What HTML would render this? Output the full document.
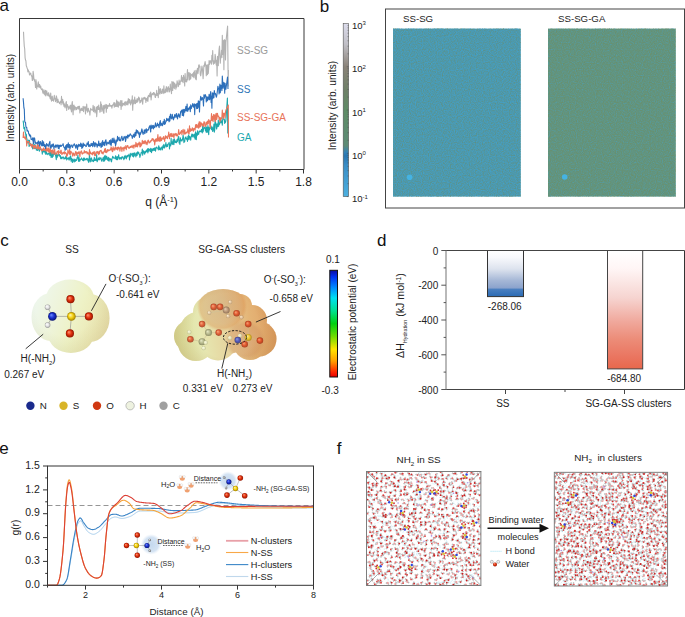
<!DOCTYPE html>
<html><head><meta charset="utf-8"><style>
html,body{margin:0;padding:0;background:#fff;}
svg{display:block;}
</style></head><body>
<svg width="685" height="617" viewBox="0 0 685 617" font-family="'Liberation Sans', sans-serif">
<text x="-0.6" y="10.8" font-size="17" fill="#111" text-anchor="start" >a</text>
<path d="M23.50,31.70 L23.90,40.30 L24.30,46.51 L24.70,48.75 L25.10,57.83 L25.50,59.98 L25.90,60.77 L26.30,65.70 L26.70,66.72 L27.10,68.11 L27.50,69.01 L27.90,71.94 L28.30,69.92 L28.70,71.95 L29.10,71.65 L29.50,75.00 L29.90,74.08 L30.30,73.76 L30.70,73.02 L31.10,74.92 L31.50,76.15 L31.90,75.94 L32.30,80.56 L32.70,80.37 L33.10,71.30 L33.50,74.04 L33.90,79.10 L34.30,79.05 L34.70,81.31 L35.10,81.92 L35.50,87.46 L35.90,79.66 L36.30,82.17 L36.70,89.06 L37.10,86.03 L37.50,86.67 L37.90,84.21 L38.30,81.87 L38.70,87.04 L39.10,87.28 L39.50,84.21 L39.90,86.02 L40.30,88.01 L40.70,86.14 L41.10,88.74 L41.50,89.65 L41.90,89.89 L42.30,88.88 L42.70,92.14 L43.10,93.32 L43.50,92.23 L43.90,89.67 L44.30,94.10 L44.70,91.21 L45.10,95.12 L45.50,90.37 L45.90,95.85 L46.30,93.74 L46.70,90.86 L47.10,93.61 L47.50,94.88 L47.90,95.77 L48.30,92.82 L48.70,92.82 L49.10,96.53 L49.50,95.12 L49.90,97.26 L50.30,98.94 L50.70,93.00 L51.10,98.26 L51.50,101.10 L51.90,97.36 L52.30,96.19 L52.70,100.43 L53.10,99.31 L53.50,101.15 L53.90,98.09 L54.30,95.31 L54.70,99.05 L55.10,98.35 L55.50,101.70 L55.90,100.36 L56.30,95.79 L56.70,97.09 L57.10,102.67 L57.50,102.31 L57.90,99.05 L58.30,100.89 L58.70,102.22 L59.10,102.45 L59.50,103.69 L59.90,102.25 L60.30,101.51 L60.70,101.25 L61.10,104.84 L61.50,96.42 L61.90,102.11 L62.30,102.84 L62.70,99.32 L63.10,104.17 L63.50,101.89 L63.90,106.11 L64.30,103.82 L64.70,106.17 L65.10,107.87 L65.50,105.98 L65.90,102.99 L66.30,101.61 L66.70,110.38 L67.10,105.81 L67.50,104.59 L67.90,107.04 L68.30,106.44 L68.70,109.44 L69.10,107.59 L69.50,107.60 L69.90,105.78 L70.30,108.92 L70.70,105.08 L71.10,109.57 L71.50,111.87 L71.90,104.01 L72.30,101.63 L72.70,109.71 L73.10,114.80 L73.50,105.64 L73.90,105.06 L74.30,109.91 L74.70,106.26 L75.10,107.20 L75.50,107.67 L75.90,110.03 L76.30,107.66 L76.70,109.50 L77.10,108.39 L77.50,106.72 L77.90,108.15 L78.30,106.55 L78.70,109.08 L79.10,106.17 L79.50,106.28 L79.90,112.95 L80.30,109.05 L80.70,109.08 L81.10,110.59 L81.50,108.20 L81.90,108.73 L82.30,110.46 L82.70,110.13 L83.10,106.41 L83.50,111.63 L83.90,107.96 L84.30,106.78 L84.70,107.22 L85.10,108.58 L85.50,113.86 L85.90,106.60 L86.30,110.11 L86.70,104.17 L87.10,109.75 L87.50,112.13 L87.90,109.21 L88.30,108.22 L88.70,110.49 L89.10,111.75 L89.50,111.68 L89.90,115.12 L90.30,110.51 L90.70,108.39 L91.10,109.56 L91.50,109.66 L91.90,110.09 L92.30,109.69 L92.70,110.18 L93.10,105.35 L93.50,111.81 L93.90,108.12 L94.30,106.52 L94.70,111.19 L95.10,112.92 L95.50,110.73 L95.90,109.83 L96.30,106.95 L96.70,116.80 L97.10,111.58 L97.50,106.29 L97.90,107.18 L98.30,109.40 L98.70,105.09 L99.10,109.53 L99.50,107.86 L99.90,112.20 L100.30,111.43 L100.70,101.78 L101.10,108.83 L101.50,104.42 L101.90,111.41 L102.30,108.86 L102.70,109.75 L103.10,105.46 L103.50,112.88 L103.90,113.28 L104.30,105.16 L104.70,108.79 L105.10,105.97 L105.50,107.56 L105.90,104.23 L106.30,112.28 L106.70,104.81 L107.10,106.46 L107.50,108.43 L107.90,105.34 L108.30,106.30 L108.70,105.36 L109.10,106.38 L109.50,103.58 L109.90,105.39 L110.30,105.91 L110.70,105.52 L111.10,106.46 L111.50,105.49 L111.90,108.14 L112.30,105.28 L112.70,105.69 L113.10,104.25 L113.50,104.55 L113.90,102.56 L114.30,107.13 L114.70,102.75 L115.10,103.71 L115.50,106.52 L115.90,106.56 L116.30,104.41 L116.70,100.13 L117.10,106.41 L117.50,105.92 L117.90,101.51 L118.30,107.12 L118.70,103.23 L119.10,102.06 L119.50,105.17 L119.90,104.39 L120.30,105.31 L120.70,100.54 L121.10,109.36 L121.50,103.02 L121.90,100.51 L122.30,106.06 L122.70,103.46 L123.10,105.16 L123.50,103.37 L123.90,104.03 L124.30,104.76 L124.70,102.11 L125.10,105.74 L125.50,102.65 L125.90,101.51 L126.30,103.88 L126.70,104.73 L127.10,102.88 L127.50,101.13 L127.90,104.89 L128.30,98.60 L128.70,100.39 L129.10,103.08 L129.50,99.34 L129.90,102.85 L130.30,102.53 L130.70,104.91 L131.10,100.10 L131.50,100.75 L131.90,103.14 L132.30,95.79 L132.70,110.14 L133.10,100.16 L133.50,99.98 L133.90,104.01 L134.30,101.57 L134.70,96.95 L135.10,103.11 L135.50,103.60 L135.90,100.11 L136.30,100.44 L136.70,102.34 L137.10,98.61 L137.50,102.01 L137.90,101.29 L138.30,98.92 L138.70,96.96 L139.10,99.89 L139.50,98.10 L139.90,102.88 L140.30,100.55 L140.70,102.11 L141.10,100.33 L141.50,100.56 L141.90,97.74 L142.30,101.41 L142.70,104.22 L143.10,98.67 L143.50,97.83 L143.90,98.86 L144.30,97.92 L144.70,97.25 L145.10,99.32 L145.50,98.02 L145.90,102.35 L146.30,98.43 L146.70,99.09 L147.10,100.55 L147.50,97.12 L147.90,101.46 L148.30,95.90 L148.70,95.27 L149.10,96.24 L149.50,96.72 L149.90,93.20 L150.30,96.58 L150.70,92.13 L151.10,99.97 L151.50,95.93 L151.90,94.27 L152.30,93.38 L152.70,94.59 L153.10,94.84 L153.50,92.46 L153.90,92.61 L154.30,94.40 L154.70,93.32 L155.10,97.11 L155.50,97.48 L155.90,94.25 L156.30,95.33 L156.70,90.18 L157.10,95.44 L157.50,93.42 L157.90,94.67 L158.30,97.61 L158.70,86.60 L159.10,93.53 L159.50,89.53 L159.90,94.12 L160.30,88.55 L160.70,90.68 L161.10,92.49 L161.50,93.49 L161.90,91.78 L162.30,89.11 L162.70,89.61 L163.10,93.60 L163.50,90.84 L163.90,85.78 L164.30,92.97 L164.70,91.55 L165.10,92.72 L165.50,88.99 L165.90,92.25 L166.30,86.48 L166.70,91.15 L167.10,87.81 L167.50,91.12 L167.90,91.94 L168.30,86.53 L168.70,88.42 L169.10,88.51 L169.50,91.84 L169.90,90.21 L170.30,84.09 L170.70,88.98 L171.10,89.63 L171.50,93.65 L171.90,81.67 L172.30,84.96 L172.70,90.53 L173.10,81.91 L173.50,82.15 L173.90,87.28 L174.30,88.62 L174.70,83.07 L175.10,86.65 L175.50,85.07 L175.90,89.29 L176.30,84.22 L176.70,87.15 L177.10,80.84 L177.50,82.90 L177.90,82.95 L178.30,86.71 L178.70,84.66 L179.10,80.09 L179.50,84.53 L179.90,84.58 L180.30,81.45 L180.70,80.73 L181.10,80.70 L181.50,75.49 L181.90,81.49 L182.30,81.40 L182.70,77.49 L183.10,82.62 L183.50,75.30 L183.90,77.80 L184.30,77.82 L184.70,85.90 L185.10,73.52 L185.50,80.61 L185.90,81.67 L186.30,79.51 L186.70,82.03 L187.10,74.30 L187.50,69.65 L187.90,79.91 L188.30,72.88 L188.70,75.65 L189.10,72.44 L189.50,79.97 L189.90,79.09 L190.30,73.27 L190.70,78.83 L191.10,75.78 L191.50,74.58 L191.90,75.08 L192.30,73.85 L192.70,76.76 L193.10,75.36 L193.50,72.51 L193.90,77.72 L194.30,70.92 L194.70,74.37 L195.10,74.70 L195.50,78.94 L195.90,70.19 L196.30,79.70 L196.70,72.59 L197.10,70.66 L197.50,68.20 L197.90,73.66 L198.30,70.92 L198.70,65.23 L199.10,64.77 L199.50,67.18 L199.90,66.28 L200.30,74.65 L200.70,75.85 L201.10,73.10 L201.50,70.27 L201.90,65.97 L202.30,68.17 L202.70,72.25 L203.10,78.63 L203.50,71.94 L203.90,65.25 L204.30,66.70 L204.70,63.55 L205.10,61.57 L205.50,64.61 L205.90,66.48 L206.30,75.63 L206.70,65.11 L207.10,72.47 L207.50,74.69 L207.90,64.44 L208.30,73.36 L208.70,67.75 L209.10,60.57 L209.50,64.49 L209.90,62.71 L210.30,60.83 L210.70,60.75 L211.10,62.66 L211.50,64.26 L211.90,55.38 L212.30,60.83 L212.70,50.47 L213.10,62.08 L213.50,64.28 L213.90,60.89 L214.30,61.46 L214.70,63.32 L215.10,54.24 L215.50,56.88 L215.90,61.88 L216.30,65.11 L216.70,60.42 L217.10,75.92 L217.50,56.18 L217.90,63.97 L218.30,65.69 L218.70,54.81 L219.10,49.22 L219.50,46.04 L219.90,56.06 L220.30,63.14 L220.70,56.26 L221.10,55.14 L221.50,50.39 L221.90,57.61 L222.30,35.41 L222.70,54.38 L223.10,52.41 L223.50,40.48 L223.90,69.79 L224.30,39.57 L224.70,41.82 L225.10,40.40 L225.50,59.94 L225.90,42.37 L227.60,26.00 L228.20,86.00 L228.40,70.00" fill="none" stroke="#b2b2b2" stroke-width="1.1" stroke-linejoin="round"/>
<path d="M23.10,120.56 L23.50,123.45 L23.90,128.51 L24.30,129.03 L24.70,127.47 L25.10,131.91 L25.50,132.73 L25.90,135.78 L26.30,134.33 L26.70,138.49 L27.10,139.68 L27.50,143.02 L27.90,141.87 L28.30,142.70 L28.70,140.01 L29.10,146.52 L29.50,140.37 L29.90,145.72 L30.30,143.95 L30.70,143.58 L31.10,144.46 L31.50,144.88 L31.90,146.77 L32.30,146.19 L32.70,148.95 L33.10,143.86 L33.50,146.99 L33.90,145.77 L34.30,148.65 L34.70,144.23 L35.10,147.28 L35.50,148.37 L35.90,145.87 L36.30,150.02 L36.70,148.88 L37.10,150.37 L37.50,150.45 L37.90,147.50 L38.30,147.95 L38.70,149.06 L39.10,150.74 L39.50,151.06 L39.90,148.72 L40.30,149.04 L40.70,148.89 L41.10,149.39 L41.50,150.10 L41.90,150.43 L42.30,154.09 L42.70,150.15 L43.10,150.65 L43.50,152.01 L43.90,149.90 L44.30,151.00 L44.70,151.77 L45.10,153.14 L45.50,149.95 L45.90,154.41 L46.30,151.81 L46.70,152.80 L47.10,154.04 L47.50,153.90 L47.90,154.70 L48.30,153.44 L48.70,153.27 L49.10,153.93 L49.50,151.96 L49.90,155.63 L50.30,152.57 L50.70,151.93 L51.10,157.36 L51.50,153.98 L51.90,152.44 L52.30,157.42 L52.70,154.06 L53.10,156.42 L53.50,153.52 L53.90,154.58 L54.30,152.40 L54.70,152.18 L55.10,153.80 L55.50,155.37 L55.90,156.90 L56.30,159.63 L56.70,154.23 L57.10,157.62 L57.50,155.17 L57.90,156.02 L58.30,153.98 L58.70,154.06 L59.10,155.25 L59.50,154.66 L59.90,156.63 L60.30,155.58 L60.70,158.78 L61.10,157.09 L61.50,157.18 L61.90,158.81 L62.30,157.89 L62.70,157.07 L63.10,157.05 L63.50,157.08 L63.90,159.06 L64.30,158.66 L64.70,158.07 L65.10,158.83 L65.50,156.75 L65.90,158.51 L66.30,155.50 L66.70,159.99 L67.10,158.05 L67.50,158.27 L67.90,159.01 L68.30,158.10 L68.70,157.78 L69.10,160.16 L69.50,158.51 L69.90,156.93 L70.30,159.17 L70.70,155.81 L71.10,161.26 L71.50,158.41 L71.90,158.83 L72.30,162.44 L72.70,162.34 L73.10,159.15 L73.50,160.04 L73.90,160.85 L74.30,161.87 L74.70,159.04 L75.10,159.52 L75.50,161.26 L75.90,159.73 L76.30,160.51 L76.70,160.28 L77.10,157.48 L77.50,157.93 L77.90,155.07 L78.30,158.88 L78.70,161.44 L79.10,157.53 L79.50,161.27 L79.90,160.90 L80.30,159.21 L80.70,159.29 L81.10,159.43 L81.50,157.92 L81.90,158.85 L82.30,159.23 L82.70,160.28 L83.10,160.57 L83.50,158.11 L83.90,160.62 L84.30,158.06 L84.70,159.03 L85.10,159.89 L85.50,159.26 L85.90,159.10 L86.30,159.73 L86.70,158.42 L87.10,158.26 L87.50,158.97 L87.90,160.84 L88.30,159.14 L88.70,162.35 L89.10,159.64 L89.50,154.54 L89.90,158.60 L90.30,161.96 L90.70,159.31 L91.10,158.60 L91.50,157.90 L91.90,161.42 L92.30,160.90 L92.70,160.38 L93.10,159.98 L93.50,161.61 L93.90,160.61 L94.30,157.33 L94.70,160.53 L95.10,159.57 L95.50,159.12 L95.90,160.52 L96.30,159.35 L96.70,154.61 L97.10,161.79 L97.50,160.96 L97.90,159.10 L98.30,158.70 L98.70,159.66 L99.10,157.24 L99.50,159.79 L99.90,158.93 L100.30,158.71 L100.70,157.76 L101.10,158.12 L101.50,160.94 L101.90,161.27 L102.30,159.90 L102.70,158.98 L103.10,157.62 L103.50,160.13 L103.90,161.53 L104.30,156.33 L104.70,160.76 L105.10,155.38 L105.50,158.26 L105.90,159.38 L106.30,156.55 L106.70,156.27 L107.10,158.96 L107.50,160.03 L107.90,157.83 L108.30,160.70 L108.70,157.27 L109.10,161.29 L109.50,158.64 L109.90,158.79 L110.30,159.36 L110.70,158.85 L111.10,161.25 L111.50,161.80 L111.90,159.10 L112.30,157.93 L112.70,156.28 L113.10,156.91 L113.50,158.10 L113.90,157.89 L114.30,157.94 L114.70,157.99 L115.10,158.73 L115.50,155.74 L115.90,156.23 L116.30,159.63 L116.70,159.14 L117.10,156.90 L117.50,159.80 L117.90,156.61 L118.30,157.25 L118.70,154.70 L119.10,158.94 L119.50,157.53 L119.90,159.22 L120.30,158.57 L120.70,157.51 L121.10,157.52 L121.50,159.09 L121.90,156.83 L122.30,156.77 L122.70,157.03 L123.10,158.13 L123.50,158.23 L123.90,159.74 L124.30,156.46 L124.70,158.53 L125.10,155.38 L125.50,157.31 L125.90,156.46 L126.30,158.95 L126.70,157.06 L127.10,155.29 L127.50,156.84 L127.90,156.39 L128.30,155.24 L128.70,155.19 L129.10,154.06 L129.50,159.90 L129.90,155.61 L130.30,156.87 L130.70,153.36 L131.10,153.40 L131.50,154.80 L131.90,154.72 L132.30,156.16 L132.70,153.18 L133.10,155.56 L133.50,157.03 L133.90,153.06 L134.30,155.89 L134.70,152.81 L135.10,154.81 L135.50,154.75 L135.90,156.86 L136.30,152.89 L136.70,154.18 L137.10,155.49 L137.50,151.86 L137.90,153.63 L138.30,152.16 L138.70,152.34 L139.10,154.47 L139.50,154.41 L139.90,157.33 L140.30,155.32 L140.70,155.09 L141.10,152.67 L141.50,152.37 L141.90,152.98 L142.30,149.03 L142.70,155.23 L143.10,151.42 L143.50,150.71 L143.90,151.58 L144.30,153.62 L144.70,154.12 L145.10,151.43 L145.50,152.61 L145.90,151.70 L146.30,150.07 L146.70,151.81 L147.10,151.46 L147.50,148.84 L147.90,152.94 L148.30,148.54 L148.70,151.31 L149.10,149.13 L149.50,149.39 L149.90,149.45 L150.30,151.58 L150.70,148.31 L151.10,149.90 L151.50,152.59 L151.90,148.84 L152.30,149.79 L152.70,150.80 L153.10,148.65 L153.50,150.26 L153.90,148.28 L154.30,150.39 L154.70,149.22 L155.10,147.45 L155.50,151.21 L155.90,148.60 L156.30,148.17 L156.70,146.97 L157.10,147.61 L157.50,148.11 L157.90,148.44 L158.30,149.88 L158.70,145.69 L159.10,147.20 L159.50,149.70 L159.90,147.86 L160.30,148.13 L160.70,150.03 L161.10,147.77 L161.50,147.87 L161.90,146.88 L162.30,149.88 L162.70,148.53 L163.10,145.34 L163.50,147.42 L163.90,144.35 L164.30,148.12 L164.70,147.28 L165.10,145.71 L165.50,145.16 L165.90,142.59 L166.30,146.97 L166.70,145.29 L167.10,144.83 L167.50,146.54 L167.90,143.96 L168.30,143.97 L168.70,143.65 L169.10,142.35 L169.50,148.98 L169.90,144.18 L170.30,143.76 L170.70,145.88 L171.10,138.40 L171.50,143.91 L171.90,143.84 L172.30,141.90 L172.70,144.37 L173.10,139.67 L173.50,143.24 L173.90,144.69 L174.30,138.81 L174.70,140.07 L175.10,142.29 L175.50,142.38 L175.90,141.04 L176.30,142.76 L176.70,142.37 L177.10,139.23 L177.50,141.41 L177.90,139.04 L178.30,137.37 L178.70,136.57 L179.10,142.91 L179.50,140.57 L179.90,144.38 L180.30,137.73 L180.70,139.69 L181.10,140.87 L181.50,139.80 L181.90,140.89 L182.30,140.07 L182.70,138.47 L183.10,135.01 L183.50,137.54 L183.90,142.58 L184.30,140.59 L184.70,141.65 L185.10,137.69 L185.50,138.32 L185.90,136.84 L186.30,139.19 L186.70,138.41 L187.10,139.04 L187.50,141.49 L187.90,136.22 L188.30,139.20 L188.70,134.81 L189.10,139.65 L189.50,136.43 L189.90,137.03 L190.30,137.30 L190.70,140.23 L191.10,136.67 L191.50,135.57 L191.90,133.98 L192.30,136.89 L192.70,134.35 L193.10,134.94 L193.50,135.82 L193.90,137.19 L194.30,134.01 L194.70,136.92 L195.10,139.23 L195.50,131.74 L195.90,137.98 L196.30,139.61 L196.70,133.14 L197.10,135.73 L197.50,130.90 L197.90,134.71 L198.30,132.95 L198.70,134.25 L199.10,131.11 L199.50,131.13 L199.90,131.83 L200.30,130.97 L200.70,130.98 L201.10,131.81 L201.50,129.32 L201.90,131.54 L202.30,132.94 L202.70,125.56 L203.10,131.82 L203.50,129.16 L203.90,127.96 L204.30,127.14 L204.70,128.23 L205.10,128.29 L205.50,131.01 L205.90,126.45 L206.30,132.53 L206.70,127.23 L207.10,131.19 L207.50,132.14 L207.90,125.48 L208.30,131.76 L208.70,134.78 L209.10,127.14 L209.50,129.92 L209.90,127.71 L210.30,128.16 L210.70,127.19 L211.10,126.09 L211.50,129.56 L211.90,129.88 L212.30,127.06 L212.70,131.48 L213.10,130.03 L213.50,128.69 L213.90,124.12 L214.30,132.09 L214.70,130.12 L215.10,119.01 L215.50,122.09 L215.90,123.89 L216.30,128.25 L216.70,129.07 L217.10,123.92 L217.50,125.48 L217.90,126.78 L218.30,120.07 L218.70,126.08 L219.10,122.89 L219.50,124.35 L219.90,123.37 L220.30,119.18 L220.70,119.43 L221.10,122.63 L221.50,122.57 L221.90,120.84 L222.30,125.13 L222.70,119.76 L223.10,116.33 L223.50,119.06 L223.90,119.29 L224.30,119.08 L224.70,123.42 L225.10,120.69 L225.50,122.33 L225.90,120.40 L227.40,98.00 L227.80,133.50" fill="none" stroke="#1ea8ad" stroke-width="1.1" stroke-linejoin="round"/>
<path d="M23.10,138.06 L23.50,132.07 L23.90,137.43 L24.30,136.85 L24.70,137.92 L25.10,138.77 L25.50,136.56 L25.90,139.73 L26.30,139.28 L26.70,146.05 L27.10,141.90 L27.50,141.52 L27.90,142.01 L28.30,141.69 L28.70,141.37 L29.10,142.62 L29.50,144.19 L29.90,143.37 L30.30,145.42 L30.70,143.95 L31.10,144.54 L31.50,147.07 L31.90,145.77 L32.30,144.39 L32.70,145.08 L33.10,146.36 L33.50,148.65 L33.90,145.55 L34.30,145.78 L34.70,147.85 L35.10,145.22 L35.50,146.31 L35.90,148.27 L36.30,148.00 L36.70,147.39 L37.10,148.38 L37.50,143.25 L37.90,149.15 L38.30,146.30 L38.70,145.36 L39.10,148.39 L39.50,149.15 L39.90,147.55 L40.30,146.73 L40.70,148.50 L41.10,148.51 L41.50,150.82 L41.90,149.95 L42.30,149.24 L42.70,150.74 L43.10,148.88 L43.50,147.93 L43.90,150.31 L44.30,150.43 L44.70,149.36 L45.10,148.62 L45.50,150.26 L45.90,146.30 L46.30,151.20 L46.70,151.02 L47.10,147.95 L47.50,150.62 L47.90,149.20 L48.30,151.91 L48.70,147.80 L49.10,149.56 L49.50,152.07 L49.90,152.82 L50.30,147.92 L50.70,150.48 L51.10,151.80 L51.50,150.47 L51.90,153.84 L52.30,149.74 L52.70,152.14 L53.10,150.11 L53.50,153.87 L53.90,151.80 L54.30,151.35 L54.70,149.40 L55.10,154.58 L55.50,153.26 L55.90,153.34 L56.30,153.99 L56.70,152.88 L57.10,151.47 L57.50,151.31 L57.90,151.38 L58.30,154.67 L58.70,150.43 L59.10,151.74 L59.50,152.17 L59.90,153.00 L60.30,153.54 L60.70,150.82 L61.10,150.11 L61.50,152.72 L61.90,154.56 L62.30,153.89 L62.70,153.09 L63.10,152.30 L63.50,153.23 L63.90,152.44 L64.30,154.05 L64.70,151.64 L65.10,153.05 L65.50,152.70 L65.90,153.69 L66.30,153.23 L66.70,156.73 L67.10,155.17 L67.50,155.18 L67.90,149.89 L68.30,152.45 L68.70,152.06 L69.10,153.79 L69.50,149.59 L69.90,154.78 L70.30,154.63 L70.70,151.10 L71.10,151.59 L71.50,151.87 L71.90,153.16 L72.30,154.07 L72.70,156.19 L73.10,152.84 L73.50,154.30 L73.90,153.39 L74.30,155.82 L74.70,154.30 L75.10,155.25 L75.50,151.56 L75.90,152.88 L76.30,151.93 L76.70,155.39 L77.10,154.10 L77.50,152.64 L77.90,152.41 L78.30,153.79 L78.70,152.00 L79.10,151.64 L79.50,153.74 L79.90,156.70 L80.30,152.62 L80.70,152.14 L81.10,151.20 L81.50,150.94 L81.90,153.71 L82.30,154.18 L82.70,152.91 L83.10,153.37 L83.50,153.03 L83.90,153.05 L84.30,150.54 L84.70,152.12 L85.10,152.96 L85.50,151.61 L85.90,152.05 L86.30,151.52 L86.70,152.23 L87.10,154.00 L87.50,152.09 L87.90,152.45 L88.30,153.89 L88.70,153.62 L89.10,155.18 L89.50,149.48 L89.90,153.89 L90.30,151.86 L90.70,152.77 L91.10,153.81 L91.50,154.16 L91.90,154.08 L92.30,152.74 L92.70,154.91 L93.10,152.05 L93.50,152.25 L93.90,153.64 L94.30,151.60 L94.70,155.65 L95.10,153.92 L95.50,155.64 L95.90,152.32 L96.30,151.77 L96.70,152.58 L97.10,153.42 L97.50,151.42 L97.90,152.85 L98.30,152.24 L98.70,154.68 L99.10,151.24 L99.50,153.79 L99.90,151.24 L100.30,150.70 L100.70,151.01 L101.10,150.21 L101.50,152.14 L101.90,153.40 L102.30,152.02 L102.70,152.64 L103.10,154.07 L103.50,151.96 L103.90,151.77 L104.30,150.99 L104.70,148.92 L105.10,152.40 L105.50,148.55 L105.90,152.09 L106.30,151.01 L106.70,152.65 L107.10,150.78 L107.50,149.58 L107.90,151.28 L108.30,149.82 L108.70,150.32 L109.10,150.58 L109.50,150.24 L109.90,150.09 L110.30,149.05 L110.70,149.94 L111.10,146.94 L111.50,149.84 L111.90,148.20 L112.30,151.60 L112.70,151.76 L113.10,146.85 L113.50,149.92 L113.90,149.44 L114.30,147.98 L114.70,150.28 L115.10,148.71 L115.50,146.68 L115.90,148.86 L116.30,148.96 L116.70,149.27 L117.10,147.19 L117.50,149.89 L117.90,149.99 L118.30,147.10 L118.70,147.75 L119.10,148.55 L119.50,147.74 L119.90,151.13 L120.30,148.75 L120.70,146.83 L121.10,147.08 L121.50,148.08 L121.90,151.53 L122.30,147.73 L122.70,148.10 L123.10,148.59 L123.50,147.67 L123.90,151.06 L124.30,146.76 L124.70,148.58 L125.10,147.62 L125.50,148.22 L125.90,145.44 L126.30,149.77 L126.70,146.84 L127.10,146.99 L127.50,145.45 L127.90,145.67 L128.30,147.52 L128.70,148.07 L129.10,147.63 L129.50,148.22 L129.90,147.39 L130.30,146.28 L130.70,147.40 L131.10,146.95 L131.50,145.82 L131.90,146.97 L132.30,147.72 L132.70,146.06 L133.10,145.08 L133.50,146.61 L133.90,148.29 L134.30,145.04 L134.70,145.13 L135.10,144.97 L135.50,146.92 L135.90,142.25 L136.30,145.46 L136.70,146.61 L137.10,143.52 L137.50,146.88 L137.90,145.36 L138.30,143.65 L138.70,144.69 L139.10,142.00 L139.50,143.36 L139.90,146.86 L140.30,142.69 L140.70,146.71 L141.10,143.74 L141.50,145.26 L141.90,143.75 L142.30,140.23 L142.70,142.65 L143.10,143.70 L143.50,141.60 L143.90,141.22 L144.30,143.70 L144.70,142.09 L145.10,140.43 L145.50,141.83 L145.90,144.04 L146.30,141.93 L146.70,143.93 L147.10,144.70 L147.50,142.35 L147.90,140.49 L148.30,140.12 L148.70,141.92 L149.10,143.17 L149.50,142.14 L149.90,142.45 L150.30,140.85 L150.70,141.86 L151.10,140.58 L151.50,140.69 L151.90,139.10 L152.30,138.55 L152.70,140.10 L153.10,139.03 L153.50,139.14 L153.90,141.55 L154.30,140.23 L154.70,144.83 L155.10,141.62 L155.50,139.07 L155.90,141.17 L156.30,140.40 L156.70,138.64 L157.10,141.36 L157.50,138.26 L157.90,134.50 L158.30,140.55 L158.70,138.17 L159.10,141.45 L159.50,137.89 L159.90,136.91 L160.30,141.24 L160.70,136.85 L161.10,138.83 L161.50,140.76 L161.90,138.46 L162.30,138.02 L162.70,138.21 L163.10,139.33 L163.50,136.47 L163.90,138.73 L164.30,138.56 L164.70,141.41 L165.10,136.80 L165.50,135.71 L165.90,138.40 L166.30,136.36 L166.70,137.42 L167.10,137.04 L167.50,138.71 L167.90,135.46 L168.30,136.32 L168.70,131.94 L169.10,134.70 L169.50,138.82 L169.90,134.84 L170.30,134.67 L170.70,133.63 L171.10,136.67 L171.50,135.83 L171.90,133.29 L172.30,136.45 L172.70,135.60 L173.10,136.36 L173.50,133.73 L173.90,137.88 L174.30,135.36 L174.70,134.28 L175.10,133.43 L175.50,133.79 L175.90,135.68 L176.30,133.49 L176.70,135.83 L177.10,134.80 L177.50,136.08 L177.90,134.98 L178.30,133.23 L178.70,129.67 L179.10,133.64 L179.50,134.43 L179.90,133.14 L180.30,133.75 L180.70,131.69 L181.10,131.73 L181.50,130.54 L181.90,134.78 L182.30,132.37 L182.70,131.00 L183.10,129.26 L183.50,131.39 L183.90,134.33 L184.30,132.31 L184.70,129.89 L185.10,133.94 L185.50,133.82 L185.90,132.82 L186.30,132.33 L186.70,132.92 L187.10,131.59 L187.50,131.93 L187.90,128.73 L188.30,133.11 L188.70,130.47 L189.10,133.91 L189.50,125.69 L189.90,131.04 L190.30,131.48 L190.70,128.68 L191.10,130.17 L191.50,130.66 L191.90,130.19 L192.30,127.74 L192.70,128.44 L193.10,130.77 L193.50,131.21 L193.90,128.57 L194.30,128.39 L194.70,128.53 L195.10,130.24 L195.50,125.42 L195.90,124.60 L196.30,127.66 L196.70,124.67 L197.10,125.65 L197.50,127.00 L197.90,127.73 L198.30,123.92 L198.70,128.11 L199.10,121.84 L199.50,127.14 L199.90,121.87 L200.30,122.38 L200.70,126.82 L201.10,124.08 L201.50,122.92 L201.90,123.59 L202.30,125.65 L202.70,124.17 L203.10,124.04 L203.50,126.60 L203.90,121.90 L204.30,122.32 L204.70,121.99 L205.10,126.20 L205.50,125.56 L205.90,126.16 L206.30,122.49 L206.70,121.97 L207.10,124.48 L207.50,120.94 L207.90,124.06 L208.30,123.59 L208.70,119.51 L209.10,121.00 L209.50,120.71 L209.90,125.69 L210.30,127.94 L210.70,120.18 L211.10,120.31 L211.50,113.54 L211.90,120.50 L212.30,119.68 L212.70,116.37 L213.10,121.62 L213.50,114.49 L213.90,118.29 L214.30,119.15 L214.70,114.79 L215.10,120.95 L215.50,121.37 L215.90,113.72 L216.30,113.44 L216.70,119.45 L217.10,117.30 L217.50,113.40 L217.90,116.08 L218.30,116.48 L218.70,116.17 L219.10,119.08 L219.50,117.48 L219.90,121.78 L220.30,120.23 L220.70,117.64 L221.10,118.63 L221.50,119.13 L221.90,116.77 L222.30,109.98 L222.70,116.64 L223.10,113.66 L223.50,118.59 L223.90,113.07 L224.30,114.22 L224.70,113.22 L225.10,117.59 L225.50,112.03 L225.90,110.14 L228.30,105.00 L228.50,137.50" fill="none" stroke="#e9765c" stroke-width="1.1" stroke-linejoin="round"/>
<path d="M23.10,98.22 L23.50,102.39 L23.90,107.95 L24.30,109.28 L24.70,121.06 L25.10,122.41 L25.50,122.37 L25.90,126.70 L26.30,127.41 L26.70,127.24 L27.10,131.09 L27.50,130.15 L27.90,131.14 L28.30,131.14 L28.70,134.05 L29.10,133.89 L29.50,135.78 L29.90,134.61 L30.30,136.65 L30.70,135.70 L31.10,139.44 L31.50,139.00 L31.90,139.55 L32.30,139.99 L32.70,137.88 L33.10,141.24 L33.50,143.72 L33.90,137.74 L34.30,137.90 L34.70,138.59 L35.10,142.88 L35.50,141.98 L35.90,143.90 L36.30,143.55 L36.70,142.78 L37.10,143.00 L37.50,142.33 L37.90,144.19 L38.30,140.90 L38.70,142.20 L39.10,143.43 L39.50,146.17 L39.90,141.91 L40.30,141.47 L40.70,142.45 L41.10,145.15 L41.50,143.20 L41.90,145.95 L42.30,140.62 L42.70,145.82 L43.10,145.76 L43.50,141.68 L43.90,144.45 L44.30,146.36 L44.70,144.54 L45.10,146.19 L45.50,148.62 L45.90,145.15 L46.30,144.31 L46.70,143.57 L47.10,146.08 L47.50,144.74 L47.90,144.87 L48.30,145.10 L48.70,146.44 L49.10,143.57 L49.50,142.84 L49.90,141.35 L50.30,147.58 L50.70,145.71 L51.10,148.20 L51.50,145.67 L51.90,144.48 L52.30,146.60 L52.70,145.71 L53.10,143.76 L53.50,144.43 L53.90,148.99 L54.30,146.64 L54.70,146.80 L55.10,145.67 L55.50,145.01 L55.90,147.75 L56.30,146.11 L56.70,145.05 L57.10,146.16 L57.50,144.90 L57.90,146.81 L58.30,148.41 L58.70,145.06 L59.10,148.90 L59.50,145.32 L59.90,146.70 L60.30,145.01 L60.70,146.04 L61.10,146.49 L61.50,145.66 L61.90,145.19 L62.30,145.22 L62.70,144.97 L63.10,143.68 L63.50,145.89 L63.90,147.01 L64.30,147.86 L64.70,147.40 L65.10,150.47 L65.50,146.82 L65.90,145.49 L66.30,149.44 L66.70,144.46 L67.10,147.88 L67.50,144.60 L67.90,146.81 L68.30,142.85 L68.70,147.71 L69.10,145.90 L69.50,144.52 L69.90,149.00 L70.30,147.44 L70.70,146.20 L71.10,144.85 L71.50,146.03 L71.90,145.81 L72.30,147.31 L72.70,147.42 L73.10,144.92 L73.50,145.11 L73.90,145.13 L74.30,143.73 L74.70,145.00 L75.10,145.84 L75.50,147.14 L75.90,148.19 L76.30,144.55 L76.70,146.83 L77.10,145.12 L77.50,149.38 L77.90,145.74 L78.30,146.66 L78.70,144.19 L79.10,144.38 L79.50,146.07 L79.90,145.05 L80.30,146.28 L80.70,143.00 L81.10,146.76 L81.50,144.08 L81.90,148.51 L82.30,145.07 L82.70,147.40 L83.10,143.14 L83.50,146.22 L83.90,143.96 L84.30,144.61 L84.70,145.46 L85.10,144.85 L85.50,145.82 L85.90,146.62 L86.30,146.43 L86.70,145.15 L87.10,142.96 L87.50,143.88 L87.90,144.89 L88.30,141.59 L88.70,146.46 L89.10,144.75 L89.50,144.70 L89.90,146.72 L90.30,146.22 L90.70,145.43 L91.10,143.33 L91.50,145.54 L91.90,145.57 L92.30,143.46 L92.70,146.71 L93.10,145.78 L93.50,141.54 L93.90,145.07 L94.30,142.69 L94.70,146.75 L95.10,146.17 L95.50,142.89 L95.90,143.24 L96.30,144.90 L96.70,144.29 L97.10,147.27 L97.50,145.91 L97.90,144.15 L98.30,145.58 L98.70,141.12 L99.10,145.08 L99.50,146.00 L99.90,144.20 L100.30,143.22 L100.70,145.29 L101.10,147.57 L101.50,144.49 L101.90,142.14 L102.30,146.41 L102.70,140.66 L103.10,144.61 L103.50,142.67 L103.90,145.15 L104.30,142.02 L104.70,145.62 L105.10,143.79 L105.50,140.24 L105.90,139.73 L106.30,142.45 L106.70,145.09 L107.10,143.01 L107.50,142.81 L107.90,142.20 L108.30,143.76 L108.70,143.05 L109.10,142.79 L109.50,140.55 L109.90,144.14 L110.30,144.35 L110.70,139.72 L111.10,145.75 L111.50,142.97 L111.90,140.81 L112.30,138.31 L112.70,142.57 L113.10,142.30 L113.50,140.25 L113.90,138.12 L114.30,142.98 L114.70,139.97 L115.10,140.07 L115.50,145.62 L115.90,144.30 L116.30,142.21 L116.70,139.72 L117.10,141.50 L117.50,136.42 L117.90,140.39 L118.30,138.82 L118.70,137.83 L119.10,137.23 L119.50,140.71 L119.90,139.88 L120.30,139.90 L120.70,140.96 L121.10,138.00 L121.50,137.24 L121.90,136.22 L122.30,138.58 L122.70,140.34 L123.10,138.70 L123.50,139.95 L123.90,136.76 L124.30,137.87 L124.70,137.27 L125.10,136.34 L125.50,141.47 L125.90,139.61 L126.30,136.72 L126.70,136.56 L127.10,137.62 L127.50,135.11 L127.90,138.15 L128.30,135.06 L128.70,136.48 L129.10,135.22 L129.50,136.00 L129.90,134.40 L130.30,133.84 L130.70,134.72 L131.10,135.06 L131.50,135.56 L131.90,136.03 L132.30,138.36 L132.70,136.99 L133.10,135.03 L133.50,136.55 L133.90,133.99 L134.30,137.47 L134.70,135.80 L135.10,132.41 L135.50,135.85 L135.90,135.80 L136.30,129.70 L136.70,132.84 L137.10,133.16 L137.50,130.53 L137.90,131.85 L138.30,131.90 L138.70,134.22 L139.10,133.72 L139.50,137.53 L139.90,132.24 L140.30,134.72 L140.70,132.75 L141.10,132.92 L141.50,130.34 L141.90,128.91 L142.30,130.71 L142.70,133.16 L143.10,134.40 L143.50,132.59 L143.90,132.26 L144.30,129.84 L144.70,133.72 L145.10,133.24 L145.50,129.86 L145.90,130.49 L146.30,128.68 L146.70,132.68 L147.10,130.68 L147.50,129.64 L147.90,130.30 L148.30,130.17 L148.70,128.52 L149.10,126.92 L149.50,126.66 L149.90,125.69 L150.30,129.24 L150.70,132.06 L151.10,125.15 L151.50,128.12 L151.90,128.40 L152.30,125.78 L152.70,127.66 L153.10,125.19 L153.50,129.03 L153.90,125.68 L154.30,126.71 L154.70,127.56 L155.10,125.38 L155.50,122.74 L155.90,124.81 L156.30,126.96 L156.70,125.23 L157.10,125.61 L157.50,123.02 L157.90,125.07 L158.30,125.96 L158.70,124.49 L159.10,127.78 L159.50,123.65 L159.90,121.90 L160.30,120.61 L160.70,125.64 L161.10,123.16 L161.50,125.00 L161.90,123.76 L162.30,125.81 L162.70,124.94 L163.10,121.58 L163.50,122.65 L163.90,124.04 L164.30,119.33 L164.70,124.38 L165.10,123.73 L165.50,123.10 L165.90,120.57 L166.30,121.38 L166.70,118.36 L167.10,120.51 L167.50,119.02 L167.90,120.18 L168.30,118.82 L168.70,120.20 L169.10,121.83 L169.50,116.57 L169.90,120.94 L170.30,114.75 L170.70,114.18 L171.10,118.18 L171.50,118.23 L171.90,118.93 L172.30,114.36 L172.70,117.47 L173.10,117.65 L173.50,119.83 L173.90,116.75 L174.30,117.89 L174.70,114.47 L175.10,115.95 L175.50,115.18 L175.90,117.45 L176.30,113.59 L176.70,113.71 L177.10,116.56 L177.50,119.00 L177.90,115.73 L178.30,115.35 L178.70,113.71 L179.10,116.67 L179.50,115.26 L179.90,117.71 L180.30,114.38 L180.70,111.31 L181.10,111.95 L181.50,110.80 L181.90,109.99 L182.30,115.47 L182.70,114.23 L183.10,109.36 L183.50,116.05 L183.90,112.33 L184.30,109.36 L184.70,112.25 L185.10,110.99 L185.50,109.15 L185.90,106.21 L186.30,110.61 L186.70,111.00 L187.10,104.05 L187.50,111.21 L187.90,111.15 L188.30,108.37 L188.70,109.54 L189.10,108.40 L189.50,106.86 L189.90,107.79 L190.30,111.72 L190.70,104.68 L191.10,108.62 L191.50,108.28 L191.90,105.81 L192.30,106.27 L192.70,103.54 L193.10,104.74 L193.50,106.82 L193.90,107.45 L194.30,103.91 L194.70,114.60 L195.10,104.35 L195.50,106.06 L195.90,104.80 L196.30,104.07 L196.70,108.78 L197.10,103.33 L197.50,108.48 L197.90,107.70 L198.30,100.84 L198.70,106.96 L199.10,101.52 L199.50,111.88 L199.90,101.84 L200.30,99.81 L200.70,96.41 L201.10,98.12 L201.50,100.19 L201.90,98.54 L202.30,97.50 L202.70,99.03 L203.10,100.43 L203.50,105.89 L203.90,94.74 L204.30,98.48 L204.70,96.80 L205.10,94.53 L205.50,95.14 L205.90,96.17 L206.30,101.85 L206.70,98.26 L207.10,96.74 L207.50,100.80 L207.90,99.32 L208.30,97.17 L208.70,99.26 L209.10,94.33 L209.50,99.75 L209.90,98.90 L210.30,95.15 L210.70,91.62 L211.10,102.38 L211.50,96.33 L211.90,108.22 L212.30,92.68 L212.70,98.68 L213.10,93.00 L213.50,95.63 L213.90,97.84 L214.30,90.54 L214.70,93.27 L215.10,94.14 L215.50,93.65 L215.90,95.53 L216.30,97.20 L216.70,96.08 L217.10,93.23 L217.50,90.15 L217.90,86.24 L218.30,87.76 L218.70,88.43 L219.10,93.86 L219.50,88.62 L219.90,84.10 L220.30,92.78 L220.70,85.50 L221.10,85.33 L221.50,87.63 L221.90,90.77 L222.30,76.00 L222.70,82.09 L223.10,88.31 L223.50,85.22 L223.90,82.30 L224.30,83.61 L224.70,93.31 L225.10,83.36 L225.50,89.18 L225.90,89.30 L227.50,77.00 L228.00,89.00" fill="none" stroke="#2c6fba" stroke-width="1.1" stroke-linejoin="round"/>
<path d="M19.5,169.5V18.5H304V169.5H19.5Z" fill="none" stroke="#383838" stroke-width="1"/>
<line x1="19.5" y1="169.5" x2="19.5" y2="173.5" stroke="#333" stroke-width="1"/>
<text x="19.5" y="185.8" font-size="12" fill="#222" text-anchor="middle" >0.0</text>
<line x1="66.83333333333334" y1="169.5" x2="66.83333333333334" y2="173.5" stroke="#333" stroke-width="1"/>
<text x="66.8" y="185.8" font-size="12" fill="#222" text-anchor="middle" >0.3</text>
<line x1="114.16666666666667" y1="169.5" x2="114.16666666666667" y2="173.5" stroke="#333" stroke-width="1"/>
<text x="114.2" y="185.8" font-size="12" fill="#222" text-anchor="middle" >0.6</text>
<line x1="161.5" y1="169.5" x2="161.5" y2="173.5" stroke="#333" stroke-width="1"/>
<text x="161.5" y="185.8" font-size="12" fill="#222" text-anchor="middle" >0.9</text>
<line x1="208.83333333333334" y1="169.5" x2="208.83333333333334" y2="173.5" stroke="#333" stroke-width="1"/>
<text x="208.8" y="185.8" font-size="12" fill="#222" text-anchor="middle" >1.2</text>
<line x1="256.1666666666667" y1="169.5" x2="256.1666666666667" y2="173.5" stroke="#333" stroke-width="1"/>
<text x="256.2" y="185.8" font-size="12" fill="#222" text-anchor="middle" >1.5</text>
<line x1="303.5" y1="169.5" x2="303.5" y2="173.5" stroke="#333" stroke-width="1"/>
<text x="303.5" y="185.8" font-size="12" fill="#222" text-anchor="middle" >1.8</text>
<line x1="43.16666666666667" y1="169.5" x2="43.16666666666667" y2="171.5" stroke="#333" stroke-width="1"/>
<line x1="90.5" y1="169.5" x2="90.5" y2="171.5" stroke="#333" stroke-width="1"/>
<line x1="137.83333333333334" y1="169.5" x2="137.83333333333334" y2="171.5" stroke="#333" stroke-width="1"/>
<line x1="185.16666666666669" y1="169.5" x2="185.16666666666669" y2="171.5" stroke="#333" stroke-width="1"/>
<line x1="232.5" y1="169.5" x2="232.5" y2="171.5" stroke="#333" stroke-width="1"/>
<line x1="279.83333333333337" y1="169.5" x2="279.83333333333337" y2="171.5" stroke="#333" stroke-width="1"/>
<text x="161.5" y="206" font-size="12" fill="#222" text-anchor="middle">q (Å<tspan dy="-4" font-size="7.5">-1</tspan><tspan dy="4">)</tspan></text>
<text transform="translate(14.3,97.8) rotate(-90)" font-size="10" fill="#222" text-anchor="middle">Intensity (arb. units)</text>
<text x="237" y="53.5" font-size="10" fill="#9a9a9a" text-anchor="start" >SS-SG</text>
<text x="237" y="92.6" font-size="10" fill="#2e75b6" text-anchor="start" >SS</text>
<text x="237" y="121.2" font-size="10" fill="#e8735a" text-anchor="start" >SS-SG-GA</text>
<text x="237" y="140.6" font-size="10" fill="#1aa9b0" text-anchor="start" >GA</text>
<text x="319.8" y="12.2" font-size="17" fill="#111" text-anchor="start" >b</text>
<rect x="385.5" y="9" width="299" height="199" fill="none" stroke="#444" stroke-width="1"/>
<defs><linearGradient id="cbb" x1="0" y1="0" x2="0" y2="1">
<stop offset="0" stop-color="#dcdcec"/>
<stop offset="0.12" stop-color="#c0bfc6"/>
<stop offset="0.25" stop-color="#8a8278"/>
<stop offset="0.38" stop-color="#6f8068"/>
<stop offset="0.5" stop-color="#5f8c66"/>
<stop offset="0.705" stop-color="#5d8b76"/>
<stop offset="0.745" stop-color="#3282b8"/>
<stop offset="0.765" stop-color="#2a76b0"/>
<stop offset="0.82" stop-color="#3a8ec6"/>
<stop offset="1" stop-color="#4cb0e0"/>
</linearGradient></defs>
<rect x="343.2" y="23.6" width="5.4" height="173" fill="url(#cbb)" stroke="#555" stroke-width="0.6"/>
<path d="M348.6 196.6h-1.8M348.6 183.6h-1.1M348.6 176.0h-1.1M348.6 170.6h-1.1M348.6 166.4h-1.1M348.6 162.9h-1.1M348.6 160.0h-1.1M348.6 157.5h-1.1M348.6 155.3h-1.1M348.6 153.3h-1.8M348.6 140.3h-1.1M348.6 132.7h-1.1M348.6 127.3h-1.1M348.6 123.1h-1.1M348.6 119.7h-1.1M348.6 116.8h-1.1M348.6 114.3h-1.1M348.6 112.1h-1.1M348.6 110.1h-1.8M348.6 97.1h-1.1M348.6 89.5h-1.1M348.6 84.1h-1.1M348.6 79.9h-1.1M348.6 76.4h-1.1M348.6 73.5h-1.1M348.6 71.0h-1.1M348.6 68.8h-1.1M348.6 66.8h-1.8M348.6 53.8h-1.1M348.6 46.2h-1.1M348.6 40.8h-1.1M348.6 36.6h-1.1M348.6 33.2h-1.1M348.6 30.3h-1.1M348.6 27.8h-1.1M348.6 25.6h-1.1" stroke="#444" stroke-width="0.5" fill="none"/>
<text x="352" y="28.9" font-size="9.5" fill="#222">10<tspan dy="-3.5" font-size="6">3</tspan></text>
<text x="352" y="72.2" font-size="9.5" fill="#222">10<tspan dy="-3.5" font-size="6">2</tspan></text>
<text x="352" y="115.5" font-size="9.5" fill="#222">10<tspan dy="-3.5" font-size="6">1</tspan></text>
<text x="352" y="158.8" font-size="9.5" fill="#222">10<tspan dy="-3.5" font-size="6">0</tspan></text>
<text x="352" y="202.1" font-size="9.5" fill="#222">10<tspan dy="-3.5" font-size="6">-1</tspan></text>
<text transform="translate(335.7,105.6) rotate(-90)" font-size="10.2" fill="#222" text-anchor="middle">Intensity (arb. units)</text>
<defs>
<filter id="nzA" x="0" y="0" width="100%" height="100%" color-interpolation-filters="sRGB"><feTurbulence type="fractalNoise" baseFrequency="0.85" numOctaves="1" seed="3"/><feColorMatrix type="matrix" values="0 0 0 0 0.25  0 0 0 0 0.66  0 0 0 0 0.86  2.6 0 0 0 -1.05"/></filter>
<filter id="nzB" x="0" y="0" width="100%" height="100%" color-interpolation-filters="sRGB"><feTurbulence type="fractalNoise" baseFrequency="0.85" numOctaves="1" seed="9"/><feColorMatrix type="matrix" values="0 0 0 0 0.44  0 0 0 0 0.53  0 0 0 0 0.34  2.6 0 0 0 -1.05"/></filter>
</defs>
<rect x="393" y="28.6" width="127.8" height="168" fill="#4a9ab4"/>
<rect x="393" y="28.6" width="127.8" height="168" filter="url(#nzA)" opacity="0.5"/>
<rect x="393" y="28.6" width="127.8" height="168" filter="url(#nzB)" opacity="0.5"/>
<rect x="548" y="28.6" width="127.8" height="168" fill="#64947b"/>
<rect x="548" y="28.6" width="127.8" height="168" filter="url(#nzA)" opacity="0.4"/>
<rect x="548" y="28.6" width="127.8" height="168" filter="url(#nzB)" opacity="0.4"/>
<circle cx="409.6" cy="177.2" r="2.8" fill="#45b3e3"/>
<circle cx="564.7" cy="177" r="2.8" fill="#45b3e3"/>
<text x="403" y="22.1" font-size="9.7" fill="#222" text-anchor="start" >SS-SG</text>
<text x="558" y="22.1" font-size="9.7" fill="#222" text-anchor="start" >SS-SG-GA</text>
<defs><radialGradient id="gO" cx="0.5" cy="0.5" r="0.5" fx="0.35" fy="0.32"><stop offset="0" stop-color="#ff9a78"/><stop offset="0.55" stop-color="#e0300c"/><stop offset="1" stop-color="#901400"/></radialGradient><radialGradient id="gN" cx="0.5" cy="0.5" r="0.5" fx="0.35" fy="0.32"><stop offset="0" stop-color="#7090ff"/><stop offset="0.55" stop-color="#1a30d0"/><stop offset="1" stop-color="#0a1470"/></radialGradient><radialGradient id="gS" cx="0.5" cy="0.5" r="0.5" fx="0.35" fy="0.32"><stop offset="0" stop-color="#fffab8"/><stop offset="0.55" stop-color="#f4d010"/><stop offset="1" stop-color="#a08000"/></radialGradient><radialGradient id="gH" cx="0.5" cy="0.5" r="0.5" fx="0.35" fy="0.32"><stop offset="0" stop-color="#ffffff"/><stop offset="0.55" stop-color="#e4e4e4"/><stop offset="1" stop-color="#9a9a9a"/></radialGradient><radialGradient id="gC" cx="0.5" cy="0.5" r="0.5" fx="0.35" fy="0.32"><stop offset="0" stop-color="#e0e0e0"/><stop offset="0.55" stop-color="#a0a0a0"/><stop offset="1" stop-color="#606060"/></radialGradient><radialGradient id="gCb" cx="0.5" cy="0.5" r="0.5" fx="0.35" fy="0.32"><stop offset="0" stop-color="#e8d0c0"/><stop offset="0.55" stop-color="#b08870"/><stop offset="1" stop-color="#705040"/></radialGradient><radialGradient id="gCg" cx="0.5" cy="0.5" r="0.5" fx="0.35" fy="0.32"><stop offset="0" stop-color="#e8ecd0"/><stop offset="0.55" stop-color="#a8ac84"/><stop offset="1" stop-color="#6a6c48"/></radialGradient><radialGradient id="gHy" cx="0.5" cy="0.5" r="0.5" fx="0.35" fy="0.32"><stop offset="0" stop-color="#ffffff"/><stop offset="0.55" stop-color="#eef0cc"/><stop offset="1" stop-color="#b0b088"/></radialGradient><radialGradient id="gHt" cx="0.5" cy="0.5" r="0.5" fx="0.35" fy="0.32"><stop offset="0" stop-color="#fff8f0"/><stop offset="0.55" stop-color="#e8c8a8"/><stop offset="1" stop-color="#a88868"/></radialGradient><filter id="blur05" x="-20%" y="-20%" width="140%" height="140%"><feGaussianBlur stdDeviation="0.6"/></filter><filter id="blur1" x="-20%" y="-20%" width="140%" height="140%"><feGaussianBlur stdDeviation="1.2"/></filter><filter id="blur2" x="-30%" y="-30%" width="160%" height="160%"><feGaussianBlur stdDeviation="3"/></filter></defs>
<text x="0.2" y="246.4" font-size="17" fill="#111" text-anchor="start" >c</text>
<text x="65.2" y="252.6" font-size="10.2" fill="#222" text-anchor="start" >SS</text>
<text x="198.2" y="253.2" font-size="10.1" fill="#222" text-anchor="start" >SG-GA-SS clusters</text>
<defs><linearGradient id="ssb" gradientUnits="userSpaceOnUse" x1="32" y1="305" x2="110" y2="335">
<stop offset="0" stop-color="#eef7ee"/><stop offset="0.3" stop-color="#eef4da"/><stop offset="0.55" stop-color="#eef2c6"/><stop offset="0.8" stop-color="#ece8b6"/><stop offset="1" stop-color="#e8dcaa"/></linearGradient>
<radialGradient id="sssh" gradientUnits="userSpaceOnUse" cx="64" cy="308" r="50"><stop offset="0.55" stop-color="#8a7a30" stop-opacity="0"/><stop offset="1" stop-color="#8a7a30" stop-opacity="0.12"/></radialGradient>
<mask id="ssclip" maskUnits="userSpaceOnUse" x="20" y="270" width="100" height="90"><g fill="#fff"><ellipse cx="70" cy="298" rx="24" ry="18.5"/><ellipse cx="90" cy="318" rx="19.6" ry="24"/><ellipse cx="71" cy="334" rx="23" ry="19"/><ellipse cx="51" cy="317" rx="19.5" ry="24"/><ellipse cx="70" cy="316" rx="26" ry="26"/></g></mask></defs>
<g filter="url(#blur05)"><g mask="url(#ssclip)"><rect x="28" y="276" width="86" height="80" fill="url(#ssb)"/><rect x="28" y="276" width="86" height="80" fill="url(#sssh)"/></g></g>
<line x1="52.4" y1="316.4" x2="71.4" y2="316.4" stroke="#8a8a8a" stroke-width="0.6"/>
<line x1="71.4" y1="316.4" x2="88.9" y2="316.4" stroke="#8a8a8a" stroke-width="0.6"/>
<line x1="71.4" y1="316.4" x2="70.5" y2="299.2" stroke="#8a8a8a" stroke-width="0.6"/>
<line x1="71.4" y1="316.4" x2="69.9" y2="333.4" stroke="#8a8a8a" stroke-width="0.6"/>
<line x1="52.4" y1="316.4" x2="47.6" y2="307.2" stroke="#8a8a8a" stroke-width="0.6"/>
<line x1="52.4" y1="316.4" x2="47.6" y2="325.1" stroke="#8a8a8a" stroke-width="0.6"/>
<circle cx="70.5" cy="299.2" r="4.1" fill="url(#gO)"/>
<circle cx="69.9" cy="333.4" r="4.1" fill="url(#gO)"/>
<circle cx="47.6" cy="307.2" r="2.8" fill="url(#gH)"/>
<circle cx="47.6" cy="325.1" r="2.8" fill="url(#gH)"/>
<circle cx="52.4" cy="316.4" r="4.3" fill="url(#gN)"/>
<circle cx="71.4" cy="316.4" r="4.3" fill="url(#gS)"/>
<circle cx="88.9" cy="316.4" r="4.1" fill="url(#gO)"/>
<line x1="106" y1="283.9" x2="91.4" y2="310.8" stroke="#222" stroke-width="0.9"/>
<line x1="43.2" y1="334.2" x2="25.7" y2="348.8" stroke="#222" stroke-width="0.9"/>
<text x="108.6" y="282.2" font-size="10" fill="#222">O<tspan dy="-3.5" font-size="6">-</tspan><tspan dy="3.5">(-SO</tspan><tspan dy="2.5" font-size="5.5">3</tspan><tspan dy="-6" font-size="6">-</tspan><tspan dy="3.5">):</tspan></text>
<text x="116" y="297.9" font-size="10" fill="#222" text-anchor="start" >-0.641 eV</text>
<text x="20.6" y="362" font-size="10" fill="#222">H(-NH<tspan dy="2.5" font-size="6">2</tspan><tspan dy="-2.5">)</tspan></text>
<text x="4.2" y="378" font-size="10" fill="#222" text-anchor="start" >0.267 eV</text>
<defs><linearGradient id="clb" gradientUnits="userSpaceOnUse" x1="175" y1="335" x2="276" y2="320">
<stop offset="0" stop-color="#dde29e"/><stop offset="0.25" stop-color="#e6e8b2"/><stop offset="0.5" stop-color="#e6d49e"/><stop offset="0.75" stop-color="#e4b476"/><stop offset="1" stop-color="#e0a064"/></linearGradient>
<radialGradient id="cltop" gradientUnits="userSpaceOnUse" cx="222" cy="306" r="25"><stop offset="0" stop-color="#c8966e" stop-opacity="0.55"/><stop offset="0.7" stop-color="#d0905e" stop-opacity="0.5"/><stop offset="0.88" stop-color="#d8803e" stop-opacity="0.45"/><stop offset="1" stop-color="#d8803e" stop-opacity="0"/></radialGradient>
<radialGradient id="clbr" gradientUnits="userSpaceOnUse" cx="245" cy="340" r="20"><stop offset="0" stop-color="#d0a080" stop-opacity="0.6"/><stop offset="0.8" stop-color="#d09060" stop-opacity="0.5"/><stop offset="1" stop-color="#d09060" stop-opacity="0"/></radialGradient>
<radialGradient id="clsh" gradientUnits="userSpaceOnUse" cx="226" cy="326" r="54"><stop offset="0.6" stop-color="#905010" stop-opacity="0"/><stop offset="1" stop-color="#905010" stop-opacity="0.25"/></radialGradient>
<mask id="clclip" maskUnits="userSpaceOnUse" x="160" y="280" width="130" height="90"><g fill="#fff"><ellipse cx="223" cy="309" rx="26" ry="20"/><ellipse cx="208" cy="312" rx="15" ry="15"/><ellipse cx="240" cy="306" rx="12" ry="12"/><ellipse cx="198" cy="330" rx="18" ry="18"/><ellipse cx="190" cy="336" rx="16" ry="16"/><ellipse cx="196" cy="343" rx="18" ry="18"/><ellipse cx="218" cy="342" rx="18.5" ry="18.5"/><ellipse cx="228" cy="332" rx="22" ry="22"/><ellipse cx="252" cy="320" rx="15" ry="15"/><ellipse cx="259" cy="339" rx="17.5" ry="17.5"/><ellipse cx="250" cy="343" rx="17" ry="17"/><ellipse cx="238" cy="322" rx="10" ry="10"/></g></mask></defs>
<g filter="url(#blur05)"><g mask="url(#clclip)"><rect x="170" y="285" width="110" height="80" fill="url(#clb)"/><rect x="170" y="285" width="110" height="80" fill="url(#cltop)"/><rect x="170" y="285" width="110" height="80" fill="url(#clbr)"/><rect x="170" y="285" width="110" height="80" fill="url(#clsh)"/></g></g>
<line x1="213.7" y1="306.9" x2="226.2" y2="310.1" stroke="#c8b890" stroke-width="0.7"/>
<line x1="226.2" y1="310.1" x2="230.2" y2="302.1" stroke="#c8b890" stroke-width="0.7"/>
<line x1="226.2" y1="310.1" x2="228.1" y2="316.2" stroke="#c8b890" stroke-width="0.7"/>
<line x1="226.2" y1="310.1" x2="209.3" y2="312.8" stroke="#c8b890" stroke-width="0.7"/>
<line x1="236.6" y1="313.3" x2="241.5" y2="317.3" stroke="#c8b890" stroke-width="0.7"/>
<line x1="202.1" y1="324.1" x2="208.5" y2="332.6" stroke="#c8b890" stroke-width="0.7"/>
<line x1="208.5" y1="332.6" x2="218.7" y2="332.6" stroke="#c8b890" stroke-width="0.7"/>
<line x1="208.5" y1="332.6" x2="202.1" y2="341.7" stroke="#c8b890" stroke-width="0.7"/>
<line x1="190.4" y1="339.3" x2="202.1" y2="341.7" stroke="#c8b890" stroke-width="0.7"/>
<line x1="237.8" y1="340.1" x2="248.2" y2="337.4" stroke="#c8b890" stroke-width="0.7"/>
<line x1="248.2" y1="337.4" x2="259.9" y2="340.6" stroke="#c8b890" stroke-width="0.7"/>
<line x1="248.2" y1="337.4" x2="244.7" y2="344.3" stroke="#c8b890" stroke-width="0.7"/>
<line x1="248.2" y1="337.4" x2="248.2" y2="324.1" stroke="#c8b890" stroke-width="0.7"/>
<circle cx="230.2" cy="302.1" r="2.1" fill="url(#gHt)"/>
<circle cx="209.3" cy="312.8" r="2.1" fill="url(#gHt)"/>
<circle cx="228.1" cy="316.2" r="2.1" fill="url(#gHt)"/>
<circle cx="213.7" cy="306.9" r="3.3" fill="url(#gO)"/>
<circle cx="220.1" cy="306.9" r="3.3" fill="url(#gO)"/>
<circle cx="226.2" cy="310.1" r="3.5" fill="url(#gCb)"/>
<circle cx="236.6" cy="313.3" r="3.3" fill="url(#gO)"/>
<circle cx="241.5" cy="317.3" r="2.1" fill="url(#gHt)"/>
<circle cx="202.1" cy="324.1" r="3.3" fill="url(#gO)"/>
<circle cx="189.3" cy="332.1" r="2.2" fill="url(#gHy)"/>
<circle cx="208.5" cy="332.6" r="3.5" fill="url(#gCg)"/>
<circle cx="218.7" cy="332.6" r="3.3" fill="url(#gO)"/>
<circle cx="190.4" cy="339.3" r="3.3" fill="url(#gO)"/>
<circle cx="202.1" cy="341.7" r="3.5" fill="url(#gCg)"/>
<circle cx="205.7" cy="342.7" r="2.1" fill="url(#gHy)"/>
<circle cx="203.7" cy="348.2" r="2.1" fill="url(#gHy)"/>
<circle cx="248.2" cy="324.1" r="3.3" fill="url(#gO)"/>
<circle cx="229.9" cy="337.9" r="2.2" fill="url(#gHy)"/>
<circle cx="239.9" cy="335.8" r="2.2" fill="url(#gHy)"/>
<circle cx="237.8" cy="340.1" r="3.3" fill="url(#gN)"/>
<circle cx="248.2" cy="337.4" r="3.5" fill="url(#gS)"/>
<circle cx="244.7" cy="344.3" r="3.3" fill="url(#gO)"/>
<circle cx="259.9" cy="340.6" r="3.3" fill="url(#gO)"/>
<g opacity="0.28" mask="url(#clclip)"><rect x="170" y="285" width="110" height="80" fill="url(#clb)"/></g>
<ellipse cx="235" cy="337.4" rx="11.6" ry="6.8" fill="none" stroke="#111" stroke-width="0.9" stroke-dasharray="2.2,1.5"/>
<line x1="227.8" y1="343.3" x2="221.8" y2="368.5" stroke="#222" stroke-width="0.9"/>
<line x1="280.5" y1="311.5" x2="255.9" y2="322.1" stroke="#222" stroke-width="0.9"/>
<text x="263.8" y="283" font-size="10" fill="#222">O<tspan dy="-3.5" font-size="6">-</tspan><tspan dy="3.5">(-SO</tspan><tspan dy="2.5" font-size="5.5">3</tspan><tspan dy="-6" font-size="6">-</tspan><tspan dy="3.5">):</tspan></text>
<text x="269.6" y="302" font-size="10" fill="#222" text-anchor="start" >-0.658 eV</text>
<text x="217" y="377" font-size="10" fill="#222">H(-NH<tspan dy="2.5" font-size="6">2</tspan><tspan dy="-2.5">)</tspan></text>
<text x="182.8" y="392.1" font-size="10" fill="#222" text-anchor="start" >0.331 eV</text>
<text x="232.4" y="392.1" font-size="10" fill="#222" text-anchor="start" >0.273 eV</text>
<defs><linearGradient id="cbc" x1="0" y1="0" x2="0" y2="1">
<stop offset="0" stop-color="#0a0aa0"/><stop offset="0.06" stop-color="#0030f0"/><stop offset="0.16" stop-color="#0088ff"/>
<stop offset="0.26" stop-color="#00e0f0"/><stop offset="0.38" stop-color="#00e090"/><stop offset="0.5" stop-color="#00d010"/>
<stop offset="0.62" stop-color="#70dc00"/><stop offset="0.74" stop-color="#ffe400"/><stop offset="0.85" stop-color="#ffa000"/>
<stop offset="0.95" stop-color="#ff2800"/><stop offset="1" stop-color="#e80000"/></linearGradient></defs>
<rect x="329.8" y="270.3" width="7.7" height="106.7" fill="url(#cbc)" stroke="#111" stroke-width="1"/>
<text x="326" y="262.8" font-size="10" fill="#222" text-anchor="start" >0.1</text>
<text x="321.5" y="394.2" font-size="10" fill="#222" text-anchor="start" >-0.3</text>
<text transform="translate(356.3,322) rotate(-90)" font-size="10" fill="#222" text-anchor="middle">Electrostatic potential (eV)</text>
<circle cx="30.4" cy="405.7" r="4.2" fill="#1a2a8c"/>
<text x="39.7" y="409.2" font-size="9.8" fill="#222" text-anchor="start" >N</text>
<circle cx="63.5" cy="405.7" r="4.2" fill="#d8b428"/>
<text x="72.8" y="409.2" font-size="9.8" fill="#222" text-anchor="start" >S</text>
<circle cx="97" cy="405.7" r="4.2" fill="#d03812"/>
<text x="106.3" y="409.2" font-size="9.8" fill="#222" text-anchor="start" >O</text>
<circle cx="130.1" cy="405.7" r="4.2" fill="#eef2e0" stroke="#9a9a9a" stroke-width="0.6"/>
<text x="139.4" y="409.2" font-size="9.8" fill="#222" text-anchor="start" >H</text>
<circle cx="163.5" cy="405.7" r="4.2" fill="#a0a0a0"/>
<text x="172.8" y="409.2" font-size="9.8" fill="#222" text-anchor="start" >C</text>
<text x="377" y="246.4" font-size="17" fill="#111" text-anchor="start" >d</text>
<defs><linearGradient id="barb" x1="0" y1="0" x2="0" y2="1">
<stop offset="0" stop-color="#ffffff"/><stop offset="0.15" stop-color="#f8f9fc"/><stop offset="0.4" stop-color="#dde3ee"/>
<stop offset="0.65" stop-color="#a5b7d6"/><stop offset="0.82" stop-color="#8aa2cc"/><stop offset="0.83" stop-color="#4c80c0"/><stop offset="1" stop-color="#2a6bb4"/></linearGradient>
<linearGradient id="barr" x1="0" y1="0" x2="0" y2="1">
<stop offset="0" stop-color="#ffffff"/><stop offset="0.15" stop-color="#fff6f6"/><stop offset="0.4" stop-color="#f6d4d0"/>
<stop offset="0.6" stop-color="#f0a89c"/><stop offset="0.75" stop-color="#ec8c78"/><stop offset="0.9" stop-color="#ea7560"/><stop offset="1" stop-color="#e8684c"/></linearGradient></defs>
<rect x="487.5" y="250.5" width="36" height="46.1" fill="url(#barb)" stroke="#333" stroke-width="1"/>
<rect x="607.5" y="250.5" width="35.2" height="118.4" fill="url(#barr)" stroke="#444" stroke-width="1"/>
<line x1="446" y1="250.5" x2="684.5" y2="250.5" stroke="#444" stroke-width="1"/>
<line x1="684.5" y1="250.5" x2="684.5" y2="389.5" stroke="#333" stroke-width="1"/>
<line x1="446" y1="389.5" x2="684.5" y2="389.5" stroke="#444" stroke-width="1"/>
<line x1="446" y1="250.5" x2="446" y2="389.5" stroke="#8a8a8a" stroke-width="1.2"/>
<line x1="441.3" y1="250.5" x2="446" y2="250.5" stroke="#555" stroke-width="1"/>
<text x="438.2" y="254.6" font-size="10" fill="#222" text-anchor="end" >0</text>
<line x1="441.3" y1="285.2" x2="446" y2="285.2" stroke="#555" stroke-width="1"/>
<text x="438.2" y="289.4" font-size="10" fill="#222" text-anchor="end" >-200</text>
<line x1="441.3" y1="320.0" x2="446" y2="320.0" stroke="#555" stroke-width="1"/>
<text x="438.2" y="324.1" font-size="10" fill="#222" text-anchor="end" >-400</text>
<line x1="441.3" y1="354.8" x2="446" y2="354.8" stroke="#555" stroke-width="1"/>
<text x="438.2" y="358.9" font-size="10" fill="#222" text-anchor="end" >-600</text>
<line x1="441.3" y1="389.5" x2="446" y2="389.5" stroke="#555" stroke-width="1"/>
<text x="438.2" y="393.6" font-size="10" fill="#222" text-anchor="end" >-800</text>
<line x1="443.6" y1="267.9" x2="446" y2="267.9" stroke="#555" stroke-width="1"/>
<line x1="443.6" y1="302.6" x2="446" y2="302.6" stroke="#555" stroke-width="1"/>
<line x1="443.6" y1="337.4" x2="446" y2="337.4" stroke="#555" stroke-width="1"/>
<line x1="443.6" y1="372.1" x2="446" y2="372.1" stroke="#555" stroke-width="1"/>
<line x1="505.5" y1="389.5" x2="505.5" y2="394" stroke="#444" stroke-width="1"/>
<line x1="624.5" y1="389.5" x2="624.5" y2="394" stroke="#444" stroke-width="1"/>
<line x1="565" y1="389.5" x2="565" y2="392" stroke="#444" stroke-width="1"/>
<text x="502.8" y="407.2" font-size="10" fill="#222" text-anchor="middle" >SS</text>
<text x="628.5" y="407.2" font-size="10" fill="#222" text-anchor="middle" >SG-GA-SS clusters</text>
<text x="504.7" y="309.5" font-size="10" fill="#222" text-anchor="middle" >-268.06</text>
<text x="624.1" y="381.9" font-size="10" fill="#222" text-anchor="middle" >-684.80</text>
<text transform="translate(404.4,315.6) rotate(-90)" font-size="10.6" fill="#222" text-anchor="middle">ΔH<tspan dy="2.5" font-size="5.5">Hydration</tspan><tspan dy="-2.5"> (kJ mol</tspan><tspan dy="-3.5" font-size="6.5">-1</tspan><tspan dy="3.5">)</tspan></text>
<text x="-0.7" y="454.4" font-size="17" fill="#111" text-anchor="start" >e</text>
<line x1="47.5" y1="505.5" x2="313.5" y2="505.5" stroke="#8a8a8a" stroke-width="0.9" stroke-dasharray="5,3"/>
<path d="M47.50,585.20 L48.00,585.20 L48.50,585.20 L49.00,585.20 L49.50,585.20 L50.00,585.20 L50.50,585.20 L51.00,585.20 L51.50,585.20 L52.00,585.20 L52.50,585.20 L53.00,585.20 L53.50,585.20 L54.00,585.20 L54.50,585.20 L55.00,585.20 L55.50,585.20 L56.00,585.20 L56.50,585.20 L57.00,585.20 L57.50,585.20 L58.00,585.20 L58.50,585.20 L59.00,585.20 L59.50,585.20 L60.00,585.20 L60.50,585.20 L61.00,585.20 L61.50,585.20 L62.00,585.20 L62.50,585.15 L63.00,584.96 L63.50,584.64 L64.00,584.19 L64.50,583.64 L65.00,582.98 L65.50,582.24 L66.00,581.43 L66.50,580.55 L67.00,579.56 L67.50,577.95 L68.00,575.73 L68.50,573.05 L69.00,570.08 L69.50,566.98 L70.00,563.90 L70.50,561.00 L71.00,558.13 L71.50,555.07 L72.00,551.91 L72.50,548.74 L73.00,545.65 L73.50,542.70 L74.00,540.00 L74.50,537.53 L75.00,535.01 L75.50,532.52 L76.00,530.13 L76.50,527.93 L77.00,526.04 L77.50,524.53 L78.00,523.50 L78.50,522.76 L79.00,522.09 L79.50,521.52 L80.00,521.09 L80.50,520.84 L81.00,520.84 L81.50,521.26 L82.00,522.02 L82.50,523.00 L83.00,524.07 L83.50,525.12 L84.00,526.00 L84.50,526.79 L85.00,527.62 L85.50,528.46 L86.00,529.28 L86.50,530.06 L87.00,530.77 L87.50,531.37 L88.00,531.85 L88.50,532.20 L89.00,532.53 L89.50,532.85 L90.00,533.15 L90.50,533.42 L91.00,533.67 L91.50,533.88 L92.00,534.06 L92.50,534.19 L93.00,534.27 L93.50,534.30 L94.00,534.26 L94.50,534.16 L95.00,534.00 L95.50,533.78 L96.00,533.52 L96.50,533.23 L97.00,532.90 L97.50,532.56 L98.00,532.21 L98.50,531.85 L99.00,531.50 L99.50,531.12 L100.00,530.68 L100.50,530.18 L101.00,529.64 L101.50,529.06 L102.00,528.45 L102.50,527.81 L103.00,527.17 L103.50,526.52 L104.00,525.88 L104.50,525.24 L105.00,524.63 L105.50,524.05 L106.00,523.50 L106.50,522.96 L107.00,522.39 L107.50,521.80 L108.00,521.21 L108.50,520.64 L109.00,520.08 L109.50,519.56 L110.00,519.08 L110.50,518.66 L111.00,518.31 L111.50,518.04 L112.00,517.84 L112.50,517.64 L113.00,517.46 L113.50,517.30 L114.00,517.16 L114.50,517.06 L115.00,517.01 L115.50,517.00 L116.00,517.05 L116.50,517.13 L117.00,517.25 L117.50,517.40 L118.00,517.56 L118.50,517.73 L119.00,517.90 L119.50,518.07 L120.00,518.22 L120.50,518.34 L121.00,518.44 L121.50,518.49 L122.00,518.50 L122.50,518.48 L123.00,518.43 L123.50,518.37 L124.00,518.29 L124.50,518.19 L125.00,518.08 L125.50,517.95 L126.00,517.81 L126.50,517.66 L127.00,517.51 L127.50,517.34 L128.00,517.18 L128.50,517.01 L129.00,516.84 L129.50,516.67 L130.00,516.50 L130.50,516.31 L131.00,516.09 L131.50,515.82 L132.00,515.53 L132.50,515.21 L133.00,514.87 L133.50,514.52 L134.00,514.16 L134.50,513.80 L135.00,513.43 L135.50,513.08 L136.00,512.73 L136.50,512.40 L137.00,512.09 L137.50,511.82 L138.00,511.57 L138.50,511.36 L139.00,511.19 L139.50,511.08 L140.00,511.01 L140.50,511.00 L141.00,511.00 L141.50,511.00 L142.00,511.00 L142.50,511.00 L143.00,511.00 L143.50,511.00 L144.00,511.00 L144.50,511.00 L145.00,511.00 L145.50,511.00 L146.00,511.00 L146.50,511.00 L147.00,511.00 L147.50,511.00 L148.00,511.00 L148.50,511.00 L149.00,511.00 L149.50,511.00 L150.00,511.00 L150.50,511.00 L151.00,511.00 L151.50,511.00 L152.00,511.00 L152.50,511.00 L153.00,511.00 L153.50,511.00 L154.00,511.00 L154.50,511.00 L155.00,511.00 L155.50,511.00 L156.00,511.00 L156.50,511.00 L157.00,511.00 L157.50,511.00 L158.00,511.00 L158.50,511.01 L159.00,511.03 L159.50,511.06 L160.00,511.11 L160.50,511.16 L161.00,511.21 L161.50,511.28 L162.00,511.35 L162.50,511.43 L163.00,511.51 L163.50,511.59 L164.00,511.68 L164.50,511.77 L165.00,511.87 L165.50,511.96 L166.00,512.06 L166.50,512.15 L167.00,512.24 L167.50,512.34 L168.00,512.42 L168.50,512.51 L169.00,512.59 L169.50,512.67 L170.00,512.74 L170.50,512.80 L171.00,512.86 L171.50,512.90 L172.00,512.94 L172.50,512.97 L173.00,512.99 L173.50,513.00 L174.00,513.00 L174.50,513.00 L175.00,513.00 L175.50,513.00 L176.00,512.99 L176.50,512.99 L177.00,512.99 L177.50,512.98 L178.00,512.98 L178.50,512.97 L179.00,512.97 L179.50,512.96 L180.00,512.95 L180.50,512.94 L181.00,512.94 L181.50,512.93 L182.00,512.92 L182.50,512.91 L183.00,512.90 L183.50,512.89 L184.00,512.88 L184.50,512.86 L185.00,512.85 L185.50,512.84 L186.00,512.82 L186.50,512.81 L187.00,512.79 L187.50,512.78 L188.00,512.76 L188.50,512.75 L189.00,512.73 L189.50,512.71 L190.00,512.69 L190.50,512.67 L191.00,512.65 L191.50,512.63 L192.00,512.61 L192.50,512.59 L193.00,512.57 L193.50,512.55 L194.00,512.53 L194.50,512.50 L195.00,512.47 L195.50,512.42 L196.00,512.36 L196.50,512.27 L197.00,512.17 L197.50,512.05 L198.00,511.91 L198.50,511.76 L199.00,511.60 L199.50,511.43 L200.00,511.24 L200.50,511.05 L201.00,510.85 L201.50,510.64 L202.00,510.43 L202.50,510.21 L203.00,509.98 L203.50,509.75 L204.00,509.52 L204.50,509.29 L205.00,509.06 L205.50,508.83 L206.00,508.61 L206.50,508.38 L207.00,508.16 L207.50,507.95 L208.00,507.74 L208.50,507.54 L209.00,507.35 L209.50,507.17 L210.00,507.00 L210.50,506.83 L211.00,506.65 L211.50,506.46 L212.00,506.27 L212.50,506.07 L213.00,505.87 L213.50,505.66 L214.00,505.45 L214.50,505.25 L215.00,505.05 L215.50,504.85 L216.00,504.66 L216.50,504.47 L217.00,504.29 L217.50,504.12 L218.00,503.97 L218.50,503.82 L219.00,503.69 L219.50,503.58 L220.00,503.48 L220.50,503.40 L221.00,503.35 L221.50,503.31 L222.00,503.30 L222.50,503.30 L223.00,503.31 L223.50,503.33 L224.00,503.36 L224.50,503.39 L225.00,503.43 L225.50,503.47 L226.00,503.52 L226.50,503.57 L227.00,503.63 L227.50,503.69 L228.00,503.75 L228.50,503.82 L229.00,503.89 L229.50,503.97 L230.00,504.04 L230.50,504.12 L231.00,504.20 L231.50,504.28 L232.00,504.36 L232.50,504.45 L233.00,504.53 L233.50,504.61 L234.00,504.69 L234.50,504.77 L235.00,504.85 L235.50,504.93 L236.00,505.01 L236.50,505.08 L237.00,505.15 L237.50,505.22 L238.00,505.28 L238.50,505.35 L239.00,505.40 L239.50,505.45 L240.00,505.50 L240.50,505.54 L241.00,505.59 L241.50,505.63 L242.00,505.68 L242.50,505.72 L243.00,505.77 L243.50,505.81 L244.00,505.85 L244.50,505.90 L245.00,505.94 L245.50,505.98 L246.00,506.03 L246.50,506.07 L247.00,506.11 L247.50,506.16 L248.00,506.20 L248.50,506.24 L249.00,506.28 L249.50,506.32 L250.00,506.37 L250.50,506.41 L251.00,506.45 L251.50,506.49 L252.00,506.53 L252.50,506.57 L253.00,506.60 L253.50,506.64 L254.00,506.68 L254.50,506.72 L255.00,506.75 L255.50,506.79 L256.00,506.83 L256.50,506.86 L257.00,506.90 L257.50,506.93 L258.00,506.96 L258.50,506.99 L259.00,507.03 L259.50,507.06 L260.00,507.09 L260.50,507.12 L261.00,507.14 L261.50,507.17 L262.00,507.20 L262.50,507.23 L263.00,507.25 L263.50,507.27 L264.00,507.30 L264.50,507.32 L265.00,507.34 L265.50,507.36 L266.00,507.38 L266.50,507.40 L267.00,507.42 L267.50,507.43 L268.00,507.45 L268.50,507.46 L269.00,507.48 L269.50,507.49 L270.00,507.50 L270.50,507.51 L271.00,507.52 L271.50,507.53 L272.00,507.54 L272.50,507.55 L273.00,507.56 L273.50,507.57 L274.00,507.58 L274.50,507.59 L275.00,507.60 L275.50,507.61 L276.00,507.62 L276.50,507.63 L277.00,507.64 L277.50,507.64 L278.00,507.65 L278.50,507.66 L279.00,507.67 L279.50,507.68 L280.00,507.69 L280.50,507.70 L281.00,507.71 L281.50,507.71 L282.00,507.72 L282.50,507.73 L283.00,507.74 L283.50,507.75 L284.00,507.75 L284.50,507.76 L285.00,507.77 L285.50,507.78 L286.00,507.78 L286.50,507.79 L287.00,507.80 L287.50,507.81 L288.00,507.81 L288.50,507.82 L289.00,507.83 L289.50,507.83 L290.00,507.84 L290.50,507.85 L291.00,507.85 L291.50,507.86 L292.00,507.86 L292.50,507.87 L293.00,507.88 L293.50,507.88 L294.00,507.89 L294.50,507.89 L295.00,507.90 L295.50,507.90 L296.00,507.91 L296.50,507.91 L297.00,507.92 L297.50,507.92 L298.00,507.93 L298.50,507.93 L299.00,507.94 L299.50,507.94 L300.00,507.94 L300.50,507.95 L301.00,507.95 L301.50,507.96 L302.00,507.96 L302.50,507.96 L303.00,507.97 L303.50,507.97 L304.00,507.97 L304.50,507.97 L305.00,507.98 L305.50,507.98 L306.00,507.98 L306.50,507.98 L307.00,507.99 L307.50,507.99 L308.00,507.99 L308.50,507.99 L309.00,507.99 L309.50,507.99 L310.00,508.00 L310.50,508.00 L311.00,508.00 L311.50,508.00 L312.00,508.00 L312.50,508.00 L313.00,508.00 L313.50,508.00" fill="none" stroke="#a6cdec" stroke-width="1"/>
<path d="M47.50,585.20 L48.00,585.20 L48.50,585.20 L49.00,585.20 L49.50,585.20 L50.00,585.20 L50.50,585.20 L51.00,585.20 L51.50,585.20 L52.00,585.20 L52.50,585.20 L53.00,585.20 L53.50,585.20 L54.00,585.20 L54.50,585.20 L55.00,585.20 L55.50,585.20 L56.00,585.20 L56.50,585.20 L57.00,585.20 L57.50,585.20 L58.00,585.20 L58.50,585.20 L59.00,585.20 L59.50,585.20 L60.00,585.20 L60.50,585.20 L61.00,585.20 L61.50,585.20 L62.00,585.20 L62.50,585.15 L63.00,584.93 L63.50,584.57 L64.00,584.07 L64.50,583.45 L65.00,582.72 L65.50,581.89 L66.00,580.99 L66.50,580.01 L67.00,578.92 L67.50,577.15 L68.00,574.74 L68.50,571.85 L69.00,568.66 L69.50,565.34 L70.00,562.06 L70.50,559.00 L71.00,556.00 L71.50,552.85 L72.00,549.62 L72.50,546.40 L73.00,543.25 L73.50,540.26 L74.00,537.52 L74.50,535.00 L75.00,532.48 L75.50,529.98 L76.00,527.59 L76.50,525.39 L77.00,523.46 L77.50,521.87 L78.00,520.70 L78.50,519.78 L79.00,518.94 L79.50,518.29 L80.00,517.93 L80.50,517.97 L81.00,518.37 L81.50,519.04 L82.00,519.88 L82.50,520.79 L83.00,521.69 L83.50,522.47 L84.00,523.13 L84.50,523.83 L85.00,524.54 L85.50,525.25 L86.00,525.93 L86.50,526.57 L87.00,527.14 L87.50,527.62 L88.00,527.99 L88.50,528.25 L89.00,528.49 L89.50,528.72 L90.00,528.94 L90.50,529.13 L91.00,529.29 L91.50,529.43 L92.00,529.53 L92.50,529.58 L93.00,529.60 L93.50,529.56 L94.00,529.46 L94.50,529.32 L95.00,529.13 L95.50,528.91 L96.00,528.66 L96.50,528.38 L97.00,528.10 L97.50,527.80 L98.00,527.50 L98.50,527.20 L99.00,526.88 L99.50,526.51 L100.00,526.10 L100.50,525.65 L101.00,525.17 L101.50,524.66 L102.00,524.13 L102.50,523.58 L103.00,523.02 L103.50,522.47 L104.00,521.91 L104.50,521.36 L105.00,520.82 L105.50,520.30 L106.00,519.80 L106.50,519.29 L107.00,518.72 L107.50,518.13 L108.00,517.52 L108.50,516.92 L109.00,516.35 L109.50,515.82 L110.00,515.35 L110.50,514.97 L111.00,514.68 L111.50,514.52 L112.00,514.45 L112.50,514.38 L113.00,514.33 L113.50,514.28 L114.00,514.24 L114.50,514.22 L115.00,514.20 L115.50,514.21 L116.00,514.26 L116.50,514.36 L117.00,514.50 L117.50,514.68 L118.00,514.87 L118.50,515.08 L119.00,515.29 L119.50,515.48 L120.00,515.66 L120.50,515.81 L121.00,515.92 L121.50,515.99 L122.00,516.00 L122.50,515.96 L123.00,515.89 L123.50,515.78 L124.00,515.64 L124.50,515.48 L125.00,515.30 L125.50,515.09 L126.00,514.87 L126.50,514.64 L127.00,514.40 L127.50,514.16 L128.00,513.91 L128.50,513.67 L129.00,513.44 L129.50,513.21 L130.00,513.00 L130.50,512.78 L131.00,512.54 L131.50,512.28 L132.00,512.00 L132.50,511.70 L133.00,511.40 L133.50,511.09 L134.00,510.78 L134.50,510.47 L135.00,510.16 L135.50,509.87 L136.00,509.58 L136.50,509.32 L137.00,509.07 L137.50,508.85 L138.00,508.65 L138.50,508.48 L139.00,508.35 L139.50,508.26 L140.00,508.21 L140.50,508.20 L141.00,508.20 L141.50,508.20 L142.00,508.20 L142.50,508.21 L143.00,508.21 L143.50,508.21 L144.00,508.22 L144.50,508.22 L145.00,508.22 L145.50,508.23 L146.00,508.24 L146.50,508.24 L147.00,508.25 L147.50,508.26 L148.00,508.26 L148.50,508.27 L149.00,508.28 L149.50,508.29 L150.00,508.30 L150.50,508.31 L151.00,508.32 L151.50,508.33 L152.00,508.34 L152.50,508.35 L153.00,508.37 L153.50,508.38 L154.00,508.39 L154.50,508.41 L155.00,508.42 L155.50,508.43 L156.00,508.45 L156.50,508.46 L157.00,508.48 L157.50,508.49 L158.00,508.51 L158.50,508.53 L159.00,508.57 L159.50,508.61 L160.00,508.66 L160.50,508.72 L161.00,508.79 L161.50,508.86 L162.00,508.94 L162.50,509.02 L163.00,509.10 L163.50,509.19 L164.00,509.29 L164.50,509.38 L165.00,509.48 L165.50,509.57 L166.00,509.67 L166.50,509.76 L167.00,509.86 L167.50,509.95 L168.00,510.04 L168.50,510.12 L169.00,510.20 L169.50,510.27 L170.00,510.34 L170.50,510.40 L171.00,510.46 L171.50,510.51 L172.00,510.54 L172.50,510.57 L173.00,510.59 L173.50,510.60 L174.00,510.60 L174.50,510.60 L175.00,510.60 L175.50,510.60 L176.00,510.59 L176.50,510.59 L177.00,510.58 L177.50,510.58 L178.00,510.57 L178.50,510.57 L179.00,510.56 L179.50,510.55 L180.00,510.55 L180.50,510.54 L181.00,510.53 L181.50,510.52 L182.00,510.51 L182.50,510.49 L183.00,510.48 L183.50,510.47 L184.00,510.46 L184.50,510.44 L185.00,510.43 L185.50,510.41 L186.00,510.39 L186.50,510.38 L187.00,510.36 L187.50,510.34 L188.00,510.32 L188.50,510.30 L189.00,510.28 L189.50,510.26 L190.00,510.24 L190.50,510.21 L191.00,510.19 L191.50,510.17 L192.00,510.14 L192.50,510.12 L193.00,510.09 L193.50,510.06 L194.00,510.03 L194.50,510.01 L195.00,509.97 L195.50,509.91 L196.00,509.82 L196.50,509.72 L197.00,509.60 L197.50,509.46 L198.00,509.30 L198.50,509.13 L199.00,508.95 L199.50,508.76 L200.00,508.56 L200.50,508.36 L201.00,508.15 L201.50,507.93 L202.00,507.72 L202.50,507.51 L203.00,507.29 L203.50,507.08 L204.00,506.88 L204.50,506.69 L205.00,506.50 L205.50,506.31 L206.00,506.12 L206.50,505.92 L207.00,505.71 L207.50,505.50 L208.00,505.30 L208.50,505.09 L209.00,504.90 L209.50,504.71 L210.00,504.53 L210.50,504.36 L211.00,504.21 L211.50,504.05 L212.00,503.88 L212.50,503.72 L213.00,503.55 L213.50,503.38 L214.00,503.22 L214.50,503.07 L215.00,502.92 L215.50,502.78 L216.00,502.66 L216.50,502.55 L217.00,502.46 L217.50,502.38 L218.00,502.33 L218.50,502.30 L219.00,502.30 L219.50,502.30 L220.00,502.31 L220.50,502.33 L221.00,502.35 L221.50,502.37 L222.00,502.40 L222.50,502.43 L223.00,502.46 L223.50,502.50 L224.00,502.54 L224.50,502.58 L225.00,502.63 L225.50,502.68 L226.00,502.73 L226.50,502.78 L227.00,502.84 L227.50,502.89 L228.00,502.95 L228.50,503.01 L229.00,503.07 L229.50,503.14 L230.00,503.20 L230.50,503.26 L231.00,503.33 L231.50,503.39 L232.00,503.45 L232.50,503.52 L233.00,503.58 L233.50,503.64 L234.00,503.70 L234.50,503.77 L235.00,503.82 L235.50,503.88 L236.00,503.94 L236.50,503.99 L237.00,504.04 L237.50,504.09 L238.00,504.14 L238.50,504.19 L239.00,504.23 L239.50,504.27 L240.00,504.30 L240.50,504.33 L241.00,504.37 L241.50,504.40 L242.00,504.43 L242.50,504.47 L243.00,504.50 L243.50,504.53 L244.00,504.56 L244.50,504.60 L245.00,504.63 L245.50,504.66 L246.00,504.69 L246.50,504.72 L247.00,504.76 L247.50,504.79 L248.00,504.82 L248.50,504.85 L249.00,504.88 L249.50,504.91 L250.00,504.94 L250.50,504.97 L251.00,505.00 L251.50,505.03 L252.00,505.06 L252.50,505.09 L253.00,505.12 L253.50,505.14 L254.00,505.17 L254.50,505.20 L255.00,505.23 L255.50,505.25 L256.00,505.28 L256.50,505.31 L257.00,505.33 L257.50,505.36 L258.00,505.38 L258.50,505.40 L259.00,505.43 L259.50,505.45 L260.00,505.47 L260.50,505.49 L261.00,505.52 L261.50,505.54 L262.00,505.56 L262.50,505.58 L263.00,505.60 L263.50,505.62 L264.00,505.63 L264.50,505.65 L265.00,505.67 L265.50,505.68 L266.00,505.70 L266.50,505.71 L267.00,505.73 L267.50,505.74 L268.00,505.76 L268.50,505.77 L269.00,505.78 L269.50,505.79 L270.00,505.80 L270.50,505.81 L271.00,505.82 L271.50,505.83 L272.00,505.84 L272.50,505.85 L273.00,505.86 L273.50,505.87 L274.00,505.88 L274.50,505.89 L275.00,505.89 L275.50,505.90 L276.00,505.91 L276.50,505.92 L277.00,505.93 L277.50,505.94 L278.00,505.95 L278.50,505.96 L279.00,505.97 L279.50,505.97 L280.00,505.98 L280.50,505.99 L281.00,506.00 L281.50,506.01 L282.00,506.02 L282.50,506.02 L283.00,506.03 L283.50,506.04 L284.00,506.05 L284.50,506.05 L285.00,506.06 L285.50,506.07 L286.00,506.08 L286.50,506.08 L287.00,506.09 L287.50,506.10 L288.00,506.11 L288.50,506.11 L289.00,506.12 L289.50,506.13 L290.00,506.13 L290.50,506.14 L291.00,506.15 L291.50,506.15 L292.00,506.16 L292.50,506.16 L293.00,506.17 L293.50,506.18 L294.00,506.18 L294.50,506.19 L295.00,506.19 L295.50,506.20 L296.00,506.20 L296.50,506.21 L297.00,506.21 L297.50,506.22 L298.00,506.22 L298.50,506.23 L299.00,506.23 L299.50,506.24 L300.00,506.24 L300.50,506.25 L301.00,506.25 L301.50,506.25 L302.00,506.26 L302.50,506.26 L303.00,506.26 L303.50,506.27 L304.00,506.27 L304.50,506.27 L305.00,506.28 L305.50,506.28 L306.00,506.28 L306.50,506.28 L307.00,506.29 L307.50,506.29 L308.00,506.29 L308.50,506.29 L309.00,506.29 L309.50,506.29 L310.00,506.30 L310.50,506.30 L311.00,506.30 L311.50,506.30 L312.00,506.30 L312.50,506.30 L313.00,506.30 L313.50,506.30" fill="none" stroke="#3a84c6" stroke-width="1.1"/>
<path d="M47.50,585.20 L48.00,585.20 L48.50,585.20 L49.00,585.20 L49.50,585.20 L50.00,585.20 L50.50,585.20 L51.00,585.20 L51.50,585.20 L52.00,585.20 L52.50,585.20 L53.00,585.20 L53.50,585.20 L54.00,585.20 L54.50,585.20 L55.00,585.20 L55.50,585.20 L56.00,585.20 L56.50,585.20 L57.00,584.94 L57.50,584.24 L58.00,583.18 L58.50,581.85 L59.00,580.35 L59.50,578.70 L60.00,576.41 L60.50,573.43 L61.00,569.82 L61.50,565.66 L62.00,561.04 L62.50,556.03 L63.00,550.70 L63.50,544.27 L64.00,535.60 L64.50,525.72 L65.00,515.74 L65.50,506.74 L66.00,499.78 L66.50,493.73 L67.00,488.38 L67.50,484.48 L68.00,482.35 L68.50,480.72 L69.00,479.79 L69.50,479.92 L70.00,481.14 L70.50,483.11 L71.00,485.51 L71.50,488.01 L72.00,491.24 L72.50,495.31 L73.00,499.89 L73.50,504.65 L74.00,509.27 L74.50,513.59 L75.00,518.11 L75.50,522.69 L76.00,527.13 L76.50,531.20 L77.00,534.70 L77.50,537.73 L78.00,540.54 L78.50,543.16 L79.00,545.60 L79.50,547.89 L80.00,550.05 L80.50,552.11 L81.00,554.08 L81.50,556.03 L82.00,557.94 L82.50,559.79 L83.00,561.56 L83.50,563.22 L84.00,564.76 L84.50,566.15 L85.00,567.37 L85.50,568.39 L86.00,569.32 L86.50,570.21 L87.00,571.04 L87.50,571.83 L88.00,572.56 L88.50,573.24 L89.00,573.86 L89.50,574.42 L90.00,574.91 L90.50,575.34 L91.00,575.70 L91.50,576.02 L92.00,576.34 L92.50,576.65 L93.00,576.94 L93.50,577.21 L94.00,577.45 L94.50,577.66 L95.00,577.84 L95.50,577.97 L96.00,578.06 L96.50,578.10 L97.00,578.08 L97.50,578.01 L98.00,577.88 L98.50,577.70 L99.00,577.47 L99.50,577.18 L100.00,576.84 L100.50,576.44 L101.00,575.99 L101.50,575.39 L102.00,573.74 L102.50,571.08 L103.00,567.67 L103.50,563.79 L104.00,559.71 L104.50,554.95 L105.00,548.72 L105.50,542.16 L106.00,536.50 L106.50,531.61 L107.00,526.75 L107.50,522.24 L108.00,518.35 L108.50,515.40 L109.00,513.58 L109.50,512.21 L110.00,511.07 L110.50,510.13 L111.00,509.35 L111.50,508.71 L112.00,508.18 L112.50,507.72 L113.00,507.33 L113.50,506.98 L114.00,506.65 L114.50,506.34 L115.00,506.01 L115.50,505.65 L116.00,505.27 L116.50,504.86 L117.00,504.43 L117.50,503.99 L118.00,503.55 L118.50,503.10 L119.00,502.67 L119.50,502.25 L120.00,501.85 L120.50,501.48 L121.00,501.14 L121.50,500.85 L122.00,500.60 L122.50,500.41 L123.00,500.27 L123.50,500.21 L124.00,500.21 L124.50,500.30 L125.00,500.45 L125.50,500.66 L126.00,500.92 L126.50,501.22 L127.00,501.55 L127.50,501.90 L128.00,502.26 L128.50,502.63 L129.00,503.00 L129.50,503.44 L130.00,504.01 L130.50,504.67 L131.00,505.40 L131.50,506.14 L132.00,506.86 L132.50,507.53 L133.00,508.11 L133.50,508.56 L134.00,508.84 L134.50,508.96 L135.00,509.06 L135.50,509.14 L136.00,509.23 L136.50,509.30 L137.00,509.37 L137.50,509.44 L138.00,509.50 L138.50,509.55 L139.00,509.60 L139.50,509.65 L140.00,509.69 L140.50,509.73 L141.00,509.76 L141.50,509.80 L142.00,509.83 L142.50,509.86 L143.00,509.89 L143.50,509.92 L144.00,509.95 L144.50,509.97 L145.00,510.00 L145.50,510.03 L146.00,510.05 L146.50,510.07 L147.00,510.08 L147.50,510.10 L148.00,510.11 L148.50,510.13 L149.00,510.14 L149.50,510.15 L150.00,510.17 L150.50,510.19 L151.00,510.21 L151.50,510.23 L152.00,510.26 L152.50,510.29 L153.00,510.34 L153.50,510.42 L154.00,510.53 L154.50,510.67 L155.00,510.83 L155.50,511.01 L156.00,511.20 L156.50,511.41 L157.00,511.64 L157.50,511.86 L158.00,512.10 L158.50,512.33 L159.00,512.56 L159.50,512.78 L160.00,513.00 L160.50,513.23 L161.00,513.48 L161.50,513.76 L162.00,514.06 L162.50,514.37 L163.00,514.70 L163.50,515.03 L164.00,515.36 L164.50,515.70 L165.00,516.02 L165.50,516.34 L166.00,516.64 L166.50,516.92 L167.00,517.18 L167.50,517.41 L168.00,517.61 L168.50,517.78 L169.00,517.90 L169.50,517.97 L170.00,518.00 L170.50,517.99 L171.00,517.97 L171.50,517.94 L172.00,517.89 L172.50,517.84 L173.00,517.77 L173.50,517.69 L174.00,517.60 L174.50,517.51 L175.00,517.40 L175.50,517.29 L176.00,517.16 L176.50,517.04 L177.00,516.90 L177.50,516.76 L178.00,516.62 L178.50,516.47 L179.00,516.32 L179.50,516.16 L180.00,516.00 L180.50,515.82 L181.00,515.59 L181.50,515.32 L182.00,515.02 L182.50,514.69 L183.00,514.32 L183.50,513.93 L184.00,513.51 L184.50,513.08 L185.00,512.63 L185.50,512.16 L186.00,511.69 L186.50,511.21 L187.00,510.73 L187.50,510.26 L188.00,509.78 L188.50,509.32 L189.00,508.86 L189.50,508.42 L190.00,508.00 L190.50,507.56 L191.00,507.06 L191.50,506.53 L192.00,505.97 L192.50,505.41 L193.00,504.86 L193.50,504.34 L194.00,503.87 L194.50,503.45 L195.00,503.11 L195.50,502.86 L196.00,502.72 L196.50,502.70 L197.00,502.72 L197.50,502.74 L198.00,502.79 L198.50,502.84 L199.00,502.91 L199.50,502.98 L200.00,503.06 L200.50,503.15 L201.00,503.24 L201.50,503.34 L202.00,503.44 L202.50,503.54 L203.00,503.64 L203.50,503.74 L204.00,503.83 L204.50,503.92 L205.00,504.00 L205.50,504.08 L206.00,504.17 L206.50,504.25 L207.00,504.34 L207.50,504.44 L208.00,504.54 L208.50,504.63 L209.00,504.74 L209.50,504.84 L210.00,504.94 L210.50,505.05 L211.00,505.16 L211.50,505.26 L212.00,505.37 L212.50,505.48 L213.00,505.59 L213.50,505.69 L214.00,505.80 L214.50,505.91 L215.00,506.01 L215.50,506.11 L216.00,506.21 L216.50,506.31 L217.00,506.41 L217.50,506.50 L218.00,506.59 L218.50,506.68 L219.00,506.77 L219.50,506.85 L220.00,506.92 L220.50,506.99 L221.00,507.06 L221.50,507.12 L222.00,507.18 L222.50,507.23 L223.00,507.28 L223.50,507.32 L224.00,507.35 L224.50,507.38 L225.00,507.40 L225.50,507.42 L226.00,507.43 L226.50,507.45 L227.00,507.47 L227.50,507.48 L228.00,507.50 L228.50,507.51 L229.00,507.53 L229.50,507.54 L230.00,507.56 L230.50,507.57 L231.00,507.59 L231.50,507.60 L232.00,507.61 L232.50,507.63 L233.00,507.64 L233.50,507.65 L234.00,507.67 L234.50,507.68 L235.00,507.69 L235.50,507.70 L236.00,507.71 L236.50,507.73 L237.00,507.74 L237.50,507.75 L238.00,507.76 L238.50,507.77 L239.00,507.78 L239.50,507.79 L240.00,507.80 L240.50,507.81 L241.00,507.82 L241.50,507.83 L242.00,507.84 L242.50,507.85 L243.00,507.86 L243.50,507.86 L244.00,507.87 L244.50,507.88 L245.00,507.89 L245.50,507.89 L246.00,507.90 L246.50,507.91 L247.00,507.92 L247.50,507.92 L248.00,507.93 L248.50,507.93 L249.00,507.94 L249.50,507.94 L250.00,507.95 L250.50,507.95 L251.00,507.96 L251.50,507.96 L252.00,507.97 L252.50,507.97 L253.00,507.98 L253.50,507.98 L254.00,507.98 L254.50,507.98 L255.00,507.99 L255.50,507.99 L256.00,507.99 L256.50,507.99 L257.00,508.00 L257.50,508.00 L258.00,508.00 L258.50,508.00 L259.00,508.00 L259.50,508.00 L260.00,508.00 L260.50,508.00 L261.00,508.00 L261.50,508.00 L262.00,508.00 L262.50,508.00 L263.00,508.00 L263.50,508.00 L264.00,508.00 L264.50,508.00 L265.00,508.00 L265.50,508.00 L266.00,508.00 L266.50,508.00 L267.00,507.99 L267.50,507.99 L268.00,507.99 L268.50,507.99 L269.00,507.99 L269.50,507.99 L270.00,507.99 L270.50,507.99 L271.00,507.99 L271.50,507.98 L272.00,507.98 L272.50,507.98 L273.00,507.98 L273.50,507.98 L274.00,507.97 L274.50,507.97 L275.00,507.97 L275.50,507.97 L276.00,507.97 L276.50,507.96 L277.00,507.96 L277.50,507.96 L278.00,507.96 L278.50,507.95 L279.00,507.95 L279.50,507.95 L280.00,507.94 L280.50,507.94 L281.00,507.94 L281.50,507.93 L282.00,507.93 L282.50,507.93 L283.00,507.92 L283.50,507.92 L284.00,507.91 L284.50,507.91 L285.00,507.91 L285.50,507.90 L286.00,507.90 L286.50,507.89 L287.00,507.89 L287.50,507.88 L288.00,507.88 L288.50,507.87 L289.00,507.87 L289.50,507.86 L290.00,507.86 L290.50,507.85 L291.00,507.84 L291.50,507.84 L292.00,507.83 L292.50,507.82 L293.00,507.82 L293.50,507.81 L294.00,507.80 L294.50,507.80 L295.00,507.79 L295.50,507.78 L296.00,507.78 L296.50,507.77 L297.00,507.76 L297.50,507.75 L298.00,507.74 L298.50,507.74 L299.00,507.73 L299.50,507.72 L300.00,507.71 L300.50,507.70 L301.00,507.69 L301.50,507.68 L302.00,507.67 L302.50,507.66 L303.00,507.65 L303.50,507.64 L304.00,507.63 L304.50,507.62 L305.00,507.61 L305.50,507.60 L306.00,507.59 L306.50,507.58 L307.00,507.57 L307.50,507.56 L308.00,507.54 L308.50,507.53 L309.00,507.52 L309.50,507.51 L310.00,507.49 L310.50,507.48 L311.00,507.47 L311.50,507.46 L312.00,507.44 L312.50,507.43 L313.00,507.41 L313.50,507.40" fill="none" stroke="#f5a338" stroke-width="1.1"/>
<path d="M47.50,585.20 L48.00,585.20 L48.50,585.20 L49.00,585.20 L49.50,585.20 L50.00,585.20 L50.50,585.20 L51.00,585.20 L51.50,585.20 L52.00,585.20 L52.50,585.20 L53.00,585.20 L53.50,585.20 L54.00,585.20 L54.50,585.20 L55.00,585.20 L55.50,585.20 L56.00,585.20 L56.50,585.20 L57.00,584.94 L57.50,584.24 L58.00,583.18 L58.50,581.85 L59.00,580.35 L59.50,578.70 L60.00,576.40 L60.50,573.39 L61.00,569.75 L61.50,565.58 L62.00,560.96 L62.50,555.96 L63.00,550.68 L63.50,544.40 L64.00,536.05 L64.50,526.60 L65.00,517.07 L65.50,508.49 L66.00,501.83 L66.50,496.05 L67.00,490.94 L67.50,487.18 L68.00,485.03 L68.50,483.36 L69.00,482.40 L69.50,482.52 L70.00,483.70 L70.50,485.63 L71.00,487.97 L71.50,490.40 L72.00,493.50 L72.50,497.38 L73.00,501.74 L73.50,506.27 L74.00,510.66 L74.50,514.75 L75.00,519.00 L75.50,523.30 L76.00,527.47 L76.50,531.32 L77.00,534.70 L77.50,537.68 L78.00,540.46 L78.50,543.08 L79.00,545.54 L79.50,547.85 L80.00,550.04 L80.50,552.11 L81.00,554.08 L81.50,556.03 L82.00,557.94 L82.50,559.79 L83.00,561.56 L83.50,563.22 L84.00,564.76 L84.50,566.15 L85.00,567.37 L85.50,568.39 L86.00,569.32 L86.50,570.21 L87.00,571.04 L87.50,571.83 L88.00,572.56 L88.50,573.24 L89.00,573.86 L89.50,574.42 L90.00,574.91 L90.50,575.34 L91.00,575.70 L91.50,576.02 L92.00,576.34 L92.50,576.65 L93.00,576.94 L93.50,577.21 L94.00,577.45 L94.50,577.66 L95.00,577.84 L95.50,577.97 L96.00,578.06 L96.50,578.10 L97.00,578.08 L97.50,578.01 L98.00,577.88 L98.50,577.70 L99.00,577.47 L99.50,577.18 L100.00,576.84 L100.50,576.44 L101.00,575.99 L101.50,575.39 L102.00,573.74 L102.50,571.08 L103.00,567.67 L103.50,563.79 L104.00,559.71 L104.50,554.95 L105.00,548.72 L105.50,542.16 L106.00,536.50 L106.50,531.61 L107.00,526.75 L107.50,522.24 L108.00,518.35 L108.50,515.40 L109.00,513.59 L109.50,512.25 L110.00,511.15 L110.50,510.24 L111.00,509.45 L111.50,508.74 L112.00,508.07 L112.50,507.45 L113.00,506.89 L113.50,506.36 L114.00,505.87 L114.50,505.41 L115.00,504.96 L115.50,504.53 L116.00,504.09 L116.50,503.65 L117.00,503.19 L117.50,502.70 L118.00,502.18 L118.50,501.61 L119.00,501.02 L119.50,500.42 L120.00,499.81 L120.50,499.20 L121.00,498.61 L121.50,498.04 L122.00,497.50 L122.50,497.00 L123.00,496.55 L123.50,496.16 L124.00,495.84 L124.50,495.60 L125.00,495.45 L125.50,495.40 L126.00,495.43 L126.50,495.51 L127.00,495.64 L127.50,495.80 L128.00,496.00 L128.50,496.23 L129.00,496.47 L129.50,496.73 L130.00,496.99 L130.50,497.25 L131.00,497.50 L131.50,497.78 L132.00,498.11 L132.50,498.49 L133.00,498.90 L133.50,499.32 L134.00,499.75 L134.50,500.16 L135.00,500.54 L135.50,500.89 L136.00,501.18 L136.50,501.40 L137.00,501.55 L137.50,501.68 L138.00,501.79 L138.50,501.90 L139.00,502.00 L139.50,502.09 L140.00,502.18 L140.50,502.26 L141.00,502.33 L141.50,502.40 L142.00,502.47 L142.50,502.53 L143.00,502.59 L143.50,502.64 L144.00,502.70 L144.50,502.75 L145.00,502.80 L145.50,502.85 L146.00,502.89 L146.50,502.93 L147.00,502.96 L147.50,502.99 L148.00,503.02 L148.50,503.05 L149.00,503.07 L149.50,503.10 L150.00,503.12 L150.50,503.15 L151.00,503.18 L151.50,503.21 L152.00,503.25 L152.50,503.29 L153.00,503.34 L153.50,503.40 L154.00,503.46 L154.50,503.53 L155.00,503.67 L155.50,503.88 L156.00,504.14 L156.50,504.45 L157.00,504.79 L157.50,505.15 L158.00,505.53 L158.50,505.92 L159.00,506.30 L159.50,506.66 L160.00,507.00 L160.50,507.34 L161.00,507.71 L161.50,508.11 L162.00,508.53 L162.50,508.97 L163.00,509.41 L163.50,509.87 L164.00,510.32 L164.50,510.77 L165.00,511.20 L165.50,511.62 L166.00,512.02 L166.50,512.40 L167.00,512.74 L167.50,513.04 L168.00,513.30 L168.50,513.51 L169.00,513.67 L169.50,513.77 L170.00,513.80 L170.50,513.79 L171.00,513.76 L171.50,513.71 L172.00,513.64 L172.50,513.56 L173.00,513.46 L173.50,513.34 L174.00,513.21 L174.50,513.07 L175.00,512.92 L175.50,512.76 L176.00,512.58 L176.50,512.40 L177.00,512.21 L177.50,512.02 L178.00,511.82 L178.50,511.62 L179.00,511.41 L179.50,511.21 L180.00,511.00 L180.50,510.77 L181.00,510.49 L181.50,510.18 L182.00,509.83 L182.50,509.46 L183.00,509.06 L183.50,508.64 L184.00,508.21 L184.50,507.78 L185.00,507.34 L185.50,506.91 L186.00,506.49 L186.50,506.08 L187.00,505.69 L187.50,505.33 L188.00,505.00 L188.50,504.67 L189.00,504.33 L189.50,503.97 L190.00,503.61 L190.50,503.24 L191.00,502.89 L191.50,502.55 L192.00,502.23 L192.50,501.95 L193.00,501.70 L193.50,501.49 L194.00,501.33 L194.50,501.23 L195.00,501.20 L195.50,501.21 L196.00,501.23 L196.50,501.27 L197.00,501.33 L197.50,501.39 L198.00,501.47 L198.50,501.55 L199.00,501.64 L199.50,501.74 L200.00,501.85 L200.50,501.95 L201.00,502.06 L201.50,502.17 L202.00,502.29 L202.50,502.39 L203.00,502.50 L203.50,502.61 L204.00,502.74 L204.50,502.88 L205.00,503.02 L205.50,503.18 L206.00,503.34 L206.50,503.50 L207.00,503.67 L207.50,503.83 L208.00,503.99 L208.50,504.15 L209.00,504.29 L209.50,504.43 L210.00,504.55 L210.50,504.66 L211.00,504.76 L211.50,504.85 L212.00,504.95 L212.50,505.04 L213.00,505.14 L213.50,505.23 L214.00,505.32 L214.50,505.42 L215.00,505.51 L215.50,505.60 L216.00,505.68 L216.50,505.77 L217.00,505.85 L217.50,505.93 L218.00,506.01 L218.50,506.08 L219.00,506.15 L219.50,506.22 L220.00,506.28 L220.50,506.34 L221.00,506.39 L221.50,506.44 L222.00,506.48 L222.50,506.51 L223.00,506.54 L223.50,506.57 L224.00,506.59 L224.50,506.60 L225.00,506.60 L225.50,506.60 L226.00,506.60 L226.50,506.60 L227.00,506.60 L227.50,506.60 L228.00,506.59 L228.50,506.59 L229.00,506.59 L229.50,506.59 L230.00,506.59 L230.50,506.58 L231.00,506.58 L231.50,506.58 L232.00,506.57 L232.50,506.57 L233.00,506.56 L233.50,506.56 L234.00,506.56 L234.50,506.55 L235.00,506.55 L235.50,506.54 L236.00,506.54 L236.50,506.53 L237.00,506.53 L237.50,506.52 L238.00,506.52 L238.50,506.51 L239.00,506.51 L239.50,506.50 L240.00,506.49 L240.50,506.49 L241.00,506.48 L241.50,506.48 L242.00,506.47 L242.50,506.46 L243.00,506.46 L243.50,506.45 L244.00,506.45 L244.50,506.44 L245.00,506.43 L245.50,506.43 L246.00,506.42 L246.50,506.42 L247.00,506.41 L247.50,506.40 L248.00,506.40 L248.50,506.39 L249.00,506.39 L249.50,506.38 L250.00,506.38 L250.50,506.37 L251.00,506.37 L251.50,506.36 L252.00,506.36 L252.50,506.35 L253.00,506.35 L253.50,506.34 L254.00,506.34 L254.50,506.33 L255.00,506.33 L255.50,506.32 L256.00,506.32 L256.50,506.32 L257.00,506.31 L257.50,506.31 L258.00,506.31 L258.50,506.31 L259.00,506.30 L259.50,506.30 L260.00,506.30 L260.50,506.30 L261.00,506.30 L261.50,506.30 L262.00,506.29 L262.50,506.29 L263.00,506.29 L263.50,506.29 L264.00,506.29 L264.50,506.29 L265.00,506.28 L265.50,506.28 L266.00,506.28 L266.50,506.28 L267.00,506.28 L267.50,506.28 L268.00,506.28 L268.50,506.27 L269.00,506.27 L269.50,506.27 L270.00,506.27 L270.50,506.27 L271.00,506.27 L271.50,506.27 L272.00,506.26 L272.50,506.26 L273.00,506.26 L273.50,506.26 L274.00,506.26 L274.50,506.26 L275.00,506.26 L275.50,506.25 L276.00,506.25 L276.50,506.25 L277.00,506.25 L277.50,506.25 L278.00,506.25 L278.50,506.25 L279.00,506.25 L279.50,506.24 L280.00,506.24 L280.50,506.24 L281.00,506.24 L281.50,506.24 L282.00,506.24 L282.50,506.24 L283.00,506.24 L283.50,506.24 L284.00,506.23 L284.50,506.23 L285.00,506.23 L285.50,506.23 L286.00,506.23 L286.50,506.23 L287.00,506.23 L287.50,506.23 L288.00,506.23 L288.50,506.23 L289.00,506.22 L289.50,506.22 L290.00,506.22 L290.50,506.22 L291.00,506.22 L291.50,506.22 L292.00,506.22 L292.50,506.22 L293.00,506.22 L293.50,506.22 L294.00,506.22 L294.50,506.21 L295.00,506.21 L295.50,506.21 L296.00,506.21 L296.50,506.21 L297.00,506.21 L297.50,506.21 L298.00,506.21 L298.50,506.21 L299.00,506.21 L299.50,506.21 L300.00,506.21 L300.50,506.21 L301.00,506.21 L301.50,506.21 L302.00,506.21 L302.50,506.21 L303.00,506.20 L303.50,506.20 L304.00,506.20 L304.50,506.20 L305.00,506.20 L305.50,506.20 L306.00,506.20 L306.50,506.20 L307.00,506.20 L307.50,506.20 L308.00,506.20 L308.50,506.20 L309.00,506.20 L309.50,506.20 L310.00,506.20 L310.50,506.20 L311.00,506.20 L311.50,506.20 L312.00,506.20 L312.50,506.20 L313.00,506.20 L313.50,506.20" fill="none" stroke="#dc4036" stroke-width="1.1"/>
<rect x="47.5" y="466.0" width="266.0" height="119.29999999999995" fill="none" stroke="#333" stroke-width="1"/>
<line x1="43.0" y1="585.3" x2="47.5" y2="585.3" stroke="#333" stroke-width="1"/>
<text x="39.8" y="587.9" font-size="10.5" fill="#222" text-anchor="end" >0.0</text>
<line x1="43.0" y1="561.4" x2="47.5" y2="561.4" stroke="#333" stroke-width="1"/>
<text x="39.8" y="564.0" font-size="10.5" fill="#222" text-anchor="end" >0.3</text>
<line x1="43.0" y1="537.6" x2="47.5" y2="537.6" stroke="#333" stroke-width="1"/>
<text x="39.8" y="540.2" font-size="10.5" fill="#222" text-anchor="end" >0.6</text>
<line x1="43.0" y1="513.7" x2="47.5" y2="513.7" stroke="#333" stroke-width="1"/>
<text x="39.8" y="516.3" font-size="10.5" fill="#222" text-anchor="end" >0.9</text>
<line x1="43.0" y1="489.9" x2="47.5" y2="489.9" stroke="#333" stroke-width="1"/>
<text x="39.8" y="492.5" font-size="10.5" fill="#222" text-anchor="end" >1.2</text>
<line x1="43.0" y1="466.0" x2="47.5" y2="466.0" stroke="#333" stroke-width="1"/>
<text x="39.8" y="468.6" font-size="10.5" fill="#222" text-anchor="end" >1.5</text>
<line x1="45.2" y1="573.4" x2="47.5" y2="573.4" stroke="#333" stroke-width="1"/>
<line x1="45.2" y1="549.5" x2="47.5" y2="549.5" stroke="#333" stroke-width="1"/>
<line x1="45.2" y1="525.6" x2="47.5" y2="525.6" stroke="#333" stroke-width="1"/>
<line x1="45.2" y1="501.8" x2="47.5" y2="501.8" stroke="#333" stroke-width="1"/>
<line x1="45.2" y1="477.9" x2="47.5" y2="477.9" stroke="#333" stroke-width="1"/>
<line x1="47.5" y1="585.3" x2="47.5" y2="587.5999999999999" stroke="#333" stroke-width="1"/>
<line x1="85.5" y1="585.3" x2="85.5" y2="589.5999999999999" stroke="#333" stroke-width="1"/>
<text x="85.5" y="598.2" font-size="9" fill="#222" text-anchor="middle" >2</text>
<line x1="123.5" y1="585.3" x2="123.5" y2="587.5999999999999" stroke="#333" stroke-width="1"/>
<line x1="161.5" y1="585.3" x2="161.5" y2="589.5999999999999" stroke="#333" stroke-width="1"/>
<text x="161.5" y="598.2" font-size="9" fill="#222" text-anchor="middle" >4</text>
<line x1="199.5" y1="585.3" x2="199.5" y2="587.5999999999999" stroke="#333" stroke-width="1"/>
<line x1="237.5" y1="585.3" x2="237.5" y2="589.5999999999999" stroke="#333" stroke-width="1"/>
<text x="237.5" y="598.2" font-size="9" fill="#222" text-anchor="middle" >6</text>
<line x1="275.5" y1="585.3" x2="275.5" y2="587.5999999999999" stroke="#333" stroke-width="1"/>
<line x1="313.5" y1="585.3" x2="313.5" y2="589.5999999999999" stroke="#333" stroke-width="1"/>
<text x="313.5" y="598.2" font-size="9" fill="#222" text-anchor="middle" >8</text>
<text x="176.5" y="615.3" font-size="9.8" fill="#222" text-anchor="middle" >Distance (Å)</text>
<text transform="translate(19.3,527.6) rotate(-90)" font-size="10.2" fill="#222" text-anchor="middle">g(r)</text>
<line x1="226" y1="540.8" x2="248.3" y2="540.8" stroke="#e8a0a8" stroke-width="1.8"/>
<text x="250.8" y="544.2" font-size="9.2" fill="#222" text-anchor="start" >N-clusters</text>
<line x1="226" y1="552.5" x2="248.3" y2="552.5" stroke="#f8a848" stroke-width="1.1"/>
<text x="250.8" y="555.9" font-size="9.2" fill="#222" text-anchor="start" >N-SS</text>
<line x1="226" y1="564.6" x2="248.3" y2="564.6" stroke="#3a86c8" stroke-width="1.1"/>
<text x="250.8" y="568.0" font-size="9.2" fill="#222" text-anchor="start" >H-clusters</text>
<line x1="226" y1="576.5" x2="248.3" y2="576.5" stroke="#c0d8ec" stroke-width="1.1"/>
<text x="250.8" y="579.9" font-size="9.2" fill="#222" text-anchor="start" >H-SS</text>
<defs><radialGradient id="halo"><stop offset="0" stop-color="#c4d8ee"/><stop offset="0.7" stop-color="#d4e3f3"/><stop offset="1" stop-color="#e8f0f9" stop-opacity="0"/></radialGradient></defs>
<circle cx="151.2" cy="544.4" r="10.5" fill="url(#halo)"/>
<line x1="126.5" y1="545.5" x2="147" y2="545.5" stroke="#999" stroke-width="0.6"/>
<line x1="137.3" y1="535" x2="137.3" y2="555.2" stroke="#999" stroke-width="0.6"/>
<line x1="147" y1="545.5" x2="149.8" y2="540" stroke="#999" stroke-width="0.5"/>
<line x1="147" y1="545.5" x2="149.8" y2="550.7" stroke="#999" stroke-width="0.5"/>
<circle cx="137.3" cy="535" r="2.7" fill="url(#gO)"/>
<circle cx="126.5" cy="545.5" r="2.7" fill="url(#gO)"/>
<circle cx="137.3" cy="555.2" r="2.7" fill="url(#gO)"/>
<circle cx="136.4" cy="545.5" r="2.7" fill="url(#gS)"/>
<circle cx="147" cy="545.5" r="2.6" fill="url(#gN)"/>
<circle cx="149.8" cy="540" r="1.3" fill="url(#gC)"/>
<circle cx="149.8" cy="550.7" r="1.3" fill="url(#gC)"/>
<text x="157.4" y="543.7" font-size="7" fill="#222" text-anchor="start" >Distance</text>
<line x1="163" y1="545.5" x2="183.5" y2="545.5" stroke="#222" stroke-width="0.7" stroke-dasharray="1.6,1"/>
<circle cx="195.6" cy="539.4" r="2.53" fill="#f0a070"/>
<circle cx="193.76" cy="537.90" r="1.26" fill="#fafafa" stroke="#c8c8c8" stroke-width="0.3"/>
<circle cx="197.44" cy="537.90" r="1.26" fill="#fafafa" stroke="#c8c8c8" stroke-width="0.3"/>
<circle cx="187.7" cy="546.2" r="2.53" fill="#f0a070"/>
<circle cx="185.86" cy="544.71" r="1.26" fill="#fafafa" stroke="#c8c8c8" stroke-width="0.3"/>
<circle cx="189.54" cy="544.71" r="1.26" fill="#fafafa" stroke="#c8c8c8" stroke-width="0.3"/>
<text x="196" y="549.7" font-size="7.6" fill="#222">H<tspan dy="1.8" font-size="5">2</tspan><tspan dy="-1.8">O</tspan></text>
<text x="143.3" y="565.9" font-size="7" fill="#222">-NH<tspan dy="1.6" font-size="4.6">2</tspan><tspan dy="-1.6"> (SS)</tspan></text>
<circle cx="228" cy="480.9" r="9.8" fill="url(#halo)"/>
<line x1="228.9" y1="481.8" x2="235.5" y2="488.5" stroke="#999" stroke-width="0.6"/>
<line x1="235.5" y1="488.5" x2="240.3" y2="478" stroke="#999" stroke-width="0.6"/>
<line x1="235.5" y1="488.5" x2="227" y2="495.1" stroke="#999" stroke-width="0.6"/>
<line x1="235.5" y1="488.5" x2="244.7" y2="495.7" stroke="#999" stroke-width="0.6"/>
<line x1="228.9" y1="481.8" x2="224.2" y2="477.5" stroke="#999" stroke-width="0.5"/>
<line x1="228.9" y1="481.8" x2="226.1" y2="488.1" stroke="#999" stroke-width="0.5"/>
<circle cx="228.9" cy="481.8" r="2.6" fill="url(#gN)"/>
<circle cx="224.2" cy="477.5" r="1.3" fill="url(#gC)"/>
<circle cx="226.1" cy="488.1" r="1.3" fill="url(#gC)"/>
<circle cx="235.5" cy="488.5" r="2.7" fill="url(#gS)"/>
<circle cx="240.3" cy="478" r="2.8" fill="url(#gO)"/>
<circle cx="227" cy="495.1" r="2.8" fill="url(#gO)"/>
<circle cx="244.7" cy="495.7" r="2.8" fill="url(#gO)"/>
<text x="161" y="486.6" font-size="7.6" fill="#222">H<tspan dy="1.8" font-size="5">2</tspan><tspan dy="-1.8">O</tspan></text>
<circle cx="182.3" cy="478.2" r="2.53" fill="#f0a070"/>
<circle cx="180.46" cy="476.70" r="1.26" fill="#fafafa" stroke="#c8c8c8" stroke-width="0.3"/>
<circle cx="184.14" cy="476.70" r="1.26" fill="#fafafa" stroke="#c8c8c8" stroke-width="0.3"/>
<circle cx="179.7" cy="486.4" r="2.53" fill="#f0a070"/>
<circle cx="177.86" cy="484.90" r="1.26" fill="#fafafa" stroke="#c8c8c8" stroke-width="0.3"/>
<circle cx="181.54" cy="484.90" r="1.26" fill="#fafafa" stroke="#c8c8c8" stroke-width="0.3"/>
<circle cx="191.1" cy="485.2" r="2.53" fill="#f0a070"/>
<circle cx="189.26" cy="483.70" r="1.26" fill="#fafafa" stroke="#c8c8c8" stroke-width="0.3"/>
<circle cx="192.94" cy="483.70" r="1.26" fill="#fafafa" stroke="#c8c8c8" stroke-width="0.3"/>
<circle cx="187.2" cy="489.9" r="2.53" fill="#f0a070"/>
<circle cx="185.36" cy="488.40" r="1.26" fill="#fafafa" stroke="#c8c8c8" stroke-width="0.3"/>
<circle cx="189.04" cy="488.40" r="1.26" fill="#fafafa" stroke="#c8c8c8" stroke-width="0.3"/>
<text x="193.8" y="481.3" font-size="7" fill="#222" text-anchor="start" >Distance</text>
<line x1="195.5" y1="482.8" x2="217.5" y2="482.8" stroke="#222" stroke-width="0.7" stroke-dasharray="1.6,1"/>
<text x="253.6" y="491.3" font-size="7" fill="#222">-NH<tspan dy="1.6" font-size="4.6">2</tspan><tspan dy="-1.6"> (SG-GA-SS)</tspan></text>
<text x="336.8" y="454.2" font-size="17" fill="#111" text-anchor="start" >f</text>
<svg x="366.5" y="471.5" width="114.4" height="114" viewBox="0 0 114.4 114" overflow="hidden">
<path d="M14.7 56.9l-1.3 -0.9M16.9 105.8l1.6 0.8M108.5 70.9l-1.7 1.8M75.8 31.4l2.0 2.3M76.7 58.4l1.1 -2.4M112.2 23.3l-2.3 -0.8M40.4 67.4l0.3 3.1M99.2 14.7l-2.0 0.4M9.5 102.1l-1.6 0.8M77.0 23.1l1.6 -1.1M3.8 22.9l-1.4 2.0M103.7 79.5l-0.8 1.3M18.3 113.6l-2.8 0.7M6.3 3.9l1.5 -2.2M35.3 36.2l1.6 1.0M2.8 95.7l-1.7 0.4M84.6 22.3l2.5 1.0M102.5 3.1l0.6 -1.8M10.6 2.0l-0.8 2.8M56.4 97.2l0.4 2.1M29.5 111.5l2.0 -0.8M49.9 35.8l-0.0 -1.6M7.7 46.1l0.1 3.2M84.9 62.2l-1.5 -2.4M89.4 105.7l1.6 2.2M16.4 50.5l0.7 -3.2M86.9 4.0l-1.2 1.4M114.3 16.4l0.1 2.2M7.0 99.2l-1.2 -1.4M57.0 9.0l-1.5 -1.3M4.4 13.1l-2.6 -0.9M37.2 73.4l-1.1 1.4M36.1 45.1l1.5 -0.9M9.9 64.0l3.2 -0.8M80.1 7.6l1.0 -2.7M16.5 53.0l3.0 0.9M82.2 91.7l0.1 -2.0M90.3 28.4l1.5 1.7M57.0 32.6l-2.1 -1.7M27.4 71.0l-1.9 2.3M33.2 91.1l-2.2 1.3M77.0 59.1l-0.2 3.5M11.0 37.0l-1.5 -0.5M17.7 91.1l0.6 -2.7M103.2 86.1l-0.8 2.7M38.9 85.5l-1.4 1.2M100.3 78.7l-0.1 -2.6M89.6 51.1l-1.5 -0.7M63.5 92.9l-0.9 -3.0M56.8 100.5l2.5 2.0M42.5 10.4l-1.8 -1.6M49.0 97.1l1.8 2.1M47.3 60.2l-1.8 0.0M58.6 98.3l0.7 1.3M7.7 52.4l1.6 -0.3M113.4 61.1l1.7 1.6M23.7 81.4l-2.0 -0.5M29.2 98.8l0.2 -2.4M46.4 84.1l1.6 -0.3M18.2 41.3l-1.6 -0.1M6.1 25.0l-2.2 2.0M69.8 3.3l2.3 0.7M100.1 104.3l-2.2 2.5M106.3 46.4l-0.1 -2.2M17.6 65.6l2.4 1.5M92.6 104.4l-1.6 0.6M103.2 99.2l2.6 -0.5M77.0 42.6l0.8 1.9M82.4 37.0l-0.9 -2.3M51.4 110.3l1.2 2.1M18.3 106.9l-2.2 0.2M19.3 67.7l-1.4 1.0M3.7 44.6l-2.2 -1.3M103.0 103.9l2.9 -1.2M54.6 59.7l-1.8 1.4M4.8 91.1l0.0 1.6M53.4 81.8l-2.1 0.9M75.3 18.6l2.7 0.2M60.7 98.7l-2.7 1.5M2.1 3.1l-1.6 -1.1M7.7 14.6l-1.5 1.5M64.5 101.2l-1.2 1.4M66.1 0.2l-1.6 1.4M44.3 5.8l-2.6 -0.9M85.7 109.1l-1.7 2.2M50.6 24.5l2.3 -1.9M107.9 93.7l1.5 -0.9M1.8 22.6l-2.4 1.5M50.2 58.5l0.1 -1.6M77.6 5.6l0.0 2.9M78.1 46.2l-0.9 3.0M31.4 3.6l0.0 1.5M92.7 13.9l1.9 -0.3M35.0 66.7l-0.8 2.1M11.9 44.4l1.9 0.3M104.0 32.0l-0.4 2.8M101.0 33.7l-2.1 2.1M90.6 70.0l0.8 1.7M86.7 80.6l2.4 -1.9M48.2 15.2l2.2 -1.8M65.9 77.7l-1.6 1.4M65.8 55.0l-0.9 -3.3M96.9 44.2l-2.3 2.4M45.1 91.2l2.0 1.3M59.1 92.2l1.3 -1.3M70.6 71.7l1.8 2.6M63.3 109.6l1.0 2.3M37.0 73.2l-2.0 -1.6M37.2 57.4l-2.3 2.4M52.8 54.2l-0.1 2.0M109.1 35.8l1.8 -2.0M112.2 18.7l2.8 -1.1M65.0 80.8l-0.4 -2.4M72.6 26.1l2.8 0.4M54.3 103.2l-0.3 3.1M112.8 102.4l1.8 -0.4M18.9 26.0l-1.1 1.3M17.2 2.1l2.0 -0.9M71.6 51.8l-0.1 -3.1M43.8 61.0l1.7 1.2M25.5 35.2l-1.2 2.4M38.1 37.3l0.7 -1.3M0.6 6.5l1.8 -2.1M83.3 109.2l0.7 3.3M27.8 59.2l-1.3 -2.8M28.4 54.4l2.0 0.6M112.2 103.2l-2.7 -1.5M103.2 37.8l2.4 -0.3M18.2 60.4l-2.4 -1.6M76.8 4.7l-2.1 -2.6M76.7 111.2l-3.1 -0.2M16.0 102.1l-3.0 1.3M36.7 71.2l1.7 -2.4M70.9 110.7l1.5 0.9M63.1 108.8l-0.8 -2.0M12.3 51.1l-2.4 0.3M70.9 31.1l1.5 -1.4M12.2 39.8l1.7 -0.7M31.8 105.6l-1.8 2.6M5.2 101.3l0.1 1.9M84.9 112.8l2.9 -0.8M104.6 112.5l-1.7 -0.6M97.2 45.1l-1.0 2.3M4.0 2.1l-0.2 2.7M85.7 109.1l1.4 -3.1M72.8 83.7l-1.4 -0.9M7.1 86.7l0.9 2.9M53.1 0.8l-2.2 -0.9M8.5 29.8l-0.8 2.1M80.9 19.1l-2.5 0.9M108.3 13.1l1.7 0.9M25.2 18.6l1.7 0.9M25.6 54.7l-1.3 -1.8M19.2 10.8l-0.2 1.8M55.0 99.3l-0.4 -1.9M4.1 7.7l-2.0 0.9M78.1 9.6l-0.1 2.9M65.0 58.9l1.4 -1.0M22.4 64.5l-3.2 -1.4M111.8 66.9l0.2 -2.9M15.2 68.7l-0.8 2.1M17.9 1.0l1.8 -2.3M86.1 32.8l-1.6 0.9M68.9 95.7l0.6 -3.3M29.8 80.0l1.8 1.8M12.6 61.6l-2.1 -0.6M40.0 81.1l-2.3 0.3M12.9 32.2l2.0 -2.8M42.7 99.3l1.4 -1.4M31.3 79.3l-1.2 3.2M41.8 83.2l-0.5 -1.9M99.1 37.5l1.2 1.0M51.7 72.2l-0.4 3.2M30.6 96.6l2.0 0.4M18.2 51.0l-1.4 1.8M97.4 66.1l-1.8 -1.4M92.4 57.2l-0.1 -3.3M70.0 49.6l-0.3 3.3M87.5 91.1l0.4 2.3M101.1 28.0l1.0 -2.4M25.0 42.8l2.5 1.3M83.2 3.3l-1.0 2.9M22.9 61.2l0.9 -2.5M14.0 103.6l-0.1 -2.6M38.1 66.4l-1.3 1.1M14.0 5.2l1.0 1.7M72.7 66.1l-2.6 -1.7M10.9 44.3l2.1 1.1M9.0 7.6l1.8 1.4M87.3 32.1l-0.1 -2.0M32.9 53.7l2.1 1.1M66.8 94.0l2.9 1.1M65.2 65.9l3.1 1.0M31.7 62.3l-3.2 -0.8M68.8 113.0l0.3 2.8M66.0 58.5l-1.8 -1.9M38.5 73.1l2.1 1.2M51.8 24.3l-2.6 -1.2M14.3 33.9l2.5 1.0M9.3 26.2l-2.3 0.8M3.8 108.0l0.3 2.7M25.4 67.9l-1.3 1.7M54.3 66.8l-2.3 -1.7M30.7 10.4l-0.0 2.2M69.5 47.2l-0.6 1.6M68.3 12.5l-2.9 -0.3M71.3 18.2l-2.1 2.7M10.4 77.4l-2.5 1.1M45.0 14.1l-1.4 -0.6M98.8 91.1l-1.8 1.8M60.3 111.7l2.0 0.6M46.6 89.8l-0.3 -2.3M1.3 73.9l-1.4 1.0M72.2 50.7l-0.7 1.9M59.6 28.2l-2.7 2.1M54.7 28.9l-3.3 -0.4M99.1 77.2l2.4 -1.8M77.8 48.8l1.8 2.4M72.6 110.3l-1.4 2.9M25.0 107.9l1.6 -0.0M37.1 113.8l2.8 -0.6M15.4 0.8l0.0 3.4M92.1 48.8l0.2 -3.3M34.3 99.7l-0.3 2.1M5.1 18.3l-1.5 -0.5M62.4 19.4l-0.0 -1.8M23.7 30.7l-2.7 -1.5M86.2 84.5l-1.1 -2.4M39.2 20.5l1.5 -1.8M74.4 7.8l-1.1 1.3M40.6 83.6l-1.6 2.4M14.1 43.9l-2.1 1.3M26.1 79.6l2.3 -2.1M3.5 55.6l-1.5 2.2M9.5 83.2l-2.9 1.7M2.2 47.6l-3.2 0.3M86.5 20.8l-1.1 2.8M48.0 30.0l2.9 -1.3M40.7 62.6l1.7 -0.8M104.0 100.8l-0.4 -2.8M78.4 62.0l-1.6 -0.9M64.4 76.7l-2.8 0.3M52.4 91.6l-0.3 -1.7M88.0 32.5l1.5 0.9M37.1 59.8l-0.9 1.7M88.0 42.6l1.4 -1.4M78.9 40.8l1.6 -2.3M77.6 10.6l0.0 -2.2M84.7 96.4l1.1 1.1M86.7 110.4l1.9 -1.4M95.4 2.7l2.5 1.0M60.4 94.0l0.3 2.4M113.2 34.5l-2.2 1.5M113.8 20.8l-0.8 -2.2M45.8 29.3l-2.6 0.6M44.9 57.7l-2.1 -2.4M64.2 43.6l1.8 -0.4M5.2 103.6l-0.2 1.8M44.1 39.1l-2.0 2.5M33.2 15.1l0.7 3.3M49.1 41.1l0.6 -3.3M58.4 92.9l-0.2 2.2M65.9 26.9l-0.3 1.9M30.0 95.7l0.5 -1.7M39.9 82.3l1.7 -2.0M83.1 27.1l0.6 -3.1M46.6 26.9l2.7 0.6M72.4 0.1l-3.3 -0.4M3.3 15.7l2.2 0.8M44.0 99.2l1.7 0.8M107.3 2.2l-0.1 2.3M0.1 32.7l-2.2 -1.6M69.6 74.2l-1.2 -1.0M74.9 66.6l0.5 2.3M27.2 99.0l-0.3 1.8M91.1 86.8l1.7 -2.3M47.7 54.2l-2.5 -0.9M108.1 30.3l0.2 -1.5M21.8 107.7l-0.0 2.5M104.8 74.6l-2.9 0.2M111.9 107.3l0.7 1.6M32.9 16.5l0.3 -3.2M16.1 8.3l-1.3 2.6M88.1 52.5l-2.1 -2.6M100.7 13.4l-0.7 -3.0M103.8 47.7l1.4 2.0M42.4 44.9l0.9 -2.7M77.8 74.4l1.0 1.3M45.2 96.9l-1.8 -2.5M71.2 89.4l2.9 -0.1M98.6 110.9l-0.2 -3.1M9.0 4.1l1.8 -0.9M34.9 15.4l-1.0 -1.2M91.4 34.0l-0.1 -3.3M79.0 48.4l-2.3 -2.3M81.4 28.8l3.3 0.2M71.3 7.2l-2.5 -0.8M33.6 101.0l0.1 1.8M35.4 38.6l2.1 -1.9M13.9 44.9l2.3 1.8M97.8 10.7l-2.0 0.0M32.6 85.1l2.0 -0.3M62.1 35.4l2.5 1.0M17.8 78.4l-0.0 -1.8M68.2 23.8l0.2 -2.1M78.9 73.9l-1.7 -0.9M95.4 40.5l0.3 -2.4M51.3 81.2l-1.6 2.5M50.9 84.4l-1.1 -3.2M46.7 39.8l2.5 -0.1M47.9 79.9l-0.0 3.4M86.2 74.0l-0.8 3.0M105.1 90.2l1.4 -0.9M84.8 98.8l-1.6 0.2M62.1 27.6l3.3 0.7M95.2 72.3l-0.0 -2.8M52.9 13.8l-0.6 2.4M66.6 34.4l1.5 1.6M21.2 106.1l0.4 2.3M62.0 28.8l-2.6 0.1M5.6 108.0l-1.7 -0.4M112.4 19.2l-0.3 -2.4M29.5 43.3l-2.2 0.3M28.3 47.4l-2.6 1.1M22.6 5.2l0.8 -1.4M72.2 62.6l1.9 -0.3M101.6 14.9l1.3 2.5M19.0 66.9l-0.8 -1.6M90.4 48.2l1.5 -0.3M9.0 70.7l-0.1 2.3M104.0 39.2l1.7 0.6M63.6 88.3l0.1 -2.4M27.4 14.6l0.3 1.9M103.8 46.5l2.1 1.9M52.3 3.3l3.4 -0.4M30.0 95.0l-2.7 0.8M74.7 83.4l-1.7 0.7M92.0 50.2l-2.8 1.1M78.4 112.7l-2.1 1.8M9.6 12.8l-0.1 2.1M51.0 26.1l2.2 -0.9M43.7 102.8l0.9 -2.9M104.6 84.0l-1.2 3.2M3.1 102.3l-1.9 1.1M54.3 45.6l2.0 -2.4M85.4 26.5l-1.5 0.6M84.9 4.8l-1.4 1.1M97.5 104.7l-0.8 3.1M20.4 81.1l-0.0 2.4M69.9 40.0l0.9 2.5M90.8 113.5l-0.9 1.8M8.7 23.3l2.0 0.3M83.1 13.1l-1.3 -1.7M26.2 55.1l-2.2 0.9M13.5 64.4l1.2 -0.9M9.3 66.8l-0.8 1.8M113.0 35.1l2.4 -1.3M3.5 30.3l2.3 1.2M103.9 6.0l1.5 0.3M31.2 18.9l3.0 -0.6M107.5 66.1l1.3 -2.6M33.4 74.4l-0.6 2.4M94.1 25.2l1.5 2.9M53.0 19.8l-0.9 1.9M102.5 53.9l2.1 -1.2M107.5 104.5l-2.8 -1.3M32.8 13.2l-1.3 -1.0M53.5 70.7l0.4 -3.3M23.3 98.7l-2.7 0.1M52.9 96.6l-0.5 1.4M94.9 75.4l-0.4 -1.7M23.6 71.3l-0.1 -2.8M68.2 74.6l1.4 1.9M37.7 83.9l-2.9 -0.3M79.5 103.2l1.0 -1.3M76.4 42.6l2.0 1.5M96.5 90.8l1.5 1.2M79.5 110.4l1.5 0.8M79.6 70.2l0.7 -1.8M56.5 91.3l-1.7 1.5M3.8 91.0l-2.1 0.7M75.0 97.2l1.5 -1.6M69.6 44.2l1.6 -2.6M75.7 93.9l-2.6 -0.2M18.6 80.7l-0.6 2.5M0.2 45.3l-2.1 -1.8M64.5 28.7l-1.6 -2.3M67.5 43.0l1.5 2.1M5.9 104.4l-1.2 1.7M51.6 11.8l2.6 -2.3M94.2 65.4l2.0 -0.8M53.2 19.6l-3.0 1.5M75.9 62.2l-2.7 -0.6M69.8 51.6l-1.7 -0.1M50.7 76.9l0.3 2.0M92.1 15.5l1.1 3.0M13.8 34.3l2.0 -1.2M93.5 87.2l1.9 0.2M104.3 36.6l-2.8 1.9M12.5 110.8l-1.7 -2.2M0.1 71.9l1.0 -2.1M8.4 15.1l2.1 1.1M93.5 6.7l-1.9 1.3M45.5 60.0l-1.9 -0.4M90.9 58.9l-2.1 2.7M80.7 18.6l2.6 -0.5M38.9 27.1l1.8 0.8M33.1 39.2l2.7 -0.2M22.0 42.2l-1.5 0.7M53.6 57.9l2.0 -1.3M78.8 77.5l1.2 2.3M51.4 18.5l3.5 0.5M10.4 101.1l-1.1 1.2M110.4 75.3l-2.6 1.8M81.0 47.4l-0.6 -2.9M19.7 81.7l2.5 -1.4M91.4 112.9l0.7 -2.3M64.3 87.4l-1.1 -1.2M6.9 31.1l0.8 -1.8M36.5 93.8l1.4 1.5M29.3 5.4l-0.1 -2.1M46.6 38.0l2.9 1.3M15.4 32.5l-0.4 -2.2M58.0 37.6l-2.0 -0.8M52.2 1.0l2.5 0.2M93.5 113.8l0.8 -2.4M73.7 76.5l-0.4 -3.5M39.3 50.9l0.3 -1.9M11.0 102.5l3.3 0.3M104.7 18.9l0.1 -2.1M31.0 112.1l2.3 -2.0M49.9 112.4l-3.1 -1.5M82.5 5.3l0.9 -3.0M100.8 70.9l3.1 0.8M48.3 22.4l0.5 1.8M93.3 8.3l1.3 -0.8M82.7 26.3l-1.8 -0.2M102.9 17.8l-2.7 0.6M51.8 24.6l-0.8 3.3M14.3 2.0l2.7 -1.8M78.4 53.8l2.2 -0.7M1.5 49.6l-2.6 -0.5M101.6 7.7l1.5 -2.0M83.8 47.2l-0.6 2.1M31.4 51.7l-2.6 -1.8M20.0 51.3l-3.1 -0.6M81.2 71.0l-1.1 -2.1M92.3 95.5l-1.6 -0.7M48.8 30.2l0.7 2.0M93.7 39.6l-2.0 1.0M21.1 65.1l-2.9 1.7M70.8 111.5l1.6 -1.9M1.9 24.3l2.2 2.0M15.8 73.5l-1.1 2.2M86.6 34.0l1.0 1.8M108.0 63.0l-0.4 1.7M7.8 38.1l-1.8 -1.6M92.9 113.4l-2.0 -0.9M90.9 10.1l0.2 -3.3M88.8 11.2l-2.7 -1.5M47.1 96.2l1.3 2.2M63.9 89.9l-1.7 1.1M81.5 13.0l-1.6 1.8M90.1 48.4l-2.6 -1.1M77.3 109.8l-2.6 0.6M2.2 21.9l0.0 1.9M59.4 22.7l-2.9 -1.3M8.3 27.7l-1.6 0.0M16.4 65.5l-2.7 2.0M65.3 86.3l-1.3 1.9M97.6 70.1l1.7 -1.0M13.1 77.2l1.2 1.2M44.7 78.3l-1.9 2.3M52.1 32.5l-2.6 -0.6M17.2 67.4l1.7 3.0" stroke="#b4e8f6" stroke-width="0.7" stroke-dasharray="0.7,0.5" fill="none"/>
<g fill="#e4e4e4" stroke="#7c7c7c" stroke-width="0.35"><circle cx="1.0" cy="1.3" r="0.6"/><circle cx="2.6" cy="-0.2" r="0.6"/><circle cx="1.9" cy="5.4" r="0.6"/><circle cx="0.3" cy="6.9" r="0.6"/><circle cx="2.7" cy="10.5" r="0.6"/><circle cx="1.9" cy="12.5" r="0.6"/><circle cx="2.9" cy="17.4" r="0.6"/><circle cx="1.5" cy="15.8" r="0.6"/><circle cx="3.1" cy="20.9" r="0.6"/><circle cx="0.9" cy="21.0" r="0.6"/><circle cx="2.7" cy="24.7" r="0.6"/><circle cx="1.0" cy="23.2" r="0.6"/><circle cx="2.2" cy="29.1" r="0.6"/><circle cx="0.0" cy="28.8" r="0.6"/><circle cx="3.0" cy="30.3" r="0.6"/><circle cx="4.1" cy="32.1" r="0.6"/><circle cx="2.0" cy="34.4" r="0.6"/><circle cx="4.0" cy="35.3" r="0.6"/><circle cx="-0.3" cy="42.1" r="0.6"/><circle cx="1.7" cy="41.0" r="0.6"/><circle cx="4.5" cy="46.5" r="0.6"/><circle cx="3.4" cy="48.3" r="0.6"/><circle cx="2.0" cy="48.5" r="0.6"/><circle cx="4.1" cy="49.1" r="0.6"/><circle cx="3.9" cy="56.5" r="0.6"/><circle cx="2.6" cy="54.8" r="0.6"/><circle cx="3.4" cy="59.4" r="0.6"/><circle cx="5.0" cy="60.9" r="0.6"/><circle cx="2.4" cy="64.4" r="0.6"/><circle cx="1.7" cy="66.5" r="0.6"/><circle cx="2.1" cy="68.4" r="0.6"/><circle cx="0.3" cy="69.7" r="0.6"/><circle cx="2.7" cy="70.7" r="0.6"/><circle cx="1.1" cy="72.2" r="0.6"/><circle cx="1.8" cy="74.6" r="0.6"/><circle cx="3.8" cy="75.4" r="0.6"/><circle cx="3.6" cy="79.7" r="0.6"/><circle cx="4.3" cy="81.8" r="0.6"/><circle cx="0.3" cy="83.0" r="0.6"/><circle cx="2.5" cy="83.0" r="0.6"/><circle cx="3.6" cy="91.5" r="0.6"/><circle cx="1.6" cy="90.7" r="0.6"/><circle cx="4.4" cy="93.1" r="0.6"/><circle cx="3.7" cy="95.2" r="0.6"/><circle cx="4.2" cy="95.7" r="0.6"/><circle cx="4.7" cy="97.9" r="0.6"/><circle cx="5.0" cy="104.1" r="0.6"/><circle cx="3.1" cy="105.2" r="0.6"/><circle cx="0.1" cy="108.0" r="0.6"/><circle cx="2.1" cy="108.8" r="0.6"/><circle cx="0.2" cy="113.9" r="0.6"/><circle cx="-0.2" cy="111.7" r="0.6"/><circle cx="6.2" cy="4.1" r="0.6"/><circle cx="4.4" cy="2.9" r="0.6"/><circle cx="7.7" cy="6.6" r="0.6"/><circle cx="6.5" cy="4.7" r="0.6"/><circle cx="7.2" cy="11.7" r="0.6"/><circle cx="6.2" cy="13.7" r="0.6"/><circle cx="7.8" cy="13.8" r="0.6"/><circle cx="6.4" cy="15.5" r="0.6"/><circle cx="4.9" cy="17.1" r="0.6"/><circle cx="6.5" cy="18.6" r="0.6"/><circle cx="4.8" cy="24.9" r="0.6"/><circle cx="4.1" cy="22.8" r="0.6"/><circle cx="6.2" cy="28.2" r="0.6"/><circle cx="8.2" cy="27.1" r="0.6"/><circle cx="5.8" cy="33.6" r="0.6"/><circle cx="3.8" cy="32.5" r="0.6"/><circle cx="5.9" cy="38.3" r="0.6"/><circle cx="5.6" cy="36.1" r="0.6"/><circle cx="6.3" cy="41.2" r="0.6"/><circle cx="8.4" cy="41.8" r="0.6"/><circle cx="6.1" cy="46.2" r="0.6"/><circle cx="7.9" cy="44.9" r="0.6"/><circle cx="5.0" cy="52.7" r="0.6"/><circle cx="3.7" cy="51.0" r="0.6"/><circle cx="7.1" cy="56.9" r="0.6"/><circle cx="6.6" cy="54.7" r="0.6"/><circle cx="7.1" cy="59.4" r="0.6"/><circle cx="7.3" cy="61.6" r="0.6"/><circle cx="6.2" cy="63.5" r="0.6"/><circle cx="5.7" cy="65.7" r="0.6"/><circle cx="6.9" cy="70.0" r="0.6"/><circle cx="5.7" cy="68.2" r="0.6"/><circle cx="6.4" cy="73.8" r="0.6"/><circle cx="4.8" cy="75.3" r="0.6"/><circle cx="6.2" cy="75.2" r="0.6"/><circle cx="4.9" cy="76.9" r="0.6"/><circle cx="7.8" cy="80.6" r="0.6"/><circle cx="7.0" cy="82.7" r="0.6"/><circle cx="4.4" cy="83.9" r="0.6"/><circle cx="6.6" cy="84.1" r="0.6"/><circle cx="7.6" cy="90.5" r="0.6"/><circle cx="7.0" cy="88.4" r="0.6"/><circle cx="5.3" cy="93.7" r="0.6"/><circle cx="6.0" cy="91.6" r="0.6"/><circle cx="7.6" cy="100.5" r="0.6"/><circle cx="5.6" cy="99.8" r="0.6"/><circle cx="7.5" cy="103.4" r="0.6"/><circle cx="6.2" cy="101.7" r="0.6"/><circle cx="5.7" cy="109.2" r="0.6"/><circle cx="5.1" cy="107.2" r="0.6"/><circle cx="7.7" cy="111.5" r="0.6"/><circle cx="9.6" cy="112.6" r="0.6"/><circle cx="11.3" cy="0.2" r="0.6"/><circle cx="10.1" cy="2.0" r="0.6"/><circle cx="11.7" cy="6.9" r="0.6"/><circle cx="9.7" cy="7.9" r="0.6"/><circle cx="11.5" cy="12.1" r="0.6"/><circle cx="9.6" cy="13.2" r="0.6"/><circle cx="9.6" cy="15.3" r="0.6"/><circle cx="9.1" cy="13.1" r="0.6"/><circle cx="10.7" cy="21.8" r="0.6"/><circle cx="10.4" cy="19.7" r="0.6"/><circle cx="8.6" cy="23.3" r="0.6"/><circle cx="10.6" cy="22.4" r="0.6"/><circle cx="10.9" cy="25.7" r="0.6"/><circle cx="11.0" cy="27.9" r="0.6"/><circle cx="11.8" cy="30.0" r="0.6"/><circle cx="12.9" cy="31.9" r="0.6"/><circle cx="12.5" cy="38.4" r="0.6"/><circle cx="10.3" cy="38.6" r="0.6"/><circle cx="11.1" cy="41.4" r="0.6"/><circle cx="9.8" cy="39.6" r="0.6"/><circle cx="8.4" cy="47.0" r="0.6"/><circle cx="8.8" cy="44.9" r="0.6"/><circle cx="10.1" cy="47.7" r="0.6"/><circle cx="12.2" cy="48.2" r="0.6"/><circle cx="8.4" cy="56.8" r="0.6"/><circle cx="8.6" cy="54.6" r="0.6"/><circle cx="11.7" cy="60.0" r="0.6"/><circle cx="9.9" cy="61.2" r="0.6"/><circle cx="11.0" cy="62.0" r="0.6"/><circle cx="10.3" cy="64.0" r="0.6"/><circle cx="12.9" cy="68.2" r="0.6"/><circle cx="11.1" cy="67.0" r="0.6"/><circle cx="9.4" cy="72.7" r="0.6"/><circle cx="10.7" cy="71.0" r="0.6"/><circle cx="13.1" cy="76.3" r="0.6"/><circle cx="11.1" cy="77.3" r="0.6"/><circle cx="11.1" cy="81.4" r="0.6"/><circle cx="10.5" cy="79.3" r="0.6"/><circle cx="11.8" cy="85.2" r="0.6"/><circle cx="10.3" cy="83.5" r="0.6"/><circle cx="10.4" cy="87.1" r="0.6"/><circle cx="10.9" cy="89.2" r="0.6"/><circle cx="8.3" cy="94.7" r="0.6"/><circle cx="10.4" cy="94.1" r="0.6"/><circle cx="11.5" cy="98.4" r="0.6"/><circle cx="11.8" cy="100.6" r="0.6"/><circle cx="11.8" cy="102.9" r="0.6"/><circle cx="12.0" cy="100.8" r="0.6"/><circle cx="11.2" cy="110.2" r="0.6"/><circle cx="11.1" cy="108.0" r="0.6"/><circle cx="11.0" cy="109.1" r="0.6"/><circle cx="11.3" cy="111.3" r="0.6"/><circle cx="15.2" cy="3.7" r="0.6"/><circle cx="14.0" cy="1.9" r="0.6"/><circle cx="15.0" cy="7.6" r="0.6"/><circle cx="15.7" cy="5.5" r="0.6"/><circle cx="15.6" cy="8.8" r="0.6"/><circle cx="15.3" cy="11.0" r="0.6"/><circle cx="16.2" cy="15.4" r="0.6"/><circle cx="14.3" cy="16.5" r="0.6"/><circle cx="15.2" cy="20.0" r="0.6"/><circle cx="13.0" cy="19.5" r="0.6"/><circle cx="17.9" cy="24.6" r="0.6"/><circle cx="15.7" cy="24.7" r="0.6"/><circle cx="13.8" cy="30.4" r="0.6"/><circle cx="12.9" cy="28.4" r="0.6"/><circle cx="14.8" cy="31.6" r="0.6"/><circle cx="16.2" cy="33.3" r="0.6"/><circle cx="16.3" cy="36.4" r="0.6"/><circle cx="14.2" cy="37.0" r="0.6"/><circle cx="17.3" cy="41.1" r="0.6"/><circle cx="16.7" cy="43.2" r="0.6"/><circle cx="16.0" cy="45.0" r="0.6"/><circle cx="16.8" cy="43.0" r="0.6"/><circle cx="16.0" cy="51.5" r="0.6"/><circle cx="14.3" cy="50.0" r="0.6"/><circle cx="16.2" cy="54.8" r="0.6"/><circle cx="15.6" cy="56.9" r="0.6"/><circle cx="13.4" cy="58.0" r="0.6"/><circle cx="15.6" cy="58.1" r="0.6"/><circle cx="14.4" cy="62.5" r="0.6"/><circle cx="15.3" cy="64.5" r="0.6"/><circle cx="14.1" cy="65.6" r="0.6"/><circle cx="16.3" cy="65.5" r="0.6"/><circle cx="13.6" cy="70.9" r="0.6"/><circle cx="15.7" cy="71.6" r="0.6"/><circle cx="14.5" cy="74.5" r="0.6"/><circle cx="16.6" cy="74.6" r="0.6"/><circle cx="16.5" cy="81.0" r="0.6"/><circle cx="16.7" cy="83.2" r="0.6"/><circle cx="16.2" cy="83.9" r="0.6"/><circle cx="14.5" cy="85.3" r="0.6"/><circle cx="14.0" cy="89.5" r="0.6"/><circle cx="15.5" cy="91.0" r="0.6"/><circle cx="14.2" cy="92.6" r="0.6"/><circle cx="16.3" cy="91.9" r="0.6"/><circle cx="14.6" cy="98.5" r="0.6"/><circle cx="15.3" cy="100.6" r="0.6"/><circle cx="15.6" cy="102.5" r="0.6"/><circle cx="17.4" cy="103.7" r="0.6"/><circle cx="13.0" cy="109.9" r="0.6"/><circle cx="13.7" cy="107.9" r="0.6"/><circle cx="13.2" cy="111.2" r="0.6"/><circle cx="15.0" cy="110.0" r="0.6"/><circle cx="20.0" cy="4.5" r="0.6"/><circle cx="17.8" cy="4.6" r="0.6"/><circle cx="20.8" cy="8.0" r="0.6"/><circle cx="18.9" cy="6.9" r="0.6"/><circle cx="20.8" cy="11.7" r="0.6"/><circle cx="19.1" cy="13.0" r="0.6"/><circle cx="19.7" cy="16.6" r="0.6"/><circle cx="18.4" cy="14.8" r="0.6"/><circle cx="18.0" cy="19.7" r="0.6"/><circle cx="19.9" cy="20.7" r="0.6"/><circle cx="18.8" cy="26.8" r="0.6"/><circle cx="16.9" cy="25.6" r="0.6"/><circle cx="21.1" cy="27.2" r="0.6"/><circle cx="22.6" cy="28.9" r="0.6"/><circle cx="19.9" cy="32.3" r="0.6"/><circle cx="17.8" cy="33.0" r="0.6"/><circle cx="17.2" cy="38.0" r="0.6"/><circle cx="18.9" cy="36.7" r="0.6"/><circle cx="20.5" cy="44.0" r="0.6"/><circle cx="18.3" cy="44.2" r="0.6"/><circle cx="17.9" cy="45.6" r="0.6"/><circle cx="19.6" cy="44.1" r="0.6"/><circle cx="19.5" cy="50.7" r="0.6"/><circle cx="21.7" cy="51.2" r="0.6"/><circle cx="19.7" cy="52.1" r="0.6"/><circle cx="21.2" cy="53.7" r="0.6"/><circle cx="17.6" cy="59.1" r="0.6"/><circle cx="19.8" cy="59.2" r="0.6"/><circle cx="22.1" cy="65.2" r="0.6"/><circle cx="20.4" cy="66.6" r="0.6"/><circle cx="18.7" cy="68.7" r="0.6"/><circle cx="20.8" cy="67.8" r="0.6"/><circle cx="21.3" cy="73.6" r="0.6"/><circle cx="19.1" cy="73.0" r="0.6"/><circle cx="20.1" cy="76.8" r="0.6"/><circle cx="20.1" cy="74.6" r="0.6"/><circle cx="19.9" cy="80.4" r="0.6"/><circle cx="18.2" cy="81.8" r="0.6"/><circle cx="19.1" cy="88.4" r="0.6"/><circle cx="18.3" cy="86.3" r="0.6"/><circle cx="19.6" cy="90.7" r="0.6"/><circle cx="21.4" cy="89.5" r="0.6"/><circle cx="22.5" cy="93.6" r="0.6"/><circle cx="21.0" cy="95.2" r="0.6"/><circle cx="20.3" cy="100.6" r="0.6"/><circle cx="21.4" cy="98.7" r="0.6"/><circle cx="18.6" cy="101.3" r="0.6"/><circle cx="20.0" cy="102.9" r="0.6"/><circle cx="18.2" cy="107.3" r="0.6"/><circle cx="18.5" cy="105.1" r="0.6"/><circle cx="21.9" cy="112.6" r="0.6"/><circle cx="20.0" cy="111.6" r="0.6"/><circle cx="26.8" cy="3.0" r="0.6"/><circle cx="24.7" cy="3.6" r="0.6"/><circle cx="22.1" cy="7.6" r="0.6"/><circle cx="21.6" cy="5.5" r="0.6"/><circle cx="25.2" cy="11.7" r="0.6"/><circle cx="23.9" cy="9.9" r="0.6"/><circle cx="22.2" cy="13.6" r="0.6"/><circle cx="24.2" cy="12.8" r="0.6"/><circle cx="23.0" cy="20.6" r="0.6"/><circle cx="25.2" cy="20.4" r="0.6"/><circle cx="21.2" cy="25.1" r="0.6"/><circle cx="23.3" cy="24.4" r="0.6"/><circle cx="23.5" cy="26.9" r="0.6"/><circle cx="25.7" cy="27.0" r="0.6"/><circle cx="24.7" cy="33.4" r="0.6"/><circle cx="26.9" cy="33.9" r="0.6"/><circle cx="24.7" cy="36.5" r="0.6"/><circle cx="26.8" cy="36.2" r="0.6"/><circle cx="25.0" cy="43.0" r="0.6"/><circle cx="22.8" cy="43.0" r="0.6"/><circle cx="24.4" cy="46.1" r="0.6"/><circle cx="25.4" cy="44.2" r="0.6"/><circle cx="23.7" cy="51.5" r="0.6"/><circle cx="22.3" cy="49.7" r="0.6"/><circle cx="23.7" cy="55.4" r="0.6"/><circle cx="22.7" cy="57.3" r="0.6"/><circle cx="22.7" cy="59.3" r="0.6"/><circle cx="24.3" cy="57.8" r="0.6"/><circle cx="26.0" cy="64.6" r="0.6"/><circle cx="24.3" cy="66.0" r="0.6"/><circle cx="23.6" cy="67.1" r="0.6"/><circle cx="25.6" cy="66.2" r="0.6"/><circle cx="22.5" cy="72.6" r="0.6"/><circle cx="23.0" cy="70.5" r="0.6"/><circle cx="25.5" cy="77.2" r="0.6"/><circle cx="24.5" cy="79.2" r="0.6"/><circle cx="22.3" cy="82.8" r="0.6"/><circle cx="21.3" cy="80.9" r="0.6"/><circle cx="24.3" cy="86.5" r="0.6"/><circle cx="25.0" cy="84.4" r="0.6"/><circle cx="24.9" cy="90.6" r="0.6"/><circle cx="22.7" cy="90.6" r="0.6"/><circle cx="24.5" cy="93.4" r="0.6"/><circle cx="25.4" cy="95.4" r="0.6"/><circle cx="23.1" cy="98.4" r="0.6"/><circle cx="23.8" cy="100.5" r="0.6"/><circle cx="25.7" cy="101.9" r="0.6"/><circle cx="24.3" cy="103.6" r="0.6"/><circle cx="24.4" cy="106.5" r="0.6"/><circle cx="26.6" cy="106.1" r="0.6"/><circle cx="24.9" cy="112.4" r="0.6"/><circle cx="24.0" cy="110.5" r="0.6"/><circle cx="28.2" cy="-0.1" r="0.6"/><circle cx="30.1" cy="1.0" r="0.6"/><circle cx="28.1" cy="4.7" r="0.6"/><circle cx="29.0" cy="6.7" r="0.6"/><circle cx="26.6" cy="13.0" r="0.6"/><circle cx="26.6" cy="10.8" r="0.6"/><circle cx="27.1" cy="15.0" r="0.6"/><circle cx="28.7" cy="13.5" r="0.6"/><circle cx="29.2" cy="20.1" r="0.6"/><circle cx="27.6" cy="18.6" r="0.6"/><circle cx="27.0" cy="24.2" r="0.6"/><circle cx="28.9" cy="23.1" r="0.6"/><circle cx="29.7" cy="27.1" r="0.6"/><circle cx="29.9" cy="29.3" r="0.6"/><circle cx="30.0" cy="35.4" r="0.6"/><circle cx="28.1" cy="34.3" r="0.6"/><circle cx="31.2" cy="36.5" r="0.6"/><circle cx="30.8" cy="38.7" r="0.6"/><circle cx="30.8" cy="42.0" r="0.6"/><circle cx="31.2" cy="44.1" r="0.6"/><circle cx="30.1" cy="43.8" r="0.6"/><circle cx="29.7" cy="46.0" r="0.6"/><circle cx="27.8" cy="50.2" r="0.6"/><circle cx="29.8" cy="49.4" r="0.6"/><circle cx="28.1" cy="54.6" r="0.6"/><circle cx="29.2" cy="52.7" r="0.6"/><circle cx="30.3" cy="60.0" r="0.6"/><circle cx="29.1" cy="58.2" r="0.6"/><circle cx="30.6" cy="61.5" r="0.6"/><circle cx="31.5" cy="63.4" r="0.6"/><circle cx="29.8" cy="68.3" r="0.6"/><circle cx="28.3" cy="69.9" r="0.6"/><circle cx="28.9" cy="72.7" r="0.6"/><circle cx="26.7" cy="72.9" r="0.6"/><circle cx="28.6" cy="76.4" r="0.6"/><circle cx="30.5" cy="77.5" r="0.6"/><circle cx="30.9" cy="80.2" r="0.6"/><circle cx="30.8" cy="82.4" r="0.6"/><circle cx="31.3" cy="85.6" r="0.6"/><circle cx="29.1" cy="85.4" r="0.6"/><circle cx="30.3" cy="90.9" r="0.6"/><circle cx="28.4" cy="92.0" r="0.6"/><circle cx="27.0" cy="96.6" r="0.6"/><circle cx="25.9" cy="94.7" r="0.6"/><circle cx="28.6" cy="98.2" r="0.6"/><circle cx="30.8" cy="98.0" r="0.6"/><circle cx="30.5" cy="102.5" r="0.6"/><circle cx="31.2" cy="104.6" r="0.6"/><circle cx="29.3" cy="109.2" r="0.6"/><circle cx="27.1" cy="109.3" r="0.6"/><circle cx="29.5" cy="111.4" r="0.6"/><circle cx="29.4" cy="113.6" r="0.6"/><circle cx="33.6" cy="2.2" r="0.6"/><circle cx="35.8" cy="2.0" r="0.6"/><circle cx="34.0" cy="6.3" r="0.6"/><circle cx="35.2" cy="8.2" r="0.6"/><circle cx="32.8" cy="8.3" r="0.6"/><circle cx="32.6" cy="10.5" r="0.6"/><circle cx="30.2" cy="15.5" r="0.6"/><circle cx="31.6" cy="13.9" r="0.6"/><circle cx="33.4" cy="20.0" r="0.6"/><circle cx="34.6" cy="18.2" r="0.6"/><circle cx="33.4" cy="24.2" r="0.6"/><circle cx="34.1" cy="22.1" r="0.6"/><circle cx="30.4" cy="28.4" r="0.6"/><circle cx="32.0" cy="26.8" r="0.6"/><circle cx="35.2" cy="35.5" r="0.6"/><circle cx="33.0" cy="35.1" r="0.6"/><circle cx="33.1" cy="35.5" r="0.6"/><circle cx="34.4" cy="37.2" r="0.6"/><circle cx="35.2" cy="42.0" r="0.6"/><circle cx="33.1" cy="42.4" r="0.6"/><circle cx="32.7" cy="45.6" r="0.6"/><circle cx="33.4" cy="47.7" r="0.6"/><circle cx="32.0" cy="50.1" r="0.6"/><circle cx="32.6" cy="52.2" r="0.6"/><circle cx="34.0" cy="52.2" r="0.6"/><circle cx="35.9" cy="53.3" r="0.6"/><circle cx="34.1" cy="58.9" r="0.6"/><circle cx="32.7" cy="57.2" r="0.6"/><circle cx="32.1" cy="61.6" r="0.6"/><circle cx="32.8" cy="63.6" r="0.6"/><circle cx="36.0" cy="66.9" r="0.6"/><circle cx="33.9" cy="67.4" r="0.6"/><circle cx="32.1" cy="73.3" r="0.6"/><circle cx="32.0" cy="71.1" r="0.6"/><circle cx="31.0" cy="79.5" r="0.6"/><circle cx="31.1" cy="77.3" r="0.6"/><circle cx="33.4" cy="82.4" r="0.6"/><circle cx="31.7" cy="83.8" r="0.6"/><circle cx="33.8" cy="85.1" r="0.6"/><circle cx="34.0" cy="87.3" r="0.6"/><circle cx="35.2" cy="90.7" r="0.6"/><circle cx="33.2" cy="91.7" r="0.6"/><circle cx="33.5" cy="96.8" r="0.6"/><circle cx="33.2" cy="94.6" r="0.6"/><circle cx="33.0" cy="96.7" r="0.6"/><circle cx="31.8" cy="98.6" r="0.6"/><circle cx="33.8" cy="102.6" r="0.6"/><circle cx="31.6" cy="102.2" r="0.6"/><circle cx="32.7" cy="107.8" r="0.6"/><circle cx="34.7" cy="108.8" r="0.6"/><circle cx="31.7" cy="110.4" r="0.6"/><circle cx="33.7" cy="109.5" r="0.6"/><circle cx="36.4" cy="3.6" r="0.6"/><circle cx="34.7" cy="2.2" r="0.6"/><circle cx="36.9" cy="7.7" r="0.6"/><circle cx="38.7" cy="6.4" r="0.6"/><circle cx="39.6" cy="11.0" r="0.6"/><circle cx="37.7" cy="12.1" r="0.6"/><circle cx="37.4" cy="15.4" r="0.6"/><circle cx="39.2" cy="14.2" r="0.6"/><circle cx="37.9" cy="16.6" r="0.6"/><circle cx="39.3" cy="18.3" r="0.6"/><circle cx="38.2" cy="21.6" r="0.6"/><circle cx="38.1" cy="23.8" r="0.6"/><circle cx="37.2" cy="28.9" r="0.6"/><circle cx="35.1" cy="28.2" r="0.6"/><circle cx="38.7" cy="32.2" r="0.6"/><circle cx="36.5" cy="32.1" r="0.6"/><circle cx="39.4" cy="36.4" r="0.6"/><circle cx="38.2" cy="38.2" r="0.6"/><circle cx="36.5" cy="41.9" r="0.6"/><circle cx="37.6" cy="43.8" r="0.6"/><circle cx="36.7" cy="45.1" r="0.6"/><circle cx="38.7" cy="44.3" r="0.6"/><circle cx="34.8" cy="50.7" r="0.6"/><circle cx="36.2" cy="49.0" r="0.6"/><circle cx="37.0" cy="55.2" r="0.6"/><circle cx="38.5" cy="53.5" r="0.6"/><circle cx="35.4" cy="57.7" r="0.6"/><circle cx="37.3" cy="56.6" r="0.6"/><circle cx="37.3" cy="65.6" r="0.6"/><circle cx="35.2" cy="65.1" r="0.6"/><circle cx="37.5" cy="70.1" r="0.6"/><circle cx="35.4" cy="70.7" r="0.6"/><circle cx="39.4" cy="71.4" r="0.6"/><circle cx="38.4" cy="73.3" r="0.6"/><circle cx="37.7" cy="76.6" r="0.6"/><circle cx="35.8" cy="77.9" r="0.6"/><circle cx="40.3" cy="80.2" r="0.6"/><circle cx="38.2" cy="80.9" r="0.6"/><circle cx="35.7" cy="82.9" r="0.6"/><circle cx="37.8" cy="83.6" r="0.6"/><circle cx="38.8" cy="92.7" r="0.6"/><circle cx="36.9" cy="91.7" r="0.6"/><circle cx="37.7" cy="94.9" r="0.6"/><circle cx="36.3" cy="93.2" r="0.6"/><circle cx="37.9" cy="98.2" r="0.6"/><circle cx="40.1" cy="98.1" r="0.6"/><circle cx="39.6" cy="101.4" r="0.6"/><circle cx="40.0" cy="103.5" r="0.6"/><circle cx="37.4" cy="105.5" r="0.6"/><circle cx="36.1" cy="107.3" r="0.6"/><circle cx="35.3" cy="112.1" r="0.6"/><circle cx="36.5" cy="110.2" r="0.6"/><circle cx="42.6" cy="3.4" r="0.6"/><circle cx="41.5" cy="1.5" r="0.6"/><circle cx="42.3" cy="8.2" r="0.6"/><circle cx="40.3" cy="9.2" r="0.6"/><circle cx="42.6" cy="12.6" r="0.6"/><circle cx="40.7" cy="11.4" r="0.6"/><circle cx="42.0" cy="15.0" r="0.6"/><circle cx="44.2" cy="15.4" r="0.6"/><circle cx="41.9" cy="22.2" r="0.6"/><circle cx="39.7" cy="22.0" r="0.6"/><circle cx="39.5" cy="23.7" r="0.6"/><circle cx="40.3" cy="21.6" r="0.6"/><circle cx="41.9" cy="30.1" r="0.6"/><circle cx="41.3" cy="27.9" r="0.6"/><circle cx="41.8" cy="32.6" r="0.6"/><circle cx="41.5" cy="34.8" r="0.6"/><circle cx="40.0" cy="35.9" r="0.6"/><circle cx="41.7" cy="37.3" r="0.6"/><circle cx="43.0" cy="41.7" r="0.6"/><circle cx="44.7" cy="43.2" r="0.6"/><circle cx="41.6" cy="45.8" r="0.6"/><circle cx="43.5" cy="47.0" r="0.6"/><circle cx="42.1" cy="50.8" r="0.6"/><circle cx="41.2" cy="48.8" r="0.6"/><circle cx="42.8" cy="56.5" r="0.6"/><circle cx="41.9" cy="54.5" r="0.6"/><circle cx="40.8" cy="60.6" r="0.6"/><circle cx="42.7" cy="59.6" r="0.6"/><circle cx="42.7" cy="61.8" r="0.6"/><circle cx="42.9" cy="64.0" r="0.6"/><circle cx="40.7" cy="69.3" r="0.6"/><circle cx="40.7" cy="67.1" r="0.6"/><circle cx="43.9" cy="74.6" r="0.6"/><circle cx="41.8" cy="74.0" r="0.6"/><circle cx="40.8" cy="77.9" r="0.6"/><circle cx="40.5" cy="75.7" r="0.6"/><circle cx="39.0" cy="82.2" r="0.6"/><circle cx="40.0" cy="80.3" r="0.6"/><circle cx="41.5" cy="84.6" r="0.6"/><circle cx="43.1" cy="83.1" r="0.6"/><circle cx="42.6" cy="87.3" r="0.6"/><circle cx="43.4" cy="89.4" r="0.6"/><circle cx="41.8" cy="95.7" r="0.6"/><circle cx="42.8" cy="93.7" r="0.6"/><circle cx="42.7" cy="96.7" r="0.6"/><circle cx="44.7" cy="97.7" r="0.6"/><circle cx="40.1" cy="104.5" r="0.6"/><circle cx="39.7" cy="102.3" r="0.6"/><circle cx="39.8" cy="109.8" r="0.6"/><circle cx="39.2" cy="107.7" r="0.6"/><circle cx="40.8" cy="109.2" r="0.6"/><circle cx="42.0" cy="111.0" r="0.6"/><circle cx="45.9" cy="3.9" r="0.6"/><circle cx="43.7" cy="3.4" r="0.6"/><circle cx="45.4" cy="7.4" r="0.6"/><circle cx="43.3" cy="6.7" r="0.6"/><circle cx="44.0" cy="12.8" r="0.6"/><circle cx="44.6" cy="10.7" r="0.6"/><circle cx="45.9" cy="13.9" r="0.6"/><circle cx="44.5" cy="15.6" r="0.6"/><circle cx="48.5" cy="19.9" r="0.6"/><circle cx="46.6" cy="21.0" r="0.6"/><circle cx="44.0" cy="26.8" r="0.6"/><circle cx="44.2" cy="24.7" r="0.6"/><circle cx="44.4" cy="28.3" r="0.6"/><circle cx="46.1" cy="26.9" r="0.6"/><circle cx="47.7" cy="31.7" r="0.6"/><circle cx="48.0" cy="33.8" r="0.6"/><circle cx="48.7" cy="37.1" r="0.6"/><circle cx="47.2" cy="38.7" r="0.6"/><circle cx="46.4" cy="40.9" r="0.6"/><circle cx="45.8" cy="43.0" r="0.6"/><circle cx="46.1" cy="45.0" r="0.6"/><circle cx="48.1" cy="44.1" r="0.6"/><circle cx="46.6" cy="49.4" r="0.6"/><circle cx="48.0" cy="51.1" r="0.6"/><circle cx="48.1" cy="53.8" r="0.6"/><circle cx="46.9" cy="55.7" r="0.6"/><circle cx="46.1" cy="60.8" r="0.6"/><circle cx="44.0" cy="60.2" r="0.6"/><circle cx="46.1" cy="63.2" r="0.6"/><circle cx="48.1" cy="62.3" r="0.6"/><circle cx="43.6" cy="69.1" r="0.6"/><circle cx="45.3" cy="67.7" r="0.6"/><circle cx="46.0" cy="71.7" r="0.6"/><circle cx="47.6" cy="73.2" r="0.6"/><circle cx="43.5" cy="77.6" r="0.6"/><circle cx="45.3" cy="76.5" r="0.6"/><circle cx="46.1" cy="81.2" r="0.6"/><circle cx="46.8" cy="83.3" r="0.6"/><circle cx="46.2" cy="84.8" r="0.6"/><circle cx="44.0" cy="84.2" r="0.6"/><circle cx="44.4" cy="89.9" r="0.6"/><circle cx="46.6" cy="89.9" r="0.6"/><circle cx="45.7" cy="96.0" r="0.6"/><circle cx="46.9" cy="94.1" r="0.6"/><circle cx="45.2" cy="100.3" r="0.6"/><circle cx="43.9" cy="98.6" r="0.6"/><circle cx="43.5" cy="101.5" r="0.6"/><circle cx="45.6" cy="101.1" r="0.6"/><circle cx="44.1" cy="106.6" r="0.6"/><circle cx="46.0" cy="107.8" r="0.6"/><circle cx="46.4" cy="112.7" r="0.6"/><circle cx="47.4" cy="110.8" r="0.6"/><circle cx="49.7" cy="3.1" r="0.6"/><circle cx="51.9" cy="2.6" r="0.6"/><circle cx="49.9" cy="8.1" r="0.6"/><circle cx="48.8" cy="6.3" r="0.6"/><circle cx="51.3" cy="8.6" r="0.6"/><circle cx="53.0" cy="10.0" r="0.6"/><circle cx="51.5" cy="15.2" r="0.6"/><circle cx="50.0" cy="13.6" r="0.6"/><circle cx="48.8" cy="18.9" r="0.6"/><circle cx="50.4" cy="17.3" r="0.6"/><circle cx="49.1" cy="23.5" r="0.6"/><circle cx="50.3" cy="21.7" r="0.6"/><circle cx="48.2" cy="29.3" r="0.6"/><circle cx="48.4" cy="27.1" r="0.6"/><circle cx="50.4" cy="32.4" r="0.6"/><circle cx="51.4" cy="34.3" r="0.6"/><circle cx="47.6" cy="37.3" r="0.6"/><circle cx="49.7" cy="36.7" r="0.6"/><circle cx="47.7" cy="42.1" r="0.6"/><circle cx="48.9" cy="40.3" r="0.6"/><circle cx="47.7" cy="47.0" r="0.6"/><circle cx="49.8" cy="46.5" r="0.6"/><circle cx="49.3" cy="49.9" r="0.6"/><circle cx="51.4" cy="49.3" r="0.6"/><circle cx="49.7" cy="57.0" r="0.6"/><circle cx="47.7" cy="56.0" r="0.6"/><circle cx="50.5" cy="60.3" r="0.6"/><circle cx="48.5" cy="59.4" r="0.6"/><circle cx="50.1" cy="64.9" r="0.6"/><circle cx="51.5" cy="63.3" r="0.6"/><circle cx="51.5" cy="66.3" r="0.6"/><circle cx="49.9" cy="67.7" r="0.6"/><circle cx="51.6" cy="70.3" r="0.6"/><circle cx="53.6" cy="71.2" r="0.6"/><circle cx="48.0" cy="76.2" r="0.6"/><circle cx="50.2" cy="76.5" r="0.6"/><circle cx="50.6" cy="79.8" r="0.6"/><circle cx="52.3" cy="78.4" r="0.6"/><circle cx="49.6" cy="87.3" r="0.6"/><circle cx="47.7" cy="86.3" r="0.6"/><circle cx="51.5" cy="87.8" r="0.6"/><circle cx="51.8" cy="90.0" r="0.6"/><circle cx="48.6" cy="94.5" r="0.6"/><circle cx="50.8" cy="94.4" r="0.6"/><circle cx="48.6" cy="96.4" r="0.6"/><circle cx="50.3" cy="97.9" r="0.6"/><circle cx="48.9" cy="103.4" r="0.6"/><circle cx="51.0" cy="103.0" r="0.6"/><circle cx="48.8" cy="106.6" r="0.6"/><circle cx="49.6" cy="104.6" r="0.6"/><circle cx="52.4" cy="113.5" r="0.6"/><circle cx="50.2" cy="113.0" r="0.6"/><circle cx="55.0" cy="3.2" r="0.6"/><circle cx="53.0" cy="4.2" r="0.6"/><circle cx="54.7" cy="4.9" r="0.6"/><circle cx="56.8" cy="5.8" r="0.6"/><circle cx="53.9" cy="11.2" r="0.6"/><circle cx="55.5" cy="9.6" r="0.6"/><circle cx="57.2" cy="17.6" r="0.6"/><circle cx="55.0" cy="17.8" r="0.6"/><circle cx="55.7" cy="18.8" r="0.6"/><circle cx="53.6" cy="19.3" r="0.6"/><circle cx="53.8" cy="25.6" r="0.6"/><circle cx="53.6" cy="23.4" r="0.6"/><circle cx="52.8" cy="27.4" r="0.6"/><circle cx="54.4" cy="26.0" r="0.6"/><circle cx="53.0" cy="33.2" r="0.6"/><circle cx="55.1" cy="33.4" r="0.6"/><circle cx="55.1" cy="37.1" r="0.6"/><circle cx="54.8" cy="35.0" r="0.6"/><circle cx="55.4" cy="41.6" r="0.6"/><circle cx="53.2" cy="41.6" r="0.6"/><circle cx="52.3" cy="47.0" r="0.6"/><circle cx="54.3" cy="46.0" r="0.6"/><circle cx="55.6" cy="50.5" r="0.6"/><circle cx="54.0" cy="52.0" r="0.6"/><circle cx="55.9" cy="53.5" r="0.6"/><circle cx="54.0" cy="54.5" r="0.6"/><circle cx="53.6" cy="61.2" r="0.6"/><circle cx="52.0" cy="59.7" r="0.6"/><circle cx="54.3" cy="64.3" r="0.6"/><circle cx="55.1" cy="62.2" r="0.6"/><circle cx="54.8" cy="66.4" r="0.6"/><circle cx="54.5" cy="68.6" r="0.6"/><circle cx="56.4" cy="71.2" r="0.6"/><circle cx="54.7" cy="72.7" r="0.6"/><circle cx="54.0" cy="77.5" r="0.6"/><circle cx="56.1" cy="76.9" r="0.6"/><circle cx="53.8" cy="84.0" r="0.6"/><circle cx="52.6" cy="82.1" r="0.6"/><circle cx="54.6" cy="88.5" r="0.6"/><circle cx="53.9" cy="86.4" r="0.6"/><circle cx="56.1" cy="89.6" r="0.6"/><circle cx="55.7" cy="87.4" r="0.6"/><circle cx="57.0" cy="93.6" r="0.6"/><circle cx="55.0" cy="94.6" r="0.6"/><circle cx="56.0" cy="98.8" r="0.6"/><circle cx="56.4" cy="100.9" r="0.6"/><circle cx="55.0" cy="102.2" r="0.6"/><circle cx="56.1" cy="104.2" r="0.6"/><circle cx="54.2" cy="106.5" r="0.6"/><circle cx="55.9" cy="105.0" r="0.6"/><circle cx="56.0" cy="110.6" r="0.6"/><circle cx="54.8" cy="112.4" r="0.6"/><circle cx="58.0" cy="2.8" r="0.6"/><circle cx="60.1" cy="2.0" r="0.6"/><circle cx="57.4" cy="5.6" r="0.6"/><circle cx="59.5" cy="6.4" r="0.6"/><circle cx="60.0" cy="11.8" r="0.6"/><circle cx="58.1" cy="10.7" r="0.6"/><circle cx="62.0" cy="14.8" r="0.6"/><circle cx="60.2" cy="16.1" r="0.6"/><circle cx="59.3" cy="17.6" r="0.6"/><circle cx="61.4" cy="17.3" r="0.6"/><circle cx="57.8" cy="22.9" r="0.6"/><circle cx="59.5" cy="21.4" r="0.6"/><circle cx="60.7" cy="30.4" r="0.6"/><circle cx="59.3" cy="28.7" r="0.6"/><circle cx="59.2" cy="33.5" r="0.6"/><circle cx="57.1" cy="32.9" r="0.6"/><circle cx="58.3" cy="37.3" r="0.6"/><circle cx="59.3" cy="39.3" r="0.6"/><circle cx="62.0" cy="42.5" r="0.6"/><circle cx="60.9" cy="44.4" r="0.6"/><circle cx="60.5" cy="46.3" r="0.6"/><circle cx="58.5" cy="45.5" r="0.6"/><circle cx="58.6" cy="52.2" r="0.6"/><circle cx="58.3" cy="50.0" r="0.6"/><circle cx="57.9" cy="53.8" r="0.6"/><circle cx="59.1" cy="51.9" r="0.6"/><circle cx="60.6" cy="58.6" r="0.6"/><circle cx="58.4" cy="58.5" r="0.6"/><circle cx="57.2" cy="65.2" r="0.6"/><circle cx="58.4" cy="63.3" r="0.6"/><circle cx="61.1" cy="68.7" r="0.6"/><circle cx="59.7" cy="70.3" r="0.6"/><circle cx="59.0" cy="73.8" r="0.6"/><circle cx="59.5" cy="71.7" r="0.6"/><circle cx="59.7" cy="76.9" r="0.6"/><circle cx="58.6" cy="78.8" r="0.6"/><circle cx="58.2" cy="80.8" r="0.6"/><circle cx="56.8" cy="79.1" r="0.6"/><circle cx="57.6" cy="83.8" r="0.6"/><circle cx="59.7" cy="83.3" r="0.6"/><circle cx="61.4" cy="89.5" r="0.6"/><circle cx="59.3" cy="90.2" r="0.6"/><circle cx="59.1" cy="95.2" r="0.6"/><circle cx="57.3" cy="96.5" r="0.6"/><circle cx="61.5" cy="98.2" r="0.6"/><circle cx="61.9" cy="100.3" r="0.6"/><circle cx="60.8" cy="105.4" r="0.6"/><circle cx="59.8" cy="103.4" r="0.6"/><circle cx="62.0" cy="107.3" r="0.6"/><circle cx="61.3" cy="109.3" r="0.6"/><circle cx="60.2" cy="114.2" r="0.6"/><circle cx="59.2" cy="112.2" r="0.6"/><circle cx="63.4" cy="2.5" r="0.6"/><circle cx="61.3" cy="2.2" r="0.6"/><circle cx="63.5" cy="4.8" r="0.6"/><circle cx="65.5" cy="5.7" r="0.6"/><circle cx="64.9" cy="8.1" r="0.6"/><circle cx="66.4" cy="9.7" r="0.6"/><circle cx="61.5" cy="13.9" r="0.6"/><circle cx="63.6" cy="14.0" r="0.6"/><circle cx="61.9" cy="20.7" r="0.6"/><circle cx="63.9" cy="19.7" r="0.6"/><circle cx="60.9" cy="25.9" r="0.6"/><circle cx="61.9" cy="23.9" r="0.6"/><circle cx="66.6" cy="26.2" r="0.6"/><circle cx="65.8" cy="28.2" r="0.6"/><circle cx="64.0" cy="33.5" r="0.6"/><circle cx="65.8" cy="32.2" r="0.6"/><circle cx="62.6" cy="39.8" r="0.6"/><circle cx="61.2" cy="38.1" r="0.6"/><circle cx="63.4" cy="42.2" r="0.6"/><circle cx="61.2" cy="41.8" r="0.6"/><circle cx="61.7" cy="46.3" r="0.6"/><circle cx="62.6" cy="44.3" r="0.6"/><circle cx="63.7" cy="50.7" r="0.6"/><circle cx="61.5" cy="50.8" r="0.6"/><circle cx="64.7" cy="53.5" r="0.6"/><circle cx="64.9" cy="55.7" r="0.6"/><circle cx="62.6" cy="61.0" r="0.6"/><circle cx="63.9" cy="59.2" r="0.6"/><circle cx="63.9" cy="61.4" r="0.6"/><circle cx="66.1" cy="61.4" r="0.6"/><circle cx="65.9" cy="68.6" r="0.6"/><circle cx="64.5" cy="70.3" r="0.6"/><circle cx="66.3" cy="71.1" r="0.6"/><circle cx="65.8" cy="73.2" r="0.6"/><circle cx="66.6" cy="77.1" r="0.6"/><circle cx="64.7" cy="78.1" r="0.6"/><circle cx="65.0" cy="81.4" r="0.6"/><circle cx="63.0" cy="82.3" r="0.6"/><circle cx="62.4" cy="87.0" r="0.6"/><circle cx="63.1" cy="84.9" r="0.6"/><circle cx="62.6" cy="91.2" r="0.6"/><circle cx="64.4" cy="89.9" r="0.6"/><circle cx="63.6" cy="91.3" r="0.6"/><circle cx="65.0" cy="93.1" r="0.6"/><circle cx="63.9" cy="97.9" r="0.6"/><circle cx="62.6" cy="99.7" r="0.6"/><circle cx="62.9" cy="105.2" r="0.6"/><circle cx="62.9" cy="103.1" r="0.6"/><circle cx="62.8" cy="106.2" r="0.6"/><circle cx="64.6" cy="105.0" r="0.6"/><circle cx="63.0" cy="113.3" r="0.6"/><circle cx="61.9" cy="111.4" r="0.6"/><circle cx="70.4" cy="2.3" r="0.6"/><circle cx="69.5" cy="4.3" r="0.6"/><circle cx="70.0" cy="5.3" r="0.6"/><circle cx="68.7" cy="7.1" r="0.6"/><circle cx="69.3" cy="9.0" r="0.6"/><circle cx="69.2" cy="11.2" r="0.6"/><circle cx="67.3" cy="17.4" r="0.6"/><circle cx="65.3" cy="16.5" r="0.6"/><circle cx="70.1" cy="21.5" r="0.6"/><circle cx="68.2" cy="22.7" r="0.6"/><circle cx="69.5" cy="22.0" r="0.6"/><circle cx="70.2" cy="24.0" r="0.6"/><circle cx="65.2" cy="28.4" r="0.6"/><circle cx="66.8" cy="26.9" r="0.6"/><circle cx="68.9" cy="32.5" r="0.6"/><circle cx="67.6" cy="34.3" r="0.6"/><circle cx="66.4" cy="35.6" r="0.6"/><circle cx="68.3" cy="34.5" r="0.6"/><circle cx="65.9" cy="42.2" r="0.6"/><circle cx="65.9" cy="40.0" r="0.6"/><circle cx="67.9" cy="43.7" r="0.6"/><circle cx="69.9" cy="44.7" r="0.6"/><circle cx="68.4" cy="49.8" r="0.6"/><circle cx="66.4" cy="50.6" r="0.6"/><circle cx="69.5" cy="57.0" r="0.6"/><circle cx="67.7" cy="55.8" r="0.6"/><circle cx="67.4" cy="58.8" r="0.6"/><circle cx="67.3" cy="56.6" r="0.6"/><circle cx="68.9" cy="65.9" r="0.6"/><circle cx="69.0" cy="63.7" r="0.6"/><circle cx="68.8" cy="66.2" r="0.6"/><circle cx="67.1" cy="67.5" r="0.6"/><circle cx="67.6" cy="70.0" r="0.6"/><circle cx="69.5" cy="71.0" r="0.6"/><circle cx="69.1" cy="76.4" r="0.6"/><circle cx="67.3" cy="77.6" r="0.6"/><circle cx="67.0" cy="83.8" r="0.6"/><circle cx="66.5" cy="81.7" r="0.6"/><circle cx="66.6" cy="84.8" r="0.6"/><circle cx="67.6" cy="82.8" r="0.6"/><circle cx="68.2" cy="92.6" r="0.6"/><circle cx="67.3" cy="90.5" r="0.6"/><circle cx="67.8" cy="95.5" r="0.6"/><circle cx="65.9" cy="94.4" r="0.6"/><circle cx="66.6" cy="98.7" r="0.6"/><circle cx="68.7" cy="98.3" r="0.6"/><circle cx="66.6" cy="103.1" r="0.6"/><circle cx="66.9" cy="101.0" r="0.6"/><circle cx="68.5" cy="108.3" r="0.6"/><circle cx="70.5" cy="107.4" r="0.6"/><circle cx="67.9" cy="111.5" r="0.6"/><circle cx="70.1" cy="111.7" r="0.6"/><circle cx="74.3" cy="-0.7" r="0.6"/><circle cx="75.3" cy="1.3" r="0.6"/><circle cx="71.7" cy="8.1" r="0.6"/><circle cx="71.6" cy="5.9" r="0.6"/><circle cx="71.2" cy="14.0" r="0.6"/><circle cx="70.1" cy="12.1" r="0.6"/><circle cx="73.4" cy="14.9" r="0.6"/><circle cx="74.5" cy="16.8" r="0.6"/><circle cx="74.8" cy="18.8" r="0.6"/><circle cx="75.2" cy="20.9" r="0.6"/><circle cx="73.8" cy="22.3" r="0.6"/><circle cx="75.4" cy="23.9" r="0.6"/><circle cx="75.4" cy="29.0" r="0.6"/><circle cx="73.3" cy="29.6" r="0.6"/><circle cx="73.6" cy="30.7" r="0.6"/><circle cx="74.8" cy="32.6" r="0.6"/><circle cx="71.2" cy="37.5" r="0.6"/><circle cx="72.9" cy="36.2" r="0.6"/><circle cx="71.7" cy="44.1" r="0.6"/><circle cx="72.0" cy="41.9" r="0.6"/><circle cx="73.8" cy="47.2" r="0.6"/><circle cx="72.2" cy="48.7" r="0.6"/><circle cx="72.6" cy="49.5" r="0.6"/><circle cx="70.7" cy="50.7" r="0.6"/><circle cx="71.2" cy="52.4" r="0.6"/><circle cx="72.8" cy="53.8" r="0.6"/><circle cx="73.8" cy="58.8" r="0.6"/><circle cx="71.6" cy="58.3" r="0.6"/><circle cx="72.6" cy="66.1" r="0.6"/><circle cx="72.3" cy="63.9" r="0.6"/><circle cx="73.9" cy="67.7" r="0.6"/><circle cx="72.9" cy="65.8" r="0.6"/><circle cx="71.8" cy="73.5" r="0.6"/><circle cx="70.4" cy="71.8" r="0.6"/><circle cx="70.7" cy="78.7" r="0.6"/><circle cx="69.7" cy="76.7" r="0.6"/><circle cx="73.4" cy="81.8" r="0.6"/><circle cx="71.2" cy="81.4" r="0.6"/><circle cx="71.4" cy="82.6" r="0.6"/><circle cx="72.7" cy="84.4" r="0.6"/><circle cx="73.1" cy="91.3" r="0.6"/><circle cx="73.3" cy="89.1" r="0.6"/><circle cx="72.9" cy="96.7" r="0.6"/><circle cx="70.8" cy="96.1" r="0.6"/><circle cx="72.5" cy="98.8" r="0.6"/><circle cx="70.4" cy="99.3" r="0.6"/><circle cx="70.3" cy="103.0" r="0.6"/><circle cx="72.4" cy="103.7" r="0.6"/><circle cx="73.1" cy="105.6" r="0.6"/><circle cx="75.2" cy="106.2" r="0.6"/><circle cx="73.1" cy="112.2" r="0.6"/><circle cx="75.1" cy="113.2" r="0.6"/><circle cx="74.8" cy="4.3" r="0.6"/><circle cx="76.0" cy="2.5" r="0.6"/><circle cx="77.0" cy="8.5" r="0.6"/><circle cx="75.1" cy="7.5" r="0.6"/><circle cx="78.4" cy="10.9" r="0.6"/><circle cx="76.2" cy="11.5" r="0.6"/><circle cx="77.6" cy="14.9" r="0.6"/><circle cx="76.0" cy="13.4" r="0.6"/><circle cx="78.3" cy="19.2" r="0.6"/><circle cx="77.1" cy="21.1" r="0.6"/><circle cx="78.4" cy="26.0" r="0.6"/><circle cx="76.3" cy="25.6" r="0.6"/><circle cx="78.8" cy="30.8" r="0.6"/><circle cx="77.0" cy="29.6" r="0.6"/><circle cx="79.6" cy="32.1" r="0.6"/><circle cx="78.2" cy="33.8" r="0.6"/><circle cx="77.0" cy="37.8" r="0.6"/><circle cx="75.2" cy="39.1" r="0.6"/><circle cx="76.7" cy="43.0" r="0.6"/><circle cx="75.2" cy="44.6" r="0.6"/><circle cx="77.0" cy="46.5" r="0.6"/><circle cx="75.6" cy="44.8" r="0.6"/><circle cx="75.6" cy="50.3" r="0.6"/><circle cx="76.5" cy="52.3" r="0.6"/><circle cx="78.7" cy="52.3" r="0.6"/><circle cx="79.2" cy="54.4" r="0.6"/><circle cx="79.2" cy="57.3" r="0.6"/><circle cx="77.9" cy="59.1" r="0.6"/><circle cx="76.4" cy="64.2" r="0.6"/><circle cx="77.7" cy="62.3" r="0.6"/><circle cx="78.3" cy="65.6" r="0.6"/><circle cx="78.2" cy="67.8" r="0.6"/><circle cx="76.7" cy="73.2" r="0.6"/><circle cx="78.6" cy="72.1" r="0.6"/><circle cx="76.9" cy="76.6" r="0.6"/><circle cx="78.4" cy="75.1" r="0.6"/><circle cx="75.3" cy="82.3" r="0.6"/><circle cx="75.5" cy="80.1" r="0.6"/><circle cx="78.6" cy="87.4" r="0.6"/><circle cx="76.5" cy="87.0" r="0.6"/><circle cx="76.3" cy="91.5" r="0.6"/><circle cx="75.8" cy="89.4" r="0.6"/><circle cx="78.5" cy="93.7" r="0.6"/><circle cx="78.0" cy="95.8" r="0.6"/><circle cx="76.4" cy="98.0" r="0.6"/><circle cx="78.2" cy="96.7" r="0.6"/><circle cx="75.1" cy="101.3" r="0.6"/><circle cx="77.3" cy="101.7" r="0.6"/><circle cx="79.3" cy="108.5" r="0.6"/><circle cx="78.1" cy="110.4" r="0.6"/><circle cx="77.1" cy="111.2" r="0.6"/><circle cx="77.2" cy="113.4" r="0.6"/><circle cx="83.0" cy="3.7" r="0.6"/><circle cx="81.0" cy="4.7" r="0.6"/><circle cx="79.8" cy="5.7" r="0.6"/><circle cx="80.9" cy="7.6" r="0.6"/><circle cx="83.3" cy="11.4" r="0.6"/><circle cx="83.6" cy="13.6" r="0.6"/><circle cx="80.9" cy="16.6" r="0.6"/><circle cx="79.9" cy="14.7" r="0.6"/><circle cx="82.1" cy="20.0" r="0.6"/><circle cx="83.9" cy="21.2" r="0.6"/><circle cx="79.3" cy="26.2" r="0.6"/><circle cx="80.2" cy="24.2" r="0.6"/><circle cx="81.0" cy="27.9" r="0.6"/><circle cx="78.9" cy="27.5" r="0.6"/><circle cx="78.4" cy="31.1" r="0.6"/><circle cx="80.5" cy="30.2" r="0.6"/><circle cx="80.3" cy="37.6" r="0.6"/><circle cx="78.6" cy="36.3" r="0.6"/><circle cx="82.0" cy="43.3" r="0.6"/><circle cx="80.2" cy="44.6" r="0.6"/><circle cx="81.5" cy="43.7" r="0.6"/><circle cx="83.7" cy="44.0" r="0.6"/><circle cx="81.6" cy="51.4" r="0.6"/><circle cx="79.6" cy="52.2" r="0.6"/><circle cx="82.0" cy="53.3" r="0.6"/><circle cx="82.9" cy="55.3" r="0.6"/><circle cx="82.4" cy="60.5" r="0.6"/><circle cx="80.3" cy="61.1" r="0.6"/><circle cx="82.0" cy="65.5" r="0.6"/><circle cx="80.0" cy="64.6" r="0.6"/><circle cx="78.9" cy="65.5" r="0.6"/><circle cx="81.0" cy="66.2" r="0.6"/><circle cx="79.8" cy="71.4" r="0.6"/><circle cx="81.6" cy="72.6" r="0.6"/><circle cx="81.7" cy="79.4" r="0.6"/><circle cx="80.4" cy="77.6" r="0.6"/><circle cx="81.5" cy="82.5" r="0.6"/><circle cx="82.9" cy="80.8" r="0.6"/><circle cx="81.2" cy="82.7" r="0.6"/><circle cx="81.9" cy="84.7" r="0.6"/><circle cx="83.6" cy="92.4" r="0.6"/><circle cx="81.5" cy="91.9" r="0.6"/><circle cx="80.7" cy="93.4" r="0.6"/><circle cx="78.5" cy="93.2" r="0.6"/><circle cx="81.6" cy="97.8" r="0.6"/><circle cx="80.2" cy="99.5" r="0.6"/><circle cx="80.8" cy="102.6" r="0.6"/><circle cx="82.8" cy="101.7" r="0.6"/><circle cx="80.7" cy="108.2" r="0.6"/><circle cx="82.7" cy="107.4" r="0.6"/><circle cx="81.6" cy="110.9" r="0.6"/><circle cx="80.1" cy="112.5" r="0.6"/><circle cx="86.2" cy="1.8" r="0.6"/><circle cx="88.4" cy="1.4" r="0.6"/><circle cx="86.7" cy="7.8" r="0.6"/><circle cx="84.5" cy="7.3" r="0.6"/><circle cx="85.1" cy="12.8" r="0.6"/><circle cx="85.3" cy="10.6" r="0.6"/><circle cx="86.0" cy="16.5" r="0.6"/><circle cx="86.8" cy="14.5" r="0.6"/><circle cx="85.0" cy="20.6" r="0.6"/><circle cx="86.1" cy="18.7" r="0.6"/><circle cx="83.8" cy="25.8" r="0.6"/><circle cx="84.5" cy="23.7" r="0.6"/><circle cx="84.8" cy="29.0" r="0.6"/><circle cx="83.5" cy="27.2" r="0.6"/><circle cx="83.9" cy="32.6" r="0.6"/><circle cx="86.0" cy="31.9" r="0.6"/><circle cx="88.2" cy="37.3" r="0.6"/><circle cx="86.0" cy="37.8" r="0.6"/><circle cx="85.9" cy="40.1" r="0.6"/><circle cx="87.5" cy="41.6" r="0.6"/><circle cx="85.7" cy="49.0" r="0.6"/><circle cx="84.3" cy="47.3" r="0.6"/><circle cx="85.3" cy="47.8" r="0.6"/><circle cx="87.5" cy="48.1" r="0.6"/><circle cx="85.8" cy="55.2" r="0.6"/><circle cx="87.2" cy="53.5" r="0.6"/><circle cx="87.0" cy="59.2" r="0.6"/><circle cx="86.4" cy="57.1" r="0.6"/><circle cx="86.8" cy="65.3" r="0.6"/><circle cx="86.5" cy="63.2" r="0.6"/><circle cx="85.3" cy="68.9" r="0.6"/><circle cx="85.6" cy="66.7" r="0.6"/><circle cx="87.3" cy="74.9" r="0.6"/><circle cx="86.2" cy="73.0" r="0.6"/><circle cx="84.7" cy="77.0" r="0.6"/><circle cx="85.6" cy="75.0" r="0.6"/><circle cx="84.8" cy="82.2" r="0.6"/><circle cx="84.5" cy="80.1" r="0.6"/><circle cx="84.2" cy="83.3" r="0.6"/><circle cx="86.0" cy="84.5" r="0.6"/><circle cx="87.4" cy="91.7" r="0.6"/><circle cx="85.2" cy="91.5" r="0.6"/><circle cx="86.1" cy="92.3" r="0.6"/><circle cx="88.3" cy="92.3" r="0.6"/><circle cx="85.0" cy="98.9" r="0.6"/><circle cx="83.9" cy="97.0" r="0.6"/><circle cx="85.8" cy="101.1" r="0.6"/><circle cx="87.6" cy="102.4" r="0.6"/><circle cx="84.6" cy="104.7" r="0.6"/><circle cx="86.5" cy="105.7" r="0.6"/><circle cx="88.0" cy="112.7" r="0.6"/><circle cx="87.0" cy="114.7" r="0.6"/><circle cx="89.1" cy="0.8" r="0.6"/><circle cx="90.1" cy="2.8" r="0.6"/><circle cx="90.5" cy="6.7" r="0.6"/><circle cx="92.5" cy="7.6" r="0.6"/><circle cx="88.3" cy="9.4" r="0.6"/><circle cx="90.1" cy="8.2" r="0.6"/><circle cx="92.4" cy="16.4" r="0.6"/><circle cx="90.4" cy="17.2" r="0.6"/><circle cx="89.3" cy="20.2" r="0.6"/><circle cx="91.2" cy="21.3" r="0.6"/><circle cx="89.7" cy="24.9" r="0.6"/><circle cx="90.9" cy="23.0" r="0.6"/><circle cx="91.7" cy="27.7" r="0.6"/><circle cx="89.5" cy="27.9" r="0.6"/><circle cx="90.5" cy="34.7" r="0.6"/><circle cx="92.2" cy="33.3" r="0.6"/><circle cx="90.3" cy="37.9" r="0.6"/><circle cx="88.8" cy="39.5" r="0.6"/><circle cx="89.2" cy="40.9" r="0.6"/><circle cx="91.3" cy="40.2" r="0.6"/><circle cx="91.8" cy="45.1" r="0.6"/><circle cx="89.8" cy="45.8" r="0.6"/><circle cx="90.4" cy="51.0" r="0.6"/><circle cx="88.4" cy="50.2" r="0.6"/><circle cx="91.8" cy="53.9" r="0.6"/><circle cx="91.5" cy="56.1" r="0.6"/><circle cx="88.8" cy="59.8" r="0.6"/><circle cx="87.2" cy="58.2" r="0.6"/><circle cx="88.5" cy="63.5" r="0.6"/><circle cx="89.9" cy="61.7" r="0.6"/><circle cx="89.9" cy="69.1" r="0.6"/><circle cx="91.7" cy="67.9" r="0.6"/><circle cx="91.7" cy="75.2" r="0.6"/><circle cx="90.6" cy="73.3" r="0.6"/><circle cx="91.1" cy="77.9" r="0.6"/><circle cx="88.9" cy="77.5" r="0.6"/><circle cx="91.8" cy="80.7" r="0.6"/><circle cx="90.6" cy="82.5" r="0.6"/><circle cx="89.0" cy="85.4" r="0.6"/><circle cx="87.2" cy="84.1" r="0.6"/><circle cx="90.3" cy="89.8" r="0.6"/><circle cx="92.5" cy="90.2" r="0.6"/><circle cx="89.8" cy="91.9" r="0.6"/><circle cx="90.7" cy="93.9" r="0.6"/><circle cx="90.6" cy="98.5" r="0.6"/><circle cx="91.7" cy="100.5" r="0.6"/><circle cx="89.9" cy="103.0" r="0.6"/><circle cx="88.8" cy="104.9" r="0.6"/><circle cx="90.6" cy="106.4" r="0.6"/><circle cx="89.0" cy="107.9" r="0.6"/><circle cx="90.3" cy="111.9" r="0.6"/><circle cx="88.7" cy="110.5" r="0.6"/><circle cx="94.3" cy="1.5" r="0.6"/><circle cx="95.1" cy="-0.5" r="0.6"/><circle cx="95.7" cy="6.4" r="0.6"/><circle cx="95.0" cy="8.5" r="0.6"/><circle cx="97.0" cy="10.6" r="0.6"/><circle cx="95.8" cy="12.5" r="0.6"/><circle cx="92.7" cy="15.2" r="0.6"/><circle cx="94.6" cy="16.2" r="0.6"/><circle cx="96.9" cy="17.0" r="0.6"/><circle cx="97.0" cy="19.2" r="0.6"/><circle cx="95.8" cy="25.9" r="0.6"/><circle cx="94.9" cy="23.8" r="0.6"/><circle cx="94.1" cy="27.1" r="0.6"/><circle cx="96.2" cy="27.6" r="0.6"/><circle cx="92.1" cy="32.8" r="0.6"/><circle cx="94.2" cy="32.2" r="0.6"/><circle cx="95.0" cy="34.7" r="0.6"/><circle cx="97.1" cy="34.9" r="0.6"/><circle cx="94.6" cy="43.5" r="0.6"/><circle cx="93.6" cy="41.5" r="0.6"/><circle cx="96.3" cy="43.0" r="0.6"/><circle cx="97.3" cy="45.0" r="0.6"/><circle cx="95.5" cy="48.9" r="0.6"/><circle cx="93.9" cy="50.4" r="0.6"/><circle cx="94.9" cy="57.1" r="0.6"/><circle cx="92.8" cy="56.9" r="0.6"/><circle cx="92.1" cy="58.8" r="0.6"/><circle cx="93.8" cy="57.4" r="0.6"/><circle cx="96.8" cy="65.2" r="0.6"/><circle cx="94.6" cy="65.2" r="0.6"/><circle cx="95.6" cy="65.4" r="0.6"/><circle cx="97.4" cy="66.6" r="0.6"/><circle cx="92.4" cy="70.2" r="0.6"/><circle cx="94.4" cy="71.1" r="0.6"/><circle cx="93.7" cy="76.3" r="0.6"/><circle cx="95.8" cy="76.9" r="0.6"/><circle cx="93.1" cy="80.2" r="0.6"/><circle cx="94.6" cy="81.8" r="0.6"/><circle cx="92.3" cy="87.3" r="0.6"/><circle cx="93.9" cy="85.8" r="0.6"/><circle cx="96.1" cy="88.9" r="0.6"/><circle cx="94.1" cy="89.8" r="0.6"/><circle cx="96.4" cy="95.5" r="0.6"/><circle cx="94.4" cy="94.4" r="0.6"/><circle cx="96.4" cy="97.7" r="0.6"/><circle cx="96.3" cy="99.9" r="0.6"/><circle cx="96.0" cy="103.6" r="0.6"/><circle cx="94.7" cy="101.9" r="0.6"/><circle cx="94.9" cy="105.9" r="0.6"/><circle cx="96.6" cy="104.4" r="0.6"/><circle cx="92.9" cy="110.2" r="0.6"/><circle cx="94.9" cy="109.5" r="0.6"/><circle cx="99.5" cy="-0.0" r="0.6"/><circle cx="101.6" cy="-0.5" r="0.6"/><circle cx="99.3" cy="7.0" r="0.6"/><circle cx="97.1" cy="6.9" r="0.6"/><circle cx="97.7" cy="11.1" r="0.6"/><circle cx="98.7" cy="13.0" r="0.6"/><circle cx="98.9" cy="16.3" r="0.6"/><circle cx="99.5" cy="14.2" r="0.6"/><circle cx="99.9" cy="19.1" r="0.6"/><circle cx="97.8" cy="19.7" r="0.6"/><circle cx="98.1" cy="22.5" r="0.6"/><circle cx="99.0" cy="24.5" r="0.6"/><circle cx="98.1" cy="29.6" r="0.6"/><circle cx="100.0" cy="28.5" r="0.6"/><circle cx="96.8" cy="33.9" r="0.6"/><circle cx="98.8" cy="33.0" r="0.6"/><circle cx="98.3" cy="36.4" r="0.6"/><circle cx="99.6" cy="34.7" r="0.6"/><circle cx="98.1" cy="38.9" r="0.6"/><circle cx="98.1" cy="41.1" r="0.6"/><circle cx="99.5" cy="45.9" r="0.6"/><circle cx="100.2" cy="43.9" r="0.6"/><circle cx="96.3" cy="50.4" r="0.6"/><circle cx="98.4" cy="50.0" r="0.6"/><circle cx="96.9" cy="56.2" r="0.6"/><circle cx="98.8" cy="55.1" r="0.6"/><circle cx="100.8" cy="61.1" r="0.6"/><circle cx="98.7" cy="61.6" r="0.6"/><circle cx="98.9" cy="65.6" r="0.6"/><circle cx="98.6" cy="63.4" r="0.6"/><circle cx="97.7" cy="67.1" r="0.6"/><circle cx="99.8" cy="66.7" r="0.6"/><circle cx="100.0" cy="69.9" r="0.6"/><circle cx="101.3" cy="71.7" r="0.6"/><circle cx="98.7" cy="78.8" r="0.6"/><circle cx="96.5" cy="79.1" r="0.6"/><circle cx="97.4" cy="82.0" r="0.6"/><circle cx="98.4" cy="80.0" r="0.6"/><circle cx="99.8" cy="85.7" r="0.6"/><circle cx="98.9" cy="87.7" r="0.6"/><circle cx="101.3" cy="89.0" r="0.6"/><circle cx="99.3" cy="90.0" r="0.6"/><circle cx="100.1" cy="95.0" r="0.6"/><circle cx="98.6" cy="93.4" r="0.6"/><circle cx="100.1" cy="97.6" r="0.6"/><circle cx="99.9" cy="99.8" r="0.6"/><circle cx="100.6" cy="104.0" r="0.6"/><circle cx="98.9" cy="102.7" r="0.6"/><circle cx="99.9" cy="107.6" r="0.6"/><circle cx="101.5" cy="109.2" r="0.6"/><circle cx="100.1" cy="114.0" r="0.6"/><circle cx="98.0" cy="113.3" r="0.6"/><circle cx="106.1" cy="1.2" r="0.6"/><circle cx="104.3" cy="2.5" r="0.6"/><circle cx="104.5" cy="7.6" r="0.6"/><circle cx="103.2" cy="9.3" r="0.6"/><circle cx="103.2" cy="13.0" r="0.6"/><circle cx="103.9" cy="10.9" r="0.6"/><circle cx="103.8" cy="16.3" r="0.6"/><circle cx="102.5" cy="14.5" r="0.6"/><circle cx="103.1" cy="19.4" r="0.6"/><circle cx="104.6" cy="17.9" r="0.6"/><circle cx="103.7" cy="24.5" r="0.6"/><circle cx="102.4" cy="22.7" r="0.6"/><circle cx="102.1" cy="29.3" r="0.6"/><circle cx="102.5" cy="27.1" r="0.6"/><circle cx="102.0" cy="32.8" r="0.6"/><circle cx="100.8" cy="31.0" r="0.6"/><circle cx="105.6" cy="40.0" r="0.6"/><circle cx="103.5" cy="39.5" r="0.6"/><circle cx="103.1" cy="40.1" r="0.6"/><circle cx="102.9" cy="42.3" r="0.6"/><circle cx="104.9" cy="45.8" r="0.6"/><circle cx="102.8" cy="45.3" r="0.6"/><circle cx="100.7" cy="51.1" r="0.6"/><circle cx="102.9" cy="51.0" r="0.6"/><circle cx="103.1" cy="57.7" r="0.6"/><circle cx="101.3" cy="56.4" r="0.6"/><circle cx="102.5" cy="58.6" r="0.6"/><circle cx="104.7" cy="58.9" r="0.6"/><circle cx="104.6" cy="62.7" r="0.6"/><circle cx="104.0" cy="64.9" r="0.6"/><circle cx="101.3" cy="68.0" r="0.6"/><circle cx="103.4" cy="67.3" r="0.6"/><circle cx="102.6" cy="72.4" r="0.6"/><circle cx="104.5" cy="73.4" r="0.6"/><circle cx="103.8" cy="76.4" r="0.6"/><circle cx="101.6" cy="76.5" r="0.6"/><circle cx="104.9" cy="82.6" r="0.6"/><circle cx="103.3" cy="81.0" r="0.6"/><circle cx="103.5" cy="87.4" r="0.6"/><circle cx="101.3" cy="87.2" r="0.6"/><circle cx="102.4" cy="92.0" r="0.6"/><circle cx="101.5" cy="90.0" r="0.6"/><circle cx="104.1" cy="92.2" r="0.6"/><circle cx="105.2" cy="94.1" r="0.6"/><circle cx="102.6" cy="98.2" r="0.6"/><circle cx="104.7" cy="97.5" r="0.6"/><circle cx="103.0" cy="104.3" r="0.6"/><circle cx="101.7" cy="106.1" r="0.6"/><circle cx="103.3" cy="105.9" r="0.6"/><circle cx="103.4" cy="108.1" r="0.6"/><circle cx="103.4" cy="112.2" r="0.6"/><circle cx="105.4" cy="111.3" r="0.6"/><circle cx="105.9" cy="1.5" r="0.6"/><circle cx="108.0" cy="2.4" r="0.6"/><circle cx="105.6" cy="6.2" r="0.6"/><circle cx="107.5" cy="7.4" r="0.6"/><circle cx="108.3" cy="10.2" r="0.6"/><circle cx="109.4" cy="12.1" r="0.6"/><circle cx="107.1" cy="13.9" r="0.6"/><circle cx="109.3" cy="14.2" r="0.6"/><circle cx="109.3" cy="20.5" r="0.6"/><circle cx="107.2" cy="20.2" r="0.6"/><circle cx="107.6" cy="21.7" r="0.6"/><circle cx="109.8" cy="21.7" r="0.6"/><circle cx="105.6" cy="27.1" r="0.6"/><circle cx="107.5" cy="26.1" r="0.6"/><circle cx="107.7" cy="34.7" r="0.6"/><circle cx="106.6" cy="32.7" r="0.6"/><circle cx="106.6" cy="37.5" r="0.6"/><circle cx="108.2" cy="39.0" r="0.6"/><circle cx="108.2" cy="38.9" r="0.6"/><circle cx="108.0" cy="41.1" r="0.6"/><circle cx="107.8" cy="45.8" r="0.6"/><circle cx="107.8" cy="43.6" r="0.6"/><circle cx="105.9" cy="48.3" r="0.6"/><circle cx="107.4" cy="50.0" r="0.6"/><circle cx="106.7" cy="54.8" r="0.6"/><circle cx="107.1" cy="52.7" r="0.6"/><circle cx="107.4" cy="59.2" r="0.6"/><circle cx="105.9" cy="57.6" r="0.6"/><circle cx="108.6" cy="64.3" r="0.6"/><circle cx="107.2" cy="66.0" r="0.6"/><circle cx="108.4" cy="68.6" r="0.6"/><circle cx="106.4" cy="69.4" r="0.6"/><circle cx="107.8" cy="71.9" r="0.6"/><circle cx="105.6" cy="71.7" r="0.6"/><circle cx="107.9" cy="74.0" r="0.6"/><circle cx="108.0" cy="76.2" r="0.6"/><circle cx="106.6" cy="82.6" r="0.6"/><circle cx="107.3" cy="80.6" r="0.6"/><circle cx="108.3" cy="85.7" r="0.6"/><circle cx="106.2" cy="84.9" r="0.6"/><circle cx="107.1" cy="89.7" r="0.6"/><circle cx="108.5" cy="91.3" r="0.6"/><circle cx="105.6" cy="94.0" r="0.6"/><circle cx="107.0" cy="92.3" r="0.6"/><circle cx="109.3" cy="98.8" r="0.6"/><circle cx="107.2" cy="98.2" r="0.6"/><circle cx="108.0" cy="101.9" r="0.6"/><circle cx="109.8" cy="100.6" r="0.6"/><circle cx="107.1" cy="106.2" r="0.6"/><circle cx="106.7" cy="108.4" r="0.6"/><circle cx="107.0" cy="113.0" r="0.6"/><circle cx="107.3" cy="110.9" r="0.6"/><circle cx="110.6" cy="4.1" r="0.6"/><circle cx="111.0" cy="2.0" r="0.6"/><circle cx="114.6" cy="5.9" r="0.6"/><circle cx="113.7" cy="7.9" r="0.6"/><circle cx="112.0" cy="12.0" r="0.6"/><circle cx="113.8" cy="10.8" r="0.6"/><circle cx="112.0" cy="13.1" r="0.6"/><circle cx="111.7" cy="15.3" r="0.6"/><circle cx="112.2" cy="18.6" r="0.6"/><circle cx="110.1" cy="19.4" r="0.6"/><circle cx="112.0" cy="23.0" r="0.6"/><circle cx="114.2" cy="22.9" r="0.6"/><circle cx="110.9" cy="30.0" r="0.6"/><circle cx="109.7" cy="28.2" r="0.6"/><circle cx="110.3" cy="30.7" r="0.6"/><circle cx="112.4" cy="30.3" r="0.6"/><circle cx="110.9" cy="39.3" r="0.6"/><circle cx="111.4" cy="37.2" r="0.6"/><circle cx="112.4" cy="44.6" r="0.6"/><circle cx="111.9" cy="42.5" r="0.6"/><circle cx="110.9" cy="48.1" r="0.6"/><circle cx="112.1" cy="46.3" r="0.6"/><circle cx="112.7" cy="49.4" r="0.6"/><circle cx="112.4" cy="51.6" r="0.6"/><circle cx="113.9" cy="53.6" r="0.6"/><circle cx="113.8" cy="55.8" r="0.6"/><circle cx="111.3" cy="58.6" r="0.6"/><circle cx="112.2" cy="60.6" r="0.6"/><circle cx="112.4" cy="62.7" r="0.6"/><circle cx="114.4" cy="61.9" r="0.6"/><circle cx="113.2" cy="67.6" r="0.6"/><circle cx="111.2" cy="68.5" r="0.6"/><circle cx="111.6" cy="72.0" r="0.6"/><circle cx="113.6" cy="71.2" r="0.6"/><circle cx="111.5" cy="76.8" r="0.6"/><circle cx="112.4" cy="78.8" r="0.6"/><circle cx="110.0" cy="81.0" r="0.6"/><circle cx="111.8" cy="82.2" r="0.6"/><circle cx="112.1" cy="84.2" r="0.6"/><circle cx="113.8" cy="82.8" r="0.6"/><circle cx="109.6" cy="91.4" r="0.6"/><circle cx="109.9" cy="89.2" r="0.6"/><circle cx="111.2" cy="93.4" r="0.6"/><circle cx="112.7" cy="91.8" r="0.6"/><circle cx="113.3" cy="97.5" r="0.6"/><circle cx="111.3" cy="98.4" r="0.6"/><circle cx="111.5" cy="104.4" r="0.6"/><circle cx="110.8" cy="102.4" r="0.6"/><circle cx="113.4" cy="105.7" r="0.6"/><circle cx="114.9" cy="107.2" r="0.6"/><circle cx="111.3" cy="114.7" r="0.6"/><circle cx="109.7" cy="113.3" r="0.6"/></g>
<g fill="#d42a2a"><circle cx="2.4" cy="23.4" r="0.92"/><circle cx="2.7" cy="35.6" r="0.93"/><circle cx="3.9" cy="55.2" r="0.81"/><circle cx="1.3" cy="70.9" r="0.85"/><circle cx="3.3" cy="93.9" r="0.97"/><circle cx="5.2" cy="32.4" r="0.78"/><circle cx="6.5" cy="37.1" r="0.83"/><circle cx="6.7" cy="81.4" r="0.77"/><circle cx="6.4" cy="92.9" r="0.87"/><circle cx="10.4" cy="6.7" r="1.04"/><circle cx="10.2" cy="12.0" r="0.91"/><circle cx="10.4" cy="60.0" r="0.79"/><circle cx="11.5" cy="80.1" r="0.83"/><circle cx="14.7" cy="9.8" r="1.01"/><circle cx="14.3" cy="19.0" r="0.99"/><circle cx="19.3" cy="43.3" r="0.93"/><circle cx="20.7" cy="65.3" r="0.95"/><circle cx="20.1" cy="69.0" r="0.78"/><circle cx="21.5" cy="100.1" r="0.82"/><circle cx="22.7" cy="6.3" r="1.01"/><circle cx="24.3" cy="77.8" r="0.80"/><circle cx="23.8" cy="89.8" r="0.92"/><circle cx="22.7" cy="99.7" r="0.84"/><circle cx="25.2" cy="111.1" r="0.92"/><circle cx="27.3" cy="11.9" r="1.02"/><circle cx="29.0" cy="28.2" r="0.89"/><circle cx="30.3" cy="58.7" r="0.80"/><circle cx="31.5" cy="51.4" r="0.75"/><circle cx="36.4" cy="43.3" r="0.99"/><circle cx="38.0" cy="45.5" r="0.83"/><circle cx="38.4" cy="54.9" r="0.84"/><circle cx="36.7" cy="57.8" r="0.83"/><circle cx="36.3" cy="76.6" r="0.97"/><circle cx="39.0" cy="79.8" r="0.87"/><circle cx="39.0" cy="99.0" r="0.88"/><circle cx="36.6" cy="111.6" r="0.86"/><circle cx="42.7" cy="2.1" r="0.90"/><circle cx="40.6" cy="22.9" r="0.95"/><circle cx="40.8" cy="33.6" r="0.75"/><circle cx="42.2" cy="47.1" r="0.80"/><circle cx="42.4" cy="49.5" r="0.89"/><circle cx="43.0" cy="95.1" r="0.86"/><circle cx="40.6" cy="103.3" r="0.84"/><circle cx="40.2" cy="108.5" r="0.75"/><circle cx="45.0" cy="2.9" r="0.88"/><circle cx="47.2" cy="19.8" r="0.88"/><circle cx="47.4" cy="37.4" r="0.97"/><circle cx="46.7" cy="50.7" r="1.01"/><circle cx="49.8" cy="59.1" r="0.78"/><circle cx="52.3" cy="71.5" r="0.94"/><circle cx="51.9" cy="79.7" r="0.84"/><circle cx="54.4" cy="18.3" r="0.75"/><circle cx="53.6" cy="47.2" r="0.99"/><circle cx="54.3" cy="50.7" r="0.84"/><circle cx="55.0" cy="87.2" r="0.94"/><circle cx="55.6" cy="93.4" r="0.96"/><circle cx="55.4" cy="100.0" r="1.04"/><circle cx="55.6" cy="106.3" r="0.86"/><circle cx="59.3" cy="3.1" r="0.92"/><circle cx="58.1" cy="38.6" r="1.00"/><circle cx="59.5" cy="57.7" r="0.89"/><circle cx="65.1" cy="9.4" r="0.95"/><circle cx="65.5" cy="26.9" r="0.93"/><circle cx="64.6" cy="69.0" r="0.98"/><circle cx="65.3" cy="76.9" r="0.78"/><circle cx="63.7" cy="92.7" r="0.77"/><circle cx="63.1" cy="111.9" r="1.03"/><circle cx="68.7" cy="5.7" r="1.00"/><circle cx="68.4" cy="10.1" r="0.90"/><circle cx="67.5" cy="82.6" r="0.81"/><circle cx="71.3" cy="12.7" r="0.85"/><circle cx="73.2" cy="64.9" r="1.03"/><circle cx="70.9" cy="77.3" r="0.81"/><circle cx="72.4" cy="80.9" r="1.04"/><circle cx="71.4" cy="84.0" r="0.88"/><circle cx="71.1" cy="104.1" r="0.96"/><circle cx="77.4" cy="13.6" r="0.98"/><circle cx="77.0" cy="19.7" r="0.98"/><circle cx="77.5" cy="25.0" r="0.86"/><circle cx="75.6" cy="37.8" r="1.02"/><circle cx="77.7" cy="63.7" r="0.76"/><circle cx="77.5" cy="94.6" r="0.77"/><circle cx="82.0" cy="108.5" r="0.91"/><circle cx="86.3" cy="20.0" r="0.81"/><circle cx="87.4" cy="64.1" r="1.01"/><circle cx="85.4" cy="81.0" r="1.04"/><circle cx="88.9" cy="2.2" r="0.83"/><circle cx="91.2" cy="69.1" r="0.91"/><circle cx="88.6" cy="103.6" r="0.92"/><circle cx="96.1" cy="24.5" r="0.98"/><circle cx="94.6" cy="77.4" r="0.76"/><circle cx="98.7" cy="18.7" r="0.93"/><circle cx="97.4" cy="40.0" r="0.92"/><circle cx="97.5" cy="78.2" r="0.94"/><circle cx="100.0" cy="93.6" r="0.79"/><circle cx="104.4" cy="19.2" r="0.90"/><circle cx="104.8" cy="39.0" r="0.89"/><circle cx="103.2" cy="73.6" r="0.89"/><circle cx="102.6" cy="90.7" r="0.94"/><circle cx="103.9" cy="93.5" r="1.03"/><circle cx="106.6" cy="2.7" r="0.78"/><circle cx="108.7" cy="22.5" r="0.90"/><circle cx="108.6" cy="44.7" r="0.87"/><circle cx="107.5" cy="84.5" r="0.83"/><circle cx="113.4" cy="6.5" r="0.78"/><circle cx="111.9" cy="67.3" r="0.88"/><circle cx="110.5" cy="90.4" r="0.91"/></g>
<g fill="#e04848"><circle cx="2.3" cy="1.2" r="0.91"/><circle cx="0.6" cy="5.6" r="0.99"/><circle cx="2.8" cy="49.6" r="0.95"/><circle cx="3.6" cy="60.7" r="1.02"/><circle cx="1.4" cy="83.8" r="0.79"/><circle cx="4.9" cy="51.4" r="0.85"/><circle cx="4.9" cy="75.6" r="0.92"/><circle cx="7.4" cy="102.1" r="0.98"/><circle cx="10.1" cy="14.0" r="1.02"/><circle cx="11.0" cy="48.7" r="0.79"/><circle cx="11.7" cy="76.1" r="0.87"/><circle cx="14.8" cy="15.2" r="0.83"/><circle cx="14.9" cy="32.9" r="0.94"/><circle cx="14.5" cy="58.8" r="0.92"/><circle cx="15.5" cy="93.0" r="0.90"/><circle cx="14.5" cy="111.3" r="1.03"/><circle cx="19.5" cy="11.7" r="0.86"/><circle cx="18.6" cy="20.9" r="0.76"/><circle cx="18.6" cy="31.9" r="1.00"/><circle cx="18.6" cy="59.9" r="1.03"/><circle cx="18.6" cy="80.4" r="0.95"/><circle cx="25.2" cy="10.3" r="0.79"/><circle cx="25.6" cy="34.4" r="0.75"/><circle cx="23.9" cy="42.2" r="0.95"/><circle cx="22.5" cy="56.0" r="0.81"/><circle cx="24.1" cy="59.1" r="0.97"/><circle cx="22.5" cy="81.5" r="0.76"/><circle cx="25.4" cy="85.7" r="0.96"/><circle cx="24.3" cy="94.7" r="1.04"/><circle cx="24.4" cy="102.3" r="0.83"/><circle cx="25.7" cy="107.1" r="0.92"/><circle cx="28.8" cy="1.1" r="1.04"/><circle cx="30.2" cy="43.2" r="0.84"/><circle cx="29.1" cy="50.5" r="0.99"/><circle cx="29.3" cy="54.0" r="1.05"/><circle cx="27.1" cy="95.3" r="0.96"/><circle cx="29.7" cy="98.9" r="0.90"/><circle cx="30.1" cy="103.7" r="0.79"/><circle cx="31.7" cy="62.8" r="0.94"/><circle cx="33.9" cy="90.5" r="0.96"/><circle cx="38.3" cy="7.7" r="0.94"/><circle cx="37.4" cy="22.7" r="1.03"/><circle cx="36.2" cy="69.6" r="0.84"/><circle cx="39.0" cy="102.6" r="0.95"/><circle cx="41.0" cy="8.0" r="0.96"/><circle cx="42.1" cy="11.3" r="0.98"/><circle cx="42.0" cy="63.0" r="0.82"/><circle cx="46.9" cy="54.3" r="0.79"/><circle cx="45.8" cy="82.5" r="0.77"/><circle cx="44.6" cy="107.9" r="0.84"/><circle cx="50.9" cy="89.0" r="0.84"/><circle cx="55.3" cy="11.0" r="0.82"/><circle cx="54.3" cy="40.9" r="0.84"/><circle cx="53.9" cy="67.4" r="0.82"/><circle cx="58.2" cy="6.8" r="0.82"/><circle cx="60.6" cy="14.8" r="0.91"/><circle cx="60.8" cy="43.0" r="0.81"/><circle cx="58.5" cy="64.7" r="0.89"/><circle cx="60.4" cy="112.8" r="0.87"/><circle cx="62.5" cy="38.4" r="0.89"/><circle cx="62.5" cy="41.2" r="0.81"/><circle cx="62.9" cy="45.6" r="0.77"/><circle cx="63.9" cy="60.6" r="0.95"/><circle cx="65.2" cy="72.0" r="0.79"/><circle cx="69.1" cy="23.2" r="1.04"/><circle cx="67.6" cy="32.9" r="0.96"/><circle cx="74.1" cy="0.6" r="0.91"/><circle cx="73.3" cy="16.3" r="0.88"/><circle cx="74.2" cy="20.0" r="1.01"/><circle cx="72.5" cy="37.5" r="0.97"/><circle cx="72.9" cy="57.8" r="1.01"/><circle cx="74.0" cy="90.2" r="0.84"/><circle cx="76.4" cy="7.3" r="0.84"/><circle cx="77.5" cy="66.7" r="0.90"/><circle cx="78.0" cy="109.1" r="0.88"/><circle cx="80.1" cy="26.9" r="0.91"/><circle cx="79.8" cy="31.4" r="0.80"/><circle cx="80.3" cy="51.1" r="1.00"/><circle cx="81.8" cy="54.6" r="0.79"/><circle cx="82.8" cy="82.2" r="1.00"/><circle cx="80.8" cy="84.0" r="0.75"/><circle cx="82.8" cy="91.4" r="1.02"/><circle cx="84.9" cy="25.0" r="0.81"/><circle cx="86.9" cy="36.8" r="1.04"/><circle cx="85.6" cy="47.7" r="1.04"/><circle cx="85.1" cy="97.5" r="0.95"/><circle cx="90.5" cy="27.0" r="0.93"/><circle cx="91.8" cy="34.6" r="1.00"/><circle cx="90.5" cy="41.3" r="0.89"/><circle cx="95.8" cy="11.1" r="0.99"/><circle cx="93.5" cy="58.7" r="0.85"/><circle cx="95.7" cy="64.5" r="0.79"/><circle cx="95.8" cy="94.2" r="0.81"/><circle cx="97.5" cy="12.4" r="0.92"/><circle cx="99.4" cy="29.7" r="0.88"/><circle cx="98.1" cy="34.2" r="0.75"/><circle cx="97.5" cy="51.0" r="0.87"/><circle cx="99.5" cy="64.4" r="0.82"/><circle cx="104.8" cy="1.2" r="0.90"/><circle cx="107.3" cy="39.9" r="0.90"/><circle cx="107.2" cy="75.1" r="0.82"/><circle cx="107.7" cy="81.8" r="0.84"/><circle cx="106.9" cy="93.7" r="0.87"/><circle cx="113.2" cy="23.7" r="0.98"/><circle cx="113.1" cy="54.7" r="0.81"/><circle cx="111.2" cy="78.1" r="0.76"/><circle cx="112.0" cy="97.2" r="0.93"/><circle cx="111.9" cy="103.1" r="0.79"/></g>
<g fill="#e87070"><circle cx="1.1" cy="42.2" r="0.86"/><circle cx="1.3" cy="65.2" r="0.84"/><circle cx="0.7" cy="68.4" r="0.78"/><circle cx="3.7" cy="104.0" r="0.95"/><circle cx="0.8" cy="109.1" r="0.94"/><circle cx="7.8" cy="5.2" r="0.88"/><circle cx="5.2" cy="23.6" r="1.02"/><circle cx="6.4" cy="60.5" r="0.88"/><circle cx="5.5" cy="84.8" r="0.89"/><circle cx="11.4" cy="20.6" r="0.85"/><circle cx="10.2" cy="26.8" r="0.94"/><circle cx="9.3" cy="55.8" r="0.84"/><circle cx="12.4" cy="66.9" r="1.03"/><circle cx="9.9" cy="88.3" r="1.01"/><circle cx="11.9" cy="109.1" r="0.97"/><circle cx="16.1" cy="6.8" r="1.02"/><circle cx="14.1" cy="29.1" r="0.97"/><circle cx="16.2" cy="41.9" r="1.04"/><circle cx="14.8" cy="84.0" r="0.81"/><circle cx="14.2" cy="99.8" r="0.88"/><circle cx="19.7" cy="15.2" r="0.91"/><circle cx="20.4" cy="72.5" r="1.03"/><circle cx="19.4" cy="87.1" r="0.92"/><circle cx="19.1" cy="106.3" r="0.92"/><circle cx="23.5" cy="13.9" r="0.85"/><circle cx="23.6" cy="50.1" r="0.86"/><circle cx="29.5" cy="34.2" r="0.91"/><circle cx="30.2" cy="37.5" r="0.93"/><circle cx="30.4" cy="62.8" r="0.82"/><circle cx="29.0" cy="90.8" r="1.00"/><circle cx="28.1" cy="108.5" r="1.02"/><circle cx="31.7" cy="28.2" r="0.83"/><circle cx="32.1" cy="82.5" r="0.79"/><circle cx="33.1" cy="110.6" r="0.80"/><circle cx="38.3" cy="10.8" r="0.80"/><circle cx="37.7" cy="31.4" r="0.85"/><circle cx="36.5" cy="84.0" r="0.96"/><circle cx="42.3" cy="28.8" r="0.92"/><circle cx="42.9" cy="84.4" r="1.01"/><circle cx="44.6" cy="6.3" r="0.88"/><circle cx="44.8" cy="25.8" r="1.03"/><circle cx="47.4" cy="63.5" r="0.75"/><circle cx="44.8" cy="77.7" r="0.91"/><circle cx="47.0" cy="95.5" r="0.82"/><circle cx="50.1" cy="18.6" r="0.78"/><circle cx="49.1" cy="28.3" r="0.82"/><circle cx="50.1" cy="104.0" r="1.00"/><circle cx="51.5" cy="112.5" r="0.85"/><circle cx="55.4" cy="6.1" r="0.87"/><circle cx="54.7" cy="111.1" r="0.95"/><circle cx="59.4" cy="10.6" r="0.98"/><circle cx="60.5" cy="18.2" r="0.95"/><circle cx="60.6" cy="29.1" r="0.75"/><circle cx="58.4" cy="32.4" r="1.05"/><circle cx="57.8" cy="95.2" r="0.77"/><circle cx="64.2" cy="6.0" r="0.91"/><circle cx="62.1" cy="25.3" r="1.01"/><circle cx="62.6" cy="50.0" r="0.83"/><circle cx="63.7" cy="81.1" r="0.87"/><circle cx="63.9" cy="91.2" r="0.86"/><circle cx="69.2" cy="2.9" r="0.76"/><circle cx="66.5" cy="28.3" r="0.95"/><circle cx="67.1" cy="49.5" r="0.93"/><circle cx="69.1" cy="55.7" r="0.78"/><circle cx="67.5" cy="66.2" r="0.84"/><circle cx="67.8" cy="76.4" r="0.75"/><circle cx="67.5" cy="102.2" r="1.03"/><circle cx="68.9" cy="112.4" r="0.99"/><circle cx="72.4" cy="7.0" r="0.91"/><circle cx="71.7" cy="72.1" r="0.90"/><circle cx="78.3" cy="29.6" r="0.77"/><circle cx="78.3" cy="32.4" r="0.80"/><circle cx="78.0" cy="73.4" r="0.85"/><circle cx="76.4" cy="112.3" r="1.01"/><circle cx="82.6" cy="21.3" r="0.90"/><circle cx="82.5" cy="44.6" r="0.90"/><circle cx="81.4" cy="64.3" r="0.90"/><circle cx="79.7" cy="66.6" r="1.04"/><circle cx="81.7" cy="78.0" r="0.91"/><circle cx="85.8" cy="6.8" r="0.94"/><circle cx="86.0" cy="11.7" r="0.77"/><circle cx="86.3" cy="48.7" r="1.02"/><circle cx="87.4" cy="73.5" r="0.96"/><circle cx="84.7" cy="84.6" r="0.92"/><circle cx="86.4" cy="90.8" r="0.82"/><circle cx="89.7" cy="9.4" r="0.84"/><circle cx="91.1" cy="16.1" r="0.96"/><circle cx="91.8" cy="73.9" r="0.77"/><circle cx="90.2" cy="76.9" r="0.84"/><circle cx="88.6" cy="84.1" r="1.05"/><circle cx="91.2" cy="90.8" r="0.91"/><circle cx="90.4" cy="99.9" r="0.98"/><circle cx="95.5" cy="0.8" r="0.92"/><circle cx="96.1" cy="18.1" r="0.88"/><circle cx="94.1" cy="49.1" r="1.02"/><circle cx="93.6" cy="87.1" r="0.83"/><circle cx="96.3" cy="105.7" r="0.89"/><circle cx="100.0" cy="71.2" r="0.76"/><circle cx="99.2" cy="98.6" r="1.03"/><circle cx="102.0" cy="31.5" r="0.90"/><circle cx="102.2" cy="41.2" r="1.04"/><circle cx="104.0" cy="44.8" r="0.83"/><circle cx="103.5" cy="59.5" r="0.82"/><circle cx="103.5" cy="63.6" r="0.88"/><circle cx="102.6" cy="68.4" r="0.77"/><circle cx="102.6" cy="107.0" r="0.80"/><circle cx="104.7" cy="112.5" r="0.82"/><circle cx="106.1" cy="7.4" r="0.84"/><circle cx="106.8" cy="71.0" r="0.87"/><circle cx="106.1" cy="107.2" r="0.90"/><circle cx="113.3" cy="12.0" r="0.86"/><circle cx="111.1" cy="14.1" r="0.89"/><circle cx="110.9" cy="28.7" r="0.81"/><circle cx="111.9" cy="38.4" r="0.97"/><circle cx="112.9" cy="43.4" r="0.93"/><circle cx="113.5" cy="84.1" r="0.99"/><circle cx="113.6" cy="107.0" r="1.00"/></g>
<g fill="#c81e1e"><circle cx="2.0" cy="20.2" r="0.89"/><circle cx="1.2" cy="28.1" r="0.78"/><circle cx="2.4" cy="75.7" r="0.93"/><circle cx="3.2" cy="81.0" r="0.89"/><circle cx="0.8" cy="112.7" r="1.04"/><circle cx="5.1" cy="18.4" r="1.02"/><circle cx="7.6" cy="28.3" r="0.90"/><circle cx="7.5" cy="46.2" r="0.97"/><circle cx="7.6" cy="55.6" r="1.01"/><circle cx="5.2" cy="64.4" r="1.03"/><circle cx="5.1" cy="74.0" r="1.03"/><circle cx="8.1" cy="89.3" r="0.94"/><circle cx="6.1" cy="108.0" r="0.75"/><circle cx="10.0" cy="0.7" r="0.76"/><circle cx="10.0" cy="23.5" r="0.96"/><circle cx="11.4" cy="37.7" r="0.86"/><circle cx="9.6" cy="95.1" r="0.83"/><circle cx="17.1" cy="44.3" r="1.02"/><circle cx="15.7" cy="50.2" r="0.85"/><circle cx="14.1" cy="63.8" r="1.00"/><circle cx="14.5" cy="72.0" r="1.02"/><circle cx="15.8" cy="82.2" r="0.89"/><circle cx="16.0" cy="103.7" r="1.00"/><circle cx="18.9" cy="3.7" r="0.94"/><circle cx="20.3" cy="6.8" r="0.89"/><circle cx="21.3" cy="28.6" r="0.90"/><circle cx="19.2" cy="45.4" r="1.00"/><circle cx="20.4" cy="51.7" r="0.79"/><circle cx="20.9" cy="90.7" r="1.00"/><circle cx="24.1" cy="21.3" r="0.98"/><circle cx="25.9" cy="37.1" r="0.94"/><circle cx="24.7" cy="64.7" r="1.00"/><circle cx="27.8" cy="6.0" r="0.92"/><circle cx="28.4" cy="14.8" r="1.01"/><circle cx="28.4" cy="24.4" r="0.86"/><circle cx="29.1" cy="44.8" r="0.84"/><circle cx="28.5" cy="68.6" r="0.96"/><circle cx="30.1" cy="81.3" r="0.93"/><circle cx="31.9" cy="9.3" r="1.02"/><circle cx="31.5" cy="15.2" r="0.97"/><circle cx="34.2" cy="34.5" r="0.83"/><circle cx="34.0" cy="57.5" r="0.88"/><circle cx="32.8" cy="72.1" r="0.92"/><circle cx="34.1" cy="95.6" r="1.03"/><circle cx="33.3" cy="109.0" r="0.97"/><circle cx="38.0" cy="18.0" r="0.96"/><circle cx="36.4" cy="64.6" r="1.02"/><circle cx="37.6" cy="93.6" r="0.94"/><circle cx="36.2" cy="105.9" r="0.87"/><circle cx="43.1" cy="55.2" r="1.01"/><circle cx="42.1" cy="60.8" r="0.81"/><circle cx="40.2" cy="81.6" r="1.00"/><circle cx="43.3" cy="97.9" r="0.88"/><circle cx="47.1" cy="32.9" r="0.81"/><circle cx="45.3" cy="41.8" r="1.00"/><circle cx="45.2" cy="59.8" r="0.88"/><circle cx="44.9" cy="69.0" r="0.88"/><circle cx="45.3" cy="83.8" r="0.76"/><circle cx="45.2" cy="99.0" r="0.78"/><circle cx="44.7" cy="102.1" r="0.83"/><circle cx="47.6" cy="112.2" r="0.88"/><circle cx="50.4" cy="23.1" r="0.97"/><circle cx="49.0" cy="41.6" r="0.94"/><circle cx="50.2" cy="66.4" r="0.99"/><circle cx="49.0" cy="77.2" r="1.04"/><circle cx="54.1" cy="27.3" r="0.95"/><circle cx="55.8" cy="36.0" r="0.93"/><circle cx="54.6" cy="53.3" r="0.98"/><circle cx="55.3" cy="77.9" r="0.99"/><circle cx="59.2" cy="51.0" r="0.95"/><circle cx="60.0" cy="72.9" r="0.78"/><circle cx="58.8" cy="84.3" r="0.96"/><circle cx="60.1" cy="89.1" r="0.99"/><circle cx="64.0" cy="54.7" r="0.89"/><circle cx="63.5" cy="86.2" r="0.76"/><circle cx="64.1" cy="106.3" r="0.85"/><circle cx="68.7" cy="21.4" r="0.88"/><circle cx="68.2" cy="57.6" r="0.98"/><circle cx="67.8" cy="84.1" r="1.04"/><circle cx="74.1" cy="23.7" r="0.90"/><circle cx="73.6" cy="32.1" r="0.99"/><circle cx="74.1" cy="66.4" r="0.77"/><circle cx="71.3" cy="98.3" r="0.94"/><circle cx="73.9" cy="106.7" r="0.89"/><circle cx="73.7" cy="113.4" r="0.97"/><circle cx="76.1" cy="3.8" r="0.95"/><circle cx="75.4" cy="43.2" r="0.83"/><circle cx="76.9" cy="45.2" r="1.01"/><circle cx="78.2" cy="53.5" r="0.78"/><circle cx="77.8" cy="98.0" r="0.96"/><circle cx="81.7" cy="3.5" r="0.75"/><circle cx="81.1" cy="15.3" r="0.87"/><circle cx="80.5" cy="25.5" r="0.81"/><circle cx="80.0" cy="36.3" r="0.83"/><circle cx="81.1" cy="60.1" r="0.83"/><circle cx="80.3" cy="98.2" r="0.97"/><circle cx="80.3" cy="111.1" r="0.84"/><circle cx="87.5" cy="2.3" r="0.78"/><circle cx="87.1" cy="15.8" r="0.78"/><circle cx="87.1" cy="54.8" r="0.96"/><circle cx="87.4" cy="57.9" r="0.97"/><circle cx="86.2" cy="68.0" r="1.01"/><circle cx="86.8" cy="113.3" r="0.95"/><circle cx="91.2" cy="7.9" r="0.80"/><circle cx="89.8" cy="21.4" r="1.01"/><circle cx="90.5" cy="44.7" r="0.89"/><circle cx="89.2" cy="106.6" r="0.79"/><circle cx="94.6" cy="7.2" r="0.95"/><circle cx="93.3" cy="16.4" r="0.81"/><circle cx="93.9" cy="56.2" r="1.05"/><circle cx="96.1" cy="66.6" r="0.81"/><circle cx="95.6" cy="98.8" r="0.89"/><circle cx="96.0" cy="102.3" r="1.02"/><circle cx="94.2" cy="110.6" r="0.83"/><circle cx="97.8" cy="23.8" r="0.96"/><circle cx="98.6" cy="81.3" r="0.81"/><circle cx="100.2" cy="102.7" r="0.81"/><circle cx="100.1" cy="109.0" r="0.90"/><circle cx="102.6" cy="56.4" r="0.82"/><circle cx="102.7" cy="75.7" r="1.04"/><circle cx="104.7" cy="81.2" r="0.94"/><circle cx="103.9" cy="98.6" r="1.03"/><circle cx="108.2" cy="11.5" r="0.97"/><circle cx="108.3" cy="19.6" r="0.90"/><circle cx="106.8" cy="38.8" r="0.78"/><circle cx="106.1" cy="49.7" r="1.03"/><circle cx="107.1" cy="68.2" r="0.97"/><circle cx="112.1" cy="47.7" r="1.05"/><circle cx="112.9" cy="72.3" r="0.99"/><circle cx="110.5" cy="82.3" r="0.92"/></g>
<g fill="#f0a0a0"><circle cx="2.9" cy="31.6" r="0.86"/><circle cx="3.3" cy="47.0" r="0.81"/><circle cx="2.9" cy="90.4" r="1.03"/><circle cx="3.7" cy="97.0" r="0.81"/><circle cx="11.6" cy="31.3" r="0.87"/><circle cx="11.1" cy="40.0" r="0.86"/><circle cx="9.4" cy="46.1" r="1.04"/><circle cx="9.9" cy="62.8" r="1.03"/><circle cx="10.7" cy="72.3" r="0.84"/><circle cx="10.9" cy="99.6" r="1.05"/><circle cx="15.0" cy="35.9" r="1.05"/><circle cx="15.5" cy="75.3" r="0.93"/><circle cx="18.3" cy="25.5" r="1.03"/><circle cx="19.9" cy="53.5" r="1.02"/><circle cx="21.2" cy="93.9" r="1.01"/><circle cx="21.3" cy="111.4" r="1.04"/><circle cx="24.6" cy="27.7" r="0.99"/><circle cx="25.6" cy="45.5" r="1.04"/><circle cx="24.9" cy="67.4" r="0.94"/><circle cx="27.8" cy="72.0" r="0.88"/><circle cx="28.7" cy="112.5" r="0.97"/><circle cx="34.7" cy="2.9" r="0.79"/><circle cx="34.0" cy="7.7" r="1.02"/><circle cx="33.1" cy="36.8" r="0.99"/><circle cx="32.3" cy="46.9" r="1.01"/><circle cx="34.6" cy="53.4" r="0.96"/><circle cx="31.9" cy="78.4" r="0.77"/><circle cx="36.4" cy="27.8" r="0.76"/><circle cx="38.2" cy="91.5" r="0.89"/><circle cx="42.9" cy="15.9" r="0.94"/><circle cx="40.9" cy="21.3" r="0.82"/><circle cx="40.8" cy="110.5" r="0.89"/><circle cx="45.1" cy="11.9" r="0.96"/><circle cx="46.3" cy="73.0" r="1.04"/><circle cx="50.0" cy="6.8" r="0.95"/><circle cx="50.2" cy="33.7" r="0.86"/><circle cx="50.6" cy="50.3" r="0.89"/><circle cx="49.1" cy="55.8" r="0.99"/><circle cx="49.0" cy="86.1" r="1.03"/><circle cx="49.8" cy="95.2" r="0.83"/><circle cx="53.7" cy="3.0" r="0.85"/><circle cx="56.0" cy="16.9" r="0.90"/><circle cx="54.5" cy="24.5" r="0.87"/><circle cx="54.0" cy="34.1" r="0.99"/><circle cx="53.4" cy="59.9" r="0.99"/><circle cx="55.5" cy="63.5" r="0.99"/><circle cx="55.0" cy="71.3" r="0.75"/><circle cx="53.9" cy="82.6" r="0.97"/><circle cx="56.6" cy="88.4" r="0.92"/><circle cx="54.9" cy="103.6" r="0.82"/><circle cx="59.2" cy="22.7" r="1.01"/><circle cx="60.9" cy="99.4" r="1.02"/><circle cx="61.0" cy="104.0" r="0.83"/><circle cx="62.5" cy="1.6" r="0.93"/><circle cx="62.5" cy="14.7" r="0.96"/><circle cx="63.2" cy="20.9" r="0.90"/><circle cx="65.0" cy="62.2" r="0.94"/><circle cx="62.6" cy="98.3" r="0.81"/><circle cx="63.7" cy="104.1" r="0.99"/><circle cx="66.7" cy="16.3" r="0.79"/><circle cx="67.8" cy="35.7" r="0.95"/><circle cx="68.2" cy="71.2" r="1.05"/><circle cx="68.5" cy="91.2" r="1.00"/><circle cx="67.3" cy="94.3" r="1.00"/><circle cx="69.8" cy="108.6" r="1.03"/><circle cx="72.4" cy="47.4" r="0.79"/><circle cx="71.2" cy="49.4" r="0.97"/><circle cx="71.5" cy="53.7" r="1.01"/><circle cx="75.3" cy="51.6" r="1.00"/><circle cx="76.2" cy="81.3" r="0.95"/><circle cx="76.8" cy="90.3" r="0.77"/><circle cx="80.3" cy="72.7" r="0.86"/><circle cx="79.7" cy="92.5" r="0.85"/><circle cx="82.1" cy="102.9" r="0.98"/><circle cx="84.7" cy="27.6" r="0.85"/><circle cx="85.2" cy="33.0" r="0.77"/><circle cx="85.9" cy="76.3" r="0.89"/><circle cx="86.2" cy="102.3" r="0.87"/><circle cx="85.2" cy="105.9" r="1.03"/><circle cx="89.0" cy="38.2" r="0.83"/><circle cx="89.7" cy="49.8" r="0.75"/><circle cx="90.8" cy="54.9" r="1.02"/><circle cx="88.5" cy="58.4" r="0.96"/><circle cx="89.8" cy="63.1" r="0.83"/><circle cx="90.6" cy="81.1" r="0.90"/><circle cx="89.5" cy="93.2" r="0.75"/><circle cx="90.0" cy="110.6" r="1.04"/><circle cx="94.9" cy="28.1" r="0.87"/><circle cx="93.4" cy="33.2" r="0.97"/><circle cx="94.8" cy="42.1" r="1.04"/><circle cx="96.1" cy="44.3" r="0.97"/><circle cx="93.1" cy="71.4" r="0.94"/><circle cx="94.8" cy="88.6" r="1.04"/><circle cx="100.0" cy="15.5" r="1.05"/><circle cx="98.2" cy="56.4" r="0.77"/><circle cx="98.6" cy="86.4" r="0.89"/><circle cx="99.3" cy="112.9" r="1.01"/><circle cx="103.8" cy="14.9" r="0.85"/><circle cx="103.1" cy="28.3" r="0.87"/><circle cx="107.0" cy="27.3" r="0.95"/><circle cx="107.7" cy="53.9" r="0.91"/><circle cx="107.2" cy="57.9" r="0.87"/><circle cx="109.3" cy="101.9" r="0.96"/><circle cx="110.9" cy="18.3" r="0.76"/><circle cx="111.8" cy="50.4" r="0.83"/><circle cx="113.7" cy="63.1" r="0.81"/></g>
<g fill="#dc3c3c"><circle cx="1.6" cy="11.2" r="1.05"/><circle cx="2.8" cy="16.1" r="1.04"/><circle cx="5.7" cy="2.9" r="1.03"/><circle cx="6.0" cy="12.3" r="1.04"/><circle cx="6.5" cy="14.1" r="0.87"/><circle cx="7.1" cy="42.3" r="0.85"/><circle cx="6.9" cy="68.7" r="0.89"/><circle cx="6.8" cy="99.4" r="0.82"/><circle cx="8.3" cy="112.8" r="0.91"/><circle cx="11.6" cy="83.8" r="0.98"/><circle cx="12.7" cy="101.9" r="0.87"/><circle cx="10.3" cy="110.3" r="0.82"/><circle cx="15.3" cy="2.3" r="0.83"/><circle cx="16.8" cy="23.8" r="0.97"/><circle cx="15.2" cy="55.6" r="0.85"/><circle cx="15.2" cy="66.4" r="0.82"/><circle cx="14.2" cy="90.8" r="0.90"/><circle cx="14.1" cy="109.1" r="0.80"/><circle cx="18.5" cy="38.0" r="0.95"/><circle cx="20.9" cy="75.7" r="0.96"/><circle cx="18.7" cy="102.6" r="0.81"/><circle cx="25.5" cy="2.5" r="0.87"/><circle cx="22.5" cy="25.5" r="1.00"/><circle cx="23.5" cy="71.8" r="0.87"/><circle cx="28.9" cy="18.8" r="0.93"/><circle cx="29.2" cy="77.6" r="0.89"/><circle cx="30.2" cy="84.7" r="0.86"/><circle cx="34.6" cy="19.5" r="0.99"/><circle cx="34.5" cy="23.4" r="0.97"/><circle cx="34.0" cy="41.4" r="0.83"/><circle cx="34.8" cy="66.4" r="1.05"/><circle cx="33.2" cy="86.2" r="0.83"/><circle cx="31.7" cy="97.2" r="1.03"/><circle cx="32.8" cy="101.7" r="0.99"/><circle cx="36.1" cy="2.3" r="1.05"/><circle cx="38.7" cy="15.5" r="0.93"/><circle cx="38.1" cy="36.9" r="0.89"/><circle cx="36.1" cy="50.4" r="0.79"/><circle cx="38.2" cy="72.0" r="0.80"/><circle cx="40.4" cy="37.2" r="0.80"/><circle cx="43.4" cy="43.0" r="0.88"/><circle cx="41.5" cy="68.2" r="0.87"/><circle cx="43.1" cy="73.5" r="0.90"/><circle cx="41.4" cy="76.7" r="0.83"/><circle cx="42.3" cy="88.6" r="0.90"/><circle cx="44.6" cy="14.3" r="0.87"/><circle cx="45.7" cy="28.2" r="1.04"/><circle cx="47.4" cy="45.3" r="0.87"/><circle cx="45.6" cy="90.7" r="0.94"/><circle cx="51.0" cy="3.6" r="0.80"/><circle cx="51.7" cy="9.9" r="1.00"/><circle cx="51.3" cy="13.9" r="0.86"/><circle cx="48.9" cy="37.7" r="0.95"/><circle cx="48.9" cy="47.5" r="1.01"/><circle cx="51.4" cy="64.6" r="0.96"/><circle cx="48.9" cy="97.7" r="0.90"/><circle cx="49.9" cy="105.9" r="0.96"/><circle cx="59.8" cy="45.2" r="0.84"/><circle cx="59.1" cy="53.3" r="0.77"/><circle cx="59.8" cy="69.0" r="0.79"/><circle cx="58.5" cy="77.5" r="0.84"/><circle cx="58.1" cy="79.4" r="0.83"/><circle cx="60.9" cy="108.0" r="1.01"/><circle cx="65.4" cy="33.4" r="0.93"/><circle cx="66.7" cy="41.2" r="0.86"/><circle cx="68.5" cy="44.9" r="0.89"/><circle cx="69.8" cy="64.9" r="0.94"/><circle cx="67.8" cy="99.3" r="0.90"/><circle cx="74.1" cy="28.5" r="0.96"/><circle cx="72.7" cy="43.1" r="0.93"/><circle cx="72.1" cy="95.6" r="0.94"/><circle cx="77.1" cy="10.4" r="0.86"/><circle cx="78.0" cy="57.7" r="0.95"/><circle cx="78.2" cy="76.4" r="0.83"/><circle cx="77.7" cy="86.4" r="0.80"/><circle cx="76.1" cy="102.3" r="0.80"/><circle cx="79.7" cy="7.0" r="0.76"/><circle cx="82.7" cy="12.6" r="0.77"/><circle cx="80.7" cy="43.3" r="1.00"/><circle cx="86.2" cy="41.4" r="1.00"/><circle cx="87.2" cy="93.1" r="0.80"/><circle cx="91.0" cy="24.4" r="0.83"/><circle cx="96.0" cy="35.6" r="0.99"/><circle cx="93.3" cy="81.6" r="0.97"/><circle cx="100.7" cy="0.5" r="0.84"/><circle cx="98.3" cy="6.2" r="0.99"/><circle cx="99.6" cy="36.1" r="0.76"/><circle cx="100.6" cy="45.1" r="0.80"/><circle cx="99.6" cy="60.5" r="0.78"/><circle cx="98.9" cy="67.7" r="0.95"/><circle cx="100.0" cy="88.8" r="1.00"/><circle cx="103.2" cy="8.0" r="0.89"/><circle cx="104.3" cy="12.2" r="0.96"/><circle cx="103.7" cy="23.1" r="0.82"/><circle cx="101.9" cy="51.8" r="0.84"/><circle cx="102.4" cy="86.5" r="0.91"/><circle cx="101.7" cy="104.7" r="0.97"/><circle cx="108.0" cy="14.8" r="0.96"/><circle cx="107.8" cy="33.3" r="0.84"/><circle cx="107.3" cy="64.6" r="0.96"/><circle cx="107.2" cy="91.0" r="0.89"/><circle cx="108.5" cy="97.8" r="0.83"/><circle cx="107.9" cy="112.1" r="0.99"/><circle cx="111.6" cy="3.2" r="0.83"/><circle cx="111.5" cy="31.3" r="0.97"/><circle cx="111.0" cy="59.9" r="0.99"/><circle cx="112.5" cy="93.1" r="0.81"/><circle cx="111.0" cy="113.4" r="0.97"/></g>
<g fill="#d03030"><circle cx="107.9" cy="53.9" r="0.9"/><circle cx="105.1" cy="52.3" r="0.9"/><circle cx="106.8" cy="49.5" r="0.9"/><circle cx="25.7" cy="28.9" r="0.9"/><circle cx="27.5" cy="31.7" r="0.9"/><circle cx="24.8" cy="33.5" r="0.9"/><circle cx="100.3" cy="6.4" r="0.9"/><circle cx="97.1" cy="6.8" r="0.9"/><circle cx="96.7" cy="3.6" r="0.9"/><circle cx="45.5" cy="96.9" r="0.9"/><circle cx="42.3" cy="97.3" r="0.9"/><circle cx="41.9" cy="94.1" r="0.9"/><circle cx="96.8" cy="65.4" r="0.9"/><circle cx="96.7" cy="62.2" r="0.9"/><circle cx="100.0" cy="62.1" r="0.9"/><circle cx="37.9" cy="40.2" r="0.9"/><circle cx="37.4" cy="43.4" r="0.9"/><circle cx="34.2" cy="42.9" r="0.9"/><circle cx="38.4" cy="54.5" r="0.9"/><circle cx="41.6" cy="54.2" r="0.9"/><circle cx="41.9" cy="57.5" r="0.9"/><circle cx="68.6" cy="18.4" r="0.9"/><circle cx="71.8" cy="18.7" r="0.9"/><circle cx="71.6" cy="22.0" r="0.9"/><circle cx="97.3" cy="32.0" r="0.9"/><circle cx="99.8" cy="34.1" r="0.9"/><circle cx="97.7" cy="36.6" r="0.9"/><circle cx="86.3" cy="75.3" r="0.9"/><circle cx="89.0" cy="77.1" r="0.9"/><circle cx="87.2" cy="79.8" r="0.9"/><circle cx="13.0" cy="97.9" r="0.9"/><circle cx="9.8" cy="97.0" r="0.9"/><circle cx="10.7" cy="93.9" r="0.9"/><circle cx="89.7" cy="86.9" r="0.9"/><circle cx="86.4" cy="86.7" r="0.9"/><circle cx="86.6" cy="83.4" r="0.9"/><circle cx="95.5" cy="52.5" r="0.9"/><circle cx="98.8" cy="52.9" r="0.9"/><circle cx="98.4" cy="56.1" r="0.9"/><circle cx="50.3" cy="19.0" r="0.9"/><circle cx="51.6" cy="16.0" r="0.9"/><circle cx="54.6" cy="17.3" r="0.9"/><circle cx="79.4" cy="81.4" r="0.9"/><circle cx="78.0" cy="84.3" r="0.9"/><circle cx="75.1" cy="83.0" r="0.9"/><circle cx="64.0" cy="18.8" r="0.9"/><circle cx="67.2" cy="18.8" r="0.9"/><circle cx="67.2" cy="22.1" r="0.9"/></g>
<g fill="#d8c838"><circle cx="107.3" cy="51.7" r="1.3"/><circle cx="25.3" cy="31.2" r="1.3"/><circle cx="98.5" cy="5.0" r="1.3"/><circle cx="43.7" cy="95.5" r="1.3"/><circle cx="98.4" cy="63.8" r="1.3"/><circle cx="36.1" cy="41.6" r="1.3"/><circle cx="40.1" cy="56.0" r="1.3"/><circle cx="70.1" cy="20.2" r="1.3"/><circle cx="97.5" cy="34.3" r="1.3"/><circle cx="86.8" cy="77.5" r="1.3"/><circle cx="11.9" cy="95.9" r="1.3"/><circle cx="88.2" cy="85.1" r="1.3"/><circle cx="97.0" cy="54.3" r="1.3"/><circle cx="52.5" cy="18.2" r="1.3"/><circle cx="77.2" cy="82.2" r="1.3"/><circle cx="65.6" cy="20.4" r="1.3"/></g>
<g fill="#2c48e0"><circle cx="109.9" cy="51.1" r="1.2"/><circle cx="22.7" cy="30.7" r="1.2"/><circle cx="100.1" cy="3.0" r="1.2"/><circle cx="45.3" cy="93.5" r="1.2"/><circle cx="100.3" cy="65.5" r="1.2"/><circle cx="34.6" cy="39.5" r="1.2"/><circle cx="38.4" cy="58.0" r="1.2"/><circle cx="68.1" cy="21.9" r="1.2"/><circle cx="94.9" cy="34.5" r="1.2"/><circle cx="84.2" cy="78.1" r="1.2"/><circle cx="14.1" cy="94.7" r="1.2"/><circle cx="90.1" cy="83.4" r="1.2"/><circle cx="94.9" cy="56.0" r="1.2"/><circle cx="53.4" cy="20.6" r="1.2"/><circle cx="76.3" cy="79.8" r="1.2"/><circle cx="63.7" cy="22.2" r="1.2"/></g>
<g fill="#a890e8"><circle cx="106.1" cy="105.9" r="0.8"/><circle cx="35.0" cy="43.4" r="0.8"/><circle cx="23.0" cy="41.8" r="0.8"/><circle cx="51.5" cy="33.5" r="0.8"/><circle cx="101.3" cy="11.3" r="0.8"/><circle cx="50.5" cy="10.6" r="0.8"/><circle cx="41.9" cy="85.4" r="0.8"/><circle cx="13.9" cy="65.6" r="0.8"/><circle cx="65.0" cy="64.4" r="0.8"/><circle cx="57.5" cy="69.8" r="0.8"/><circle cx="31.6" cy="31.5" r="0.8"/><circle cx="87.1" cy="21.8" r="0.8"/><circle cx="92.3" cy="99.9" r="0.8"/><circle cx="64.7" cy="33.3" r="0.8"/></g>
</svg>
<rect x="366.5" y="471.5" width="114.4" height="114" fill="none" stroke="#707070" stroke-width="0.9"/>
<line x1="366.5" y1="471.5" x2="377.5" y2="482.5" stroke="#8a8a8a" stroke-width="0.7"/>
<line x1="480.9" y1="471.5" x2="469.9" y2="482.5" stroke="#8a8a8a" stroke-width="0.7"/>
<line x1="366.5" y1="585.5" x2="377.5" y2="574.5" stroke="#8a8a8a" stroke-width="0.7"/>
<line x1="480.9" y1="585.5" x2="469.9" y2="574.5" stroke="#8a8a8a" stroke-width="0.7"/>
<svg x="554.3" y="472.3" width="113.3" height="113.7" viewBox="0 0 113.3 113.7" overflow="hidden">
<path d="M28.4 107.6l0.7 1.7M39.6 26.2l-0.8 -1.5M101.6 97.6l2.6 0.0M12.1 29.3l-2.1 1.2M53.0 105.5l-0.1 1.9M76.0 107.6l2.9 -1.5M7.3 106.5l-1.9 -2.6M46.2 24.9l0.8 -2.7M88.2 22.9l2.0 2.3M2.3 107.5l1.8 2.0M47.5 36.8l1.5 2.7M103.6 82.9l-2.4 -1.7M60.7 63.5l1.7 -1.1M25.2 107.7l2.3 -0.9M90.7 84.5l1.6 -0.5M101.8 56.9l-2.7 0.9M69.8 49.6l-0.9 3.2M92.8 11.7l-2.5 1.7M99.6 109.4l0.2 3.3M78.7 7.8l0.5 1.8M8.8 78.2l-1.1 2.7M9.3 99.1l-1.0 -2.9M68.7 52.0l1.2 3.2M16.5 59.3l1.2 1.2M78.9 101.1l-3.0 0.7M97.4 60.9l0.3 -2.1M17.0 21.5l1.6 0.1M85.1 102.7l2.8 1.0M88.1 77.5l-2.5 0.0M78.7 27.9l0.0 -1.9M4.0 106.2l1.6 1.0M6.3 1.2l2.4 2.3M78.8 46.1l3.2 0.1M54.9 97.1l-1.7 -0.0M8.4 89.8l0.3 1.8M46.4 29.7l-0.5 3.0M53.2 113.2l1.7 1.2M99.9 49.5l0.3 -2.3M46.0 100.7l-1.0 2.4M64.0 4.9l1.6 1.1M0.3 77.7l-1.9 -1.0M47.5 4.7l-2.6 1.9M4.3 74.3l-0.7 -1.8M33.5 20.4l-2.0 -0.9M14.7 32.9l0.1 3.5M69.2 54.4l-2.6 0.2M111.2 43.8l1.7 0.7M0.8 22.9l-1.6 -1.2M94.7 108.2l2.2 2.2M75.0 112.9l1.1 2.8M37.6 22.6l-0.2 3.4M54.3 49.5l2.2 -2.3M101.6 2.6l2.9 -0.1M102.3 91.3l2.6 -2.0M73.3 14.5l-0.7 -1.4M39.7 32.2l-0.9 3.0M100.0 102.5l-2.2 -2.1M14.3 39.4l0.6 -2.3M56.0 89.2l0.5 3.2M83.9 8.7l-3.0 1.5M30.7 1.4l1.2 2.3M11.5 6.1l2.1 2.4M109.7 15.4l-2.7 -1.0M8.0 100.1l-0.0 -2.9M54.4 89.8l0.9 -1.8M26.8 111.8l-2.3 0.2M105.9 82.0l-0.1 -3.1M94.6 77.6l3.1 -0.1M93.8 94.5l3.3 1.0M86.6 9.6l-0.5 -2.9M56.5 34.4l-1.8 -0.4M44.6 70.9l-0.6 -2.5M100.7 101.5l2.3 -1.4M28.2 5.2l-2.2 -1.2M0.2 16.2l2.9 -0.6M102.5 36.9l-2.4 1.1M45.6 3.6l-2.8 0.5M40.5 105.1l1.4 -0.6M47.1 68.6l-2.9 1.9M34.2 102.1l-1.8 2.7M11.4 96.8l1.4 -2.2M34.5 44.4l1.4 1.5M58.5 59.3l-3.2 0.6M24.2 89.1l1.4 -1.7M6.5 93.2l-0.3 -2.4M104.9 29.6l-0.4 -2.8M43.9 88.5l1.7 1.3M56.0 109.7l0.1 -1.6M70.9 15.6l-2.6 2.2M31.0 11.8l1.7 -0.8M66.7 29.7l2.8 -1.0M90.6 11.6l-2.1 2.5M33.3 12.2l1.3 -1.6M67.0 21.7l1.8 1.7M72.4 87.5l2.3 -1.1M77.8 35.5l1.7 -1.4M4.2 23.9l1.7 2.2M18.0 51.8l-1.5 2.7M32.9 27.0l-0.4 1.8M74.3 59.4l-0.6 -1.6M90.8 61.7l3.4 -0.6M1.7 68.4l-0.1 2.9M15.5 64.5l0.2 -2.6M34.2 84.7l1.9 -0.8M12.4 44.9l-1.9 1.2M107.5 27.4l1.4 0.5M54.6 30.6l-2.9 0.2M36.5 14.7l1.6 -1.0M35.2 2.5l-1.5 -1.3M84.7 48.8l1.0 -1.9M88.4 8.1l-1.3 1.7M46.3 24.7l-0.9 3.3M9.2 56.3l2.0 -1.4M50.5 59.3l1.3 1.4M79.5 68.0l0.3 2.4M111.7 23.2l1.0 -3.2M61.3 18.4l-3.0 0.5M74.8 95.8l-1.5 -0.0M3.7 90.7l-3.2 -0.8M95.9 73.0l-2.5 -1.7M19.4 42.0l-1.6 -2.0M18.8 36.9l2.1 2.4M20.6 73.7l0.9 1.5M4.7 41.0l1.7 -2.8M60.9 98.2l-1.9 -2.8M23.7 29.1l-0.4 3.1M106.1 88.1l1.5 -0.4M18.3 17.3l-1.1 2.0M45.5 17.9l-2.8 -0.4M92.2 17.2l2.0 -0.2M47.3 102.5l1.4 1.9M39.9 10.1l1.8 0.5M58.2 5.3l1.1 3.2M54.9 31.3l2.9 -0.4M39.2 96.1l2.1 0.5M107.8 59.9l1.4 0.9M106.7 43.3l1.5 -1.3M66.3 26.9l1.8 -2.5M110.2 55.9l0.1 -1.7M69.4 84.5l-0.1 -2.1M1.9 70.1l0.1 -2.6M20.3 46.0l0.5 3.2M77.0 69.5l-0.6 -3.4M109.0 1.5l3.3 1.0M42.2 83.5l-2.2 2.1M85.0 33.6l-0.2 -1.5M5.2 58.3l3.0 -1.7M5.4 37.3l2.2 2.4M45.0 36.0l-2.1 0.9M59.5 9.3l1.7 1.1M13.8 110.0l1.9 2.7M34.1 112.9l1.6 2.1M79.7 3.0l-2.4 -0.8M91.1 41.8l-1.5 0.1M78.4 109.8l0.6 -3.0M85.5 26.3l1.6 -0.6M53.8 93.4l-0.2 -2.0M33.3 61.5l-1.3 1.2M31.2 84.4l-2.4 0.7M13.5 2.8l2.7 -1.7M55.8 74.3l-1.1 -2.1M11.4 2.6l-0.1 -3.1M7.4 92.4l3.2 0.4M57.1 56.4l3.0 -0.1M60.0 96.5l-2.0 0.7M91.0 93.3l-1.5 -1.4M111.5 92.2l1.4 2.4M65.8 5.0l-0.7 -1.5M76.6 72.6l1.5 -1.4M65.3 83.0l1.8 0.6M68.1 97.7l-3.0 1.5M112.7 44.8l-1.9 2.1M73.7 103.8l1.0 3.2M53.7 33.9l-1.5 1.3M33.2 87.1l-2.1 2.5M75.6 45.8l-2.2 1.6M68.4 34.9l2.6 0.4M36.6 88.3l1.7 -1.4M40.7 112.2l0.8 -3.0M27.4 105.1l-2.0 -1.3M27.5 79.3l0.6 -2.2M86.4 78.9l-0.5 2.8M12.9 57.0l-3.0 -0.2M86.0 65.6l1.7 0.2M70.2 98.9l2.9 1.2M57.0 76.8l2.3 0.4M105.5 16.3l0.6 2.2M54.6 5.1l2.4 1.3M0.4 27.4l-0.2 2.0M104.7 23.8l-1.1 -1.5M104.6 84.3l0.7 2.6M62.9 0.8l1.3 -1.5M79.2 10.5l-2.2 0.5M80.9 31.4l1.6 1.2M6.3 112.5l-1.8 2.7M57.2 106.1l-1.9 0.2M27.3 47.0l2.1 1.9M7.3 53.8l-3.3 -0.9M47.8 100.6l-2.7 -0.0M95.3 61.5l3.2 -0.8M44.3 83.8l1.0 1.7M99.3 32.7l1.7 -0.8M54.4 21.2l-0.4 -2.8M34.9 19.0l2.7 -1.0M68.3 80.5l1.7 0.1M96.5 39.4l-0.0 -3.3M107.1 112.4l1.6 -1.4M88.4 82.5l-2.7 1.7M48.8 19.1l-1.5 -0.9M106.9 10.9l-0.7 2.1M13.0 46.0l-1.5 0.4M8.9 57.0l-1.0 3.0M4.3 105.3l1.2 1.1M57.8 104.2l-1.5 -1.2M66.5 57.9l2.5 0.8M90.9 88.4l-1.0 1.8M47.0 62.9l1.6 0.8M14.3 73.1l-2.6 -2.0M29.9 41.1l2.1 -0.1M71.8 21.0l0.3 -1.7M93.2 38.3l-1.4 -2.6M26.0 31.1l2.3 0.5M46.9 65.1l1.4 1.5M37.9 74.1l-0.8 2.9M58.9 85.2l0.0 -2.0M89.1 45.7l1.1 -2.3M91.3 60.9l2.0 1.4M7.2 88.7l0.9 -1.4M86.5 52.0l-1.6 -2.3M32.1 93.7l3.5 0.3M48.9 106.9l1.0 3.1M28.8 98.3l-0.1 -3.3M77.0 12.4l2.5 1.4M87.4 97.3l-1.3 -3.2M33.7 38.8l3.0 1.1M27.2 81.8l-1.7 -2.5M58.1 10.1l2.3 -2.5M11.9 112.0l-2.2 -2.2M101.4 91.8l-2.7 0.9M6.2 43.7l-1.4 0.5M91.9 89.5l-2.0 0.6M9.9 110.5l1.2 1.0M39.4 108.5l1.6 0.4M33.0 49.8l0.0 -2.0M45.2 93.2l0.3 1.9M94.4 82.9l3.1 -0.8M76.9 8.2l1.6 1.2M88.6 38.5l3.3 1.1M42.8 5.3l0.4 -2.9M34.8 13.1l-0.0 -1.6M83.8 58.5l1.9 -1.1M99.8 69.0l-1.2 2.6M43.7 42.7l0.4 2.6M48.3 42.5l3.2 0.7M30.5 111.5l0.4 1.5M110.6 76.0l0.4 -2.3M0.0 89.5l2.1 -1.1M10.0 36.3l1.4 -0.5M42.8 18.3l0.1 -3.1M57.1 82.7l2.1 -0.3M60.6 97.4l2.6 1.6M33.1 27.1l1.5 1.9M69.8 33.5l-1.7 -0.3M70.6 52.5l2.3 1.1M70.0 41.2l-2.6 -0.3M53.3 11.5l2.2 0.4M76.1 93.7l-2.5 -0.3M78.3 36.2l2.2 -1.1M37.5 104.2l-0.5 2.7M38.8 107.3l-0.8 -1.4M82.5 22.7l-2.6 -1.0M79.4 89.4l-2.8 -0.8M2.3 65.4l-2.3 -2.4M46.1 9.8l-2.1 -0.9M64.1 6.3l2.3 1.3M83.8 70.0l-1.1 2.5M98.6 95.8l1.4 -2.1M107.9 40.4l1.8 -0.1M6.2 20.0l-2.5 -2.0M17.6 61.1l2.3 0.4M86.3 89.5l0.4 -2.6M4.3 78.2l0.1 -2.3M111.0 83.7l-1.5 -0.5M2.6 58.3l-2.7 -0.5M73.7 94.0l-0.9 -1.7M38.6 45.5l-1.4 3.1M18.9 22.7l-1.7 -1.1M37.1 60.7l1.2 -3.0M59.1 100.5l-1.3 1.3M62.4 90.1l2.6 0.3M15.5 77.8l3.1 -0.4M83.3 71.4l1.8 -2.3M56.5 40.3l-0.7 3.0M9.3 53.0l-1.3 2.1M49.8 31.7l1.5 3.0M16.5 37.8l1.3 1.4M61.8 31.1l1.7 2.6M50.4 74.7l-2.1 -0.8M97.5 4.9l-1.5 0.5M87.8 66.8l-0.6 -3.3M109.0 102.3l-0.2 -3.3M93.5 83.3l-1.5 2.2M49.1 82.7l0.6 -2.0M44.4 62.1l2.8 0.7M20.8 27.7l-2.9 -0.4M35.7 62.7l0.2 1.7M50.8 42.8l-0.4 -1.6M15.2 15.6l-2.5 -0.9M111.7 33.8l0.3 -3.1M84.4 32.1l1.2 -2.8M81.8 53.9l-1.5 -2.1M98.5 113.5l-1.1 3.1M19.2 9.6l-0.1 -1.9M7.8 26.9l1.8 -0.0M46.7 112.5l3.2 0.9M21.2 78.3l1.5 0.2M35.2 24.0l-2.0 1.5M6.9 70.6l2.9 -0.7M75.6 66.4l1.2 1.8M70.8 37.3l-1.6 1.5M85.9 68.7l1.7 2.5M53.6 22.4l-3.1 -0.7M64.0 46.0l2.3 0.8M104.7 11.5l1.6 -1.4M83.6 97.0l1.7 -2.3M67.1 47.9l-0.9 -2.6M73.8 30.6l1.5 0.4M7.0 39.6l-2.9 -0.9M36.3 102.2l0.4 3.2M79.8 23.9l-0.1 2.1M28.9 106.5l1.1 2.2M27.9 75.7l0.7 -2.7M57.9 16.2l-1.7 0.6M62.8 71.0l-2.1 -1.1M68.2 13.2l-0.3 3.4M19.4 2.7l-1.9 -2.0M27.4 64.5l3.2 -0.3M31.3 80.9l-1.9 -1.1M80.9 19.5l0.2 2.2M91.6 34.9l1.7 2.5M17.2 27.3l2.2 -1.4M6.2 72.5l-2.2 0.7M40.0 90.1l0.5 3.4M82.7 12.3l1.4 -2.6M44.7 45.6l2.6 -0.0M41.9 101.8l-1.5 -2.1M87.8 17.8l2.3 1.1M96.7 32.2l0.7 1.9M11.4 33.4l2.6 -2.2M60.0 25.4l-3.2 1.1M99.6 85.0l-1.3 2.5M41.9 50.7l-3.3 -0.5M43.5 68.8l0.3 -1.9M53.3 17.2l-0.5 -1.4M69.6 108.0l1.2 1.1M69.0 39.6l0.5 2.1M87.4 63.6l2.7 -0.2M59.0 27.3l-1.8 0.3M65.2 24.3l0.9 -1.8M8.1 109.4l-1.9 1.7M32.4 107.9l-0.3 -1.5M7.5 57.7l-0.3 -2.6M77.0 43.8l-1.9 0.6M61.4 49.2l1.8 2.0M80.5 11.3l1.3 0.8M79.5 91.1l2.6 2.2M97.0 37.3l-0.6 -2.2M1.4 39.3l-1.0 1.8M57.3 51.5l-2.4 0.9M63.2 7.4l1.6 -2.1M10.5 11.4l1.4 -2.7M51.0 93.3l1.9 2.9M42.8 79.1l-2.9 -1.0M42.8 29.6l1.3 2.1M51.3 41.1l-0.7 -3.3M22.2 13.2l-1.4 -3.1M86.9 17.1l1.1 2.2M2.0 36.3l-1.9 2.3M58.1 73.9l-1.3 1.9M11.9 94.2l-0.4 2.0M103.8 64.3l1.5 -1.1M89.7 6.6l0.9 -1.6M61.6 81.6l-3.1 0.3M73.0 68.0l2.4 -0.9M110.7 111.6l-1.4 -1.8M91.4 82.7l2.0 -1.9M104.5 63.5l2.1 -1.3M33.2 91.1l1.9 0.6M91.4 105.9l-2.8 0.9M52.2 42.4l0.6 -1.7M66.1 89.7l-1.8 2.7M34.0 44.6l1.3 1.7M98.1 55.8l-2.6 0.4M45.9 68.8l-0.7 -1.8M54.1 26.3l2.9 0.3M109.1 95.2l-1.9 0.3M107.2 63.5l1.6 -1.5M75.2 89.0l-0.3 -2.2M108.4 82.4l0.3 1.9M85.0 23.9l-0.2 2.5M26.1 20.4l-1.4 1.6M36.7 88.2l2.1 1.1M85.1 62.2l1.5 0.3M90.2 76.8l-1.6 -1.4M39.1 46.6l-1.9 2.3M26.3 48.6l-0.8 -2.5M31.8 12.8l-2.2 -2.7M80.2 111.4l-0.9 -2.9M102.3 104.2l-0.4 -3.2M62.5 7.7l2.0 1.5M6.7 1.5l-1.7 0.9M5.1 96.7l-3.4 0.0M103.6 52.6l-0.1 2.2M108.5 86.6l-3.0 0.5M87.7 56.1l2.0 2.6M58.4 81.9l1.1 2.2M35.5 19.3l1.8 -0.1M91.1 43.0l2.8 -0.6M19.1 31.1l-2.0 2.4M41.2 102.2l0.7 2.9M5.2 76.1l-3.4 -0.4M22.0 34.8l0.1 -1.6M19.8 99.3l0.0 -2.5M74.0 36.9l0.0 1.6M113.1 45.6l-1.0 -2.8M89.1 34.0l0.7 -2.1M56.1 78.3l2.3 -0.2M34.7 82.8l2.4 0.4M111.8 63.3l1.1 1.9M25.8 80.8l1.5 -1.5M108.1 48.3l1.5 2.6M22.9 99.5l0.5 -2.8M84.5 51.5l2.3 -1.9M55.1 34.2l0.6 2.8M96.9 39.6l-1.5 1.2M14.8 33.2l-0.4 -2.3M46.7 90.3l-2.8 -1.3M106.8 80.0l-1.6 -0.1M8.8 89.0l2.3 1.2M18.4 96.0l-0.5 -2.0M87.6 62.2l-1.3 2.2M109.5 21.1l0.9 -1.3M14.4 15.4l-3.4 0.1M15.9 26.6l-1.9 -0.5M62.3 30.8l2.1 0.1M9.5 93.1l-0.1 2.0M1.7 58.4l2.6 0.5M89.1 79.1l1.2 -2.3M24.8 96.4l-3.4 -0.9M97.4 36.9l2.8 -1.5M87.9 107.8l2.1 -1.9M82.5 43.9l1.5 -2.5M44.5 46.9l-1.4 -1.8M83.8 26.5l1.2 1.2M60.0 42.4l-0.3 -1.8M96.2 41.6l2.2 -2.6M72.9 99.8l-2.4 -1.8M108.2 2.2l-0.4 -2.8M80.2 16.9l2.0 0.5M52.5 41.9l-1.1 1.7M63.6 24.8l2.4 -2.1M99.3 52.4l-0.4 2.8M108.7 51.5l0.1 -1.9M12.1 51.4l-2.1 -2.1M41.5 22.2l1.8 -2.3M48.9 76.9l-3.1 1.4M68.1 85.2l3.2 -0.2M76.0 64.1l-0.5 -1.9M46.4 79.0l-1.1 2.1M84.7 73.8l-0.8 -1.5M60.9 7.7l2.5 1.5M70.5 44.9l-3.0 0.4M8.4 58.9l-1.9 0.5M72.9 92.6l-3.0 0.5M95.6 102.1l2.6 -0.8M80.6 61.8l2.7 1.7M111.5 112.2l3.5 -0.1M43.5 5.4l0.9 1.3M30.8 33.1l0.9 2.7M79.9 82.1l2.7 -1.1M32.3 40.4l-2.4 1.4M27.9 103.3l0.9 2.7M72.1 60.5l0.0 -2.7M82.8 102.7l-1.0 2.4M40.6 12.6l-2.5 1.5M42.2 40.8l-1.5 -0.8M42.8 16.9l2.7 0.7M54.5 8.9l1.3 1.6M69.7 45.5l3.2 0.4M83.6 28.7l2.7 -0.0M9.9 55.7l0.2 3.2M87.3 53.0l0.5 3.4M50.2 25.6l2.5 -2.1M24.5 40.4l1.5 0.6M87.1 81.7l-0.3 -2.0M14.3 88.4l1.1 3.1M69.1 54.9l2.3 0.6M34.0 89.6l0.3 -2.9M83.5 100.1l2.9 -0.9M24.0 23.6l1.3 -2.0M47.1 40.2l-2.4 0.4M30.1 91.7l-1.3 1.7M78.5 3.7l2.3 1.9M62.6 36.4l-0.6 -1.9M79.1 111.0l-2.5 1.3M36.1 22.5l-0.8 -2.2M76.3 97.8l-1.1 1.5M2.7 20.1l1.7 0.4M63.2 41.3l1.7 1.0M0.6 79.5l1.3 -2.0M85.1 110.3l0.4 1.8M25.2 41.0l1.3 0.9M107.9 66.0l2.3 2.1M13.5 70.0l1.4 -0.8M5.0 16.6l-3.2 -0.3M48.4 37.3l-0.7 1.4M0.6 64.4l-1.9 -0.0M21.5 38.9l0.9 -1.7M63.0 43.0l-1.0 -1.6M41.7 7.7l0.0 -2.1M29.0 86.4l1.2 -2.8M59.8 98.2l1.0 1.7M19.8 49.9l-2.0 0.5M50.8 15.7l-0.3 2.3M26.5 44.2l2.4 0.1M86.6 8.2l1.1 -1.2M48.7 40.6l2.0 1.0M11.0 60.7l-0.3 -2.1M4.1 55.8l-1.9 1.2M44.0 91.9l-0.7 -1.4M22.6 85.0l2.0 1.7M3.1 101.1l1.0 -2.9M46.8 105.4l-2.1 -1.0M110.8 2.9l1.8 -1.5M78.9 69.7l2.5 0.8M24.0 18.7l-2.7 -1.0M24.4 90.7l-3.1 -0.9M91.8 78.1l2.6 -0.6M15.1 78.4l2.5 -0.8M6.5 84.9l-2.8 -0.6M62.7 94.7l-1.9 1.5M16.9 93.5l3.4 -0.2M100.6 0.1l1.6 -1.2M79.0 38.5l2.9 -1.8M44.8 93.6l-1.8 -1.6M10.0 26.9l-0.9 1.5M76.6 41.4l2.1 -2.5M81.4 41.6l1.0 -3.0M81.3 48.4l-1.5 1.1M69.6 93.0l1.4 -1.8M45.7 33.2l2.9 0.7M112.1 57.8l-0.3 2.8M41.8 65.4l-2.6 -0.4M105.5 55.3l0.4 -2.3M18.2 36.5l-0.7 2.1M5.6 83.2l1.6 0.3M5.4 17.8l1.2 2.3M33.0 49.1l-2.6 -0.2M94.6 72.4l1.1 -2.1M55.3 48.7l-2.4 -0.7M18.4 95.8l2.5 -0.5M102.5 113.1l-1.4 1.2M4.4 59.4l1.6 -1.1M72.9 71.2l2.0 -1.9M5.7 24.1l2.3 -1.5M84.6 0.5l-1.2 -1.9M103.6 65.2l-1.9 -0.0M35.0 26.1l1.4 1.7M87.6 86.5l-2.4 2.3M14.5 105.0l-2.2 1.0M68.5 110.7l0.6 2.8M100.8 87.2l-0.5 2.9M76.9 110.3l-2.0 -2.4M91.6 12.5l-2.6 -1.8M105.3 12.9l-1.4 -2.3M29.5 106.7l2.1 2.4M47.3 17.7l1.5 1.3M68.2 32.3l0.5 2.2M18.0 38.2l2.5 0.1M78.1 29.1l1.6 1.0M63.9 76.2l-0.6 -1.7M9.1 41.7l3.3 -0.7M51.3 41.0l2.2 -1.1M75.4 80.9l3.0 -0.7M9.0 95.2l-1.6 3.1M84.4 20.2l0.1 2.6M65.3 43.8l-0.8 -3.2M68.5 9.8l0.8 2.2M9.5 21.7l1.7 -1.0M112.7 108.3l-2.3 2.0M17.1 55.5l-1.1 -1.6M22.5 90.2l3.3 0.3M81.2 66.9l-1.5 -0.0M30.8 25.6l-2.3 0.1M106.0 4.6l-2.4 -0.5M52.6 10.8l-2.3 0.3M61.5 80.1l2.1 -1.4M39.5 88.8l2.3 0.2M19.4 50.3l-2.0 2.0M73.2 12.2l-0.3 -2.5M54.4 23.7l1.6 1.5M37.3 85.9l-2.3 -0.0M9.2 108.7l-1.7 -1.7M14.6 61.3l2.6 -2.2M2.7 90.1l-2.6 0.5M110.2 112.7l1.5 1.5M29.6 42.8l-3.1 1.0M66.4 36.4l-2.3 0.6M46.9 56.1l-1.0 -1.1M30.9 34.3l-1.3 -0.8M23.5 84.3l-1.4 3.0M61.2 84.6l-1.5 -0.7M74.3 43.7l-1.9 -0.3M8.3 26.8l-0.2 2.1M5.2 24.0l1.4 2.5M10.1 15.5l2.3 -2.7M105.9 103.3l0.5 2.7M41.2 59.3l0.1 2.1M3.1 25.6l-1.1 1.6M33.5 42.1l0.5 -2.6M19.1 97.6l-2.1 -1.4M15.6 24.4l1.9 -2.4M68.5 106.8l3.0 -1.0M23.4 35.7l-3.0 -1.5M22.5 23.3l-1.0 -2.0M18.1 56.1l-2.3 2.5M103.6 26.2l2.6 1.6M0.9 93.5l3.0 1.7M41.4 78.3l-1.1 -1.1M23.4 33.8l-0.7 2.4" stroke="#b4e8f6" stroke-width="0.7" stroke-dasharray="0.7,0.5" fill="none"/>
<g fill="#e4e4e4" stroke="#7c7c7c" stroke-width="0.35"><circle cx="3.2" cy="0.1" r="0.6"/><circle cx="3.1" cy="2.3" r="0.6"/><circle cx="1.7" cy="3.4" r="0.6"/><circle cx="1.1" cy="5.5" r="0.6"/><circle cx="2.0" cy="11.5" r="0.6"/><circle cx="0.9" cy="9.6" r="0.6"/><circle cx="1.7" cy="14.9" r="0.6"/><circle cx="-0.5" cy="14.8" r="0.6"/><circle cx="2.6" cy="15.3" r="0.6"/><circle cx="2.0" cy="17.4" r="0.6"/><circle cx="4.2" cy="19.3" r="0.6"/><circle cx="3.8" cy="21.4" r="0.6"/><circle cx="-0.1" cy="26.6" r="0.6"/><circle cx="0.7" cy="24.5" r="0.6"/><circle cx="1.7" cy="27.3" r="0.6"/><circle cx="3.7" cy="26.4" r="0.6"/><circle cx="2.0" cy="32.6" r="0.6"/><circle cx="4.2" cy="32.2" r="0.6"/><circle cx="4.2" cy="35.6" r="0.6"/><circle cx="3.3" cy="37.6" r="0.6"/><circle cx="1.2" cy="39.5" r="0.6"/><circle cx="3.3" cy="40.0" r="0.6"/><circle cx="3.1" cy="42.6" r="0.6"/><circle cx="3.2" cy="44.8" r="0.6"/><circle cx="1.9" cy="46.3" r="0.6"/><circle cx="0.6" cy="48.0" r="0.6"/><circle cx="-0.8" cy="50.7" r="0.6"/><circle cx="0.9" cy="49.4" r="0.6"/><circle cx="1.7" cy="54.6" r="0.6"/><circle cx="3.9" cy="54.9" r="0.6"/><circle cx="3.1" cy="58.0" r="0.6"/><circle cx="3.4" cy="60.1" r="0.6"/><circle cx="4.6" cy="63.2" r="0.6"/><circle cx="3.2" cy="64.9" r="0.6"/><circle cx="-0.1" cy="67.5" r="0.6"/><circle cx="1.2" cy="65.8" r="0.6"/><circle cx="1.5" cy="70.6" r="0.6"/><circle cx="1.1" cy="68.4" r="0.6"/><circle cx="4.0" cy="74.5" r="0.6"/><circle cx="1.8" cy="75.0" r="0.6"/><circle cx="2.4" cy="77.0" r="0.6"/><circle cx="3.9" cy="78.7" r="0.6"/><circle cx="3.3" cy="81.5" r="0.6"/><circle cx="1.2" cy="80.9" r="0.6"/><circle cx="0.6" cy="87.0" r="0.6"/><circle cx="2.1" cy="85.4" r="0.6"/><circle cx="0.7" cy="88.3" r="0.6"/><circle cx="2.8" cy="87.7" r="0.6"/><circle cx="0.9" cy="91.6" r="0.6"/><circle cx="2.8" cy="92.7" r="0.6"/><circle cx="2.2" cy="94.1" r="0.6"/><circle cx="3.1" cy="96.1" r="0.6"/><circle cx="0.5" cy="99.1" r="0.6"/><circle cx="2.5" cy="100.1" r="0.6"/><circle cx="0.2" cy="103.3" r="0.6"/><circle cx="2.3" cy="103.8" r="0.6"/><circle cx="2.0" cy="107.0" r="0.6"/><circle cx="4.2" cy="106.9" r="0.6"/><circle cx="-0.2" cy="112.0" r="0.6"/><circle cx="2.0" cy="111.7" r="0.6"/><circle cx="7.2" cy="1.1" r="0.6"/><circle cx="5.5" cy="2.5" r="0.6"/><circle cx="5.6" cy="6.1" r="0.6"/><circle cx="3.4" cy="6.2" r="0.6"/><circle cx="7.1" cy="9.5" r="0.6"/><circle cx="5.4" cy="10.8" r="0.6"/><circle cx="4.5" cy="13.1" r="0.6"/><circle cx="6.4" cy="12.1" r="0.6"/><circle cx="7.2" cy="18.4" r="0.6"/><circle cx="5.5" cy="17.0" r="0.6"/><circle cx="3.9" cy="20.6" r="0.6"/><circle cx="6.0" cy="21.2" r="0.6"/><circle cx="5.5" cy="26.2" r="0.6"/><circle cx="5.4" cy="24.0" r="0.6"/><circle cx="6.6" cy="29.5" r="0.6"/><circle cx="4.5" cy="30.2" r="0.6"/><circle cx="5.1" cy="30.2" r="0.6"/><circle cx="6.3" cy="31.9" r="0.6"/><circle cx="5.3" cy="34.7" r="0.6"/><circle cx="6.7" cy="36.3" r="0.6"/><circle cx="6.3" cy="37.7" r="0.6"/><circle cx="8.0" cy="39.1" r="0.6"/><circle cx="3.2" cy="42.6" r="0.6"/><circle cx="5.3" cy="42.0" r="0.6"/><circle cx="5.0" cy="47.8" r="0.6"/><circle cx="4.6" cy="45.6" r="0.6"/><circle cx="6.7" cy="52.5" r="0.6"/><circle cx="4.9" cy="51.3" r="0.6"/><circle cx="4.8" cy="56.4" r="0.6"/><circle cx="2.9" cy="55.3" r="0.6"/><circle cx="3.8" cy="59.9" r="0.6"/><circle cx="4.9" cy="58.0" r="0.6"/><circle cx="3.2" cy="62.4" r="0.6"/><circle cx="4.6" cy="60.7" r="0.6"/><circle cx="7.5" cy="67.0" r="0.6"/><circle cx="6.3" cy="68.8" r="0.6"/><circle cx="4.7" cy="69.8" r="0.6"/><circle cx="6.2" cy="71.4" r="0.6"/><circle cx="6.3" cy="72.5" r="0.6"/><circle cx="8.2" cy="73.6" r="0.6"/><circle cx="5.2" cy="78.3" r="0.6"/><circle cx="3.2" cy="77.6" r="0.6"/><circle cx="7.2" cy="82.0" r="0.6"/><circle cx="5.1" cy="82.7" r="0.6"/><circle cx="7.0" cy="84.7" r="0.6"/><circle cx="4.8" cy="84.7" r="0.6"/><circle cx="5.3" cy="87.3" r="0.6"/><circle cx="7.5" cy="87.2" r="0.6"/><circle cx="5.1" cy="92.3" r="0.6"/><circle cx="5.6" cy="90.1" r="0.6"/><circle cx="6.1" cy="96.7" r="0.6"/><circle cx="7.7" cy="98.2" r="0.6"/><circle cx="4.4" cy="100.8" r="0.6"/><circle cx="3.3" cy="99.0" r="0.6"/><circle cx="3.9" cy="104.5" r="0.6"/><circle cx="6.1" cy="104.4" r="0.6"/><circle cx="4.6" cy="107.6" r="0.6"/><circle cx="5.6" cy="105.6" r="0.6"/><circle cx="3.1" cy="113.9" r="0.6"/><circle cx="3.8" cy="111.8" r="0.6"/><circle cx="7.4" cy="1.6" r="0.6"/><circle cx="9.4" cy="0.9" r="0.6"/><circle cx="8.6" cy="5.4" r="0.6"/><circle cx="10.7" cy="5.7" r="0.6"/><circle cx="9.2" cy="8.6" r="0.6"/><circle cx="11.2" cy="7.7" r="0.6"/><circle cx="8.7" cy="13.2" r="0.6"/><circle cx="9.0" cy="15.4" r="0.6"/><circle cx="7.0" cy="17.1" r="0.6"/><circle cx="8.6" cy="15.6" r="0.6"/><circle cx="10.3" cy="20.1" r="0.6"/><circle cx="9.8" cy="22.2" r="0.6"/><circle cx="10.6" cy="26.7" r="0.6"/><circle cx="8.5" cy="26.3" r="0.6"/><circle cx="8.7" cy="27.9" r="0.6"/><circle cx="10.3" cy="26.4" r="0.6"/><circle cx="9.9" cy="31.2" r="0.6"/><circle cx="8.0" cy="32.3" r="0.6"/><circle cx="8.0" cy="36.8" r="0.6"/><circle cx="10.2" cy="36.5" r="0.6"/><circle cx="11.3" cy="41.6" r="0.6"/><circle cx="9.5" cy="40.4" r="0.6"/><circle cx="8.4" cy="42.9" r="0.6"/><circle cx="10.2" cy="44.1" r="0.6"/><circle cx="9.5" cy="47.9" r="0.6"/><circle cx="7.6" cy="49.0" r="0.6"/><circle cx="11.8" cy="51.8" r="0.6"/><circle cx="10.7" cy="53.7" r="0.6"/><circle cx="11.0" cy="52.5" r="0.6"/><circle cx="11.6" cy="54.6" r="0.6"/><circle cx="8.0" cy="58.3" r="0.6"/><circle cx="9.2" cy="56.4" r="0.6"/><circle cx="10.1" cy="65.0" r="0.6"/><circle cx="9.9" cy="62.9" r="0.6"/><circle cx="10.0" cy="67.9" r="0.6"/><circle cx="9.8" cy="65.7" r="0.6"/><circle cx="11.6" cy="70.5" r="0.6"/><circle cx="9.4" cy="70.5" r="0.6"/><circle cx="8.3" cy="73.1" r="0.6"/><circle cx="9.5" cy="71.2" r="0.6"/><circle cx="9.5" cy="77.8" r="0.6"/><circle cx="9.9" cy="75.7" r="0.6"/><circle cx="8.4" cy="81.8" r="0.6"/><circle cx="6.8" cy="80.3" r="0.6"/><circle cx="10.1" cy="87.7" r="0.6"/><circle cx="8.1" cy="86.7" r="0.6"/><circle cx="9.7" cy="88.9" r="0.6"/><circle cx="7.7" cy="88.1" r="0.6"/><circle cx="8.7" cy="94.0" r="0.6"/><circle cx="8.8" cy="91.8" r="0.6"/><circle cx="11.7" cy="97.5" r="0.6"/><circle cx="9.6" cy="98.0" r="0.6"/><circle cx="9.3" cy="100.5" r="0.6"/><circle cx="7.2" cy="99.9" r="0.6"/><circle cx="7.3" cy="103.4" r="0.6"/><circle cx="9.3" cy="104.3" r="0.6"/><circle cx="9.8" cy="108.5" r="0.6"/><circle cx="12.0" cy="108.5" r="0.6"/><circle cx="11.0" cy="112.3" r="0.6"/><circle cx="9.3" cy="113.7" r="0.6"/><circle cx="15.4" cy="2.3" r="0.6"/><circle cx="13.9" cy="3.9" r="0.6"/><circle cx="14.5" cy="4.7" r="0.6"/><circle cx="12.9" cy="6.2" r="0.6"/><circle cx="12.8" cy="7.4" r="0.6"/><circle cx="12.4" cy="9.5" r="0.6"/><circle cx="15.6" cy="13.6" r="0.6"/><circle cx="15.3" cy="15.8" r="0.6"/><circle cx="13.7" cy="18.1" r="0.6"/><circle cx="11.5" cy="18.2" r="0.6"/><circle cx="14.2" cy="19.5" r="0.6"/><circle cx="14.9" cy="21.6" r="0.6"/><circle cx="15.2" cy="23.8" r="0.6"/><circle cx="14.3" cy="25.9" r="0.6"/><circle cx="12.5" cy="28.0" r="0.6"/><circle cx="14.6" cy="27.3" r="0.6"/><circle cx="14.5" cy="32.4" r="0.6"/><circle cx="12.9" cy="30.9" r="0.6"/><circle cx="13.2" cy="36.1" r="0.6"/><circle cx="12.4" cy="38.1" r="0.6"/><circle cx="13.5" cy="40.1" r="0.6"/><circle cx="13.4" cy="37.9" r="0.6"/><circle cx="13.4" cy="45.4" r="0.6"/><circle cx="13.6" cy="43.2" r="0.6"/><circle cx="11.1" cy="48.1" r="0.6"/><circle cx="12.1" cy="46.1" r="0.6"/><circle cx="14.0" cy="52.2" r="0.6"/><circle cx="13.7" cy="50.0" r="0.6"/><circle cx="15.4" cy="56.4" r="0.6"/><circle cx="13.2" cy="56.6" r="0.6"/><circle cx="14.7" cy="58.8" r="0.6"/><circle cx="14.7" cy="61.0" r="0.6"/><circle cx="13.6" cy="63.6" r="0.6"/><circle cx="13.5" cy="61.4" r="0.6"/><circle cx="12.1" cy="66.1" r="0.6"/><circle cx="14.2" cy="66.8" r="0.6"/><circle cx="13.9" cy="72.3" r="0.6"/><circle cx="13.6" cy="70.2" r="0.6"/><circle cx="13.2" cy="71.9" r="0.6"/><circle cx="14.8" cy="73.4" r="0.6"/><circle cx="13.0" cy="79.1" r="0.6"/><circle cx="14.7" cy="77.7" r="0.6"/><circle cx="14.5" cy="80.0" r="0.6"/><circle cx="13.0" cy="81.7" r="0.6"/><circle cx="12.1" cy="84.0" r="0.6"/><circle cx="14.1" cy="85.0" r="0.6"/><circle cx="13.9" cy="86.7" r="0.6"/><circle cx="14.4" cy="88.9" r="0.6"/><circle cx="12.8" cy="92.6" r="0.6"/><circle cx="14.1" cy="90.9" r="0.6"/><circle cx="14.7" cy="97.9" r="0.6"/><circle cx="12.7" cy="98.8" r="0.6"/><circle cx="10.6" cy="102.4" r="0.6"/><circle cx="11.8" cy="100.5" r="0.6"/><circle cx="10.8" cy="104.4" r="0.6"/><circle cx="13.0" cy="104.2" r="0.6"/><circle cx="13.2" cy="106.0" r="0.6"/><circle cx="13.1" cy="108.2" r="0.6"/><circle cx="12.3" cy="111.4" r="0.6"/><circle cx="12.7" cy="113.6" r="0.6"/><circle cx="19.4" cy="2.1" r="0.6"/><circle cx="17.8" cy="3.7" r="0.6"/><circle cx="18.2" cy="4.9" r="0.6"/><circle cx="16.3" cy="6.0" r="0.6"/><circle cx="17.9" cy="10.2" r="0.6"/><circle cx="16.5" cy="11.9" r="0.6"/><circle cx="19.3" cy="12.6" r="0.6"/><circle cx="19.1" cy="14.8" r="0.6"/><circle cx="17.7" cy="14.9" r="0.6"/><circle cx="17.1" cy="17.0" r="0.6"/><circle cx="16.2" cy="20.7" r="0.6"/><circle cx="15.6" cy="18.5" r="0.6"/><circle cx="17.3" cy="23.7" r="0.6"/><circle cx="18.4" cy="25.6" r="0.6"/><circle cx="18.6" cy="29.5" r="0.6"/><circle cx="17.0" cy="31.0" r="0.6"/><circle cx="17.0" cy="32.7" r="0.6"/><circle cx="14.8" cy="32.3" r="0.6"/><circle cx="17.3" cy="33.7" r="0.6"/><circle cx="18.8" cy="35.3" r="0.6"/><circle cx="16.4" cy="37.3" r="0.6"/><circle cx="17.2" cy="39.4" r="0.6"/><circle cx="14.6" cy="42.3" r="0.6"/><circle cx="16.4" cy="41.0" r="0.6"/><circle cx="19.4" cy="46.3" r="0.6"/><circle cx="17.4" cy="47.2" r="0.6"/><circle cx="14.8" cy="51.3" r="0.6"/><circle cx="16.0" cy="49.5" r="0.6"/><circle cx="14.7" cy="54.9" r="0.6"/><circle cx="16.9" cy="54.4" r="0.6"/><circle cx="18.2" cy="60.5" r="0.6"/><circle cx="16.2" cy="61.4" r="0.6"/><circle cx="18.4" cy="64.5" r="0.6"/><circle cx="16.2" cy="64.0" r="0.6"/><circle cx="17.9" cy="66.8" r="0.6"/><circle cx="17.5" cy="69.0" r="0.6"/><circle cx="15.9" cy="69.3" r="0.6"/><circle cx="17.0" cy="67.4" r="0.6"/><circle cx="17.8" cy="75.1" r="0.6"/><circle cx="17.3" cy="72.9" r="0.6"/><circle cx="14.9" cy="79.5" r="0.6"/><circle cx="15.3" cy="77.3" r="0.6"/><circle cx="16.7" cy="79.5" r="0.6"/><circle cx="18.8" cy="80.2" r="0.6"/><circle cx="18.0" cy="84.1" r="0.6"/><circle cx="18.5" cy="86.2" r="0.6"/><circle cx="16.5" cy="87.7" r="0.6"/><circle cx="16.8" cy="89.9" r="0.6"/><circle cx="18.1" cy="93.8" r="0.6"/><circle cx="17.1" cy="91.8" r="0.6"/><circle cx="16.6" cy="96.3" r="0.6"/><circle cx="17.6" cy="98.2" r="0.6"/><circle cx="15.5" cy="101.1" r="0.6"/><circle cx="16.1" cy="99.0" r="0.6"/><circle cx="18.3" cy="106.4" r="0.6"/><circle cx="17.2" cy="104.4" r="0.6"/><circle cx="15.5" cy="106.6" r="0.6"/><circle cx="17.7" cy="106.8" r="0.6"/><circle cx="15.3" cy="112.3" r="0.6"/><circle cx="16.8" cy="110.8" r="0.6"/><circle cx="20.6" cy="1.6" r="0.6"/><circle cx="18.6" cy="2.4" r="0.6"/><circle cx="19.4" cy="5.3" r="0.6"/><circle cx="21.4" cy="4.4" r="0.6"/><circle cx="19.6" cy="9.0" r="0.6"/><circle cx="21.2" cy="7.5" r="0.6"/><circle cx="21.1" cy="13.2" r="0.6"/><circle cx="19.0" cy="12.8" r="0.6"/><circle cx="19.0" cy="16.1" r="0.6"/><circle cx="21.0" cy="16.9" r="0.6"/><circle cx="21.2" cy="20.8" r="0.6"/><circle cx="23.4" cy="20.9" r="0.6"/><circle cx="18.0" cy="25.3" r="0.6"/><circle cx="20.0" cy="24.3" r="0.6"/><circle cx="23.3" cy="28.5" r="0.6"/><circle cx="21.1" cy="28.6" r="0.6"/><circle cx="19.8" cy="34.3" r="0.6"/><circle cx="20.1" cy="32.1" r="0.6"/><circle cx="21.4" cy="36.1" r="0.6"/><circle cx="21.1" cy="33.9" r="0.6"/><circle cx="23.6" cy="39.7" r="0.6"/><circle cx="21.5" cy="40.5" r="0.6"/><circle cx="19.9" cy="45.2" r="0.6"/><circle cx="20.5" cy="43.1" r="0.6"/><circle cx="22.8" cy="48.2" r="0.6"/><circle cx="21.1" cy="49.6" r="0.6"/><circle cx="21.2" cy="49.6" r="0.6"/><circle cx="21.0" cy="51.8" r="0.6"/><circle cx="19.0" cy="52.4" r="0.6"/><circle cx="21.0" cy="53.3" r="0.6"/><circle cx="21.7" cy="59.4" r="0.6"/><circle cx="19.5" cy="59.5" r="0.6"/><circle cx="18.8" cy="63.2" r="0.6"/><circle cx="20.6" cy="61.9" r="0.6"/><circle cx="21.2" cy="66.3" r="0.6"/><circle cx="23.3" cy="66.6" r="0.6"/><circle cx="20.8" cy="68.6" r="0.6"/><circle cx="19.7" cy="70.5" r="0.6"/><circle cx="20.6" cy="74.7" r="0.6"/><circle cx="21.8" cy="72.9" r="0.6"/><circle cx="18.4" cy="79.5" r="0.6"/><circle cx="19.5" cy="77.6" r="0.6"/><circle cx="20.0" cy="80.9" r="0.6"/><circle cx="22.0" cy="80.0" r="0.6"/><circle cx="22.0" cy="85.9" r="0.6"/><circle cx="20.3" cy="84.5" r="0.6"/><circle cx="23.3" cy="89.3" r="0.6"/><circle cx="22.5" cy="91.3" r="0.6"/><circle cx="20.3" cy="93.3" r="0.6"/><circle cx="20.5" cy="91.1" r="0.6"/><circle cx="21.2" cy="96.4" r="0.6"/><circle cx="22.6" cy="98.1" r="0.6"/><circle cx="21.2" cy="98.6" r="0.6"/><circle cx="22.6" cy="100.3" r="0.6"/><circle cx="21.1" cy="104.2" r="0.6"/><circle cx="20.2" cy="102.2" r="0.6"/><circle cx="21.2" cy="105.7" r="0.6"/><circle cx="21.4" cy="107.9" r="0.6"/><circle cx="18.4" cy="112.8" r="0.6"/><circle cx="19.3" cy="110.8" r="0.6"/><circle cx="25.9" cy="1.1" r="0.6"/><circle cx="26.0" cy="3.3" r="0.6"/><circle cx="23.9" cy="7.4" r="0.6"/><circle cx="24.8" cy="5.4" r="0.6"/><circle cx="23.7" cy="6.9" r="0.6"/><circle cx="25.1" cy="8.6" r="0.6"/><circle cx="23.7" cy="14.3" r="0.6"/><circle cx="22.0" cy="12.9" r="0.6"/><circle cx="24.0" cy="18.0" r="0.6"/><circle cx="23.3" cy="16.0" r="0.6"/><circle cx="22.5" cy="23.1" r="0.6"/><circle cx="22.6" cy="20.9" r="0.6"/><circle cx="24.5" cy="25.1" r="0.6"/><circle cx="23.5" cy="27.1" r="0.6"/><circle cx="25.3" cy="30.3" r="0.6"/><circle cx="24.3" cy="28.3" r="0.6"/><circle cx="24.7" cy="32.6" r="0.6"/><circle cx="23.6" cy="34.5" r="0.6"/><circle cx="23.0" cy="36.9" r="0.6"/><circle cx="24.9" cy="35.8" r="0.6"/><circle cx="26.7" cy="41.7" r="0.6"/><circle cx="24.7" cy="40.8" r="0.6"/><circle cx="23.4" cy="45.0" r="0.6"/><circle cx="25.2" cy="43.7" r="0.6"/><circle cx="25.0" cy="49.3" r="0.6"/><circle cx="23.0" cy="48.3" r="0.6"/><circle cx="24.3" cy="52.0" r="0.6"/><circle cx="22.1" cy="51.8" r="0.6"/><circle cx="25.2" cy="54.1" r="0.6"/><circle cx="26.6" cy="55.8" r="0.6"/><circle cx="23.9" cy="59.5" r="0.6"/><circle cx="25.8" cy="58.4" r="0.6"/><circle cx="27.1" cy="61.9" r="0.6"/><circle cx="25.1" cy="62.9" r="0.6"/><circle cx="22.3" cy="66.8" r="0.6"/><circle cx="22.3" cy="64.6" r="0.6"/><circle cx="22.2" cy="70.8" r="0.6"/><circle cx="24.4" cy="70.5" r="0.6"/><circle cx="24.1" cy="74.9" r="0.6"/><circle cx="22.5" cy="73.4" r="0.6"/><circle cx="24.2" cy="79.9" r="0.6"/><circle cx="22.1" cy="79.5" r="0.6"/><circle cx="23.2" cy="80.7" r="0.6"/><circle cx="25.0" cy="81.9" r="0.6"/><circle cx="26.9" cy="85.4" r="0.6"/><circle cx="25.8" cy="87.3" r="0.6"/><circle cx="24.3" cy="89.3" r="0.6"/><circle cx="22.2" cy="89.8" r="0.6"/><circle cx="23.0" cy="93.7" r="0.6"/><circle cx="23.3" cy="91.6" r="0.6"/><circle cx="25.4" cy="97.7" r="0.6"/><circle cx="24.1" cy="95.9" r="0.6"/><circle cx="26.8" cy="100.4" r="0.6"/><circle cx="24.9" cy="101.5" r="0.6"/><circle cx="23.8" cy="104.0" r="0.6"/><circle cx="21.8" cy="103.1" r="0.6"/><circle cx="27.2" cy="106.8" r="0.6"/><circle cx="25.3" cy="107.9" r="0.6"/><circle cx="24.3" cy="112.0" r="0.6"/><circle cx="26.4" cy="112.7" r="0.6"/><circle cx="27.9" cy="0.0" r="0.6"/><circle cx="27.3" cy="2.2" r="0.6"/><circle cx="29.2" cy="7.4" r="0.6"/><circle cx="27.0" cy="7.4" r="0.6"/><circle cx="29.7" cy="10.9" r="0.6"/><circle cx="27.6" cy="10.2" r="0.6"/><circle cx="26.6" cy="12.6" r="0.6"/><circle cx="28.6" cy="13.6" r="0.6"/><circle cx="29.9" cy="15.3" r="0.6"/><circle cx="30.0" cy="17.4" r="0.6"/><circle cx="30.7" cy="20.3" r="0.6"/><circle cx="28.6" cy="19.9" r="0.6"/><circle cx="30.4" cy="25.3" r="0.6"/><circle cx="28.6" cy="26.6" r="0.6"/><circle cx="27.2" cy="27.7" r="0.6"/><circle cx="28.9" cy="29.0" r="0.6"/><circle cx="26.8" cy="30.9" r="0.6"/><circle cx="28.6" cy="32.1" r="0.6"/><circle cx="30.0" cy="35.5" r="0.6"/><circle cx="27.9" cy="35.9" r="0.6"/><circle cx="29.1" cy="39.0" r="0.6"/><circle cx="27.1" cy="39.9" r="0.6"/><circle cx="28.1" cy="41.8" r="0.6"/><circle cx="30.2" cy="42.0" r="0.6"/><circle cx="28.9" cy="47.4" r="0.6"/><circle cx="30.3" cy="49.1" r="0.6"/><circle cx="27.9" cy="51.5" r="0.6"/><circle cx="27.3" cy="53.6" r="0.6"/><circle cx="30.2" cy="52.7" r="0.6"/><circle cx="30.2" cy="54.9" r="0.6"/><circle cx="27.8" cy="56.7" r="0.6"/><circle cx="29.9" cy="56.4" r="0.6"/><circle cx="28.7" cy="63.0" r="0.6"/><circle cx="27.0" cy="61.5" r="0.6"/><circle cx="28.3" cy="67.3" r="0.6"/><circle cx="26.2" cy="66.8" r="0.6"/><circle cx="27.0" cy="68.7" r="0.6"/><circle cx="29.1" cy="67.9" r="0.6"/><circle cx="27.4" cy="72.9" r="0.6"/><circle cx="28.0" cy="75.0" r="0.6"/><circle cx="29.9" cy="77.7" r="0.6"/><circle cx="30.1" cy="79.9" r="0.6"/><circle cx="28.7" cy="83.3" r="0.6"/><circle cx="26.5" cy="83.0" r="0.6"/><circle cx="26.7" cy="82.8" r="0.6"/><circle cx="28.8" cy="83.5" r="0.6"/><circle cx="30.7" cy="88.1" r="0.6"/><circle cx="29.2" cy="89.6" r="0.6"/><circle cx="27.5" cy="93.7" r="0.6"/><circle cx="28.7" cy="91.9" r="0.6"/><circle cx="28.8" cy="96.5" r="0.6"/><circle cx="27.9" cy="98.6" r="0.6"/><circle cx="28.5" cy="99.0" r="0.6"/><circle cx="27.9" cy="101.1" r="0.6"/><circle cx="26.4" cy="105.5" r="0.6"/><circle cx="25.9" cy="103.4" r="0.6"/><circle cx="26.1" cy="107.8" r="0.6"/><circle cx="26.8" cy="105.7" r="0.6"/><circle cx="27.8" cy="113.3" r="0.6"/><circle cx="26.0" cy="112.0" r="0.6"/><circle cx="32.6" cy="2.8" r="0.6"/><circle cx="30.4" cy="2.6" r="0.6"/><circle cx="32.4" cy="6.9" r="0.6"/><circle cx="30.2" cy="6.7" r="0.6"/><circle cx="33.1" cy="9.8" r="0.6"/><circle cx="31.0" cy="9.0" r="0.6"/><circle cx="32.0" cy="15.6" r="0.6"/><circle cx="31.0" cy="13.6" r="0.6"/><circle cx="33.0" cy="16.2" r="0.6"/><circle cx="33.6" cy="18.3" r="0.6"/><circle cx="31.3" cy="20.8" r="0.6"/><circle cx="33.4" cy="20.7" r="0.6"/><circle cx="34.0" cy="24.2" r="0.6"/><circle cx="31.8" cy="24.0" r="0.6"/><circle cx="32.1" cy="29.0" r="0.6"/><circle cx="33.0" cy="26.9" r="0.6"/><circle cx="32.5" cy="33.0" r="0.6"/><circle cx="30.3" cy="32.8" r="0.6"/><circle cx="32.9" cy="34.8" r="0.6"/><circle cx="32.9" cy="37.0" r="0.6"/><circle cx="33.9" cy="39.6" r="0.6"/><circle cx="32.4" cy="41.2" r="0.6"/><circle cx="31.9" cy="44.7" r="0.6"/><circle cx="30.6" cy="43.0" r="0.6"/><circle cx="34.9" cy="46.8" r="0.6"/><circle cx="32.9" cy="47.6" r="0.6"/><circle cx="32.2" cy="52.5" r="0.6"/><circle cx="30.1" cy="52.9" r="0.6"/><circle cx="31.5" cy="55.3" r="0.6"/><circle cx="33.5" cy="54.4" r="0.6"/><circle cx="34.0" cy="58.7" r="0.6"/><circle cx="33.2" cy="60.7" r="0.6"/><circle cx="31.2" cy="62.5" r="0.6"/><circle cx="32.9" cy="63.9" r="0.6"/><circle cx="30.0" cy="67.3" r="0.6"/><circle cx="30.0" cy="65.1" r="0.6"/><circle cx="30.1" cy="71.0" r="0.6"/><circle cx="31.2" cy="69.2" r="0.6"/><circle cx="30.7" cy="73.8" r="0.6"/><circle cx="32.3" cy="75.3" r="0.6"/><circle cx="32.4" cy="78.3" r="0.6"/><circle cx="31.7" cy="76.2" r="0.6"/><circle cx="31.7" cy="82.0" r="0.6"/><circle cx="33.7" cy="80.9" r="0.6"/><circle cx="31.3" cy="83.6" r="0.6"/><circle cx="33.4" cy="84.2" r="0.6"/><circle cx="33.9" cy="91.1" r="0.6"/><circle cx="32.2" cy="89.8" r="0.6"/><circle cx="30.5" cy="91.3" r="0.6"/><circle cx="32.6" cy="92.0" r="0.6"/><circle cx="33.1" cy="94.4" r="0.6"/><circle cx="34.9" cy="95.7" r="0.6"/><circle cx="30.0" cy="98.2" r="0.6"/><circle cx="32.2" cy="98.2" r="0.6"/><circle cx="29.9" cy="105.4" r="0.6"/><circle cx="29.8" cy="103.3" r="0.6"/><circle cx="33.1" cy="105.7" r="0.6"/><circle cx="32.8" cy="107.9" r="0.6"/><circle cx="32.8" cy="113.1" r="0.6"/><circle cx="30.9" cy="111.9" r="0.6"/><circle cx="35.6" cy="3.2" r="0.6"/><circle cx="33.4" cy="3.0" r="0.6"/><circle cx="36.2" cy="4.3" r="0.6"/><circle cx="38.1" cy="5.4" r="0.6"/><circle cx="37.3" cy="11.5" r="0.6"/><circle cx="36.0" cy="9.7" r="0.6"/><circle cx="37.0" cy="14.8" r="0.6"/><circle cx="35.2" cy="16.0" r="0.6"/><circle cx="35.9" cy="15.5" r="0.6"/><circle cx="37.9" cy="16.4" r="0.6"/><circle cx="37.3" cy="19.5" r="0.6"/><circle cx="36.0" cy="21.3" r="0.6"/><circle cx="36.2" cy="25.7" r="0.6"/><circle cx="34.1" cy="26.0" r="0.6"/><circle cx="37.2" cy="29.0" r="0.6"/><circle cx="35.3" cy="28.0" r="0.6"/><circle cx="35.9" cy="30.8" r="0.6"/><circle cx="38.1" cy="30.9" r="0.6"/><circle cx="35.8" cy="37.0" r="0.6"/><circle cx="36.2" cy="34.9" r="0.6"/><circle cx="35.4" cy="41.6" r="0.6"/><circle cx="35.7" cy="39.5" r="0.6"/><circle cx="37.2" cy="44.6" r="0.6"/><circle cx="36.2" cy="42.7" r="0.6"/><circle cx="36.1" cy="45.4" r="0.6"/><circle cx="36.4" cy="47.5" r="0.6"/><circle cx="36.3" cy="52.2" r="0.6"/><circle cx="34.6" cy="53.6" r="0.6"/><circle cx="33.7" cy="54.7" r="0.6"/><circle cx="35.5" cy="53.4" r="0.6"/><circle cx="35.8" cy="56.7" r="0.6"/><circle cx="35.6" cy="58.9" r="0.6"/><circle cx="37.9" cy="62.6" r="0.6"/><circle cx="36.3" cy="64.1" r="0.6"/><circle cx="37.9" cy="66.8" r="0.6"/><circle cx="36.0" cy="67.8" r="0.6"/><circle cx="35.8" cy="69.6" r="0.6"/><circle cx="36.3" cy="71.7" r="0.6"/><circle cx="36.3" cy="73.9" r="0.6"/><circle cx="35.5" cy="76.0" r="0.6"/><circle cx="35.1" cy="77.9" r="0.6"/><circle cx="37.1" cy="78.9" r="0.6"/><circle cx="37.8" cy="81.2" r="0.6"/><circle cx="36.6" cy="83.0" r="0.6"/><circle cx="33.9" cy="83.4" r="0.6"/><circle cx="36.0" cy="84.0" r="0.6"/><circle cx="36.1" cy="89.0" r="0.6"/><circle cx="37.1" cy="91.0" r="0.6"/><circle cx="35.4" cy="91.7" r="0.6"/><circle cx="36.8" cy="93.4" r="0.6"/><circle cx="36.6" cy="99.2" r="0.6"/><circle cx="35.1" cy="97.6" r="0.6"/><circle cx="35.5" cy="100.2" r="0.6"/><circle cx="37.5" cy="99.3" r="0.6"/><circle cx="36.4" cy="104.7" r="0.6"/><circle cx="34.4" cy="105.7" r="0.6"/><circle cx="36.1" cy="109.4" r="0.6"/><circle cx="33.9" cy="109.2" r="0.6"/><circle cx="35.8" cy="111.8" r="0.6"/><circle cx="38.0" cy="112.1" r="0.6"/><circle cx="38.9" cy="0.2" r="0.6"/><circle cx="39.1" cy="2.4" r="0.6"/><circle cx="40.2" cy="5.5" r="0.6"/><circle cx="39.2" cy="7.4" r="0.6"/><circle cx="39.3" cy="8.3" r="0.6"/><circle cx="41.4" cy="7.6" r="0.6"/><circle cx="39.5" cy="12.5" r="0.6"/><circle cx="41.5" cy="13.6" r="0.6"/><circle cx="38.8" cy="14.7" r="0.6"/><circle cx="41.0" cy="15.0" r="0.6"/><circle cx="38.0" cy="20.0" r="0.6"/><circle cx="40.1" cy="20.3" r="0.6"/><circle cx="39.2" cy="24.6" r="0.6"/><circle cx="37.7" cy="23.1" r="0.6"/><circle cx="39.6" cy="29.1" r="0.6"/><circle cx="37.6" cy="28.3" r="0.6"/><circle cx="38.0" cy="32.2" r="0.6"/><circle cx="37.3" cy="30.1" r="0.6"/><circle cx="38.3" cy="35.0" r="0.6"/><circle cx="39.9" cy="33.5" r="0.6"/><circle cx="40.3" cy="42.3" r="0.6"/><circle cx="38.4" cy="41.2" r="0.6"/><circle cx="39.5" cy="45.5" r="0.6"/><circle cx="37.7" cy="44.2" r="0.6"/><circle cx="39.1" cy="47.5" r="0.6"/><circle cx="37.7" cy="45.8" r="0.6"/><circle cx="40.2" cy="50.6" r="0.6"/><circle cx="41.2" cy="52.5" r="0.6"/><circle cx="39.6" cy="53.9" r="0.6"/><circle cx="37.7" cy="54.9" r="0.6"/><circle cx="42.1" cy="58.9" r="0.6"/><circle cx="40.1" cy="59.7" r="0.6"/><circle cx="39.2" cy="61.1" r="0.6"/><circle cx="41.3" cy="60.6" r="0.6"/><circle cx="38.6" cy="67.0" r="0.6"/><circle cx="36.9" cy="65.6" r="0.6"/><circle cx="38.3" cy="71.7" r="0.6"/><circle cx="38.2" cy="69.5" r="0.6"/><circle cx="39.2" cy="73.4" r="0.6"/><circle cx="41.3" cy="73.0" r="0.6"/><circle cx="39.3" cy="76.3" r="0.6"/><circle cx="40.2" cy="78.3" r="0.6"/><circle cx="39.5" cy="79.0" r="0.6"/><circle cx="39.5" cy="81.2" r="0.6"/><circle cx="41.3" cy="84.6" r="0.6"/><circle cx="41.4" cy="86.8" r="0.6"/><circle cx="39.2" cy="88.5" r="0.6"/><circle cx="41.3" cy="87.9" r="0.6"/><circle cx="38.6" cy="92.6" r="0.6"/><circle cx="39.1" cy="90.4" r="0.6"/><circle cx="38.6" cy="94.4" r="0.6"/><circle cx="40.8" cy="94.3" r="0.6"/><circle cx="40.7" cy="100.1" r="0.6"/><circle cx="41.6" cy="102.1" r="0.6"/><circle cx="39.2" cy="103.9" r="0.6"/><circle cx="38.9" cy="101.8" r="0.6"/><circle cx="40.2" cy="109.8" r="0.6"/><circle cx="38.1" cy="109.0" r="0.6"/><circle cx="40.6" cy="109.7" r="0.6"/><circle cx="40.4" cy="111.9" r="0.6"/><circle cx="42.1" cy="3.0" r="0.6"/><circle cx="41.4" cy="0.9" r="0.6"/><circle cx="43.2" cy="8.3" r="0.6"/><circle cx="42.0" cy="6.4" r="0.6"/><circle cx="43.2" cy="8.5" r="0.6"/><circle cx="43.2" cy="10.7" r="0.6"/><circle cx="41.8" cy="15.2" r="0.6"/><circle cx="42.7" cy="13.2" r="0.6"/><circle cx="42.9" cy="16.1" r="0.6"/><circle cx="43.3" cy="18.3" r="0.6"/><circle cx="44.9" cy="20.8" r="0.6"/><circle cx="45.1" cy="23.0" r="0.6"/><circle cx="41.8" cy="26.5" r="0.6"/><circle cx="41.4" cy="24.3" r="0.6"/><circle cx="44.0" cy="28.7" r="0.6"/><circle cx="42.7" cy="27.0" r="0.6"/><circle cx="41.1" cy="32.7" r="0.6"/><circle cx="43.3" cy="32.5" r="0.6"/><circle cx="43.6" cy="34.0" r="0.6"/><circle cx="45.8" cy="34.2" r="0.6"/><circle cx="42.8" cy="38.7" r="0.6"/><circle cx="44.4" cy="40.2" r="0.6"/><circle cx="42.8" cy="42.3" r="0.6"/><circle cx="43.3" cy="44.5" r="0.6"/><circle cx="44.4" cy="46.4" r="0.6"/><circle cx="45.6" cy="48.2" r="0.6"/><circle cx="41.9" cy="50.6" r="0.6"/><circle cx="43.9" cy="51.6" r="0.6"/><circle cx="45.4" cy="56.1" r="0.6"/><circle cx="43.3" cy="55.6" r="0.6"/><circle cx="45.5" cy="59.9" r="0.6"/><circle cx="43.9" cy="61.4" r="0.6"/><circle cx="43.4" cy="60.7" r="0.6"/><circle cx="44.2" cy="62.8" r="0.6"/><circle cx="44.6" cy="63.9" r="0.6"/><circle cx="45.7" cy="65.8" r="0.6"/><circle cx="42.4" cy="72.4" r="0.6"/><circle cx="41.3" cy="70.6" r="0.6"/><circle cx="43.9" cy="73.7" r="0.6"/><circle cx="42.3" cy="72.2" r="0.6"/><circle cx="41.6" cy="77.9" r="0.6"/><circle cx="43.4" cy="79.1" r="0.6"/><circle cx="41.1" cy="79.9" r="0.6"/><circle cx="43.3" cy="79.8" r="0.6"/><circle cx="40.9" cy="86.6" r="0.6"/><circle cx="42.0" cy="84.7" r="0.6"/><circle cx="43.3" cy="88.6" r="0.6"/><circle cx="45.4" cy="87.9" r="0.6"/><circle cx="41.7" cy="91.6" r="0.6"/><circle cx="43.7" cy="90.7" r="0.6"/><circle cx="41.8" cy="97.3" r="0.6"/><circle cx="44.0" cy="97.0" r="0.6"/><circle cx="43.8" cy="98.8" r="0.6"/><circle cx="45.7" cy="99.9" r="0.6"/><circle cx="41.4" cy="105.2" r="0.6"/><circle cx="42.9" cy="103.5" r="0.6"/><circle cx="41.7" cy="108.3" r="0.6"/><circle cx="42.8" cy="106.4" r="0.6"/><circle cx="43.5" cy="111.8" r="0.6"/><circle cx="41.5" cy="110.8" r="0.6"/><circle cx="48.7" cy="-0.4" r="0.6"/><circle cx="48.6" cy="1.7" r="0.6"/><circle cx="47.1" cy="4.4" r="0.6"/><circle cx="47.1" cy="6.6" r="0.6"/><circle cx="46.5" cy="8.4" r="0.6"/><circle cx="48.6" cy="7.7" r="0.6"/><circle cx="48.2" cy="15.7" r="0.6"/><circle cx="46.1" cy="15.0" r="0.6"/><circle cx="48.4" cy="15.9" r="0.6"/><circle cx="48.8" cy="18.1" r="0.6"/><circle cx="47.3" cy="18.8" r="0.6"/><circle cx="46.3" cy="20.8" r="0.6"/><circle cx="47.9" cy="26.8" r="0.6"/><circle cx="47.4" cy="24.7" r="0.6"/><circle cx="46.9" cy="28.6" r="0.6"/><circle cx="48.8" cy="27.5" r="0.6"/><circle cx="48.5" cy="33.0" r="0.6"/><circle cx="47.6" cy="35.0" r="0.6"/><circle cx="46.3" cy="36.1" r="0.6"/><circle cx="47.5" cy="37.9" r="0.6"/><circle cx="47.9" cy="39.6" r="0.6"/><circle cx="46.1" cy="38.3" r="0.6"/><circle cx="47.9" cy="43.8" r="0.6"/><circle cx="46.9" cy="41.9" r="0.6"/><circle cx="47.4" cy="48.2" r="0.6"/><circle cx="46.5" cy="50.1" r="0.6"/><circle cx="44.7" cy="52.5" r="0.6"/><circle cx="45.3" cy="50.4" r="0.6"/><circle cx="47.7" cy="54.5" r="0.6"/><circle cx="46.0" cy="55.9" r="0.6"/><circle cx="48.1" cy="60.6" r="0.6"/><circle cx="46.0" cy="60.1" r="0.6"/><circle cx="44.5" cy="62.5" r="0.6"/><circle cx="46.6" cy="61.9" r="0.6"/><circle cx="47.0" cy="65.4" r="0.6"/><circle cx="48.5" cy="67.0" r="0.6"/><circle cx="46.6" cy="70.2" r="0.6"/><circle cx="46.3" cy="68.0" r="0.6"/><circle cx="49.6" cy="74.2" r="0.6"/><circle cx="49.1" cy="76.3" r="0.6"/><circle cx="47.0" cy="77.5" r="0.6"/><circle cx="45.9" cy="79.4" r="0.6"/><circle cx="48.3" cy="81.2" r="0.6"/><circle cx="47.1" cy="83.0" r="0.6"/><circle cx="47.4" cy="82.7" r="0.6"/><circle cx="47.7" cy="84.9" r="0.6"/><circle cx="48.4" cy="88.6" r="0.6"/><circle cx="49.8" cy="90.3" r="0.6"/><circle cx="46.4" cy="94.4" r="0.6"/><circle cx="45.9" cy="92.2" r="0.6"/><circle cx="45.5" cy="98.2" r="0.6"/><circle cx="45.1" cy="96.0" r="0.6"/><circle cx="46.5" cy="98.0" r="0.6"/><circle cx="47.8" cy="99.8" r="0.6"/><circle cx="47.3" cy="105.4" r="0.6"/><circle cx="48.3" cy="103.4" r="0.6"/><circle cx="46.7" cy="105.6" r="0.6"/><circle cx="47.6" cy="107.6" r="0.6"/><circle cx="48.3" cy="111.7" r="0.6"/><circle cx="46.2" cy="111.2" r="0.6"/><circle cx="50.9" cy="-0.3" r="0.6"/><circle cx="52.7" cy="0.9" r="0.6"/><circle cx="53.3" cy="6.2" r="0.6"/><circle cx="52.9" cy="8.3" r="0.6"/><circle cx="50.9" cy="11.1" r="0.6"/><circle cx="50.7" cy="8.9" r="0.6"/><circle cx="49.2" cy="13.3" r="0.6"/><circle cx="51.4" cy="13.5" r="0.6"/><circle cx="50.9" cy="16.4" r="0.6"/><circle cx="49.0" cy="17.4" r="0.6"/><circle cx="52.4" cy="23.0" r="0.6"/><circle cx="50.6" cy="21.7" r="0.6"/><circle cx="51.5" cy="26.0" r="0.6"/><circle cx="51.2" cy="23.8" r="0.6"/><circle cx="52.6" cy="26.7" r="0.6"/><circle cx="53.5" cy="28.7" r="0.6"/><circle cx="51.4" cy="32.2" r="0.6"/><circle cx="51.5" cy="34.4" r="0.6"/><circle cx="51.4" cy="35.8" r="0.6"/><circle cx="50.8" cy="33.7" r="0.6"/><circle cx="51.9" cy="40.7" r="0.6"/><circle cx="50.8" cy="42.6" r="0.6"/><circle cx="50.9" cy="43.7" r="0.6"/><circle cx="50.8" cy="45.9" r="0.6"/><circle cx="50.3" cy="48.7" r="0.6"/><circle cx="49.7" cy="46.6" r="0.6"/><circle cx="49.1" cy="51.6" r="0.6"/><circle cx="50.9" cy="50.3" r="0.6"/><circle cx="52.7" cy="57.5" r="0.6"/><circle cx="50.8" cy="56.4" r="0.6"/><circle cx="50.5" cy="57.5" r="0.6"/><circle cx="52.6" cy="57.1" r="0.6"/><circle cx="52.6" cy="63.1" r="0.6"/><circle cx="50.5" cy="62.5" r="0.6"/><circle cx="48.4" cy="64.8" r="0.6"/><circle cx="50.6" cy="64.9" r="0.6"/><circle cx="51.7" cy="70.6" r="0.6"/><circle cx="50.8" cy="68.6" r="0.6"/><circle cx="53.2" cy="75.4" r="0.6"/><circle cx="51.0" cy="75.3" r="0.6"/><circle cx="50.6" cy="76.4" r="0.6"/><circle cx="52.8" cy="76.1" r="0.6"/><circle cx="50.5" cy="81.6" r="0.6"/><circle cx="48.4" cy="81.2" r="0.6"/><circle cx="50.1" cy="87.4" r="0.6"/><circle cx="49.1" cy="85.4" r="0.6"/><circle cx="50.3" cy="89.7" r="0.6"/><circle cx="49.8" cy="87.6" r="0.6"/><circle cx="51.6" cy="92.5" r="0.6"/><circle cx="49.4" cy="92.3" r="0.6"/><circle cx="48.8" cy="97.3" r="0.6"/><circle cx="50.8" cy="96.3" r="0.6"/><circle cx="52.8" cy="100.3" r="0.6"/><circle cx="50.7" cy="99.4" r="0.6"/><circle cx="50.7" cy="106.6" r="0.6"/><circle cx="51.1" cy="104.5" r="0.6"/><circle cx="50.9" cy="109.2" r="0.6"/><circle cx="51.2" cy="107.0" r="0.6"/><circle cx="51.0" cy="113.6" r="0.6"/><circle cx="48.9" cy="113.0" r="0.6"/><circle cx="55.0" cy="0.3" r="0.6"/><circle cx="55.4" cy="2.4" r="0.6"/><circle cx="54.5" cy="5.0" r="0.6"/><circle cx="56.6" cy="5.8" r="0.6"/><circle cx="55.6" cy="12.3" r="0.6"/><circle cx="54.1" cy="10.7" r="0.6"/><circle cx="54.4" cy="12.7" r="0.6"/><circle cx="56.6" cy="13.1" r="0.6"/><circle cx="53.9" cy="17.3" r="0.6"/><circle cx="55.4" cy="15.8" r="0.6"/><circle cx="54.9" cy="20.1" r="0.6"/><circle cx="56.1" cy="22.0" r="0.6"/><circle cx="54.1" cy="25.1" r="0.6"/><circle cx="56.2" cy="24.2" r="0.6"/><circle cx="54.8" cy="28.5" r="0.6"/><circle cx="55.1" cy="26.4" r="0.6"/><circle cx="52.6" cy="31.9" r="0.6"/><circle cx="53.5" cy="29.9" r="0.6"/><circle cx="55.5" cy="35.2" r="0.6"/><circle cx="54.3" cy="37.0" r="0.6"/><circle cx="55.4" cy="40.9" r="0.6"/><circle cx="54.9" cy="38.8" r="0.6"/><circle cx="54.4" cy="40.9" r="0.6"/><circle cx="55.8" cy="42.6" r="0.6"/><circle cx="54.8" cy="46.9" r="0.6"/><circle cx="55.5" cy="49.0" r="0.6"/><circle cx="54.8" cy="52.5" r="0.6"/><circle cx="53.8" cy="50.6" r="0.6"/><circle cx="54.7" cy="54.4" r="0.6"/><circle cx="53.6" cy="56.3" r="0.6"/><circle cx="53.8" cy="56.2" r="0.6"/><circle cx="54.9" cy="58.1" r="0.6"/><circle cx="54.8" cy="63.0" r="0.6"/><circle cx="53.8" cy="61.0" r="0.6"/><circle cx="54.6" cy="66.9" r="0.6"/><circle cx="52.6" cy="65.9" r="0.6"/><circle cx="55.1" cy="70.2" r="0.6"/><circle cx="54.8" cy="68.0" r="0.6"/><circle cx="54.3" cy="71.7" r="0.6"/><circle cx="56.4" cy="72.4" r="0.6"/><circle cx="55.5" cy="77.7" r="0.6"/><circle cx="53.3" cy="77.5" r="0.6"/><circle cx="55.1" cy="83.1" r="0.6"/><circle cx="52.9" cy="83.4" r="0.6"/><circle cx="55.7" cy="84.2" r="0.6"/><circle cx="55.5" cy="86.4" r="0.6"/><circle cx="55.5" cy="91.8" r="0.6"/><circle cx="53.7" cy="90.6" r="0.6"/><circle cx="53.7" cy="93.1" r="0.6"/><circle cx="53.5" cy="90.9" r="0.6"/><circle cx="57.2" cy="94.3" r="0.6"/><circle cx="56.7" cy="96.4" r="0.6"/><circle cx="55.4" cy="100.3" r="0.6"/><circle cx="53.7" cy="101.6" r="0.6"/><circle cx="54.1" cy="106.1" r="0.6"/><circle cx="53.1" cy="104.2" r="0.6"/><circle cx="56.9" cy="108.0" r="0.6"/><circle cx="55.8" cy="109.9" r="0.6"/><circle cx="56.6" cy="111.5" r="0.6"/><circle cx="56.2" cy="113.6" r="0.6"/><circle cx="56.4" cy="0.7" r="0.6"/><circle cx="58.5" cy="1.2" r="0.6"/><circle cx="57.7" cy="6.2" r="0.6"/><circle cx="58.8" cy="4.2" r="0.6"/><circle cx="59.7" cy="10.0" r="0.6"/><circle cx="57.7" cy="9.1" r="0.6"/><circle cx="58.8" cy="14.2" r="0.6"/><circle cx="56.6" cy="14.4" r="0.6"/><circle cx="57.4" cy="17.3" r="0.6"/><circle cx="59.3" cy="16.2" r="0.6"/><circle cx="58.4" cy="22.4" r="0.6"/><circle cx="57.3" cy="20.5" r="0.6"/><circle cx="58.3" cy="25.5" r="0.6"/><circle cx="56.8" cy="24.0" r="0.6"/><circle cx="57.2" cy="28.3" r="0.6"/><circle cx="59.4" cy="28.4" r="0.6"/><circle cx="59.1" cy="33.4" r="0.6"/><circle cx="57.6" cy="31.8" r="0.6"/><circle cx="59.2" cy="38.1" r="0.6"/><circle cx="58.0" cy="36.2" r="0.6"/><circle cx="59.6" cy="40.9" r="0.6"/><circle cx="58.2" cy="42.6" r="0.6"/><circle cx="59.5" cy="45.4" r="0.6"/><circle cx="57.3" cy="45.4" r="0.6"/><circle cx="59.4" cy="46.7" r="0.6"/><circle cx="58.8" cy="48.8" r="0.6"/><circle cx="58.1" cy="50.5" r="0.6"/><circle cx="59.6" cy="52.2" r="0.6"/><circle cx="58.7" cy="55.4" r="0.6"/><circle cx="58.1" cy="53.3" r="0.6"/><circle cx="60.5" cy="58.4" r="0.6"/><circle cx="59.6" cy="60.4" r="0.6"/><circle cx="58.4" cy="62.9" r="0.6"/><circle cx="57.4" cy="61.0" r="0.6"/><circle cx="57.2" cy="68.6" r="0.6"/><circle cx="56.3" cy="66.7" r="0.6"/><circle cx="58.6" cy="71.6" r="0.6"/><circle cx="58.4" cy="69.4" r="0.6"/><circle cx="59.2" cy="72.4" r="0.6"/><circle cx="57.7" cy="74.0" r="0.6"/><circle cx="60.9" cy="76.4" r="0.6"/><circle cx="59.1" cy="77.8" r="0.6"/><circle cx="59.8" cy="79.5" r="0.6"/><circle cx="61.0" cy="81.4" r="0.6"/><circle cx="57.1" cy="85.6" r="0.6"/><circle cx="55.8" cy="83.8" r="0.6"/><circle cx="58.3" cy="89.9" r="0.6"/><circle cx="57.3" cy="88.0" r="0.6"/><circle cx="59.8" cy="94.7" r="0.6"/><circle cx="58.0" cy="93.5" r="0.6"/><circle cx="60.2" cy="96.0" r="0.6"/><circle cx="60.5" cy="98.2" r="0.6"/><circle cx="57.8" cy="102.2" r="0.6"/><circle cx="56.9" cy="100.1" r="0.6"/><circle cx="57.0" cy="104.7" r="0.6"/><circle cx="58.8" cy="103.4" r="0.6"/><circle cx="58.5" cy="107.6" r="0.6"/><circle cx="60.4" cy="108.6" r="0.6"/><circle cx="55.9" cy="111.4" r="0.6"/><circle cx="58.0" cy="110.6" r="0.6"/><circle cx="64.9" cy="2.6" r="0.6"/><circle cx="63.1" cy="3.9" r="0.6"/><circle cx="60.5" cy="5.9" r="0.6"/><circle cx="61.9" cy="4.3" r="0.6"/><circle cx="62.5" cy="9.9" r="0.6"/><circle cx="60.3" cy="10.1" r="0.6"/><circle cx="64.5" cy="12.6" r="0.6"/><circle cx="64.6" cy="14.8" r="0.6"/><circle cx="60.7" cy="17.8" r="0.6"/><circle cx="62.3" cy="16.4" r="0.6"/><circle cx="60.6" cy="20.3" r="0.6"/><circle cx="62.6" cy="19.4" r="0.6"/><circle cx="63.4" cy="26.0" r="0.6"/><circle cx="61.4" cy="25.2" r="0.6"/><circle cx="60.9" cy="28.3" r="0.6"/><circle cx="63.1" cy="28.6" r="0.6"/><circle cx="65.1" cy="32.5" r="0.6"/><circle cx="63.0" cy="33.2" r="0.6"/><circle cx="62.9" cy="34.5" r="0.6"/><circle cx="61.2" cy="35.9" r="0.6"/><circle cx="62.3" cy="40.2" r="0.6"/><circle cx="64.0" cy="38.9" r="0.6"/><circle cx="63.2" cy="43.9" r="0.6"/><circle cx="63.0" cy="46.0" r="0.6"/><circle cx="64.2" cy="47.8" r="0.6"/><circle cx="62.3" cy="48.8" r="0.6"/><circle cx="63.3" cy="51.1" r="0.6"/><circle cx="62.1" cy="49.3" r="0.6"/><circle cx="61.9" cy="52.4" r="0.6"/><circle cx="61.7" cy="54.6" r="0.6"/><circle cx="64.0" cy="60.6" r="0.6"/><circle cx="62.1" cy="59.6" r="0.6"/><circle cx="64.6" cy="61.0" r="0.6"/><circle cx="64.2" cy="63.2" r="0.6"/><circle cx="59.7" cy="65.6" r="0.6"/><circle cx="61.3" cy="64.1" r="0.6"/><circle cx="63.3" cy="68.7" r="0.6"/><circle cx="64.0" cy="70.8" r="0.6"/><circle cx="61.8" cy="75.1" r="0.6"/><circle cx="63.6" cy="74.0" r="0.6"/><circle cx="61.4" cy="77.1" r="0.6"/><circle cx="61.8" cy="79.3" r="0.6"/><circle cx="63.9" cy="81.6" r="0.6"/><circle cx="61.7" cy="81.9" r="0.6"/><circle cx="62.9" cy="87.1" r="0.6"/><circle cx="62.5" cy="84.9" r="0.6"/><circle cx="62.2" cy="88.0" r="0.6"/><circle cx="64.4" cy="87.6" r="0.6"/><circle cx="63.1" cy="93.0" r="0.6"/><circle cx="61.0" cy="92.4" r="0.6"/><circle cx="60.8" cy="96.8" r="0.6"/><circle cx="61.4" cy="94.7" r="0.6"/><circle cx="62.6" cy="98.9" r="0.6"/><circle cx="64.3" cy="100.3" r="0.6"/><circle cx="63.1" cy="103.6" r="0.6"/><circle cx="61.5" cy="105.1" r="0.6"/><circle cx="61.8" cy="109.2" r="0.6"/><circle cx="63.6" cy="107.9" r="0.6"/><circle cx="62.6" cy="112.1" r="0.6"/><circle cx="64.7" cy="112.7" r="0.6"/><circle cx="64.3" cy="-0.4" r="0.6"/><circle cx="66.2" cy="0.8" r="0.6"/><circle cx="66.1" cy="3.6" r="0.6"/><circle cx="66.8" cy="5.7" r="0.6"/><circle cx="67.2" cy="11.0" r="0.6"/><circle cx="65.3" cy="12.2" r="0.6"/><circle cx="67.3" cy="14.2" r="0.6"/><circle cx="66.3" cy="12.2" r="0.6"/><circle cx="65.2" cy="14.3" r="0.6"/><circle cx="66.7" cy="15.9" r="0.6"/><circle cx="64.8" cy="20.7" r="0.6"/><circle cx="66.9" cy="20.3" r="0.6"/><circle cx="63.8" cy="22.7" r="0.6"/><circle cx="65.9" cy="23.2" r="0.6"/><circle cx="68.7" cy="27.7" r="0.6"/><circle cx="66.9" cy="28.8" r="0.6"/><circle cx="64.3" cy="31.8" r="0.6"/><circle cx="66.5" cy="31.8" r="0.6"/><circle cx="66.5" cy="34.7" r="0.6"/><circle cx="68.7" cy="35.0" r="0.6"/><circle cx="65.6" cy="37.3" r="0.6"/><circle cx="67.0" cy="39.0" r="0.6"/><circle cx="68.9" cy="43.5" r="0.6"/><circle cx="67.5" cy="45.2" r="0.6"/><circle cx="66.3" cy="48.2" r="0.6"/><circle cx="65.4" cy="46.2" r="0.6"/><circle cx="66.3" cy="49.0" r="0.6"/><circle cx="65.5" cy="51.0" r="0.6"/><circle cx="64.6" cy="53.4" r="0.6"/><circle cx="66.7" cy="54.1" r="0.6"/><circle cx="66.6" cy="59.0" r="0.6"/><circle cx="65.3" cy="57.3" r="0.6"/><circle cx="68.0" cy="61.2" r="0.6"/><circle cx="68.0" cy="63.4" r="0.6"/><circle cx="64.3" cy="66.1" r="0.6"/><circle cx="65.4" cy="64.2" r="0.6"/><circle cx="64.5" cy="72.1" r="0.6"/><circle cx="64.6" cy="69.9" r="0.6"/><circle cx="63.3" cy="72.6" r="0.6"/><circle cx="65.3" cy="71.8" r="0.6"/><circle cx="67.3" cy="76.6" r="0.6"/><circle cx="68.5" cy="78.4" r="0.6"/><circle cx="64.8" cy="79.2" r="0.6"/><circle cx="66.6" cy="80.5" r="0.6"/><circle cx="67.1" cy="82.7" r="0.6"/><circle cx="68.0" cy="84.7" r="0.6"/><circle cx="67.3" cy="89.1" r="0.6"/><circle cx="66.3" cy="91.0" r="0.6"/><circle cx="67.6" cy="91.9" r="0.6"/><circle cx="65.8" cy="93.1" r="0.6"/><circle cx="65.3" cy="96.6" r="0.6"/><circle cx="65.4" cy="94.4" r="0.6"/><circle cx="66.2" cy="98.8" r="0.6"/><circle cx="68.4" cy="99.1" r="0.6"/><circle cx="65.9" cy="105.0" r="0.6"/><circle cx="63.9" cy="104.3" r="0.6"/><circle cx="66.2" cy="109.0" r="0.6"/><circle cx="67.2" cy="107.0" r="0.6"/><circle cx="67.0" cy="113.5" r="0.6"/><circle cx="64.9" cy="112.9" r="0.6"/><circle cx="68.4" cy="3.1" r="0.6"/><circle cx="67.3" cy="1.1" r="0.6"/><circle cx="68.3" cy="5.6" r="0.6"/><circle cx="69.1" cy="3.6" r="0.6"/><circle cx="67.6" cy="9.2" r="0.6"/><circle cx="67.7" cy="7.0" r="0.6"/><circle cx="69.1" cy="10.6" r="0.6"/><circle cx="70.4" cy="12.4" r="0.6"/><circle cx="68.9" cy="14.6" r="0.6"/><circle cx="71.0" cy="15.0" r="0.6"/><circle cx="70.8" cy="23.2" r="0.6"/><circle cx="70.2" cy="21.1" r="0.6"/><circle cx="70.6" cy="26.5" r="0.6"/><circle cx="68.6" cy="27.3" r="0.6"/><circle cx="71.4" cy="28.5" r="0.6"/><circle cx="69.5" cy="29.5" r="0.6"/><circle cx="70.7" cy="34.7" r="0.6"/><circle cx="70.3" cy="32.5" r="0.6"/><circle cx="69.6" cy="36.8" r="0.6"/><circle cx="67.9" cy="35.4" r="0.6"/><circle cx="69.0" cy="39.4" r="0.6"/><circle cx="70.2" cy="37.6" r="0.6"/><circle cx="69.2" cy="41.4" r="0.6"/><circle cx="69.3" cy="43.6" r="0.6"/><circle cx="68.1" cy="49.8" r="0.6"/><circle cx="68.5" cy="47.7" r="0.6"/><circle cx="67.5" cy="53.7" r="0.6"/><circle cx="67.7" cy="51.5" r="0.6"/><circle cx="70.8" cy="55.1" r="0.6"/><circle cx="68.8" cy="56.1" r="0.6"/><circle cx="67.8" cy="60.3" r="0.6"/><circle cx="69.2" cy="58.6" r="0.6"/><circle cx="70.1" cy="59.7" r="0.6"/><circle cx="71.8" cy="61.1" r="0.6"/><circle cx="70.6" cy="65.1" r="0.6"/><circle cx="69.0" cy="66.7" r="0.6"/><circle cx="70.6" cy="67.8" r="0.6"/><circle cx="72.3" cy="69.2" r="0.6"/><circle cx="70.0" cy="72.4" r="0.6"/><circle cx="68.5" cy="74.1" r="0.6"/><circle cx="70.2" cy="79.6" r="0.6"/><circle cx="69.2" cy="77.7" r="0.6"/><circle cx="70.8" cy="84.2" r="0.6"/><circle cx="69.0" cy="82.9" r="0.6"/><circle cx="70.6" cy="87.5" r="0.6"/><circle cx="69.1" cy="85.9" r="0.6"/><circle cx="69.3" cy="89.6" r="0.6"/><circle cx="69.0" cy="91.8" r="0.6"/><circle cx="70.9" cy="92.5" r="0.6"/><circle cx="69.6" cy="94.3" r="0.6"/><circle cx="69.9" cy="98.1" r="0.6"/><circle cx="68.2" cy="96.7" r="0.6"/><circle cx="67.7" cy="100.5" r="0.6"/><circle cx="67.5" cy="98.3" r="0.6"/><circle cx="70.9" cy="106.7" r="0.6"/><circle cx="69.7" cy="104.9" r="0.6"/><circle cx="71.0" cy="107.0" r="0.6"/><circle cx="71.1" cy="109.2" r="0.6"/><circle cx="68.1" cy="110.4" r="0.6"/><circle cx="70.2" cy="110.8" r="0.6"/><circle cx="75.2" cy="2.3" r="0.6"/><circle cx="73.3" cy="1.3" r="0.6"/><circle cx="74.1" cy="6.1" r="0.6"/><circle cx="73.3" cy="4.1" r="0.6"/><circle cx="73.3" cy="10.8" r="0.6"/><circle cx="72.7" cy="8.7" r="0.6"/><circle cx="73.9" cy="12.5" r="0.6"/><circle cx="73.7" cy="14.7" r="0.6"/><circle cx="74.0" cy="17.1" r="0.6"/><circle cx="73.0" cy="19.0" r="0.6"/><circle cx="73.5" cy="21.1" r="0.6"/><circle cx="73.6" cy="18.9" r="0.6"/><circle cx="70.9" cy="26.4" r="0.6"/><circle cx="72.3" cy="24.8" r="0.6"/><circle cx="72.4" cy="27.6" r="0.6"/><circle cx="73.6" cy="29.5" r="0.6"/><circle cx="75.0" cy="31.9" r="0.6"/><circle cx="76.3" cy="33.6" r="0.6"/><circle cx="75.9" cy="33.8" r="0.6"/><circle cx="75.3" cy="36.0" r="0.6"/><circle cx="72.2" cy="41.0" r="0.6"/><circle cx="73.5" cy="39.2" r="0.6"/><circle cx="71.2" cy="45.7" r="0.6"/><circle cx="71.7" cy="43.6" r="0.6"/><circle cx="74.8" cy="45.6" r="0.6"/><circle cx="76.2" cy="47.2" r="0.6"/><circle cx="75.5" cy="48.6" r="0.6"/><circle cx="75.5" cy="50.8" r="0.6"/><circle cx="72.2" cy="55.7" r="0.6"/><circle cx="72.2" cy="53.5" r="0.6"/><circle cx="75.4" cy="58.4" r="0.6"/><circle cx="73.8" cy="59.9" r="0.6"/><circle cx="73.5" cy="62.7" r="0.6"/><circle cx="72.6" cy="60.7" r="0.6"/><circle cx="71.0" cy="64.5" r="0.6"/><circle cx="73.0" cy="63.8" r="0.6"/><circle cx="72.6" cy="69.2" r="0.6"/><circle cx="74.5" cy="70.4" r="0.6"/><circle cx="74.2" cy="75.4" r="0.6"/><circle cx="73.4" cy="73.4" r="0.6"/><circle cx="75.0" cy="80.3" r="0.6"/><circle cx="73.3" cy="78.9" r="0.6"/><circle cx="76.0" cy="83.4" r="0.6"/><circle cx="73.8" cy="83.4" r="0.6"/><circle cx="75.6" cy="84.6" r="0.6"/><circle cx="76.0" cy="86.7" r="0.6"/><circle cx="72.5" cy="86.4" r="0.6"/><circle cx="73.7" cy="88.2" r="0.6"/><circle cx="72.7" cy="92.8" r="0.6"/><circle cx="74.2" cy="94.4" r="0.6"/><circle cx="72.1" cy="96.2" r="0.6"/><circle cx="72.7" cy="94.1" r="0.6"/><circle cx="75.9" cy="99.9" r="0.6"/><circle cx="73.7" cy="100.1" r="0.6"/><circle cx="71.6" cy="103.3" r="0.6"/><circle cx="72.7" cy="101.4" r="0.6"/><circle cx="73.5" cy="108.4" r="0.6"/><circle cx="75.7" cy="108.7" r="0.6"/><circle cx="75.7" cy="112.6" r="0.6"/><circle cx="74.1" cy="114.1" r="0.6"/><circle cx="77.8" cy="2.7" r="0.6"/><circle cx="75.7" cy="3.3" r="0.6"/><circle cx="75.6" cy="7.5" r="0.6"/><circle cx="76.3" cy="5.4" r="0.6"/><circle cx="75.5" cy="8.6" r="0.6"/><circle cx="77.5" cy="7.7" r="0.6"/><circle cx="78.5" cy="11.5" r="0.6"/><circle cx="80.3" cy="12.8" r="0.6"/><circle cx="77.9" cy="15.2" r="0.6"/><circle cx="79.9" cy="15.9" r="0.6"/><circle cx="76.0" cy="23.0" r="0.6"/><circle cx="76.4" cy="20.8" r="0.6"/><circle cx="75.7" cy="25.3" r="0.6"/><circle cx="77.4" cy="24.0" r="0.6"/><circle cx="77.4" cy="29.8" r="0.6"/><circle cx="79.1" cy="28.4" r="0.6"/><circle cx="79.3" cy="31.8" r="0.6"/><circle cx="77.2" cy="31.2" r="0.6"/><circle cx="76.8" cy="37.9" r="0.6"/><circle cx="75.2" cy="36.3" r="0.6"/><circle cx="76.9" cy="38.7" r="0.6"/><circle cx="79.0" cy="38.1" r="0.6"/><circle cx="78.0" cy="45.1" r="0.6"/><circle cx="76.8" cy="43.3" r="0.6"/><circle cx="76.4" cy="48.3" r="0.6"/><circle cx="78.2" cy="47.0" r="0.6"/><circle cx="78.4" cy="49.6" r="0.6"/><circle cx="77.8" cy="51.7" r="0.6"/><circle cx="76.5" cy="53.9" r="0.6"/><circle cx="78.4" cy="55.0" r="0.6"/><circle cx="79.1" cy="60.8" r="0.6"/><circle cx="76.9" cy="60.6" r="0.6"/><circle cx="76.0" cy="64.8" r="0.6"/><circle cx="76.4" cy="62.6" r="0.6"/><circle cx="74.9" cy="66.9" r="0.6"/><circle cx="76.7" cy="65.6" r="0.6"/><circle cx="77.3" cy="70.1" r="0.6"/><circle cx="75.2" cy="70.6" r="0.6"/><circle cx="77.4" cy="72.0" r="0.6"/><circle cx="78.8" cy="73.8" r="0.6"/><circle cx="78.8" cy="76.0" r="0.6"/><circle cx="79.5" cy="78.1" r="0.6"/><circle cx="77.1" cy="81.2" r="0.6"/><circle cx="79.3" cy="81.2" r="0.6"/><circle cx="76.8" cy="86.3" r="0.6"/><circle cx="78.4" cy="84.8" r="0.6"/><circle cx="79.2" cy="90.7" r="0.6"/><circle cx="77.1" cy="89.9" r="0.6"/><circle cx="76.1" cy="92.8" r="0.6"/><circle cx="78.2" cy="93.4" r="0.6"/><circle cx="78.1" cy="95.0" r="0.6"/><circle cx="79.2" cy="96.9" r="0.6"/><circle cx="78.2" cy="101.6" r="0.6"/><circle cx="77.1" cy="99.7" r="0.6"/><circle cx="76.7" cy="105.8" r="0.6"/><circle cx="74.6" cy="104.9" r="0.6"/><circle cx="78.3" cy="106.8" r="0.6"/><circle cx="79.4" cy="108.7" r="0.6"/><circle cx="77.4" cy="112.0" r="0.6"/><circle cx="75.9" cy="110.4" r="0.6"/><circle cx="79.7" cy="2.0" r="0.6"/><circle cx="81.7" cy="1.0" r="0.6"/><circle cx="81.2" cy="4.2" r="0.6"/><circle cx="81.0" cy="6.4" r="0.6"/><circle cx="81.2" cy="11.1" r="0.6"/><circle cx="82.8" cy="9.6" r="0.6"/><circle cx="79.9" cy="15.8" r="0.6"/><circle cx="78.5" cy="14.2" r="0.6"/><circle cx="82.1" cy="15.0" r="0.6"/><circle cx="81.9" cy="17.2" r="0.6"/><circle cx="82.2" cy="23.3" r="0.6"/><circle cx="81.3" cy="21.3" r="0.6"/><circle cx="81.5" cy="24.5" r="0.6"/><circle cx="80.3" cy="22.6" r="0.6"/><circle cx="83.9" cy="27.9" r="0.6"/><circle cx="82.7" cy="29.7" r="0.6"/><circle cx="78.5" cy="33.5" r="0.6"/><circle cx="79.9" cy="31.8" r="0.6"/><circle cx="78.4" cy="35.6" r="0.6"/><circle cx="80.0" cy="34.1" r="0.6"/><circle cx="81.1" cy="39.4" r="0.6"/><circle cx="82.5" cy="41.2" r="0.6"/><circle cx="81.0" cy="43.4" r="0.6"/><circle cx="82.4" cy="45.1" r="0.6"/><circle cx="78.7" cy="47.0" r="0.6"/><circle cx="80.7" cy="46.0" r="0.6"/><circle cx="81.7" cy="52.1" r="0.6"/><circle cx="79.8" cy="51.0" r="0.6"/><circle cx="79.5" cy="54.3" r="0.6"/><circle cx="81.6" cy="53.7" r="0.6"/><circle cx="82.1" cy="56.8" r="0.6"/><circle cx="81.1" cy="58.7" r="0.6"/><circle cx="79.8" cy="64.6" r="0.6"/><circle cx="78.9" cy="62.6" r="0.6"/><circle cx="82.8" cy="66.3" r="0.6"/><circle cx="83.1" cy="68.5" r="0.6"/><circle cx="83.5" cy="69.7" r="0.6"/><circle cx="81.3" cy="69.6" r="0.6"/><circle cx="80.0" cy="75.0" r="0.6"/><circle cx="81.1" cy="73.1" r="0.6"/><circle cx="81.2" cy="76.5" r="0.6"/><circle cx="79.5" cy="77.9" r="0.6"/><circle cx="83.2" cy="82.7" r="0.6"/><circle cx="81.5" cy="84.0" r="0.6"/><circle cx="80.6" cy="87.1" r="0.6"/><circle cx="81.3" cy="85.1" r="0.6"/><circle cx="80.7" cy="88.1" r="0.6"/><circle cx="82.8" cy="87.7" r="0.6"/><circle cx="81.4" cy="91.7" r="0.6"/><circle cx="83.4" cy="90.9" r="0.6"/><circle cx="80.9" cy="96.6" r="0.6"/><circle cx="80.1" cy="98.7" r="0.6"/><circle cx="81.7" cy="99.1" r="0.6"/><circle cx="83.7" cy="100.2" r="0.6"/><circle cx="81.8" cy="105.5" r="0.6"/><circle cx="79.6" cy="105.6" r="0.6"/><circle cx="80.5" cy="109.5" r="0.6"/><circle cx="81.4" cy="107.5" r="0.6"/><circle cx="81.0" cy="110.2" r="0.6"/><circle cx="82.5" cy="111.8" r="0.6"/><circle cx="85.6" cy="0.7" r="0.6"/><circle cx="85.9" cy="2.9" r="0.6"/><circle cx="87.2" cy="4.1" r="0.6"/><circle cx="85.8" cy="5.7" r="0.6"/><circle cx="85.3" cy="9.5" r="0.6"/><circle cx="83.2" cy="10.2" r="0.6"/><circle cx="84.6" cy="12.6" r="0.6"/><circle cx="86.7" cy="12.3" r="0.6"/><circle cx="84.3" cy="19.7" r="0.6"/><circle cx="83.3" cy="17.8" r="0.6"/><circle cx="83.6" cy="20.2" r="0.6"/><circle cx="85.2" cy="18.8" r="0.6"/><circle cx="87.5" cy="25.3" r="0.6"/><circle cx="86.3" cy="27.2" r="0.6"/><circle cx="86.2" cy="28.7" r="0.6"/><circle cx="84.2" cy="29.7" r="0.6"/><circle cx="84.8" cy="30.9" r="0.6"/><circle cx="86.7" cy="29.9" r="0.6"/><circle cx="84.0" cy="36.2" r="0.6"/><circle cx="84.8" cy="38.3" r="0.6"/><circle cx="86.3" cy="38.7" r="0.6"/><circle cx="84.3" cy="39.5" r="0.6"/><circle cx="87.6" cy="42.9" r="0.6"/><circle cx="85.8" cy="44.1" r="0.6"/><circle cx="85.0" cy="46.5" r="0.6"/><circle cx="84.4" cy="48.6" r="0.6"/><circle cx="85.9" cy="52.8" r="0.6"/><circle cx="84.9" cy="50.8" r="0.6"/><circle cx="86.9" cy="54.2" r="0.6"/><circle cx="86.8" cy="56.4" r="0.6"/><circle cx="85.6" cy="59.6" r="0.6"/><circle cx="85.3" cy="57.4" r="0.6"/><circle cx="83.5" cy="63.0" r="0.6"/><circle cx="84.0" cy="60.9" r="0.6"/><circle cx="82.4" cy="64.7" r="0.6"/><circle cx="84.5" cy="64.2" r="0.6"/><circle cx="83.4" cy="68.7" r="0.6"/><circle cx="85.6" cy="68.6" r="0.6"/><circle cx="83.5" cy="73.9" r="0.6"/><circle cx="83.6" cy="71.7" r="0.6"/><circle cx="82.8" cy="79.1" r="0.6"/><circle cx="82.9" cy="76.9" r="0.6"/><circle cx="85.5" cy="80.0" r="0.6"/><circle cx="84.8" cy="82.1" r="0.6"/><circle cx="87.3" cy="84.4" r="0.6"/><circle cx="87.0" cy="86.6" r="0.6"/><circle cx="83.5" cy="90.4" r="0.6"/><circle cx="83.2" cy="88.2" r="0.6"/><circle cx="87.3" cy="92.5" r="0.6"/><circle cx="85.1" cy="92.4" r="0.6"/><circle cx="83.5" cy="96.2" r="0.6"/><circle cx="84.9" cy="97.9" r="0.6"/><circle cx="83.0" cy="99.8" r="0.6"/><circle cx="84.9" cy="101.0" r="0.6"/><circle cx="85.1" cy="105.7" r="0.6"/><circle cx="83.7" cy="104.0" r="0.6"/><circle cx="86.0" cy="108.8" r="0.6"/><circle cx="83.9" cy="109.2" r="0.6"/><circle cx="84.8" cy="112.2" r="0.6"/><circle cx="85.9" cy="110.3" r="0.6"/><circle cx="88.4" cy="1.3" r="0.6"/><circle cx="90.5" cy="0.7" r="0.6"/><circle cx="86.3" cy="6.1" r="0.6"/><circle cx="88.3" cy="5.2" r="0.6"/><circle cx="90.3" cy="11.3" r="0.6"/><circle cx="88.1" cy="11.6" r="0.6"/><circle cx="88.2" cy="14.8" r="0.6"/><circle cx="87.4" cy="12.7" r="0.6"/><circle cx="89.0" cy="15.8" r="0.6"/><circle cx="88.6" cy="18.0" r="0.6"/><circle cx="90.3" cy="20.7" r="0.6"/><circle cx="89.1" cy="22.5" r="0.6"/><circle cx="88.4" cy="23.9" r="0.6"/><circle cx="90.6" cy="23.7" r="0.6"/><circle cx="91.4" cy="28.1" r="0.6"/><circle cx="90.5" cy="30.1" r="0.6"/><circle cx="87.6" cy="31.5" r="0.6"/><circle cx="89.4" cy="30.3" r="0.6"/><circle cx="89.1" cy="35.7" r="0.6"/><circle cx="87.5" cy="37.1" r="0.6"/><circle cx="87.3" cy="38.1" r="0.6"/><circle cx="89.1" cy="39.2" r="0.6"/><circle cx="89.0" cy="44.9" r="0.6"/><circle cx="89.6" cy="42.8" r="0.6"/><circle cx="86.7" cy="47.2" r="0.6"/><circle cx="88.9" cy="47.2" r="0.6"/><circle cx="90.7" cy="49.3" r="0.6"/><circle cx="89.3" cy="51.0" r="0.6"/><circle cx="87.1" cy="56.1" r="0.6"/><circle cx="86.0" cy="54.2" r="0.6"/><circle cx="88.0" cy="61.1" r="0.6"/><circle cx="87.0" cy="59.1" r="0.6"/><circle cx="87.8" cy="59.8" r="0.6"/><circle cx="88.5" cy="61.9" r="0.6"/><circle cx="90.8" cy="66.3" r="0.6"/><circle cx="88.7" cy="66.0" r="0.6"/><circle cx="88.1" cy="69.3" r="0.6"/><circle cx="90.3" cy="68.8" r="0.6"/><circle cx="88.2" cy="75.9" r="0.6"/><circle cx="88.1" cy="73.8" r="0.6"/><circle cx="89.9" cy="79.7" r="0.6"/><circle cx="87.7" cy="79.8" r="0.6"/><circle cx="87.1" cy="81.0" r="0.6"/><circle cx="88.2" cy="79.1" r="0.6"/><circle cx="88.3" cy="84.3" r="0.6"/><circle cx="89.7" cy="82.6" r="0.6"/><circle cx="89.1" cy="87.1" r="0.6"/><circle cx="91.3" cy="86.9" r="0.6"/><circle cx="88.7" cy="93.2" r="0.6"/><circle cx="90.8" cy="92.6" r="0.6"/><circle cx="88.1" cy="98.8" r="0.6"/><circle cx="89.1" cy="96.8" r="0.6"/><circle cx="88.1" cy="99.2" r="0.6"/><circle cx="89.7" cy="97.7" r="0.6"/><circle cx="88.6" cy="104.2" r="0.6"/><circle cx="89.5" cy="102.2" r="0.6"/><circle cx="88.5" cy="108.0" r="0.6"/><circle cx="90.6" cy="108.5" r="0.6"/><circle cx="90.4" cy="113.9" r="0.6"/><circle cx="88.3" cy="113.1" r="0.6"/><circle cx="94.1" cy="2.1" r="0.6"/><circle cx="94.3" cy="4.3" r="0.6"/><circle cx="92.3" cy="6.2" r="0.6"/><circle cx="94.3" cy="5.2" r="0.6"/><circle cx="92.4" cy="9.2" r="0.6"/><circle cx="94.3" cy="8.2" r="0.6"/><circle cx="92.3" cy="14.1" r="0.6"/><circle cx="94.4" cy="13.3" r="0.6"/><circle cx="93.6" cy="15.6" r="0.6"/><circle cx="94.6" cy="17.5" r="0.6"/><circle cx="92.9" cy="21.0" r="0.6"/><circle cx="93.8" cy="23.0" r="0.6"/><circle cx="93.6" cy="25.3" r="0.6"/><circle cx="91.9" cy="26.6" r="0.6"/><circle cx="91.7" cy="28.3" r="0.6"/><circle cx="93.8" cy="29.0" r="0.6"/><circle cx="94.3" cy="30.6" r="0.6"/><circle cx="92.6" cy="32.1" r="0.6"/><circle cx="93.1" cy="35.2" r="0.6"/><circle cx="91.0" cy="35.6" r="0.6"/><circle cx="93.3" cy="42.1" r="0.6"/><circle cx="92.1" cy="40.2" r="0.6"/><circle cx="92.7" cy="44.0" r="0.6"/><circle cx="92.9" cy="41.8" r="0.6"/><circle cx="92.7" cy="46.1" r="0.6"/><circle cx="93.1" cy="48.2" r="0.6"/><circle cx="94.9" cy="52.1" r="0.6"/><circle cx="93.1" cy="53.3" r="0.6"/><circle cx="94.1" cy="56.6" r="0.6"/><circle cx="92.0" cy="55.9" r="0.6"/><circle cx="93.0" cy="57.3" r="0.6"/><circle cx="94.5" cy="58.9" r="0.6"/><circle cx="92.7" cy="59.9" r="0.6"/><circle cx="93.9" cy="61.8" r="0.6"/><circle cx="93.9" cy="65.2" r="0.6"/><circle cx="92.7" cy="67.0" r="0.6"/><circle cx="92.2" cy="71.3" r="0.6"/><circle cx="94.2" cy="70.3" r="0.6"/><circle cx="92.0" cy="74.3" r="0.6"/><circle cx="93.6" cy="72.8" r="0.6"/><circle cx="92.5" cy="77.1" r="0.6"/><circle cx="92.5" cy="79.3" r="0.6"/><circle cx="92.6" cy="81.5" r="0.6"/><circle cx="94.0" cy="83.3" r="0.6"/><circle cx="94.8" cy="83.4" r="0.6"/><circle cx="93.9" cy="85.4" r="0.6"/><circle cx="92.1" cy="88.6" r="0.6"/><circle cx="94.3" cy="88.4" r="0.6"/><circle cx="93.6" cy="92.9" r="0.6"/><circle cx="92.8" cy="90.9" r="0.6"/><circle cx="92.1" cy="94.4" r="0.6"/><circle cx="93.9" cy="95.7" r="0.6"/><circle cx="90.9" cy="99.4" r="0.6"/><circle cx="93.1" cy="99.3" r="0.6"/><circle cx="94.1" cy="101.8" r="0.6"/><circle cx="94.8" cy="103.9" r="0.6"/><circle cx="94.1" cy="105.8" r="0.6"/><circle cx="95.2" cy="107.7" r="0.6"/><circle cx="90.9" cy="113.0" r="0.6"/><circle cx="91.8" cy="111.0" r="0.6"/><circle cx="95.6" cy="-0.2" r="0.6"/><circle cx="97.1" cy="1.5" r="0.6"/><circle cx="96.5" cy="4.4" r="0.6"/><circle cx="98.4" cy="3.4" r="0.6"/><circle cx="93.9" cy="10.3" r="0.6"/><circle cx="94.6" cy="8.2" r="0.6"/><circle cx="96.3" cy="12.2" r="0.6"/><circle cx="96.0" cy="14.4" r="0.6"/><circle cx="97.4" cy="15.5" r="0.6"/><circle cx="95.8" cy="17.0" r="0.6"/><circle cx="96.4" cy="19.2" r="0.6"/><circle cx="97.5" cy="21.1" r="0.6"/><circle cx="98.5" cy="23.0" r="0.6"/><circle cx="97.0" cy="24.6" r="0.6"/><circle cx="96.7" cy="30.2" r="0.6"/><circle cx="94.9" cy="29.0" r="0.6"/><circle cx="95.6" cy="33.7" r="0.6"/><circle cx="96.9" cy="32.0" r="0.6"/><circle cx="95.8" cy="34.3" r="0.6"/><circle cx="97.0" cy="36.1" r="0.6"/><circle cx="97.9" cy="40.7" r="0.6"/><circle cx="95.7" cy="40.3" r="0.6"/><circle cx="97.6" cy="44.1" r="0.6"/><circle cx="95.4" cy="44.7" r="0.6"/><circle cx="95.7" cy="46.6" r="0.6"/><circle cx="97.6" cy="45.5" r="0.6"/><circle cx="96.4" cy="50.5" r="0.6"/><circle cx="98.6" cy="50.6" r="0.6"/><circle cx="97.6" cy="56.6" r="0.6"/><circle cx="95.6" cy="57.5" r="0.6"/><circle cx="96.3" cy="60.2" r="0.6"/><circle cx="96.5" cy="58.0" r="0.6"/><circle cx="94.7" cy="64.7" r="0.6"/><circle cx="95.7" cy="62.7" r="0.6"/><circle cx="97.6" cy="66.8" r="0.6"/><circle cx="95.5" cy="66.1" r="0.6"/><circle cx="97.4" cy="68.0" r="0.6"/><circle cx="98.2" cy="70.0" r="0.6"/><circle cx="94.2" cy="73.2" r="0.6"/><circle cx="95.2" cy="71.2" r="0.6"/><circle cx="95.3" cy="76.4" r="0.6"/><circle cx="96.5" cy="78.2" r="0.6"/><circle cx="94.7" cy="80.5" r="0.6"/><circle cx="95.8" cy="78.6" r="0.6"/><circle cx="97.3" cy="87.4" r="0.6"/><circle cx="95.5" cy="86.1" r="0.6"/><circle cx="96.8" cy="91.0" r="0.6"/><circle cx="94.7" cy="90.2" r="0.6"/><circle cx="94.0" cy="92.5" r="0.6"/><circle cx="96.1" cy="93.1" r="0.6"/><circle cx="96.4" cy="98.4" r="0.6"/><circle cx="97.5" cy="96.5" r="0.6"/><circle cx="96.3" cy="101.8" r="0.6"/><circle cx="97.4" cy="99.9" r="0.6"/><circle cx="95.9" cy="104.2" r="0.6"/><circle cx="96.5" cy="106.3" r="0.6"/><circle cx="96.7" cy="107.9" r="0.6"/><circle cx="97.3" cy="105.8" r="0.6"/><circle cx="98.2" cy="112.8" r="0.6"/><circle cx="96.3" cy="111.7" r="0.6"/><circle cx="100.0" cy="3.2" r="0.6"/><circle cx="98.2" cy="1.9" r="0.6"/><circle cx="99.8" cy="8.5" r="0.6"/><circle cx="98.5" cy="6.7" r="0.6"/><circle cx="98.3" cy="9.6" r="0.6"/><circle cx="98.7" cy="7.4" r="0.6"/><circle cx="100.7" cy="14.3" r="0.6"/><circle cx="100.0" cy="12.2" r="0.6"/><circle cx="101.1" cy="16.3" r="0.6"/><circle cx="102.6" cy="17.9" r="0.6"/><circle cx="100.7" cy="21.4" r="0.6"/><circle cx="99.9" cy="23.5" r="0.6"/><circle cx="99.9" cy="25.1" r="0.6"/><circle cx="101.1" cy="23.3" r="0.6"/><circle cx="99.9" cy="27.7" r="0.6"/><circle cx="101.0" cy="29.6" r="0.6"/><circle cx="99.9" cy="30.9" r="0.6"/><circle cx="98.3" cy="32.3" r="0.6"/><circle cx="100.4" cy="36.9" r="0.6"/><circle cx="99.3" cy="38.7" r="0.6"/><circle cx="100.0" cy="38.6" r="0.6"/><circle cx="102.1" cy="37.8" r="0.6"/><circle cx="98.9" cy="43.6" r="0.6"/><circle cx="98.3" cy="41.4" r="0.6"/><circle cx="100.4" cy="47.7" r="0.6"/><circle cx="98.8" cy="49.3" r="0.6"/><circle cx="101.1" cy="53.0" r="0.6"/><circle cx="99.1" cy="53.8" r="0.6"/><circle cx="99.8" cy="53.7" r="0.6"/><circle cx="101.7" cy="52.7" r="0.6"/><circle cx="100.4" cy="59.7" r="0.6"/><circle cx="98.4" cy="59.0" r="0.6"/><circle cx="100.5" cy="60.5" r="0.6"/><circle cx="102.1" cy="62.0" r="0.6"/><circle cx="99.1" cy="66.8" r="0.6"/><circle cx="100.5" cy="65.1" r="0.6"/><circle cx="101.0" cy="68.4" r="0.6"/><circle cx="102.9" cy="69.4" r="0.6"/><circle cx="98.5" cy="73.0" r="0.6"/><circle cx="100.7" cy="72.8" r="0.6"/><circle cx="99.5" cy="76.3" r="0.6"/><circle cx="101.7" cy="76.7" r="0.6"/><circle cx="102.7" cy="81.6" r="0.6"/><circle cx="100.6" cy="82.3" r="0.6"/><circle cx="98.0" cy="84.0" r="0.6"/><circle cx="100.1" cy="84.7" r="0.6"/><circle cx="99.9" cy="86.6" r="0.6"/><circle cx="99.7" cy="88.8" r="0.6"/><circle cx="99.1" cy="90.5" r="0.6"/><circle cx="101.2" cy="91.3" r="0.6"/><circle cx="98.8" cy="96.6" r="0.6"/><circle cx="99.8" cy="98.6" r="0.6"/><circle cx="99.6" cy="102.4" r="0.6"/><circle cx="99.8" cy="100.2" r="0.6"/><circle cx="97.8" cy="103.9" r="0.6"/><circle cx="100.0" cy="104.1" r="0.6"/><circle cx="101.5" cy="109.1" r="0.6"/><circle cx="99.8" cy="110.5" r="0.6"/><circle cx="102.2" cy="110.9" r="0.6"/><circle cx="100.2" cy="111.9" r="0.6"/><circle cx="101.4" cy="3.1" r="0.6"/><circle cx="103.1" cy="1.7" r="0.6"/><circle cx="104.0" cy="6.1" r="0.6"/><circle cx="104.8" cy="4.0" r="0.6"/><circle cx="104.1" cy="11.9" r="0.6"/><circle cx="103.6" cy="9.8" r="0.6"/><circle cx="105.8" cy="14.7" r="0.6"/><circle cx="103.7" cy="14.0" r="0.6"/><circle cx="104.4" cy="17.2" r="0.6"/><circle cx="104.5" cy="19.4" r="0.6"/><circle cx="102.8" cy="22.8" r="0.6"/><circle cx="101.3" cy="21.2" r="0.6"/><circle cx="102.6" cy="22.2" r="0.6"/><circle cx="104.6" cy="23.2" r="0.6"/><circle cx="106.3" cy="27.8" r="0.6"/><circle cx="105.1" cy="29.6" r="0.6"/><circle cx="101.1" cy="33.0" r="0.6"/><circle cx="102.4" cy="31.3" r="0.6"/><circle cx="103.8" cy="36.9" r="0.6"/><circle cx="105.9" cy="36.4" r="0.6"/><circle cx="101.2" cy="40.3" r="0.6"/><circle cx="103.1" cy="39.2" r="0.6"/><circle cx="105.3" cy="42.8" r="0.6"/><circle cx="103.7" cy="44.4" r="0.6"/><circle cx="104.2" cy="48.3" r="0.6"/><circle cx="102.1" cy="49.1" r="0.6"/><circle cx="105.1" cy="51.5" r="0.6"/><circle cx="103.8" cy="49.8" r="0.6"/><circle cx="103.2" cy="57.2" r="0.6"/><circle cx="101.8" cy="55.5" r="0.6"/><circle cx="103.5" cy="59.5" r="0.6"/><circle cx="102.2" cy="57.8" r="0.6"/><circle cx="104.5" cy="62.3" r="0.6"/><circle cx="102.6" cy="63.3" r="0.6"/><circle cx="104.5" cy="66.5" r="0.6"/><circle cx="106.4" cy="67.5" r="0.6"/><circle cx="102.6" cy="71.1" r="0.6"/><circle cx="104.5" cy="70.0" r="0.6"/><circle cx="103.6" cy="72.1" r="0.6"/><circle cx="103.3" cy="74.3" r="0.6"/><circle cx="103.8" cy="77.5" r="0.6"/><circle cx="102.1" cy="78.9" r="0.6"/><circle cx="103.9" cy="81.4" r="0.6"/><circle cx="102.2" cy="80.1" r="0.6"/><circle cx="104.0" cy="87.5" r="0.6"/><circle cx="102.0" cy="86.6" r="0.6"/><circle cx="101.8" cy="89.3" r="0.6"/><circle cx="102.4" cy="87.2" r="0.6"/><circle cx="102.4" cy="92.8" r="0.6"/><circle cx="104.1" cy="91.4" r="0.6"/><circle cx="102.0" cy="99.0" r="0.6"/><circle cx="101.4" cy="96.9" r="0.6"/><circle cx="106.1" cy="100.6" r="0.6"/><circle cx="105.2" cy="102.6" r="0.6"/><circle cx="106.3" cy="103.0" r="0.6"/><circle cx="105.9" cy="105.2" r="0.6"/><circle cx="103.4" cy="109.6" r="0.6"/><circle cx="105.1" cy="108.1" r="0.6"/><circle cx="104.4" cy="111.7" r="0.6"/><circle cx="106.5" cy="112.3" r="0.6"/><circle cx="109.9" cy="-0.2" r="0.6"/><circle cx="109.4" cy="1.9" r="0.6"/><circle cx="106.4" cy="3.9" r="0.6"/><circle cx="107.8" cy="5.5" r="0.6"/><circle cx="109.1" cy="10.2" r="0.6"/><circle cx="106.9" cy="10.1" r="0.6"/><circle cx="105.2" cy="12.5" r="0.6"/><circle cx="107.4" cy="12.8" r="0.6"/><circle cx="105.1" cy="18.5" r="0.6"/><circle cx="106.4" cy="16.7" r="0.6"/><circle cx="109.9" cy="22.2" r="0.6"/><circle cx="108.0" cy="23.3" r="0.6"/><circle cx="106.1" cy="23.9" r="0.6"/><circle cx="108.3" cy="23.7" r="0.6"/><circle cx="107.7" cy="28.5" r="0.6"/><circle cx="107.6" cy="26.3" r="0.6"/><circle cx="108.6" cy="32.6" r="0.6"/><circle cx="108.7" cy="34.7" r="0.6"/><circle cx="104.8" cy="37.5" r="0.6"/><circle cx="106.4" cy="36.1" r="0.6"/><circle cx="109.2" cy="41.3" r="0.6"/><circle cx="107.4" cy="40.0" r="0.6"/><circle cx="110.1" cy="44.1" r="0.6"/><circle cx="107.9" cy="44.1" r="0.6"/><circle cx="107.7" cy="48.1" r="0.6"/><circle cx="105.8" cy="49.1" r="0.6"/><circle cx="109.3" cy="50.9" r="0.6"/><circle cx="107.1" cy="50.9" r="0.6"/><circle cx="106.3" cy="55.0" r="0.6"/><circle cx="107.1" cy="53.0" r="0.6"/><circle cx="105.5" cy="59.4" r="0.6"/><circle cx="107.6" cy="59.1" r="0.6"/><circle cx="108.5" cy="62.7" r="0.6"/><circle cx="109.1" cy="64.8" r="0.6"/><circle cx="107.8" cy="64.5" r="0.6"/><circle cx="110.0" cy="64.0" r="0.6"/><circle cx="108.7" cy="70.0" r="0.6"/><circle cx="109.2" cy="72.1" r="0.6"/><circle cx="110.0" cy="72.0" r="0.6"/><circle cx="109.4" cy="74.1" r="0.6"/><circle cx="106.9" cy="77.8" r="0.6"/><circle cx="104.9" cy="76.8" r="0.6"/><circle cx="110.3" cy="82.4" r="0.6"/><circle cx="108.9" cy="84.1" r="0.6"/><circle cx="109.1" cy="88.0" r="0.6"/><circle cx="107.5" cy="86.5" r="0.6"/><circle cx="107.8" cy="88.7" r="0.6"/><circle cx="110.0" cy="88.9" r="0.6"/><circle cx="107.2" cy="95.1" r="0.6"/><circle cx="107.5" cy="92.9" r="0.6"/><circle cx="107.6" cy="94.8" r="0.6"/><circle cx="109.4" cy="96.0" r="0.6"/><circle cx="107.0" cy="99.3" r="0.6"/><circle cx="107.7" cy="101.4" r="0.6"/><circle cx="108.1" cy="104.7" r="0.6"/><circle cx="108.4" cy="102.5" r="0.6"/><circle cx="109.9" cy="109.4" r="0.6"/><circle cx="107.9" cy="110.2" r="0.6"/><circle cx="107.6" cy="111.9" r="0.6"/><circle cx="109.7" cy="111.4" r="0.6"/><circle cx="111.9" cy="0.7" r="0.6"/><circle cx="112.3" cy="2.8" r="0.6"/><circle cx="110.4" cy="7.8" r="0.6"/><circle cx="110.0" cy="5.6" r="0.6"/><circle cx="110.4" cy="8.8" r="0.6"/><circle cx="111.4" cy="6.8" r="0.6"/><circle cx="110.9" cy="15.9" r="0.6"/><circle cx="109.7" cy="14.1" r="0.6"/><circle cx="112.5" cy="18.7" r="0.6"/><circle cx="110.5" cy="19.7" r="0.6"/><circle cx="110.4" cy="19.3" r="0.6"/><circle cx="112.6" cy="19.5" r="0.6"/><circle cx="111.9" cy="23.6" r="0.6"/><circle cx="110.1" cy="24.8" r="0.6"/><circle cx="109.5" cy="29.9" r="0.6"/><circle cx="111.1" cy="28.3" r="0.6"/><circle cx="112.6" cy="32.5" r="0.6"/><circle cx="110.7" cy="33.5" r="0.6"/><circle cx="110.5" cy="35.9" r="0.6"/><circle cx="110.9" cy="33.7" r="0.6"/><circle cx="112.4" cy="39.8" r="0.6"/><circle cx="113.9" cy="41.4" r="0.6"/><circle cx="112.7" cy="44.9" r="0.6"/><circle cx="110.5" cy="45.1" r="0.6"/><circle cx="112.3" cy="46.3" r="0.6"/><circle cx="113.7" cy="48.0" r="0.6"/><circle cx="110.2" cy="50.2" r="0.6"/><circle cx="112.0" cy="49.0" r="0.6"/><circle cx="112.6" cy="54.8" r="0.6"/><circle cx="110.5" cy="54.5" r="0.6"/><circle cx="109.9" cy="59.1" r="0.6"/><circle cx="112.1" cy="59.0" r="0.6"/><circle cx="113.1" cy="60.1" r="0.6"/><circle cx="112.6" cy="62.3" r="0.6"/><circle cx="113.0" cy="67.1" r="0.6"/><circle cx="110.8" cy="66.9" r="0.6"/><circle cx="111.8" cy="70.1" r="0.6"/><circle cx="112.0" cy="67.9" r="0.6"/><circle cx="113.2" cy="75.1" r="0.6"/><circle cx="111.4" cy="76.4" r="0.6"/><circle cx="110.1" cy="77.6" r="0.6"/><circle cx="111.3" cy="75.7" r="0.6"/><circle cx="109.2" cy="80.2" r="0.6"/><circle cx="111.3" cy="79.9" r="0.6"/><circle cx="109.2" cy="85.3" r="0.6"/><circle cx="111.0" cy="84.0" r="0.6"/><circle cx="112.0" cy="87.3" r="0.6"/><circle cx="111.8" cy="89.5" r="0.6"/><circle cx="109.8" cy="90.4" r="0.6"/><circle cx="111.6" cy="91.8" r="0.6"/><circle cx="111.2" cy="96.2" r="0.6"/><circle cx="109.0" cy="95.9" r="0.6"/><circle cx="111.6" cy="102.2" r="0.6"/><circle cx="109.6" cy="101.4" r="0.6"/><circle cx="113.9" cy="105.3" r="0.6"/><circle cx="111.8" cy="105.7" r="0.6"/><circle cx="113.1" cy="107.5" r="0.6"/><circle cx="112.6" cy="109.7" r="0.6"/><circle cx="110.8" cy="110.1" r="0.6"/><circle cx="111.0" cy="112.3" r="0.6"/></g>
<g fill="#d42a2a"><circle cx="3.2" cy="20.2" r="0.82"/><circle cx="1.0" cy="25.8" r="0.76"/><circle cx="2.1" cy="40.5" r="0.97"/><circle cx="0.6" cy="46.7" r="0.84"/><circle cx="1.2" cy="100.3" r="0.98"/><circle cx="6.2" cy="25.1" r="0.93"/><circle cx="6.2" cy="51.2" r="0.79"/><circle cx="5.0" cy="59.3" r="0.82"/><circle cx="4.4" cy="77.2" r="0.95"/><circle cx="6.4" cy="98.0" r="0.82"/><circle cx="5.0" cy="105.2" r="0.95"/><circle cx="9.5" cy="6.3" r="0.81"/><circle cx="8.9" cy="44.2" r="0.77"/><circle cx="8.2" cy="47.8" r="0.78"/><circle cx="10.5" cy="53.8" r="0.90"/><circle cx="9.3" cy="57.8" r="0.79"/><circle cx="12.6" cy="17.3" r="0.84"/><circle cx="13.8" cy="20.8" r="0.90"/><circle cx="13.8" cy="28.4" r="0.83"/><circle cx="12.1" cy="36.8" r="0.92"/><circle cx="14.3" cy="44.4" r="0.82"/><circle cx="13.4" cy="88.0" r="0.85"/><circle cx="13.3" cy="97.6" r="0.96"/><circle cx="18.0" cy="2.3" r="0.80"/><circle cx="15.9" cy="78.5" r="0.96"/><circle cx="17.5" cy="85.3" r="0.79"/><circle cx="18.4" cy="105.0" r="0.81"/><circle cx="20.6" cy="58.6" r="1.04"/><circle cx="23.3" cy="25.7" r="0.75"/><circle cx="24.3" cy="37.0" r="1.01"/><circle cx="26.0" cy="40.5" r="0.88"/><circle cx="23.1" cy="65.7" r="0.95"/><circle cx="23.1" cy="102.8" r="0.90"/><circle cx="27.6" cy="29.0" r="0.79"/><circle cx="27.2" cy="32.1" r="0.99"/><circle cx="26.9" cy="52.3" r="0.93"/><circle cx="29.0" cy="57.3" r="0.94"/><circle cx="28.3" cy="69.0" r="0.78"/><circle cx="27.8" cy="82.4" r="0.93"/><circle cx="26.9" cy="104.3" r="0.76"/><circle cx="31.6" cy="1.9" r="0.95"/><circle cx="32.3" cy="8.6" r="0.88"/><circle cx="32.2" cy="14.3" r="0.91"/><circle cx="31.4" cy="32.1" r="0.98"/><circle cx="32.9" cy="59.4" r="0.79"/><circle cx="31.3" cy="70.5" r="0.95"/><circle cx="32.2" cy="106.7" r="0.91"/><circle cx="34.6" cy="2.3" r="0.82"/><circle cx="36.8" cy="5.5" r="0.78"/><circle cx="37.3" cy="10.2" r="0.95"/><circle cx="36.3" cy="40.6" r="0.97"/><circle cx="35.5" cy="46.6" r="0.78"/><circle cx="35.0" cy="52.3" r="1.00"/><circle cx="35.8" cy="79.1" r="0.98"/><circle cx="35.4" cy="93.1" r="0.90"/><circle cx="35.1" cy="108.5" r="0.94"/><circle cx="40.0" cy="51.9" r="0.91"/><circle cx="38.3" cy="53.7" r="0.79"/><circle cx="39.0" cy="77.6" r="0.89"/><circle cx="40.6" cy="85.8" r="0.85"/><circle cx="39.8" cy="95.1" r="1.05"/><circle cx="39.4" cy="108.7" r="1.03"/><circle cx="39.7" cy="110.8" r="0.93"/><circle cx="42.4" cy="25.2" r="1.01"/><circle cx="42.3" cy="33.4" r="1.02"/><circle cx="42.5" cy="51.8" r="0.87"/><circle cx="42.1" cy="86.0" r="0.85"/><circle cx="42.9" cy="107.7" r="0.92"/><circle cx="47.1" cy="66.7" r="0.99"/><circle cx="45.8" cy="78.0" r="0.90"/><circle cx="46.8" cy="83.9" r="0.98"/><circle cx="48.5" cy="104.7" r="0.94"/><circle cx="51.4" cy="0.9" r="1.04"/><circle cx="52.3" cy="28.0" r="0.98"/><circle cx="50.7" cy="41.2" r="0.91"/><circle cx="50.8" cy="88.5" r="0.88"/><circle cx="52.1" cy="99.1" r="0.82"/><circle cx="51.7" cy="105.7" r="0.88"/><circle cx="54.5" cy="42.2" r="1.03"/><circle cx="53.5" cy="55.0" r="0.83"/><circle cx="53.6" cy="57.5" r="0.93"/><circle cx="55.0" cy="61.6" r="0.75"/><circle cx="55.1" cy="72.8" r="0.95"/><circle cx="54.1" cy="100.3" r="0.82"/><circle cx="58.8" cy="17.4" r="0.99"/><circle cx="58.3" cy="29.1" r="0.85"/><circle cx="59.1" cy="54.1" r="0.90"/><circle cx="57.9" cy="72.7" r="0.77"/><circle cx="59.5" cy="76.5" r="1.01"/><circle cx="59.6" cy="97.2" r="0.82"/><circle cx="61.3" cy="9.2" r="1.03"/><circle cx="63.1" cy="75.2" r="0.83"/><circle cx="67.5" cy="12.8" r="0.80"/><circle cx="67.4" cy="27.6" r="0.86"/><circle cx="65.1" cy="49.7" r="0.96"/><circle cx="66.6" cy="57.7" r="0.83"/><circle cx="67.2" cy="78.0" r="1.01"/><circle cx="66.2" cy="91.9" r="0.96"/><circle cx="69.8" cy="15.6" r="0.78"/><circle cx="71.2" cy="22.0" r="0.87"/><circle cx="68.4" cy="52.6" r="0.84"/><circle cx="70.4" cy="78.3" r="0.87"/><circle cx="70.3" cy="108.1" r="0.96"/><circle cx="73.8" cy="9.5" r="0.86"/><circle cx="74.1" cy="58.6" r="0.80"/><circle cx="74.6" cy="79.0" r="0.98"/><circle cx="72.8" cy="102.8" r="0.88"/><circle cx="78.9" cy="12.8" r="0.83"/><circle cx="77.0" cy="22.0" r="0.82"/><circle cx="78.1" cy="39.1" r="0.75"/><circle cx="78.0" cy="43.7" r="0.97"/><circle cx="77.0" cy="63.8" r="0.82"/><circle cx="76.3" cy="66.9" r="0.88"/><circle cx="78.3" cy="100.3" r="0.80"/><circle cx="82.6" cy="10.9" r="1.03"/><circle cx="81.6" cy="23.2" r="0.84"/><circle cx="81.2" cy="111.5" r="0.81"/><circle cx="83.7" cy="78.1" r="0.96"/><circle cx="84.4" cy="80.8" r="0.76"/><circle cx="86.4" cy="85.4" r="0.81"/><circle cx="87.7" cy="6.4" r="0.94"/><circle cx="89.1" cy="10.7" r="1.02"/><circle cx="89.6" cy="24.6" r="1.04"/><circle cx="90.3" cy="28.8" r="0.95"/><circle cx="87.8" cy="39.4" r="0.78"/><circle cx="87.8" cy="48.0" r="0.82"/><circle cx="87.3" cy="54.7" r="0.99"/><circle cx="89.9" cy="65.4" r="0.91"/><circle cx="89.4" cy="69.8" r="0.79"/><circle cx="89.6" cy="83.9" r="1.03"/><circle cx="97.2" cy="23.2" r="0.84"/><circle cx="95.8" cy="35.6" r="0.97"/><circle cx="95.9" cy="64.0" r="0.92"/><circle cx="96.8" cy="65.7" r="0.77"/><circle cx="95.4" cy="72.6" r="0.77"/><circle cx="95.9" cy="80.0" r="0.95"/><circle cx="99.6" cy="1.9" r="0.87"/><circle cx="101.1" cy="13.1" r="0.75"/><circle cx="99.2" cy="37.4" r="1.02"/><circle cx="101.3" cy="38.9" r="0.86"/><circle cx="98.9" cy="104.7" r="0.94"/><circle cx="100.1" cy="109.2" r="0.97"/><circle cx="105.1" cy="5.3" r="0.80"/><circle cx="102.7" cy="73.1" r="0.84"/><circle cx="108.0" cy="9.4" r="1.04"/><circle cx="107.3" cy="24.6" r="0.97"/><circle cx="108.4" cy="27.4" r="0.81"/><circle cx="109.0" cy="43.3" r="0.94"/><circle cx="111.4" cy="34.9" r="1.01"/><circle cx="112.1" cy="61.0" r="0.82"/><circle cx="112.7" cy="69.0" r="0.90"/><circle cx="110.2" cy="91.7" r="1.01"/><circle cx="110.9" cy="101.1" r="1.04"/></g>
<g fill="#e04848"><circle cx="2.1" cy="10.1" r="1.04"/><circle cx="2.7" cy="55.5" r="0.86"/><circle cx="1.2" cy="67.1" r="0.85"/><circle cx="1.1" cy="104.3" r="0.83"/><circle cx="5.8" cy="9.5" r="0.82"/><circle cx="6.8" cy="17.1" r="0.80"/><circle cx="5.3" cy="29.1" r="0.75"/><circle cx="6.4" cy="88.0" r="0.86"/><circle cx="4.2" cy="113.1" r="0.79"/><circle cx="10.5" cy="8.9" r="0.90"/><circle cx="8.1" cy="14.4" r="0.77"/><circle cx="8.6" cy="31.1" r="0.91"/><circle cx="10.7" cy="63.9" r="0.78"/><circle cx="10.5" cy="69.7" r="0.95"/><circle cx="9.4" cy="86.5" r="0.87"/><circle cx="8.5" cy="99.5" r="1.03"/><circle cx="11.8" cy="8.3" r="1.05"/><circle cx="14.7" cy="14.6" r="0.90"/><circle cx="13.1" cy="80.4" r="0.81"/><circle cx="11.9" cy="101.9" r="0.76"/><circle cx="11.7" cy="112.7" r="0.76"/><circle cx="16.9" cy="4.7" r="0.85"/><circle cx="16.6" cy="10.5" r="0.84"/><circle cx="16.0" cy="31.7" r="1.01"/><circle cx="17.1" cy="68.7" r="0.88"/><circle cx="21.0" cy="8.8" r="0.96"/><circle cx="22.0" cy="34.9" r="1.01"/><circle cx="21.0" cy="44.3" r="0.99"/><circle cx="21.5" cy="48.3" r="0.76"/><circle cx="19.6" cy="69.1" r="1.00"/><circle cx="21.3" cy="97.7" r="0.85"/><circle cx="20.5" cy="106.9" r="0.82"/><circle cx="23.8" cy="8.2" r="0.93"/><circle cx="23.3" cy="51.1" r="0.83"/><circle cx="23.7" cy="82.0" r="0.82"/><circle cx="25.4" cy="96.3" r="0.77"/><circle cx="25.5" cy="100.3" r="0.83"/><circle cx="27.3" cy="13.8" r="0.94"/><circle cx="29.0" cy="48.7" r="0.76"/><circle cx="27.5" cy="83.9" r="0.99"/><circle cx="32.1" cy="35.9" r="0.79"/><circle cx="33.6" cy="46.5" r="0.83"/><circle cx="31.0" cy="51.9" r="1.04"/><circle cx="32.9" cy="55.6" r="0.77"/><circle cx="30.8" cy="66.2" r="0.76"/><circle cx="31.1" cy="99.0" r="0.81"/><circle cx="35.0" cy="54.7" r="1.04"/><circle cx="38.9" cy="20.9" r="1.02"/><circle cx="38.4" cy="30.9" r="0.94"/><circle cx="40.8" cy="58.6" r="0.88"/><circle cx="40.4" cy="101.4" r="0.79"/><circle cx="42.5" cy="1.7" r="0.79"/><circle cx="44.6" cy="34.9" r="0.86"/><circle cx="42.3" cy="43.6" r="0.78"/><circle cx="42.5" cy="71.1" r="0.91"/><circle cx="44.4" cy="100.1" r="0.91"/><circle cx="42.7" cy="104.9" r="1.01"/><circle cx="51.7" cy="58.1" r="0.92"/><circle cx="52.0" cy="69.3" r="0.98"/><circle cx="54.4" cy="1.5" r="1.03"/><circle cx="55.2" cy="17.1" r="0.94"/><circle cx="56.1" cy="95.2" r="0.91"/><circle cx="54.3" cy="104.7" r="0.79"/><circle cx="58.5" cy="21.1" r="0.83"/><circle cx="59.3" cy="59.0" r="0.92"/><circle cx="58.5" cy="88.6" r="1.02"/><circle cx="61.8" cy="5.6" r="0.85"/><circle cx="63.8" cy="13.7" r="0.93"/><circle cx="62.0" cy="17.7" r="1.00"/><circle cx="65.9" cy="10.9" r="0.99"/><circle cx="65.3" cy="15.6" r="0.93"/><circle cx="65.3" cy="80.5" r="0.94"/><circle cx="66.1" cy="89.7" r="0.85"/><circle cx="66.2" cy="112.4" r="0.81"/><circle cx="68.5" cy="1.8" r="0.75"/><circle cx="70.1" cy="28.3" r="0.79"/><circle cx="70.2" cy="38.9" r="0.81"/><circle cx="68.5" cy="42.6" r="1.02"/><circle cx="69.1" cy="60.0" r="0.86"/><circle cx="70.4" cy="61.0" r="0.93"/><circle cx="70.9" cy="69.1" r="1.03"/><circle cx="68.4" cy="90.6" r="0.85"/><circle cx="71.0" cy="105.4" r="0.87"/><circle cx="73.0" cy="13.6" r="1.02"/><circle cx="72.2" cy="26.1" r="0.98"/><circle cx="73.5" cy="40.6" r="0.84"/><circle cx="74.9" cy="46.9" r="1.01"/><circle cx="74.5" cy="74.1" r="0.95"/><circle cx="75.0" cy="85.8" r="0.90"/><circle cx="72.9" cy="94.1" r="1.00"/><circle cx="74.7" cy="99.2" r="0.98"/><circle cx="78.6" cy="16.3" r="0.88"/><circle cx="77.0" cy="25.3" r="0.92"/><circle cx="77.4" cy="50.4" r="0.98"/><circle cx="76.1" cy="69.6" r="0.87"/><circle cx="78.2" cy="86.1" r="0.90"/><circle cx="76.0" cy="104.6" r="0.96"/><circle cx="77.2" cy="110.6" r="0.77"/><circle cx="80.0" cy="47.2" r="0.76"/><circle cx="80.1" cy="63.3" r="0.82"/><circle cx="81.7" cy="86.3" r="0.99"/><circle cx="82.7" cy="92.0" r="0.87"/><circle cx="84.0" cy="9.1" r="0.79"/><circle cx="83.7" cy="37.5" r="0.90"/><circle cx="85.0" cy="38.4" r="0.84"/><circle cx="84.0" cy="47.3" r="0.97"/><circle cx="85.0" cy="104.4" r="0.85"/><circle cx="84.8" cy="108.3" r="0.99"/><circle cx="88.0" cy="16.8" r="0.90"/><circle cx="89.0" cy="21.1" r="0.96"/><circle cx="88.9" cy="31.6" r="0.76"/><circle cx="87.4" cy="61.1" r="0.88"/><circle cx="88.9" cy="74.8" r="0.78"/><circle cx="89.3" cy="98.1" r="0.92"/><circle cx="89.4" cy="99.0" r="0.88"/><circle cx="93.4" cy="3.3" r="0.82"/><circle cx="93.7" cy="6.4" r="0.99"/><circle cx="91.9" cy="34.6" r="1.03"/><circle cx="93.6" cy="52.1" r="1.04"/><circle cx="93.6" cy="84.1" r="0.85"/><circle cx="97.0" cy="39.7" r="0.77"/><circle cx="96.3" cy="43.7" r="0.76"/><circle cx="97.2" cy="59.2" r="0.93"/><circle cx="95.2" cy="77.8" r="0.90"/><circle cx="96.9" cy="86.1" r="0.94"/><circle cx="96.1" cy="89.9" r="1.00"/><circle cx="99.3" cy="8.6" r="1.01"/><circle cx="99.7" cy="58.6" r="0.78"/><circle cx="100.4" cy="66.4" r="1.01"/><circle cx="100.5" cy="77.3" r="0.80"/><circle cx="101.5" cy="81.2" r="1.01"/><circle cx="100.8" cy="110.7" r="0.89"/><circle cx="102.7" cy="3.0" r="0.76"/><circle cx="105.0" cy="13.6" r="0.76"/><circle cx="103.6" cy="18.3" r="0.92"/><circle cx="102.9" cy="47.9" r="0.77"/><circle cx="103.5" cy="58.2" r="0.92"/><circle cx="108.9" cy="0.7" r="0.92"/><circle cx="107.9" cy="33.7" r="0.83"/><circle cx="108.8" cy="40.0" r="0.80"/><circle cx="106.3" cy="47.9" r="0.76"/><circle cx="108.3" cy="50.1" r="0.92"/><circle cx="109.0" cy="65.0" r="0.87"/><circle cx="109.0" cy="72.9" r="0.86"/><circle cx="108.1" cy="96.1" r="0.87"/><circle cx="108.6" cy="109.0" r="0.90"/><circle cx="111.1" cy="59.8" r="0.93"/><circle cx="111.9" cy="66.2" r="0.96"/><circle cx="111.4" cy="77.1" r="1.02"/><circle cx="110.3" cy="80.8" r="1.01"/></g>
<g fill="#e87070"><circle cx="2.4" cy="1.1" r="0.90"/><circle cx="1.5" cy="16.1" r="1.03"/><circle cx="0.5" cy="50.7" r="0.76"/><circle cx="2.4" cy="80.5" r="0.84"/><circle cx="1.9" cy="86.7" r="0.99"/><circle cx="1.9" cy="88.7" r="0.76"/><circle cx="4.5" cy="5.4" r="0.85"/><circle cx="5.8" cy="13.3" r="0.92"/><circle cx="5.1" cy="31.5" r="0.89"/><circle cx="4.5" cy="62.0" r="0.85"/><circle cx="6.9" cy="73.7" r="0.79"/><circle cx="5.9" cy="81.6" r="0.93"/><circle cx="10.5" cy="76.9" r="0.84"/><circle cx="8.2" cy="80.5" r="1.01"/><circle cx="9.0" cy="87.7" r="0.92"/><circle cx="10.5" cy="97.0" r="0.84"/><circle cx="13.2" cy="4.9" r="1.05"/><circle cx="14.0" cy="24.5" r="1.04"/><circle cx="14.2" cy="39.0" r="1.01"/><circle cx="13.9" cy="59.9" r="0.83"/><circle cx="14.3" cy="62.4" r="0.94"/><circle cx="13.4" cy="73.2" r="0.98"/><circle cx="12.8" cy="85.2" r="1.04"/><circle cx="14.0" cy="92.2" r="1.01"/><circle cx="12.4" cy="107.0" r="0.83"/><circle cx="16.7" cy="15.7" r="0.95"/><circle cx="17.4" cy="35.0" r="0.99"/><circle cx="16.9" cy="60.2" r="1.01"/><circle cx="17.0" cy="67.8" r="0.99"/><circle cx="15.9" cy="88.9" r="0.80"/><circle cx="18.3" cy="92.4" r="0.78"/><circle cx="19.3" cy="1.3" r="0.96"/><circle cx="19.7" cy="17.2" r="0.91"/><circle cx="19.6" cy="53.6" r="1.01"/><circle cx="25.2" cy="2.2" r="0.82"/><circle cx="23.4" cy="13.0" r="0.76"/><circle cx="23.3" cy="78.9" r="1.02"/><circle cx="25.8" cy="106.7" r="0.99"/><circle cx="28.2" cy="6.6" r="0.82"/><circle cx="29.1" cy="16.4" r="0.94"/><circle cx="27.8" cy="38.7" r="0.85"/><circle cx="28.3" cy="61.7" r="0.96"/><circle cx="27.5" cy="66.3" r="0.77"/><circle cx="28.8" cy="93.2" r="0.98"/><circle cx="31.6" cy="63.8" r="0.76"/><circle cx="32.3" cy="111.9" r="0.87"/><circle cx="36.6" cy="16.7" r="0.76"/><circle cx="36.0" cy="20.0" r="0.97"/><circle cx="36.6" cy="66.6" r="0.89"/><circle cx="34.8" cy="84.4" r="0.82"/><circle cx="36.4" cy="97.9" r="0.99"/><circle cx="36.8" cy="100.5" r="0.98"/><circle cx="40.6" cy="8.7" r="0.77"/><circle cx="40.1" cy="13.7" r="0.87"/><circle cx="39.7" cy="34.8" r="0.77"/><circle cx="38.3" cy="65.7" r="0.88"/><circle cx="42.4" cy="9.6" r="0.93"/><circle cx="44.2" cy="22.0" r="0.79"/><circle cx="44.5" cy="55.1" r="0.81"/><circle cx="43.0" cy="62.0" r="1.00"/><circle cx="44.5" cy="65.3" r="0.87"/><circle cx="43.1" cy="91.9" r="0.99"/><circle cx="47.3" cy="33.7" r="0.86"/><circle cx="48.1" cy="42.5" r="1.02"/><circle cx="46.4" cy="106.9" r="1.03"/><circle cx="51.6" cy="9.9" r="0.94"/><circle cx="50.3" cy="14.2" r="0.77"/><circle cx="51.8" cy="34.6" r="0.90"/><circle cx="52.1" cy="74.6" r="0.76"/><circle cx="49.6" cy="80.6" r="0.93"/><circle cx="55.5" cy="25.4" r="0.91"/><circle cx="55.7" cy="27.6" r="0.94"/><circle cx="54.2" cy="35.6" r="1.01"/><circle cx="55.9" cy="39.7" r="0.81"/><circle cx="54.4" cy="48.2" r="1.00"/><circle cx="55.0" cy="51.2" r="0.90"/><circle cx="54.5" cy="76.8" r="0.96"/><circle cx="53.9" cy="82.5" r="0.81"/><circle cx="55.6" cy="108.6" r="0.93"/><circle cx="58.9" cy="5.6" r="0.87"/><circle cx="59.1" cy="108.8" r="0.95"/><circle cx="63.5" cy="2.6" r="0.76"/><circle cx="61.9" cy="20.6" r="0.75"/><circle cx="61.9" cy="29.2" r="0.98"/><circle cx="63.8" cy="32.1" r="0.84"/><circle cx="62.3" cy="44.9" r="0.90"/><circle cx="63.6" cy="62.0" r="1.04"/><circle cx="61.0" cy="65.5" r="0.80"/><circle cx="63.5" cy="85.9" r="0.83"/><circle cx="63.4" cy="88.6" r="0.99"/><circle cx="62.9" cy="100.2" r="0.98"/><circle cx="64.8" cy="0.8" r="0.78"/><circle cx="65.4" cy="54.5" r="0.99"/><circle cx="67.2" cy="62.3" r="0.85"/><circle cx="65.6" cy="65.5" r="0.99"/><circle cx="68.4" cy="8.2" r="0.81"/><circle cx="71.2" cy="33.5" r="0.92"/><circle cx="69.1" cy="48.9" r="0.91"/><circle cx="68.7" cy="72.8" r="0.93"/><circle cx="70.3" cy="82.9" r="0.96"/><circle cx="70.4" cy="86.1" r="0.98"/><circle cx="69.0" cy="111.4" r="0.87"/><circle cx="72.8" cy="17.7" r="0.76"/><circle cx="72.3" cy="28.9" r="0.80"/><circle cx="72.2" cy="44.8" r="0.97"/><circle cx="74.4" cy="112.8" r="0.82"/><circle cx="78.7" cy="29.7" r="0.99"/><circle cx="78.2" cy="82.0" r="0.89"/><circle cx="78.5" cy="89.6" r="0.96"/><circle cx="82.7" cy="28.3" r="0.96"/><circle cx="81.2" cy="40.8" r="0.79"/><circle cx="81.1" cy="44.7" r="0.79"/><circle cx="80.8" cy="54.8" r="0.80"/><circle cx="81.6" cy="108.8" r="0.85"/><circle cx="84.9" cy="20.1" r="0.95"/><circle cx="84.8" cy="28.5" r="0.80"/><circle cx="86.1" cy="31.1" r="0.81"/><circle cx="86.1" cy="51.4" r="0.95"/><circle cx="86.1" cy="55.2" r="0.77"/><circle cx="83.6" cy="65.2" r="0.81"/><circle cx="83.5" cy="101.1" r="0.80"/><circle cx="86.0" cy="111.6" r="0.99"/><circle cx="89.6" cy="112.7" r="0.94"/><circle cx="93.2" cy="58.7" r="0.76"/><circle cx="92.7" cy="65.7" r="0.98"/><circle cx="92.0" cy="100.2" r="0.95"/><circle cx="92.1" cy="112.3" r="0.86"/><circle cx="96.0" cy="15.7" r="1.03"/><circle cx="94.8" cy="93.6" r="0.84"/><circle cx="97.6" cy="97.9" r="0.90"/><circle cx="97.5" cy="101.2" r="0.98"/><circle cx="95.4" cy="105.4" r="0.80"/><circle cx="97.8" cy="107.1" r="0.84"/><circle cx="101.3" cy="17.6" r="0.93"/><circle cx="99.4" cy="42.3" r="0.95"/><circle cx="100.8" cy="61.9" r="0.79"/><circle cx="101.6" cy="69.6" r="0.79"/><circle cx="98.8" cy="85.1" r="0.90"/><circle cx="99.0" cy="87.6" r="1.03"/><circle cx="99.9" cy="91.6" r="0.91"/><circle cx="103.1" cy="55.8" r="1.02"/><circle cx="103.2" cy="62.1" r="0.97"/><circle cx="103.3" cy="86.3" r="1.00"/><circle cx="102.8" cy="88.4" r="0.78"/><circle cx="106.4" cy="18.0" r="0.88"/><circle cx="108.5" cy="22.0" r="0.78"/><circle cx="108.8" cy="112.4" r="0.86"/><circle cx="111.2" cy="18.5" r="0.84"/><circle cx="111.4" cy="20.2" r="0.98"/><circle cx="110.9" cy="29.6" r="0.93"/><circle cx="112.6" cy="41.2" r="0.90"/><circle cx="111.8" cy="75.1" r="0.93"/><circle cx="110.6" cy="85.3" r="0.76"/><circle cx="112.7" cy="104.7" r="1.04"/><circle cx="112.1" cy="108.4" r="1.04"/></g>
<g fill="#c81e1e"><circle cx="3.2" cy="33.2" r="0.79"/><circle cx="1.4" cy="92.8" r="0.82"/><circle cx="1.0" cy="112.6" r="1.01"/><circle cx="6.6" cy="39.0" r="0.96"/><circle cx="4.4" cy="43.1" r="0.85"/><circle cx="5.6" cy="46.5" r="0.92"/><circle cx="6.3" cy="67.5" r="0.94"/><circle cx="9.7" cy="25.7" r="0.79"/><circle cx="10.7" cy="66.7" r="0.77"/><circle cx="9.5" cy="72.6" r="0.91"/><circle cx="8.0" cy="104.5" r="0.97"/><circle cx="10.9" cy="109.3" r="0.76"/><circle cx="9.7" cy="112.4" r="1.04"/><circle cx="14.2" cy="31.1" r="0.90"/><circle cx="12.3" cy="47.5" r="0.96"/><circle cx="14.6" cy="51.0" r="0.79"/><circle cx="12.9" cy="67.2" r="1.04"/><circle cx="14.5" cy="71.1" r="0.90"/><circle cx="14.3" cy="79.0" r="0.96"/><circle cx="18.4" cy="13.6" r="0.76"/><circle cx="16.0" cy="42.3" r="0.92"/><circle cx="18.1" cy="46.0" r="0.99"/><circle cx="16.5" cy="107.5" r="0.78"/><circle cx="16.6" cy="112.1" r="0.77"/><circle cx="20.7" cy="5.6" r="0.86"/><circle cx="19.6" cy="79.0" r="0.95"/><circle cx="21.3" cy="81.2" r="0.99"/><circle cx="21.6" cy="84.6" r="0.91"/><circle cx="21.2" cy="92.3" r="1.02"/><circle cx="21.4" cy="102.9" r="0.84"/><circle cx="23.3" cy="22.0" r="0.92"/><circle cx="25.3" cy="55.4" r="0.85"/><circle cx="23.4" cy="71.4" r="0.99"/><circle cx="23.9" cy="73.6" r="0.99"/><circle cx="23.9" cy="92.8" r="0.87"/><circle cx="25.1" cy="113.1" r="0.97"/><circle cx="26.8" cy="0.9" r="0.75"/><circle cx="29.1" cy="25.3" r="0.96"/><circle cx="27.5" cy="99.8" r="1.02"/><circle cx="27.2" cy="107.0" r="0.87"/><circle cx="32.4" cy="21.6" r="1.04"/><circle cx="32.6" cy="39.9" r="0.79"/><circle cx="31.9" cy="43.3" r="0.87"/><circle cx="31.0" cy="75.1" r="0.81"/><circle cx="32.1" cy="84.7" r="0.77"/><circle cx="33.5" cy="89.8" r="1.03"/><circle cx="31.3" cy="92.4" r="0.87"/><circle cx="30.6" cy="104.3" r="0.92"/><circle cx="36.9" cy="31.6" r="0.84"/><circle cx="37.4" cy="43.2" r="0.87"/><circle cx="36.5" cy="62.8" r="0.96"/><circle cx="35.2" cy="74.7" r="0.78"/><circle cx="38.2" cy="1.3" r="0.95"/><circle cx="39.0" cy="23.3" r="0.88"/><circle cx="39.1" cy="44.3" r="0.93"/><circle cx="39.0" cy="46.2" r="0.83"/><circle cx="39.8" cy="102.8" r="0.77"/><circle cx="44.0" cy="27.4" r="0.99"/><circle cx="44.2" cy="60.1" r="0.78"/><circle cx="42.2" cy="80.7" r="0.97"/><circle cx="44.6" cy="89.0" r="0.93"/><circle cx="43.0" cy="98.0" r="0.80"/><circle cx="47.9" cy="0.6" r="1.00"/><circle cx="47.8" cy="17.2" r="0.90"/><circle cx="48.4" cy="25.6" r="0.88"/><circle cx="46.3" cy="37.5" r="0.93"/><circle cx="47.4" cy="38.3" r="0.94"/><circle cx="46.3" cy="54.6" r="0.98"/><circle cx="47.2" cy="59.6" r="0.83"/><circle cx="48.6" cy="75.0" r="1.03"/><circle cx="47.0" cy="81.7" r="0.75"/><circle cx="46.9" cy="93.1" r="0.83"/><circle cx="46.1" cy="96.9" r="1.04"/><circle cx="46.5" cy="99.4" r="0.89"/><circle cx="50.0" cy="44.8" r="0.92"/><circle cx="51.8" cy="108.2" r="0.97"/><circle cx="54.0" cy="65.7" r="0.97"/><circle cx="55.1" cy="90.6" r="1.01"/><circle cx="54.4" cy="92.0" r="0.93"/><circle cx="58.3" cy="47.5" r="0.86"/><circle cx="58.2" cy="51.8" r="0.91"/><circle cx="57.5" cy="67.3" r="1.01"/><circle cx="59.7" cy="80.9" r="0.97"/><circle cx="58.4" cy="104.7" r="0.80"/><circle cx="57.2" cy="111.7" r="1.02"/><circle cx="63.7" cy="40.2" r="0.94"/><circle cx="61.0" cy="53.4" r="0.87"/><circle cx="67.5" cy="35.6" r="0.96"/><circle cx="65.7" cy="38.6" r="0.94"/><circle cx="64.6" cy="72.9" r="0.88"/><circle cx="66.1" cy="95.6" r="0.92"/><circle cx="65.2" cy="103.9" r="0.89"/><circle cx="67.4" cy="108.4" r="0.86"/><circle cx="69.4" cy="4.9" r="0.95"/><circle cx="68.4" cy="99.3" r="0.92"/><circle cx="74.4" cy="20.0" r="1.01"/><circle cx="75.1" cy="33.2" r="0.97"/><circle cx="74.9" cy="34.7" r="0.96"/><circle cx="74.9" cy="82.6" r="0.85"/><circle cx="73.1" cy="95.4" r="0.88"/><circle cx="74.5" cy="109.3" r="0.76"/><circle cx="76.8" cy="8.9" r="0.94"/><circle cx="78.4" cy="30.7" r="0.84"/><circle cx="78.1" cy="59.9" r="0.83"/><circle cx="77.9" cy="96.3" r="0.97"/><circle cx="81.0" cy="2.2" r="0.80"/><circle cx="79.8" cy="14.5" r="0.89"/><circle cx="79.8" cy="35.4" r="0.81"/><circle cx="82.2" cy="67.5" r="0.85"/><circle cx="79.9" cy="76.6" r="1.03"/><circle cx="81.9" cy="82.7" r="1.00"/><circle cx="81.9" cy="88.6" r="0.79"/><circle cx="80.7" cy="104.7" r="0.84"/><circle cx="84.5" cy="62.1" r="0.99"/><circle cx="84.5" cy="69.4" r="0.89"/><circle cx="86.3" cy="91.6" r="1.00"/><circle cx="83.6" cy="97.6" r="1.02"/><circle cx="89.7" cy="1.7" r="0.97"/><circle cx="87.8" cy="35.8" r="0.86"/><circle cx="90.1" cy="44.1" r="0.77"/><circle cx="88.2" cy="59.7" r="0.99"/><circle cx="88.3" cy="80.5" r="0.76"/><circle cx="90.2" cy="87.8" r="0.85"/><circle cx="89.9" cy="93.7" r="0.94"/><circle cx="93.4" cy="16.9" r="0.96"/><circle cx="93.3" cy="55.5" r="0.97"/><circle cx="93.5" cy="71.5" r="0.96"/><circle cx="92.5" cy="95.7" r="0.91"/><circle cx="93.7" cy="103.1" r="1.01"/><circle cx="96.3" cy="20.6" r="0.93"/><circle cx="97.5" cy="51.3" r="0.97"/><circle cx="97.6" cy="111.6" r="0.96"/><circle cx="99.7" cy="7.1" r="0.86"/><circle cx="99.8" cy="29.1" r="0.83"/><circle cx="99.8" cy="52.6" r="0.76"/><circle cx="101.1" cy="53.9" r="0.78"/><circle cx="99.6" cy="73.7" r="0.98"/><circle cx="100.5" cy="101.4" r="0.84"/><circle cx="104.6" cy="10.7" r="0.81"/><circle cx="103.2" cy="23.4" r="1.03"/><circle cx="105.1" cy="28.3" r="0.91"/><circle cx="105.1" cy="67.7" r="0.85"/><circle cx="103.8" cy="92.7" r="0.97"/><circle cx="104.8" cy="109.5" r="0.86"/><circle cx="105.2" cy="112.8" r="1.00"/><circle cx="106.5" cy="5.2" r="1.01"/><circle cx="106.7" cy="60.0" r="0.88"/><circle cx="108.2" cy="71.2" r="0.80"/><circle cx="109.0" cy="82.8" r="0.82"/><circle cx="111.3" cy="1.9" r="0.99"/><circle cx="111.1" cy="88.3" r="1.04"/><circle cx="110.2" cy="95.3" r="0.89"/><circle cx="110.1" cy="111.3" r="0.92"/></g>
<g fill="#f0a0a0"><circle cx="0.6" cy="14.0" r="0.89"/><circle cx="3.0" cy="36.3" r="0.91"/><circle cx="2.5" cy="59.1" r="0.95"/><circle cx="3.3" cy="63.5" r="0.77"/><circle cx="2.1" cy="69.3" r="1.00"/><circle cx="2.7" cy="74.0" r="1.01"/><circle cx="3.2" cy="107.7" r="0.82"/><circle cx="5.4" cy="36.0" r="0.83"/><circle cx="4.3" cy="55.2" r="0.99"/><circle cx="8.3" cy="16.9" r="1.01"/><circle cx="9.3" cy="20.9" r="0.95"/><circle cx="10.0" cy="27.7" r="0.97"/><circle cx="10.9" cy="40.3" r="0.89"/><circle cx="12.0" cy="105.1" r="0.79"/><circle cx="16.7" cy="19.4" r="0.80"/><circle cx="17.2" cy="29.6" r="0.97"/><circle cx="16.1" cy="38.7" r="0.77"/><circle cx="16.1" cy="50.9" r="0.97"/><circle cx="17.5" cy="80.6" r="0.85"/><circle cx="16.6" cy="100.2" r="0.86"/><circle cx="20.2" cy="12.2" r="0.94"/><circle cx="22.2" cy="39.4" r="1.00"/><circle cx="22.2" cy="67.2" r="0.79"/><circle cx="25.0" cy="6.8" r="1.04"/><circle cx="25.5" cy="29.0" r="0.92"/><circle cx="23.5" cy="33.1" r="0.82"/><circle cx="25.8" cy="61.7" r="0.89"/><circle cx="25.7" cy="86.0" r="0.96"/><circle cx="23.1" cy="88.8" r="0.86"/><circle cx="28.9" cy="9.8" r="0.76"/><circle cx="29.8" cy="19.4" r="0.89"/><circle cx="29.1" cy="42.7" r="0.85"/><circle cx="29.4" cy="53.8" r="0.75"/><circle cx="29.2" cy="78.8" r="0.97"/><circle cx="27.4" cy="112.0" r="0.83"/><circle cx="33.3" cy="28.3" r="0.79"/><circle cx="32.8" cy="77.0" r="1.04"/><circle cx="33.5" cy="95.7" r="0.75"/><circle cx="35.6" cy="14.8" r="0.94"/><circle cx="35.1" cy="25.1" r="1.04"/><circle cx="35.3" cy="70.8" r="0.80"/><circle cx="36.5" cy="81.7" r="0.94"/><circle cx="35.0" cy="104.5" r="0.81"/><circle cx="36.8" cy="112.7" r="1.05"/><circle cx="39.0" cy="6.0" r="0.92"/><circle cx="39.9" cy="15.6" r="0.93"/><circle cx="38.9" cy="28.0" r="0.81"/><circle cx="39.8" cy="41.1" r="0.97"/><circle cx="40.4" cy="61.6" r="0.89"/><circle cx="40.4" cy="74.0" r="0.98"/><circle cx="38.7" cy="80.1" r="0.85"/><circle cx="43.3" cy="7.0" r="0.77"/><circle cx="44.3" cy="47.8" r="0.91"/><circle cx="42.8" cy="110.6" r="0.91"/><circle cx="46.3" cy="5.5" r="0.92"/><circle cx="47.8" cy="8.8" r="0.79"/><circle cx="47.4" cy="14.6" r="1.05"/><circle cx="46.1" cy="19.4" r="1.04"/><circle cx="48.3" cy="28.8" r="0.97"/><circle cx="46.3" cy="48.8" r="0.94"/><circle cx="45.7" cy="51.7" r="0.86"/><circle cx="48.5" cy="89.9" r="0.91"/><circle cx="47.4" cy="110.7" r="0.86"/><circle cx="52.3" cy="7.1" r="0.85"/><circle cx="49.6" cy="16.2" r="0.93"/><circle cx="52.0" cy="21.7" r="0.92"/><circle cx="50.8" cy="47.4" r="0.84"/><circle cx="52.1" cy="56.3" r="1.04"/><circle cx="49.5" cy="65.6" r="1.04"/><circle cx="51.8" cy="77.0" r="0.82"/><circle cx="50.5" cy="91.6" r="0.99"/><circle cx="50.1" cy="97.5" r="0.95"/><circle cx="50.2" cy="112.6" r="1.05"/><circle cx="55.2" cy="6.1" r="0.78"/><circle cx="55.4" cy="11.0" r="0.87"/><circle cx="55.3" cy="13.7" r="0.87"/><circle cx="53.8" cy="31.2" r="1.01"/><circle cx="54.8" cy="85.2" r="1.00"/><circle cx="55.6" cy="112.4" r="0.82"/><circle cx="57.6" cy="13.6" r="0.96"/><circle cx="58.3" cy="41.2" r="0.89"/><circle cx="59.3" cy="70.5" r="0.87"/><circle cx="58.1" cy="100.8" r="0.92"/><circle cx="61.5" cy="34.6" r="1.04"/><circle cx="63.4" cy="59.4" r="0.82"/><circle cx="62.9" cy="69.9" r="0.84"/><circle cx="60.8" cy="78.4" r="0.78"/><circle cx="61.8" cy="96.0" r="0.94"/><circle cx="61.7" cy="103.8" r="0.78"/><circle cx="63.1" cy="109.2" r="0.83"/><circle cx="63.4" cy="113.1" r="0.88"/><circle cx="65.7" cy="4.9" r="0.77"/><circle cx="66.0" cy="21.3" r="0.92"/><circle cx="64.7" cy="23.7" r="0.79"/><circle cx="65.4" cy="32.6" r="0.87"/><circle cx="69.5" cy="54.9" r="0.76"/><circle cx="69.2" cy="65.3" r="0.76"/><circle cx="69.5" cy="96.8" r="0.79"/><circle cx="74.7" cy="49.7" r="1.02"/><circle cx="73.8" cy="61.4" r="0.78"/><circle cx="72.3" cy="64.9" r="1.03"/><circle cx="72.5" cy="87.7" r="0.83"/><circle cx="76.5" cy="2.2" r="0.77"/><circle cx="76.7" cy="6.7" r="0.87"/><circle cx="77.1" cy="55.1" r="0.85"/><circle cx="77.5" cy="73.4" r="0.90"/><circle cx="79.8" cy="33.1" r="1.02"/><circle cx="81.2" cy="50.8" r="0.94"/><circle cx="81.2" cy="74.4" r="0.77"/><circle cx="79.7" cy="97.4" r="0.80"/><circle cx="86.2" cy="25.8" r="0.92"/><circle cx="84.4" cy="72.9" r="0.99"/><circle cx="84.1" cy="89.2" r="1.04"/><circle cx="89.4" cy="49.7" r="0.84"/><circle cx="88.8" cy="79.0" r="1.03"/><circle cx="89.7" cy="103.5" r="1.04"/><circle cx="89.4" cy="109.0" r="0.78"/><circle cx="92.6" cy="22.3" r="0.86"/><circle cx="93.6" cy="42.9" r="1.02"/><circle cx="92.1" cy="47.3" r="0.79"/><circle cx="93.3" cy="74.1" r="0.85"/><circle cx="91.7" cy="78.2" r="0.97"/><circle cx="92.7" cy="82.9" r="0.85"/><circle cx="97.8" cy="4.6" r="0.75"/><circle cx="95.0" cy="9.4" r="1.03"/><circle cx="96.2" cy="28.9" r="0.91"/><circle cx="96.3" cy="56.4" r="0.77"/><circle cx="99.1" cy="47.9" r="0.95"/><circle cx="98.6" cy="98.0" r="0.92"/><circle cx="102.4" cy="32.6" r="0.95"/><circle cx="105.0" cy="37.4" r="0.78"/><circle cx="105.1" cy="50.2" r="1.03"/><circle cx="102.4" cy="77.6" r="0.77"/><circle cx="102.5" cy="97.7" r="0.82"/><circle cx="105.3" cy="104.0" r="0.88"/><circle cx="106.3" cy="76.6" r="0.77"/><circle cx="108.8" cy="86.7" r="0.79"/><circle cx="108.1" cy="94.1" r="1.04"/><circle cx="109.0" cy="103.7" r="1.02"/><circle cx="111.0" cy="6.6" r="0.95"/><circle cx="110.9" cy="14.6" r="0.84"/><circle cx="112.4" cy="47.6" r="0.96"/></g>
<g fill="#dc3c3c"><circle cx="0.7" cy="4.2" r="0.76"/><circle cx="3.0" cy="27.5" r="1.02"/><circle cx="2.4" cy="43.7" r="0.96"/><circle cx="2.6" cy="78.4" r="0.95"/><circle cx="1.9" cy="95.5" r="0.82"/><circle cx="5.8" cy="1.2" r="0.82"/><circle cx="4.7" cy="21.7" r="0.85"/><circle cx="4.8" cy="71.1" r="1.00"/><circle cx="5.9" cy="83.9" r="0.84"/><circle cx="6.1" cy="91.4" r="0.90"/><circle cx="4.5" cy="99.5" r="1.02"/><circle cx="5.8" cy="106.9" r="0.98"/><circle cx="8.7" cy="2.0" r="0.78"/><circle cx="9.2" cy="37.4" r="1.03"/><circle cx="10.6" cy="52.3" r="1.02"/><circle cx="9.6" cy="92.9" r="1.02"/><circle cx="14.0" cy="2.6" r="0.77"/><circle cx="14.3" cy="55.7" r="0.87"/><circle cx="17.2" cy="25.0" r="0.93"/><circle cx="16.0" cy="55.4" r="0.96"/><circle cx="17.5" cy="63.4" r="0.97"/><circle cx="18.3" cy="73.8" r="0.95"/><circle cx="16.4" cy="97.6" r="0.97"/><circle cx="22.2" cy="21.6" r="0.80"/><circle cx="19.4" cy="25.5" r="0.79"/><circle cx="22.2" cy="27.7" r="0.84"/><circle cx="20.7" cy="33.3" r="0.88"/><circle cx="20.3" cy="50.6" r="0.91"/><circle cx="20.2" cy="63.2" r="0.86"/><circle cx="21.8" cy="74.2" r="0.90"/><circle cx="22.2" cy="90.0" r="0.90"/><circle cx="21.3" cy="100.0" r="0.97"/><circle cx="19.6" cy="112.1" r="0.77"/><circle cx="24.4" cy="16.7" r="0.86"/><circle cx="24.8" cy="45.0" r="1.01"/><circle cx="24.4" cy="48.1" r="0.84"/><circle cx="25.2" cy="59.6" r="1.02"/><circle cx="28.8" cy="34.9" r="0.76"/><circle cx="26.9" cy="74.2" r="0.88"/><circle cx="29.4" cy="88.3" r="0.76"/><circle cx="27.7" cy="97.2" r="0.98"/><circle cx="31.4" cy="6.0" r="0.96"/><circle cx="32.6" cy="17.5" r="0.78"/><circle cx="32.9" cy="23.3" r="0.83"/><circle cx="33.1" cy="82.2" r="0.91"/><circle cx="36.6" cy="27.8" r="0.83"/><circle cx="36.8" cy="36.1" r="0.80"/><circle cx="34.9" cy="57.8" r="1.03"/><circle cx="35.9" cy="90.4" r="1.00"/><circle cx="39.0" cy="70.6" r="0.79"/><circle cx="40.5" cy="88.9" r="0.86"/><circle cx="39.6" cy="91.7" r="0.89"/><circle cx="43.0" cy="14.5" r="0.87"/><circle cx="42.3" cy="17.3" r="0.98"/><circle cx="43.1" cy="40.0" r="0.90"/><circle cx="43.7" cy="72.4" r="0.77"/><circle cx="42.1" cy="79.2" r="1.03"/><circle cx="45.8" cy="63.0" r="0.93"/><circle cx="47.2" cy="69.0" r="1.02"/><circle cx="52.1" cy="24.8" r="0.95"/><circle cx="50.7" cy="33.4" r="1.01"/><circle cx="50.5" cy="51.6" r="0.94"/><circle cx="51.8" cy="62.0" r="1.04"/><circle cx="50.3" cy="86.0" r="0.99"/><circle cx="54.9" cy="21.5" r="0.78"/><circle cx="55.7" cy="69.0" r="0.85"/><circle cx="57.2" cy="1.7" r="0.92"/><circle cx="59.0" cy="8.8" r="0.89"/><circle cx="58.1" cy="24.2" r="0.96"/><circle cx="59.0" cy="32.1" r="0.84"/><circle cx="59.2" cy="36.7" r="1.00"/><circle cx="58.5" cy="44.6" r="0.78"/><circle cx="58.6" cy="61.6" r="0.93"/><circle cx="57.1" cy="84.2" r="0.83"/><circle cx="59.3" cy="93.4" r="1.04"/><circle cx="62.7" cy="24.9" r="1.02"/><circle cx="62.8" cy="47.6" r="0.95"/><circle cx="63.4" cy="49.7" r="1.01"/><circle cx="62.7" cy="81.0" r="0.77"/><circle cx="62.3" cy="92.0" r="0.82"/><circle cx="67.6" cy="43.8" r="0.79"/><circle cx="66.6" cy="46.9" r="1.03"/><circle cx="65.3" cy="71.0" r="0.84"/><circle cx="66.8" cy="84.0" r="0.81"/><circle cx="67.2" cy="99.7" r="0.94"/><circle cx="69.1" cy="11.9" r="0.79"/><circle cx="69.3" cy="26.2" r="1.05"/><circle cx="69.3" cy="35.5" r="0.78"/><circle cx="69.6" cy="92.9" r="0.86"/><circle cx="74.6" cy="1.1" r="0.88"/><circle cx="74.4" cy="4.8" r="1.00"/><circle cx="73.0" cy="54.6" r="0.91"/><circle cx="73.1" cy="70.5" r="0.81"/><circle cx="76.6" cy="36.5" r="0.99"/><circle cx="77.8" cy="48.3" r="0.83"/><circle cx="78.4" cy="77.3" r="0.77"/><circle cx="76.9" cy="93.8" r="0.89"/><circle cx="78.2" cy="108.1" r="0.88"/><circle cx="80.3" cy="5.2" r="1.03"/><circle cx="81.2" cy="16.0" r="0.92"/><circle cx="82.5" cy="22.0" r="1.05"/><circle cx="80.9" cy="57.3" r="0.87"/><circle cx="82.5" cy="68.9" r="0.82"/><circle cx="82.3" cy="100.3" r="0.85"/><circle cx="85.0" cy="1.9" r="0.81"/><circle cx="85.9" cy="4.4" r="1.00"/><circle cx="85.7" cy="13.2" r="0.91"/><circle cx="84.5" cy="18.4" r="0.94"/><circle cx="86.2" cy="42.8" r="1.04"/><circle cx="86.2" cy="58.4" r="0.95"/><circle cx="88.5" cy="13.5" r="0.89"/><circle cx="93.7" cy="9.4" r="0.80"/><circle cx="93.6" cy="14.5" r="0.93"/><circle cx="92.2" cy="25.3" r="0.89"/><circle cx="92.5" cy="29.4" r="0.86"/><circle cx="92.9" cy="30.8" r="0.98"/><circle cx="93.4" cy="40.7" r="1.02"/><circle cx="92.6" cy="61.3" r="0.76"/><circle cx="93.3" cy="89.3" r="0.85"/><circle cx="93.9" cy="91.6" r="0.78"/><circle cx="94.0" cy="107.1" r="0.76"/><circle cx="95.8" cy="1.2" r="0.93"/><circle cx="95.4" cy="13.1" r="0.91"/><circle cx="96.9" cy="33.4" r="0.82"/><circle cx="97.1" cy="46.7" r="0.76"/><circle cx="97.1" cy="69.3" r="1.02"/><circle cx="99.6" cy="22.2" r="1.04"/><circle cx="101.1" cy="24.6" r="0.81"/><circle cx="98.6" cy="31.0" r="0.75"/><circle cx="102.6" cy="21.5" r="0.77"/><circle cx="102.5" cy="40.4" r="0.80"/><circle cx="104.0" cy="43.0" r="0.80"/><circle cx="103.9" cy="71.2" r="0.92"/><circle cx="103.5" cy="80.1" r="0.75"/><circle cx="105.0" cy="101.3" r="0.99"/><circle cx="106.2" cy="13.4" r="0.78"/><circle cx="106.2" cy="37.4" r="0.99"/><circle cx="107.4" cy="54.3" r="0.83"/><circle cx="108.1" cy="64.0" r="0.81"/><circle cx="108.9" cy="89.6" r="0.75"/><circle cx="106.6" cy="100.6" r="0.85"/><circle cx="111.6" cy="8.1" r="0.99"/><circle cx="110.6" cy="23.6" r="1.02"/><circle cx="111.3" cy="32.3" r="0.99"/><circle cx="111.5" cy="44.2" r="0.79"/><circle cx="111.5" cy="50.3" r="0.94"/><circle cx="111.7" cy="53.9" r="0.93"/></g>
<g fill="#d03030"><circle cx="56.6" cy="75.3" r="0.9"/><circle cx="58.5" cy="78.0" r="0.9"/><circle cx="55.8" cy="79.9" r="0.9"/><circle cx="58.4" cy="47.2" r="0.9"/><circle cx="61.6" cy="47.6" r="0.9"/><circle cx="61.2" cy="50.9" r="0.9"/><circle cx="94.6" cy="20.0" r="0.9"/><circle cx="97.3" cy="18.1" r="0.9"/><circle cx="99.1" cy="20.8" r="0.9"/><circle cx="18.7" cy="24.9" r="0.9"/><circle cx="16.9" cy="22.2" r="0.9"/><circle cx="19.6" cy="20.4" r="0.9"/><circle cx="80.8" cy="27.0" r="0.9"/><circle cx="77.6" cy="27.8" r="0.9"/><circle cx="76.8" cy="24.7" r="0.9"/><circle cx="58.1" cy="50.1" r="0.9"/><circle cx="60.0" cy="47.4" r="0.9"/><circle cx="62.6" cy="49.4" r="0.9"/><circle cx="16.1" cy="30.0" r="0.9"/><circle cx="14.2" cy="32.7" r="0.9"/><circle cx="11.5" cy="30.9" r="0.9"/><circle cx="10.3" cy="55.7" r="0.9"/><circle cx="7.0" cy="55.9" r="0.9"/><circle cx="6.8" cy="52.6" r="0.9"/></g>
<g fill="#d8c838"><circle cx="56.2" cy="77.6" r="1.3"/><circle cx="59.8" cy="49.0" r="1.3"/><circle cx="96.9" cy="20.4" r="1.3"/><circle cx="19.1" cy="22.7" r="1.3"/><circle cx="78.8" cy="25.8" r="1.3"/><circle cx="60.3" cy="49.7" r="1.3"/><circle cx="13.8" cy="30.5" r="1.3"/><circle cx="8.6" cy="54.1" r="1.3"/></g>
<g fill="#2c48e0"><circle cx="53.7" cy="77.1" r="1.2"/><circle cx="57.8" cy="50.6" r="1.2"/><circle cx="96.4" cy="22.9" r="1.2"/><circle cx="21.7" cy="23.2" r="1.2"/><circle cx="80.1" cy="23.6" r="1.2"/><circle cx="60.7" cy="52.3" r="1.2"/><circle cx="13.3" cy="27.9" r="1.2"/><circle cx="10.3" cy="52.2" r="1.2"/></g>
<g fill="#a890e8"><circle cx="13.4" cy="49.2" r="0.8"/><circle cx="53.1" cy="50.3" r="0.8"/><circle cx="68.7" cy="64.4" r="0.8"/><circle cx="15.2" cy="53.4" r="0.8"/><circle cx="7.0" cy="78.2" r="0.8"/><circle cx="49.7" cy="14.6" r="0.8"/><circle cx="38.6" cy="100.0" r="0.8"/><circle cx="49.6" cy="87.0" r="0.8"/></g>
</svg>
<rect x="554.3" y="472.3" width="113.3" height="113.7" fill="none" stroke="#707070" stroke-width="0.9"/>
<line x1="554.3" y1="472.3" x2="565.3" y2="483.3" stroke="#8a8a8a" stroke-width="0.7"/>
<line x1="667.5999999999999" y1="472.3" x2="656.5999999999999" y2="483.3" stroke="#8a8a8a" stroke-width="0.7"/>
<line x1="554.3" y1="586.0" x2="565.3" y2="575.0" stroke="#8a8a8a" stroke-width="0.7"/>
<line x1="667.5999999999999" y1="586.0" x2="656.5999999999999" y2="575.0" stroke="#8a8a8a" stroke-width="0.7"/>
<text x="396.6" y="463.2" font-size="9.9" fill="#222">NH<tspan dy="2.4" font-size="6.2">2</tspan><tspan dy="-2.4"> in SS</tspan></text>
<text x="574.2" y="460.7" font-size="9.9" fill="#222">NH<tspan dy="2.4" font-size="6.2">2</tspan><tspan dy="-2.4">&#160; in clusters</tspan></text>
<line x1="487.5" y1="528.3" x2="541" y2="528.3" stroke="#111" stroke-width="1.6"/>
<path d="M539.5,523.8 L549,528.3 L539.5,532.8 Z" fill="#111"/>
<text x="488.6" y="523.4" font-size="9.1" fill="#222" text-anchor="start" >Binding water</text>
<text x="497.6" y="539.5" font-size="9.1" fill="#222" text-anchor="start" >molecules</text>
<line x1="490.5" y1="551.3" x2="501.5" y2="551.3" stroke="#a8e4f4" stroke-width="0.9" stroke-dasharray="1.2,0.8"/>
<text x="505.4" y="553.6" font-size="9.1" fill="#222" text-anchor="start" >H bond</text>
<circle cx="491.8" cy="561.8" r="1.5" fill="#eeeeee" stroke="#8a8a8a" stroke-width="0.5"/>
<circle cx="498.2" cy="561.8" r="1.5" fill="#eeeeee" stroke="#8a8a8a" stroke-width="0.5"/>
<circle cx="495" cy="564.4" r="2" fill="url(#gO)"/>
<text x="505.4" y="566.5" font-size="9.1" fill="#222" text-anchor="start" >Water</text>
</svg></body></html>
